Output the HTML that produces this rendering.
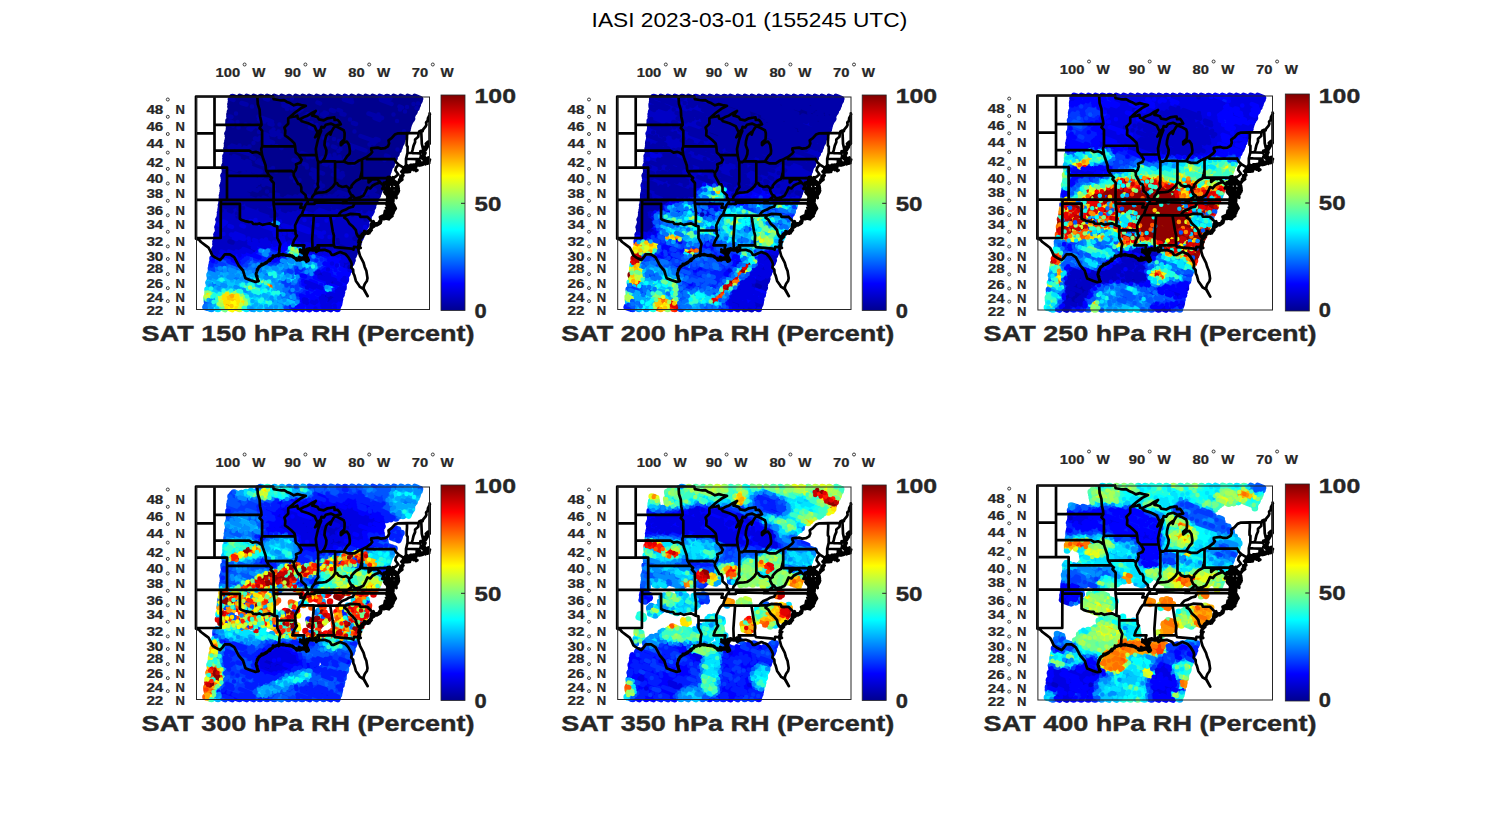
<!DOCTYPE html>
<html><head><meta charset="utf-8"><title>IASI RH</title>
<style>html,body{margin:0;padding:0;background:#fff;}svg{display:block;}text{font-family:"Liberation Sans",sans-serif;}</style></head>
<body>
<svg width="1500" height="825" viewBox="0 0 1500 825">
<defs>
<linearGradient id="jet" x1="0" y1="1" x2="0" y2="0"><stop offset="0" stop-color="#00008f"/><stop offset="0.125" stop-color="#0000ff"/><stop offset="0.375" stop-color="#00ffff"/><stop offset="0.625" stop-color="#ffff00"/><stop offset="0.875" stop-color="#ff0000"/><stop offset="1" stop-color="#800000"/></linearGradient>
<path id="map" d="M0.0 0.0L0.0 142.2M0.0 0.0L74.3 0.0L77.1 0.0M18.5 0.0L18.5 71.1M0.0 36.8L18.5 36.8M18.5 28.4L65.5 28.4M18.5 54.2L53.3 54.2L56.4 56.1L60.2 55.4L62.7 56.3L64.6 57.7L66.1 58.6M0.0 71.1L31.0 71.1M31.0 71.1L31.0 103.4M31.0 79.4L73.4 79.4M0.0 103.4L77.6 103.4M77.6 103.4L194.4 103.4M25.1 103.4L24.8 107.3L24.7 141.5M24.8 107.3L43.9 107.3M43.9 107.3L43.9 122.3M0.0 141.5L24.7 141.5M43.9 122.3L45.8 123.5L48.9 124.6L52.7 125.4L55.8 125.5L57.1 127.3L61.4 127.6L63.3 126.9L66.5 128.4L70.2 127.5L74.0 126.9L78.5 129.2L81.3 129.9M81.3 129.9L81.3 141.5L82.8 144.4L84.3 147.5L83.4 151.7L83.3 155.4L82.5 158.3M77.6 103.4L77.6 107.3L78.8 115.8L78.5 129.2M81.3 133.9L99.3 134.0M77.6 107.3L105.6 107.3L104.3 111.2L108.5 111.2M112.0 103.4L111.6 105.7L110.4 107.3L109.4 108.5L108.5 111.2L106.9 114.7L106.0 117.8L104.7 118.9L102.8 121.2L100.9 125.0L99.1 128.8L99.3 134.0L99.7 137.8L100.9 139.2L97.8 144.4L96.4 148.8M96.4 148.8L108.3 148.8L107.5 151.4L109.1 154.8M110.4 107.3L118.7 107.3L118.7 105.9L146.2 106.5M146.2 106.5L158.8 106.6L195.2 106.9M104.7 118.9L117.9 118.9L134.2 119.1L142.2 119.0L149.9 118.9M158.8 106.6L156.8 110.3L153.0 111.2L149.9 113.1L146.1 114.5L143.9 116.6L142.2 119.0M149.9 118.9L154.6 117.4L162.7 117.8L163.5 118.1L164.3 120.3L171.4 120.4L178.4 127.5M149.9 118.9L148.3 121.2L151.1 123.1L153.3 126.9L157.1 130.3L159.9 133.7L160.5 137.0L162.1 140.0L163.6 141.2M134.2 119.1L136.8 135.0L137.9 139.2L137.6 144.8L137.9 148.8M137.9 148.8L138.8 150.6L155.5 152.1L157.4 153.2L158.0 150.3L162.0 150.9M121.6 148.8L137.9 148.8M121.6 148.8L122.9 151.4L122.1 154.1M117.9 118.9L116.2 142.2L116.6 153.6M112.0 103.4L109.7 101.0L109.7 98.7L105.3 94.7L105.3 90.7L104.1 87.9L102.2 87.5L100.0 83.4L97.8 79.4L97.7 76.2M97.7 76.2L99.7 73.6L100.6 70.3L100.0 67.8L104.4 66.1L105.6 63.2L102.5 58.5M102.5 58.5L99.7 55.9L99.1 49.9L98.4 46.9L95.3 43.8L92.2 41.2L89.0 39.0L89.3 34.1L88.4 31.0L92.2 27.2L92.2 21.9L93.4 21.0M102.5 58.5L120.4 58.6M66.1 49.9L99.1 49.9M70.4 74.6L95.7 74.4L97.7 76.2M66.1 58.6L66.8 61.0L68.3 65.3L69.6 69.0L69.9 72.8L70.4 74.6L73.4 79.4L75.9 81.4L74.6 83.0L77.7 86.5L77.6 103.4M66.1 58.6L65.2 52.5L66.1 49.9L66.1 34.1L63.6 31.5L65.5 28.4L65.2 25.1L64.0 19.7L63.6 13.2L61.8 7.6L61.3 0.0M112.0 103.4L115.7 102.8L116.3 100.2L118.8 97.1L122.3 96.1L126.7 95.9L129.8 95.5L133.6 93.1L137.0 89.9L139.1 86.7L141.1 86.7L142.6 89.1L146.4 90.5L150.5 89.7L153.1 92.1L155.5 90.7L155.5 89.1L158.3 85.9L160.2 84.2L164.0 82.2L165.2 77.7L166.0 74.1M122.1 65.2L122.1 84.7L121.6 87.5L122.3 90.7L119.8 93.9L118.8 97.1M139.1 65.3L139.1 86.7M126.5 64.8L139.1 64.8L139.1 65.3L147.7 65.0M166.0 62.9L166.0 81.6M166.0 81.6L195.7 81.6M156.9 99.2L154.9 98.1L153.0 94.3L153.1 92.1M156.9 99.2L152.4 103.0L146.2 106.5M156.9 99.2L158.8 101.8L161.6 101.4L164.0 100.8L167.4 99.2L169.6 95.1L171.5 90.9L174.3 91.9L176.4 89.3L179.6 87.5L182.9 86.4L183.6 84.9M172.6 81.6L172.6 85.9L175.1 83.7L176.8 82.6L179.0 83.0L180.6 82.2L183.4 85.1L185.0 86.7L187.8 89.1L186.2 92.3L187.8 92.3L188.7 93.5L192.4 95.1M195.7 81.6L196.3 91.8L200.3 91.9M195.7 81.6L196.9 80.7L198.1 81.0M197.2 82.6L198.1 81.0L200.0 79.8L202.2 77.7L199.4 74.0L200.0 71.1L202.5 68.1L200.3 66.1L198.4 62.7M198.4 62.7L170.8 62.7L170.8 60.5M202.5 68.1L207.5 71.1L206.8 73.6L205.3 75.2M209.0 71.1L208.8 70.3L210.0 68.6L210.0 62.3L211.5 56.4L211.6 49.9L210.7 49.1L210.7 45.6L211.0 41.2L211.0 36.7M202.2 36.8L211.0 36.7L222.6 36.7L223.2 35.0L225.2 34.1L226.7 34.6L227.0 33.2L229.5 30.1L230.4 28.3L230.1 26.0L231.7 24.2L232.0 21.5L233.9 17.8M233.6 16.9L233.6 47.3M225.2 34.1L225.5 40.3L225.8 47.3L227.0 52.5L227.6 53.6M222.6 36.7L222.3 40.3L219.1 43.0L219.1 45.6L217.6 49.1L216.6 53.4L216.0 55.5L216.6 56.5M211.5 56.4L216.6 56.5L223.8 56.8L224.5 56.4L226.3 55.3L226.8 55.3M210.0 62.3L214.4 62.5L220.7 62.6L223.3 62.6L223.3 63.6L224.5 65.4L224.9 66.9M220.7 62.6L220.7 67.8L220.3 68.4M77.1 0.0L77.7 2.7L82.5 3.5L85.3 3.8L88.1 3.6L90.9 5.4L94.0 6.6L97.8 8.8L101.6 7.6L105.3 8.5L109.8 9.4L104.1 12.3L99.1 16.0L95.3 19.2L93.4 21.0L99.1 20.0L101.3 19.2L101.9 22.0L104.0 22.7M104.0 22.7L107.8 20.6L111.6 19.2L116.0 16.4L119.8 14.4L117.9 16.9L116.3 19.2L117.9 19.4L121.6 20.6L122.9 22.9L127.9 23.8L131.7 21.8L136.7 21.0L138.3 20.9L138.6 23.5L141.7 23.3L143.6 25.6L144.8 27.9L142.3 28.3L139.5 29.2L134.8 27.1L129.8 28.3L127.9 31.0L125.4 30.4L124.8 32.8L121.6 35.9M121.6 35.9L120.4 33.7L118.5 29.7L114.1 27.6L112.2 26.7L105.8 24.8L104.0 22.7M121.6 35.9L119.1 40.8L122.3 38.1L125.1 34.4L123.5 38.6L122.0 43.0L121.0 47.3L119.8 52.5L120.4 58.6L121.6 64.0L122.1 65.2L124.8 65.7L126.5 64.8M126.5 64.8L128.5 61.9L130.1 57.7L130.4 53.8L128.5 48.6L128.8 44.7L130.1 39.5L131.4 37.7L134.2 35.5L134.5 38.1L135.7 34.6L137.9 31.0L139.5 29.8L143.0 31.2L147.7 33.7L148.6 36.4L148.6 39.0L148.3 43.0L144.8 46.0L144.8 48.6L148.0 46.0L150.8 45.0L153.0 48.2L153.9 54.2L153.6 57.2L151.1 59.8L149.5 62.3L147.7 65.0M147.7 65.0L152.4 66.9L156.8 66.9L158.6 66.9L163.0 64.0L166.0 62.9L168.7 61.5L170.8 60.5L174.9 57.2L176.2 55.5L175.2 53.4L175.2 51.9L181.8 51.1L185.0 52.1L188.7 51.7L191.9 49.9L193.1 46.9L192.5 43.8L195.6 41.7L198.8 38.1L202.2 36.8M0.0 142.2L3.1 143.3L5.0 145.5L8.8 148.4L12.5 151.2L14.4 154.6L16.3 159.0L19.4 161.1L24.1 163.5L26.3 161.1L28.8 157.8L33.9 157.8L38.2 160.7L40.8 165.4L42.6 169.0L47.0 174.0L48.3 178.2L49.5 181.7L54.5 183.8L59.6 185.4L61.8 184.8M61.8 184.8L60.8 180.3L60.2 177.5L61.4 173.3L62.7 171.1L66.5 167.9L69.0 166.5L73.4 164.0L76.5 161.1L77.1 159.7L79.0 159.3L82.5 158.3M62.7 184.5L61.2 182.5L61.2 179.6L59.9 177.8L60.4 175.8L62.0 172.9L62.6 170.5L64.0 169.3L65.2 169.2L65.6 167.3L69.0 167.4L70.6 165.8L72.1 164.6L73.0 163.3L74.1 162.2L76.7 161.6L77.0 159.0L78.5 159.8L80.9 159.1L82.5 158.3M62.3 184.8L61.6 182.1L60.5 180.1L59.9 177.7L60.7 175.1L61.1 172.9L62.4 171.2L63.8 170.1L65.4 168.8L66.6 168.6L69.4 167.1L71.0 166.1L71.7 165.0L74.1 164.2L74.8 162.9L77.0 161.1L77.6 160.2L79.4 159.9L80.7 158.7L82.5 158.3M82.5 158.3L86.5 157.8L90.3 159.1L93.4 159.0L95.3 159.7L98.4 161.5L100.9 162.9L104.1 162.6L106.6 161.9L110.4 163.7L112.2 163.3L110.4 160.8L109.1 158.3L110.4 156.1L109.1 154.8L111.0 153.9L113.5 153.2L116.6 153.6L118.5 153.9L119.1 151.4L119.8 153.2L120.7 154.3L122.1 154.1M82.7 159.5L84.5 157.9L87.0 158.7L88.1 158.1L89.5 158.8L94.1 159.7L96.1 159.2L97.9 160.3L98.2 161.5L100.2 161.7L103.9 163.8L106.5 162.2L108.9 162.8L110.4 162.6L111.5 164.4L111.0 161.0L108.2 157.8L111.2 156.4L109.4 155.2L110.7 152.5L113.7 151.8L116.4 153.8L118.2 153.3L119.9 151.0L119.3 152.6L120.3 155.5L122.1 154.1M82.4 159.0L85.1 158.5L86.9 157.5L88.1 158.0L90.6 158.8L93.8 158.4L95.1 159.3L96.8 160.4L98.9 161.7L100.7 163.8L104.5 163.5L106.5 162.8L108.2 162.7L111.1 164.4L112.7 163.5L110.8 160.2L110.0 158.1L110.8 155.2L109.0 154.6L111.3 153.8L113.8 153.5L116.7 153.6L119.5 153.8L118.4 151.9L120.3 152.6L120.4 153.9L122.1 154.1M102.8 161.9L105.3 162.2L107.2 161.1L110.4 163.7L112.2 163.3L110.4 160.8L109.1 158.3L110.4 156.1L108.2 155.4L106.0 153.6L104.1 155.4L106.0 156.1L107.8 155.7L109.1 154.8M103.6 162.2L107.0 162.8L109.0 161.2L109.2 163.2L111.9 164.7L111.5 164.3L111.2 160.0L110.0 159.3L112.5 154.3L109.2 154.7L107.3 155.7L104.1 152.9L104.7 155.4L105.7 155.1L109.1 154.8M102.9 160.3L104.8 161.5L108.4 160.9L109.1 162.9L110.6 165.2L112.6 164.0L111.7 161.2L108.3 158.6L110.7 155.3L108.1 155.3L104.3 153.4L105.0 155.2L106.5 156.8L108.4 157.5L109.1 154.8M122.1 154.1L124.1 153.7L128.5 153.3L132.3 154.6L133.9 155.4L135.7 158.4L137.9 158.3L141.7 156.5L144.2 155.5L146.7 156.5L149.4 157.5L152.2 160.6L154.9 165.1L155.7 167.6L155.2 171.1L157.1 173.2L157.4 176.8L158.4 178.8L159.9 184.4L162.4 188.0L164.0 190.4L167.5 192.5L171.7 199.7L167.5 191.8L168.0 189.4L168.9 187.2L170.9 184.5L171.5 181.6L170.4 174.6L168.7 170.4L167.5 166.2L164.0 159.3L162.7 154.6L162.0 150.9M162.0 150.9L163.0 146.6L164.0 142.9L164.9 140.7L167.4 138.5L171.2 135.5L173.7 132.9L174.6 131.8L176.2 129.1L178.4 127.5L182.1 127.6L183.1 125.0L186.8 122.0L190.9 122.0L194.4 118.5L197.3 117.1L197.7 114.3L196.9 111.2L195.2 106.9L194.4 104.2M164.7 151.4L162.4 148.7L165.0 145.3L162.8 145.6L162.7 144.1L166.8 140.2L165.7 137.7L167.5 136.2L169.2 137.5L168.3 134.5L173.4 136.7L174.3 133.2L174.7 130.9L175.3 127.0L177.5 124.8L179.1 128.6L180.1 126.9L182.2 126.8L185.2 124.6L183.9 120.5L187.0 119.0L188.5 122.6L191.1 120.6L190.7 119.6L192.1 120.8L194.3 121.2L196.5 119.5L194.3 117.5L198.2 114.3L199.8 111.9L197.4 107.1L193.2 107.5L194.4 104.2M163.4 151.7L163.9 148.0L162.4 145.8L162.6 145.4L163.6 142.1L164.2 139.3L165.1 139.7L167.0 138.4L169.9 136.3L172.0 137.2L174.1 135.4L175.7 133.5L174.4 132.4L178.3 129.8L177.4 128.0L180.9 128.9L184.0 127.0L184.8 126.2L184.1 123.6L186.1 122.6L187.7 122.5L189.1 122.0L192.8 122.8L193.7 121.7L192.0 118.7L193.5 118.0L194.3 116.8L197.3 116.4L198.9 112.8L197.6 112.2L195.2 110.6L196.8 106.9L194.4 104.2M190.6 120.8L191.2 118.9L189.4 118.9L191.9 116.6L194.4 116.2L190.6 115.1L195.0 114.3L195.9 112.0L194.4 111.2L190.0 111.2L193.7 110.0L195.0 108.9L194.4 107.3M187.2 120.1L190.0 122.0L187.8 120.4L189.0 114.3L192.6 113.7L194.7 115.2L192.9 112.8L190.2 115.7L190.7 113.0L194.2 114.6L197.9 110.5L192.2 112.0L191.4 110.2L192.3 112.1L192.4 108.0L190.5 108.3L196.0 109.4L194.4 107.3M190.3 120.5L190.9 118.6L191.6 119.1L192.0 117.8L191.8 117.0L193.3 113.9L192.2 115.1L191.4 112.4L193.4 115.4L193.4 113.3L197.2 112.0L193.6 111.7L191.5 109.6L191.7 111.7L191.0 112.6L192.1 110.5L196.9 107.4L194.4 107.3M194.4 104.2L192.5 103.4L191.2 101.8L192.5 101.0L192.5 99.1L190.0 97.9L192.8 96.3L192.4 95.1L191.9 93.1L191.2 91.5L191.2 88.3L191.5 85.9L193.7 83.4L194.4 83.0L193.7 84.2L193.4 87.5L192.5 89.9L194.1 93.9L195.0 95.5L196.6 95.9L194.7 99.1L194.4 101.0L194.7 102.5L196.9 99.1L199.1 95.3L200.3 91.9L200.0 89.1L198.1 85.1L197.2 82.6M196.9 101.1L193.4 105.2L192.0 106.7L194.1 100.5L193.8 97.5L189.0 97.2L188.6 94.1L190.3 95.5L192.4 97.4L188.2 95.5L195.7 94.1L190.8 88.4L188.0 86.2L195.4 86.9L191.7 80.6L193.8 80.4L191.9 81.9L191.3 85.5L190.9 84.6L189.2 86.6L193.0 87.5L191.3 95.5L191.6 96.4L193.9 97.4L198.1 99.6L193.3 96.4L191.6 96.6L197.7 99.0L197.3 105.1L191.7 100.2L194.9 95.4L200.5 101.5L200.0 97.3L202.3 96.0L202.9 94.1L200.8 89.2L195.0 86.4L197.4 83.9L197.2 82.6M193.0 104.9L190.9 105.7L192.2 100.4L191.5 100.7L192.5 101.9L190.8 98.9L191.9 98.4L193.1 97.4L191.1 97.2L189.9 94.1L191.8 90.6L192.2 88.7L192.5 90.4L193.4 87.5L191.3 85.6L191.1 82.5L196.2 85.2L194.5 85.4L190.4 86.0L195.7 86.9L189.7 91.0L194.9 93.2L196.6 94.1L195.5 92.4L196.5 98.0L195.7 97.9L192.7 99.2L192.6 102.7L191.6 102.1L195.1 100.8L198.0 101.3L201.3 97.7L199.7 96.5L201.7 93.5L202.7 92.4L202.2 89.3L199.4 88.5L196.1 84.0L197.2 82.6M197.2 82.6L198.1 84.2L200.6 85.9L201.6 87.9L204.4 84.2L206.3 81.4L206.6 78.5L206.9 75.7L205.3 75.2L206.8 73.6L208.5 72.4L212.6 71.5L215.7 71.3L217.6 69.9L216.3 71.5L220.1 70.5L216.9 72.2L213.2 73.4L209.4 74.6L206.9 74.6M194.6 84.4L198.3 84.1L199.8 88.4L200.5 88.4L201.2 86.9L206.3 83.1L204.3 80.8L204.5 79.4L206.9 79.0L207.5 79.1L206.6 78.0L207.4 74.1L209.3 71.8L210.7 69.3L211.2 68.7L215.4 73.0L219.6 71.3L214.6 73.0L218.8 72.1L221.4 73.7L219.9 74.5L217.2 71.3L214.2 74.1L213.9 75.4L213.1 73.5L210.7 71.9L206.9 74.6M195.4 83.1L198.5 86.1L201.8 86.2L200.4 88.2L202.9 85.1L203.3 82.9L204.2 83.2L205.9 81.7L206.5 77.4L208.2 73.9L207.3 76.5L208.8 74.8L207.8 72.6L212.3 73.7L211.5 72.2L217.2 72.1L215.3 69.9L217.5 73.5L218.2 70.5L219.4 70.9L217.4 71.3L216.7 72.2L213.6 71.0L212.0 71.6L212.0 75.7L210.1 75.6L206.9 74.6M209.0 71.1L211.9 69.9L213.8 69.0L216.9 68.9L220.3 68.4L222.6 68.0L222.9 67.4L223.5 64.8L223.2 67.4L224.9 66.9L225.7 66.9L227.9 65.3L227.9 66.7L230.1 65.9L232.3 65.5L232.3 64.4L231.7 62.7L230.7 62.1L232.0 62.7L232.0 64.6L228.9 64.6L228.5 63.2L227.6 61.0L225.7 59.8L226.3 59.4L228.2 57.2L226.8 55.3L227.6 53.6L228.5 51.7L230.7 48.6L232.6 47.3L233.6 46.9M210.2 73.3L211.9 69.7L215.4 70.3L216.1 68.6L217.2 68.2L222.0 68.9L221.5 66.7L221.8 65.7L223.3 64.5L221.6 65.2L223.9 69.0L226.2 67.3L228.2 65.9L227.7 64.7L228.9 63.7L233.2 66.5L230.5 65.1L233.4 63.0L230.5 63.0L234.0 63.0L231.8 67.2L229.5 64.8L227.5 62.6L226.8 62.4L224.5 60.6L227.2 61.5L229.5 56.4L224.3 54.9L227.9 53.9L229.4 54.1L231.7 50.2L229.8 47.2L231.9 45.1L233.6 46.9M209.3 72.5L213.3 70.4L214.4 68.3L216.1 68.4L219.1 68.0L220.4 67.1L221.8 68.5L222.6 67.5L223.6 65.7L223.0 69.0L225.1 68.7L227.3 67.9L227.8 64.7L229.5 67.8L229.3 66.4L233.5 64.9L233.2 63.0L232.3 61.0L231.0 61.8L232.0 63.3L231.3 64.1L228.9 64.4L229.8 61.9L228.1 59.5L224.8 58.7L225.4 59.2L227.6 58.7L227.0 54.8L229.2 53.3L228.2 52.7L228.2 50.3L231.2 50.0L232.8 48.1L233.6 46.9" fill="none" stroke="#000" stroke-width="2.7" stroke-linejoin="round" stroke-linecap="round"/>
</defs>
<rect width="1500" height="825" fill="#fff"/>
<text x="749.4" y="27.0" font-size="21.0" font-weight="normal" text-anchor="middle" fill="#000" textLength="315.6" lengthAdjust="spacingAndGlyphs">IASI 2023-03-01 (155245 UTC)</text>
<g transform="translate(196.0,96.5)">
<g fill="none" stroke-linecap="round" stroke-width="6.6"><path stroke="#c6ff39" d="M45 208h0m-31-9h0m-3.5 1.5l1.5 .5m31.5 11.5h0"/><path stroke="#55ffaa" d="M16 197.5h0m-5.5 5.5h0"/><path stroke="#ffff00" d="M37.5 208l2.5 .5m-2 2h0m-10-1h0m5.5 2l2.5 1"/><path stroke="#39ffc6" d="M52.5 208h0m-2 2h0m-27 0h0"/><path stroke="#00aaff" d="M13.5 178.5h0m2 3.5l3 1m63.5 25.5l2.5 1m-72-23.5l1.5 .5m63 23h0m8.5 3h0m-72.5-24h0m57 21h0m-10-1.5h0m5 2h0m-7.5 0h0m5.5 2h0m-10-1h0m4.5 1.5h0m-45-9h0m5.5 5h0m-2 1.5h0m-2 2h0"/><path stroke="#0000c6" d="M173 114l2.5 1m-4.5 1l3.5 1m-3 1.5l1.5 .5m-4 1.5l3.5 1m-1.5 2h0m-3.5 1.5l2.5 1m-2 1.5l2.5 1m-4.5 1h0m.5 2.5l1.5 .5m-3.5 1.5l3 1m-8.5 9.5l2.5 1m-2 2l2.5 1m-2 1.5l.5 .5m-2.5 1.5h0m-2.5 1.5h0m-130.5-42.5l2.5 1m-3 1.5h0m3.5 1.5h0m-4 1l2 .5m126.5 46h0m-128.5-44l2.5 1m126.5 46l2.5 1m-132-45.5l3.5 1m123.5 45l3.5 1.5m-131.5-45.5l2.5 1m-2 2l2.5 .5m-4 4l5 1.5m-4.5 1l2 1m-2 1.5l2.5 1m-4 1.5l4.5 1.5m-4.5 1l2.5 .5m-2 2l2.5 1m-4 1l4.5 1.5m-4.5 1l2.5 1m-2 1.5l2.5 1m-4 1.5l4.5 1.5m-4.5 1l2.5 .5m-3 1.5l3.5 1.5"/><path stroke="#00c6ff" d="M82.5 211.5h0m-4 1h0m-16-3.5h0m8 3h0m-10-1h0m3.5 1.5h0m-43-.5h0"/><path stroke="#0071ff" d="M15 179h0m79 29h0m-7 0h0m-70.5-20.5h0m.5 2.5h0m60.5 22h0m-64.5-5.5l2.5 1m-4.5 1h0m-1.5 2l1.5 .5"/><path stroke="#00ffff" d="M14 184l2 .5m56 23h0m-59-14h0m1.5 8.5h0m6 7.5h0m-2 1.5h0"/><path stroke="#001cff" d="M16.5 162h0m1 2.5l2.5 1m-4 1h0m-.5 2.5h0m93.5 39h0m.5 3h0m-15-.5h0"/><path stroke="#71ff8e" d="M45.5 210.5h0m-19.5 .5l3 1.5"/><path stroke="#1cffe3" d="M15 192h0m33 19.5h0"/><path stroke="#0055ff" d="M19.5 163h0m-1 7h0m.5 3h0m-4 1h0m86.5 34h0m-12 1l2.5 .5m-4.5 1h0m5 2h0m-81.5-7h0"/><path stroke="#ff8e00" d="M30 207.5l3 1"/><path stroke="#0000aa" d="M222 7h0m-4.5 .5h0m-25.5-6.5l2.5 1m26 9.5h0m-36.5-11l8.5 3m-7.5 0l5 2m-41-5l1 .5m5.5 2h0m-7.5 0l5 1.5m55 30.5h0m-112-33h0m-27 0l3 1m129.5 50h0m-165-52.5h0m-1.5 2l2.5 1m-4 16.5l2 .5m-1.5 4.5l2.5 1m-4 1l4.5 2m143 69.5l1.5 1m-1.5 2h0m-146.5-51h0m142.5 52h0m3.5 1h0m-3 1.5l1.5 .5m-146-50.5h0m142 52l3.5 1m-146.5-51h0m143.5 52.5l2.5 1m-147.5-51l3.5 1m139.5 51l3 1m-146-50.5l4 1.5m-4 1l4.5 1.5m-4 1l2 1m.5 2.5h0m-4 1h0m141 51.5h0m-136-47h0m-2 2h0m-4 1l4.5 1.5m-4 1l4.5 2m-4.5 .5l2 1m-2.5 1.5l3 1.5m134.5 48.5l1 .5m-139.5-48l2 .5m134 49l3 1m-138.5-48l2 1m131.5 47.5l4 1.5m-137.5-47.5l2.5 1m131.5 48l2 .5m-136.5-47l3.5 1m132.5 48.5h0m-136.5-47l4.5 1.5m-4.5 1l2.5 1m-3 1.5l3.5 1m131.5 48h0m-135-46.5l4 1m128.5 47l1 .5m-134-46.5l2 1m129 47l2.5 .5m-4.5 1l3.5 1.5m-132-45.5h0m129 47l1.5 .5m-1 2l1.5 .5m-3 6.5h0"/><path stroke="#00e3ff" d="M74.5 208.5h0m-7.5 0h0m5.5 2h0m-59.5-19.5h0m54.5 20h0m-56-18h0m4 1.5h0m39.5 14.5h0m-4.5 3.5h0m-28.5 0h0"/><path stroke="#ffc600" d="M35.5 209.5h0"/><path stroke="#0039ff" d="M18 167.5h0m-3 4l1.5 .5m.5 2.5h0m73 37h0"/><path stroke="#ffe300" d="M12 198.5h0m28.5 13h0m-10-1h0"/><path stroke="#0000ff" d="M149 171.5l2.5 1m-2 2l2.5 1m-2 1.5l1.5 .5m-3.5 1.5l2 1m-4 1h0m4 1.5h0m-3 3.5l1 .5m-.5 2.5h0m-2.5 1.5h0m-126-30.5h0m124.5 45.5h0m-3 1.5l2.5 1m-126-43.5h0m119 43.5h0m5 1.5l1 .5m-5.5 .5h0m5 2h0m-17.5-4h0m-7.5 0l7.5 2.5m-12.5-2l5.5 2m3.5 1.5h0m-16.5-3.5l3 1m5 2l1.5 .5m-14-2.5l7 2.5m-9-1l2 1"/><path stroke="#8eff71" d="M11.5 196l2 .5m34 12.5h0"/><path stroke="#e3ff1c" d="M43 209.5h0"/><path stroke="#aaff55" d="M23 207.5l2.5 1"/><path stroke="#008eff" d="M14.5 176.5l3 1m.5 2.5h0m79 29h0m-83-27.5h0m66 29h0m-65.5-21.5h0m60.5 22h0m-4 1.5h0m-15.5-.5h0m-40.5-7.5h0m-1.5 4.5h0m2 3.5h0"/><path stroke="#0000e3" d="M169 130.5h0m-18 39.5h0m2.5 3.5h0m-131-45.5l3.5 1.5m122.5 52h0m-2 2l3 1m-5 3.5h0m3 3.5h0m-4.5 1l3 1m-2.5 1.5l2.5 1m-2 2l1.5 .5m-3.5 1.5l2 .5m-4.5 1l4.5 1.5m-126-43h0m122 44.5h0m-1.5 4.5h0m-12.5-2.5l8 3m5 2h0m-12.5-2l8 3m-7 0h0m-8-.5h0"/><path stroke="#00008e" d="M219 .5l5 2m-12-2l11.5 4m-18.5-4l15 5.5m-22-5.5l12 4.5m10.5 3.5l1 .5m-30.5-8.5h0m6 2.5l5.5 1.5m15.5 6h0m-23-6h0m21 7.5l3 1.5m-42-13l5.5 2m34 12.5l2 .5m-48.5-15l13 4.5m31.5 11.5l2.5 1m-54-17l12.5 4.5m39.5 14.5l1 .5m-60-19.5l12 4.5m45 16.5l3 1m-63.5-20.5h0m5.5 2l2.5 1m53 19l1 .5m-72.5-24l3.5 1.5m65.5 24l2.5 .5m-78.5-26l11 4m63 23l3.5 1.5m-84.5-28.5l13 5m68.5 25l2.5 .5m-91-30.5l12.5 4.5m76.5 28l1.5 .5m-98-33l13 4.5m83 30.5h0m-102.5-35l12 4.5m86.5 31.5l3.5 1.5m-109-37.5l11.5 4.5m94.5 34.5l2.5 .5m-115.5-39.5h0m6 2.5l5 1.5m100 36.5l3 1m-121-41.5l13.5 5m105 38.5l1.5 .5m-127.5-44l16 6m108 39l3 1m-134-46l13 4.5m118.5 43.5l1 .5m-139.5-48.5l2 .5m8 3l2.5 1m124 45l2.5 1m-145.5-50.5l11.5 4.5m129 47h0m4 1.5h0m-151.5-53l11.5 4.5m136.5 49.5l2 1m-157-55l11 4m142 52l3.5 1m-161-56l10.5 4m147.5 53.5l1.5 .5m-159-55l3 1m152.5 55.5l3 1m-163.5-57l3 1m158 57.5l1.5 .5m-163-56.5l4 1.5m155 56.5l2.5 1m-161.5-56.5l4.5 1.5m152.5 55.5l4 1.5m-160.5-56l2 1m155 56.5l2 .5m-160-55.5l3.5 1m152.5 55.5l3 1.5m-159.5-55.5l4.5 1.5m152.5 55.5l2 .5m-154-53.5h0m150 54.5l3 1.5m-157.5-55l2 1m153 55.5l1.5 .5m-158-55h0m154 56l3 1m-2.5 2l1 .5m-155-54l2 .5m150 54.5l2.5 1m-154.5-53.5l2.5 1m147.5 53.5l4 1.5m-154.5-53.5l3.5 1m147.5 53.5l1.5 1m-153.5-53.5l2.5 1m147 53.5l3.5 1m-152.5-53l2.5 1m147 53.5l1.5 1m-151-52.5l3 1m144.5 52.5l3 1m-151-52.5l4 1.5m-4.5 1l2 1m145 52.5h0m-147-51h0m147.5 54h0m-148-51.5l3.5 1.5m-3.5 1h0m4 1.5h0m-2 2h0m-4 11l1.5 .5m.5 3l2.5 1m-4 1l2 .5m-2 2h0"/></g><g fill="none" stroke-linecap="round" stroke-width="4.5"><path stroke="#ff8e00" d="M33.5 198.5h0m5.5 5h0m-9 4l3 1"/><path stroke="#ff7100" d="M74 190.5l2.5 1"/><path stroke="#00ffff" d="M92 156h0m19.5 12.5h0m.5 2.5h0m-13.5 8h0m-20.5-5h0m-2 2h0m-4.5 .5h0m5 2h0m-6.5 5.5h0m-15-3l2.5 1m.5 2.5h0m10.5 4h0m6 4.5h0m-7.5 0h0m5 2l2.5 1m-46.5-14.5h0m15.5 5.5h0m21 7.5l5.5 2m5 2l3 1m-55-17.5h0m5.5 2h0m15.5 5.5h0m21 8h0m-51-13.5l2 .5m40 17.5h0m5.5 1.5h0m5 2l5.5 2m-18-4h0m10.5 4h0m-39-11.5h0m-12.5-2.5h0m5 2h0m1 5.5h0m-4.5 1h0m6 7.5h0m-2 1.5h0"/><path stroke="#ffff00" d="M43.5 199.5h0m1 5.5h0m-10-1l5 2m-12.5-2h0m8 3l5 1.5m-2 2h0m-10-1h0m5.5 2l2.5 1"/><path stroke="#71ff8e" d="M99.5 156.5h0m-2 1.5h0m-29.5 27.5h0m-8.5 7.5h0m-11 6h0m-18-4h0m15 15.5h0m-19.5 .5l3 1.5"/><path stroke="#0055ff" d="M76.5 125h0m3.5 3.5h0m26.5 25h0m16 8.5h0m.5 3h0m-33.5-10h0m21 8h0m5.5 2l2.5 .5m8 3h0m-44.5-13.5h0m26.5 9.5h0m13 5l2.5 1m-49.5-15.5h0m47.5 17h0m-57-15.5h0m8 3h0m37 13.5h0m-41.5-13h0m39.5 14.5h0m5 2h0m-20.5-5l5.5 2m5 2l5.5 2m-52.5-16.5h0m21 7.5h0m13.5 5h0m47 17h0m-81-27h0m8 3h0m23.5 8.5l3 1m13 5h0m31.5 11.5h0m-78.5-26h0m31.5 11.5h0m39.5 14h0m-75.5-25l2.5 1m-2 2h0m5 2l3 1m-36.5-11l5 2m21 7.5h0m47.5 17.5h0m5.5 2h0m-84-28h0m5.5 2l10.5 3.5m5 2h0m8 3h0m8 3h0m29 10.5l2.5 1m5.5 2h0m5 1.5h0m5.5 2h0m-73.5-24h0m5.5 2h0m5 2h0m60.5 22h0m-78-26h0m68 25h0m-73-24.5h0m13 5h0m55.5 20l2.5 1m5.5 2h0m5 2h0m-81-27l2.5 1m68.5 25h0m-75-25h0m73 26.5h0m5 2l5.5 2m5 2h0m-2 1.5h0m-12 1l2.5 .5m-4.5 1h0m5 2h0m-73-24h0m-8.5 17h0"/><path stroke="#00e3ff" d="M109 167.5h0m5 2h0m-4.5 .5h0m-18-4h0m5.5 2h0m38 21.5h0m-49-12.5h0m13 4.5h0m-15-3h0m8 3l5 2m-2 2h0m-12.5-2.5h0m-15 0h0m-1.5 4.5h0m5 2h0m-4.5 .5l2.5 1m16 6h0m-36.5-11h0m13 5l2.5 1m16 5.5l2.5 1m-35.5-8l2.5 1m31.5 11.5h0m-60-19l5 2m5.5 1.5h0m26.5 10h0m-26-7h0m16 5.5l2.5 1m10.5 4l2.5 1m5.5 2h0m-36.5-11h0m21 8h0m5.5 1.5h0m15.5 6h0m-7.5 0h0m5.5 2h0m-59.5-19.5h0m41.5 15.5l2.5 .5m10.5 4h0m-56-18h0m4 1.5h0m5.5 2h0m34 12.5h0m-4.5 3.5h0m-28.5 0h0"/><path stroke="#55ffaa" d="M101 152h0m-4 3.5h0m-26.5 31h0m-21.5 2.5l2.5 1m-11.5 3.5h0m11.5 9h0m-25.5-4h0m-10-1h0m5.5 2h0m1 5.5h0m-12-2h0"/><path stroke="#ffc600" d="M73.5 187.5h0m-35 10.5h0m-7 2.5l5 2m-4.5 .5h0m3.5 6.5h0"/><path stroke="#ff5500" d="M76 188.5h0"/><path stroke="#39ffc6" d="M104.5 155.5h0m-10-1h0m-34.5 28.5h0m19.5 12h0m-20.5-5h0m3 3.5h0m-7.5 0h0m17 11.5h0m-19.5 .5h0m.5 2.5h0m-2 2h0m-28.5-8h0m-2.5 2h0m.5 2.5h0m3.5 3.5h0"/><path stroke="#0071ff" d="M115 159.5h0m5 1.5h0m-28.5-7.5h0m11 6.5h0m18.5 6.5h0m-20.5-5h0m10.5 4h0m-41.5-12.5h0m21 7.5l2.5 1m-20.5-5h0m18.5 7h0m23.5 8.5h0m-15-3l2.5 1m10.5 4h0m-20.5-5h0m5.5 2h0m-15.5-3h0m-2 1.5h0m7.5 3h0m11 3.5h0m34 12.5h0m-70.5-23h0m8 3l5 2m10.5 3.5h0m8 3l2.5 1m-41.5-12.5h0m5.5 2h0m36.5 13h0m5.5 2h0m-41.5-12.5l5 2m-10-1h0m8 3l2.5 .5m23.5 9h0m8 2.5l2.5 1m-52-16.5h0m5.5 2l5 2m5.5 2h0m5 2l3 1m13 4.5h0m10.5 4h0m10.5 4h0m-68-22.5h0m5.5 2l2.5 1m5 2h0m8 3h0m24 8.5h0m-49.5-15.5h0m5 2h0m5.5 2h0m44.5 16l5.5 2m5 2h0m-73-24h0m5 1.5h0m55.5 20.5l2.5 1m-68-22.5h0m5.5 2h0m10.5 4h0m44.5 16h0m10.5 4h0m-67.5-22l2.5 1m13 4.5l2.5 1m50 18h0m8 3l2.5 1m-83.5-28h0m18.5 7l2.5 1m45 16h0m5 2h0m-4.5 1h0m-71-23.5h0m79 29h0m-12.5-2l5.5 2m-70.5-20.5h0m5.5 2l2.5 1m-7.5-.5h0m60.5 22h0m-64.5-5.5l2.5 1m-4.5 1h0m-1.5 2l1.5 .5"/><path stroke="#0039ff" d="M81.5 124h0m35.5 33.5h0m8 3l2.5 1m-18-4l2.5 1m16 5.5h0m-20.5-5l2.5 1m5.5 2l2.5 1m8 3h0m-18-4h0m5 2h0m10.5 3.5h0m-49.5-15.5h0m11 4h0m-18-4h0m10.5 4l2.5 1m-5 .5l3 1m10.5 4h0m31.5 11.5h0m-57.5-18.5h0m45 16.5h0m-44.5-13.5l2.5 1m5.5 1.5h0m15.5 6h0m13.5 4.5h0m-28.5-7.5h0m8 3h0m31.5 11.5l2.5 .5m-60-19h0m10.5 4h0m5.5 1.5l5 2m18.5 7l2.5 1m-41.5-13h0m5.5 2h0m68 25h0m-75.5-25h0m52.5 19h0m-55-17.5h0m53 19.5h0m-55-17.5l2.5 1m53 19h0m-81-27h0m23.5 9h0m42 15l5.5 2m7.5 3h0m8 3l2.5 .5m-88.5-29.5h0m68 25h0m5.5 1.5h0m5 2h0m5.5 2h0m-83.5-28l5 2m76.5 28h0m-86.5-29l2.5 1m74 26.5l5 2m3 4h0m-87.5-29.5l1.5 .5m.5 2.5h0m73 37h0"/><path stroke="#001cff" d="M74.5 126.5h0m29 23.5h0m31.5 11.5h0m-15.5-3l2.5 1m8 3h0m13.5 4.5h0m-52.5-16.5h0m34.5 12.5h0m5 2l3 1m10.5 4h0m-31.5-9h0m8 3h0m21 7.5h0m-36-10.5h0m23.5 8.5h0m5.5 2l2.5 1m5 2l3 1m-68-22.5l2.5 1m8 3l2.5 1m37 13.5h0m10.5 3.5l2.5 1m-57.5-18h0m5.5 1.5h0m36.5 13.5h0m13.5 5l2.5 1m-78.5-26h0m23.5 8.5h0m-10-1h0m42.5 15h0m-57.5-18h0m13 4.5h0m8 3l2.5 1m18.5 6.5l2.5 1m13.5 5h0m-52.5-16.5l3 1m5 2l2.5 1m24 8.5h0m15.5 5.5h0m26.5 10h0m-91.5-31h0m8 3l2.5 1m5 1.5h0m34.5 12.5l2.5 1m8 3l15.5 6m-78-26l2.5 .5m55 20.5l5.5 2m10.5 3.5h0m15.5 6h0m-99.5-34l3 1m5 2l2.5 1m87 31.5h0m-91.5-30.5l2.5 1m58 21h0m-76-25l5.5 1.5m10.5 4h0m60.5 22l2.5 1m10.5 4h0m-86-29l10.5 4m71 25.5l2.5 1m-100-33.5h0m92.5 33.5h0m5.5 2h0m5 2l3 1m-105-36l2.5 1m87 32l2.5 .5m-93.5-31.5h0m86 31.5h0m10.5 4h0m-97-33h0m93.5 39h0m.5 3h0m-15-.5h0"/><path stroke="#0000ff" d="M144.5 160h0m-10-1.5l10.5 4m-55-17.5h0m5.5 2h0m5 2h0m26.5 9.5l5.5 2m5 2l5.5 2m-55-17.5l5.5 2m18 6.5l3 1m18.5 7l7.5 2.5m-54.5-17l2.5 .5m18.5 7h0m31.5 11.5h0m8 3l5 1.5m-75.5-25h0m5 2l8 3m39.5 14.5l10.5 3.5m5.5 2l7.5 3m-75.5-25l10.5 3.5m44.5 16.5h0m8 3h0m8 2.5l4 1.5m-80-26.5h0m58 21.5h0m5 1.5h0m8 3l7.5 3m-88.5-30l2.5 1m21.5 7.5h0m42 15.5l7.5 3m8 3l3 1m4 1.5h0m-67-22h0m42 15.5h0m10.5 3.5l8 3m-83.5-28h0m18.5 7l5 1.5m58 21.5l6.5 2m-90-30h0m18 6.5l3 1m42 15.5h0m26.5 9.5h0m-97-32.5l13 4.5m55.5 20l10.5 4m5 2l5.5 2m5 1.5h0m-99.5-33.5l3 1m57.5 21l3 1m21 7.5h0m10.5 4h0m-99.5-33.5h0m5 2h0m68.5 24.5l5.5 2m5 2h0m-94-31.5h0m5 1.5h0m8 3h0m63 23h0m31.5 11.5h0m-110-37.5l5.5 2m5 2l3 1m65.5 24l3 1m10.5 3.5l10.5 4m-105-35.5h0m10.5 3.5l5.5 2m71 26l2.5 1m5.5 2l7.5 2.5m-110-37.5h0m100 36.5l5.5 2m19 7h0m-32-9h0m5.5 2h0m21 7.5l5 2m-126-43.5h0m95 34.5l11 4m7.5 3h0m5.5 2h0m5 1.5l1 .5m-37-11l5 2m5.5 2l2.5 1m5.5 2h0m13 4.5h0m5 2h0m-36-10.5h0m7.5 2.5h0m8 3l3 1m-18-4h0m7.5 3l10.5 3.5m-17.5-3.5h0m5 1.5l5.5 2m3.5 1.5h0m-16.5-3.5l3 1m5 2l1.5 .5m-14-2.5l7 2.5m-9-1l2 1"/><path stroke="#e3ff1c" d="M101.5 154.5h0m-58.5 42.5h0m-7.5 0h0m10.5 3.5h0m-2 2l2.5 1m-22-.5h0m18.5 6.5h0"/><path stroke="#0000c6" d="M173 114l2.5 1m-28.5-8l8 3m10.5 4h0m5.5 2l3.5 1m-34.5-10h0m15.5 6h0m5.5 1.5l12 4.5m-14.5-2.5l3 1m5 2l6 2m-37-11h0m5.5 2l2.5 1m8 3l2.5 1m5 1.5l8 3m4 1.5h0m-56-18h0m21 8l34 12.5m-128-44.5h0m81.5 30l47 17m-49.5-15.5l45 16.5m-47-14.5l16 5.5m5 2l28 10m-61.5-19.5l61 22m-66-21.5l5.5 2m5 2l16 5.5m5 2l29 10.5m-65-21l63 23m-83.5-28h0m7.5 3h0m8 3l66 23.5m-86.5-28.5l34.5 12.5m5 1.5l2.5 1m5.5 2h0m5 2l24 8.5m5 2l3 1m-76-25l81.5 29.5m-112.5-38.5h0m13 5h0m21 7.5l42 15.5m5.5 2l31.5 11.5m-115-39.5l26 9.5m5.5 2l18 6.5m18.5 7h0m13.5 4.5l2.5 1m5 2l3 1m5 2l16.5 6m-129-44.5h0m13 4.5h0m5.5 2l26 9.5m10.5 4l8 3m21 7.5l5.5 2m8 3l10.5 3.5m5 2l13.5 5m-118-40.5h0m5 2l29 10.5m10.5 4h0m10.5 3.5l47.5 17.5m8 3l5 1.5m-123-42h0m5 2l34.5 12.5m10.5 3.5l8 3m5 2l37 13.5m8 2.5h0m-115.5-39.5l5.5 2m7.5 3h0m5.5 2l13 5m5.5 1.5l5 2m8 3l5.5 2m5 2h0m5.5 1.5h0m5 2l47.5 17.5m-119-41h0m3.5 1.5l10.5 4m5.5 1.5l8 3m13 5h0m16 5.5l5 2m5.5 2h0m7.5 3l21.5 7.5m5 2h0m5.5 2l5 1.5m5.5 2l10.5 4m-128-44l52 19m10.5 4l21 7.5m8 3l18.5 6.5m18.5 6.5h0m-128.5-44l52.5 19m5.5 2l2.5 1m5 2l5.5 2m10.5 3.5l21 8m26.5 9.5l2.5 1m-132-45.5l19.5 7m7.5 3l29 10.5m29 10.5h0m39.5 14.5l6 2m-131.5-45.5l2.5 1m8 3l47 17m68.5 25h0m-125.5-43l2.5 .5m5 2h0m8 3l29 10.5m5 2l3 1m-47-14.5l34 12.5m-41-12.5l15.5 5.5m13 5h0m5.5 1.5h0m7.5 3h0m-41-12.5l10 4m18.5 6.5h0m5.5 2h0m-34-10l2.5 1m5.5 2l5.5 2m7.5 3l8 3m-30.5-8.5l33.5 12m-33.5-9.5l10.5 3.5m8 3l18.5 6.5m65.5 24l5.5 2m-107.5-36.5l23.5 8.5m92 33.5h0m-117-40l23 8.5m-23-6l18 6.5m-17.5-4l10.5 4m-12-1.5l4.5 1.5m-4.5 1l5 1.5m-5.5 .5l3.5 1.5m113 41l2.5 1m-7.5 0l5.5 2m-2 1.5h0"/><path stroke="#8eff71" d="M99 153.5h0m3 3.5h0m-7 0h0m-29.5 27.5h0m-8.5 7.5h0m-19 3l2.5 1m5 2h0m-12.5-2h0m16 5.5h0m-21-5h0m21.5 8h0m-38-8.5l2 .5m34 12.5h0"/><path stroke="#00c6ff" d="M96 150h0m7 12.5l3 1m10.5 4h0m-10-1h0m13 4.5h0m-52-16h0m31.5 11.5h0m8 2.5h0m-13-2h0m-18.5 6h0m55.5 20l2.5 1m-62.5-20l2.5 1m8 2.5h0m5 2h0m-2 2h0m-25-1.5h0m5.5 2h0m10.5 4h0m-28.5-8h0m5 2h0m26.5 9.5h0m-18-4h0m-4.5 1l2.5 1m18.5 6.5h0m10.5 4h0m-60-19.5h0m23.5 8.5h0m-28.5-7.5h0m8 2.5l2.5 1m5.5 2h0m34 12.5h0m8 3h0m10.5 4l8 2.5m-68-22l10.5 4m31.5 11.5h0m5.5 1.5h0m10.5 4h0m-55-17.5l3 1m18 7h0m10.5 3.5h0m5.5 2h0m-52-16.5h0m18.5 7h0m21 7.5h0m18 6.5h0m-46.5-14.5h0m52.5 19.5h0m-23-6l2.5 1m16.5 6h0m-61-19.5l5.5 2m39.5 14h0m8 3h0m-10-1h0m3.5 1.5h0m-43-.5h0"/><path stroke="#0000e3" d="M169 130.5h0m-31.5-9h0m-28-5h0m21 7.5h0m-22-.5h0m8 3h0m5 2h0m29 10.5h0m-22.5-3h0m-28.5-8l13 5m5.5 2l7.5 2.5m8 3h0m-54.5-17.5h0m5 2h0m13 5l16 5.5m10.5 4l2.5 1m-39-11.5l5.5 1.5m.5 3h0m-33.5-10h0m10.5 4l2.5 1m10.5 4h0m5 2h0m5.5 1.5h0m-39-11.5l8 3m5 2l10.5 3.5m10.5 4h0m5.5 2l2.5 1m42 15h0m-60-19l5.5 2m26 9.5l3 1m23.5 8.5l5.5 2m5 2l2.5 1m-70.5-23.5h0m8 3h0m10.5 4l5.5 2m26 9.5l3 1m15.5 5.5l2.5 1m-104.5-35.5l2.5 1m34.5 12.5l5 1.5m5.5 2h0m5 2h0m8 3h0m5 2l13.5 4.5m21 8h0m-118-40.5l2.5 1m53 19l2.5 1m23.5 8.5h0m37 13.5h0m5 2h0m-123-42.5h0m5.5 2l2.5 1m34 12.5h0m8 3l5.5 2m52.5 19h0m5 2h0m12.5 4.5h0m-131-45.5l3.5 1.5m39.5 14.5l7.5 2.5m5.5 2h0m-39-11.5l8 3m5 2h0m5.5 1.5l2.5 1m5.5 2l7.5 3m-38.5-11.5l13 4.5m5 2h0m5.5 2l10.5 4m63 22.5h0m-104.5-35.5h0m10.5 4l2.5 1m13 4.5l5.5 2m89.5 32.5h0m-91.5-30.5l2.5 1m21 7.5h0m42 15.5h0m5.5 2l5 1.5m13.5 5l3 1m-29-8h0m10.5 4l8 3m-91.5-31l7.5 3m68.5 25l10.5 3.5m5.5 2l5 2m-99.5-33.5l3 1m84 30.5h0m15.5 5.5h0m-107-36.5l2.5 1m100 36.5l3 1m-113-38.5l5 2m5.5 2h0m97.5 35.5l5 1.5m-120.5-41l2.5 1m5.5 2h0m76.5 27.5l15.5 6m16 5.5l4 1.5m-119.5-41h0m10.5 4h0m76.5 27.5l5 2m16 6l10 3.5m-120-41h0m87 31.5h0m21 7.5h0m7.5 3l4.5 1.5m-126-43h0m109 39.5h0m10.5 4l2.5 1m-15-3l5 1.5m5.5 2h0m-10-1l2.5 1m5.5 2h0m5 2h0m-18-4h0m5.5 1.5l8 3m5 2h0m-31-8.5l2.5 .5m5.5 2l2.5 1m8 3l8 3m-26-7l2.5 1m16.5 6h0m-8-.5h0"/><path stroke="#ffe300" d="M41 199h0m-10-1.5h0m7.5 3l3 1m-13-2h0m13.5 4.5h0m5 2h0m-20.5-5l2.5 1m13.5 5h0m-30.5-8.5h0m17.5 6.5l3 1m-5 .5h0m13 5h0m-10-1h0"/><path stroke="#c6ff39" d="M24 200.5h0m21 7.5h0m-31-9h0m-3.5 1.5l1.5 .5m13 4.5h0m18.5 7h0"/><path stroke="#00aaff" d="M79.5 126l2.5 1m22 25.5h0m-11.5 6.5h0m5.5 2h0m21 7.5h0m-20.5-5h0m19 9.5h0m-23-3h0m-7.5-.5h0m-4.5 1l2.5 1m-2 1.5h0m50 18.5h0m-65.5-21.5h0m5.5 2h0m8 3h0m13 5h0m-26-7h0m21 7.5h0m-7 0h0m5 2h0m-20.5-5h0m10.5 4l2.5 .5m-17.5-3.5l5 1.5m8 3h0m5 2h0m-31-9h0m5.5 2l2.5 1m5 2h0m16 6h0m5.5 1.5h0m-55-17h0m13 4.5l3 1m5 2h0m-10-1h0m5.5 2h0m5 1.5h0m5.5 2h0m23.5 8.5h0m-49.5-15l2.5 .5m16 6h0m5 2h0m8 3h0m10.5 3.5h0m24 8.5h0m-70.5-23h0m5 2h0m13 5l3 .5m-10-1h0m5 2h0m-27.5-7.5h0m54.5 20l2.5 1m13 4.5l3 1m5 2h0m-76-25l3 1m10.5 3.5h0m15.5 6h0m8 3h0m8 2.5l2.5 1m5.5 2h0m5 2h0m5.5 2h0m-57.5-18.5l2.5 1m10.5 4h0m18.5 6.5l2.5 1m24 8.5l5 2m-72-23.5l1.5 .5m13 4.5h0m50 18.5h0m8.5 3h0m-72.5-24h0m7 2.5h0m5 2h0m31.5 11.5h0m13.5 5h0m-10-1.5h0m5 2h0m-7.5 0h0m5.5 2h0m-10-1h0m4.5 1.5h0m-40.5-9.5h0m-4.5 .5h0m5.5 5h0m-2 1.5h0m-2 2h0"/><path stroke="#00008e" d="M219 .5l5 2m-12-2l11.5 4m-18.5-4l15 5.5m-22-5.5l17 6.5m5.5 1.5l1 .5m-30.5-8.5h0m6 2.5l21 7.5m-23-6l13 5m5.5 2l5.5 2m-42-13l5.5 2m15.5 6l3 .5m7.5 3l10 3.5m-48.5-15l31 11.5m5.5 2h0m5.5 2l5 1.5m-54-17l53 19.5m-60-19.5l60 22m-63.5-20.5h0m5.5 2l37 13.5m5 1.5l14.5 5.5m-72.5-24l3.5 1.5m13 4.5l55 20m-78.5-26l45 16.5m5.5 2l13 4.5m5 2l9 3.5m-84.5-28.5l42 15.5m18.5 6.5l23.5 8.5m-91-30.5l55 20m10.5 4l25 9m-98-33l91.5 33.5m4.5 1.5h0m-102.5-35l12 4.5m8 3l13 4.5m8 3l61 22.5m-109-37.5l32.5 12m8 3l2.5 1m8 2.5l57.5 21m-115.5-39.5h0m6 2.5l52.5 19m5 2l50.5 18m-121-41.5l39.5 14.5m8 3l21 7.5m8 3l43.5 16m-127.5-44l39.5 14.5m5.5 2h0m8 2.5l8 3m5 2l61 22m-134-46l13 4.5m23.5 9l96 35m-139.5-48.5l2 .5m8 3l10.5 4m8 3h0m5 1.5l3 1m5 2l2.5 1m5.5 2l42 15.5m5.5 1.5l15.5 6m8 3l18.5 6.5m-145.5-50.5l30 11m5.5 2l13 5m8 2.5l47.5 17.5m21 7.5l15.5 6m4 1.5h0m-151.5-53l122 44.5m7.5 3l20.5 7.5m-157-55l50.5 18.5m5 2l5.5 2m5 2l3 .5m5 2h0m5.5 2l47 17.5m5.5 1.5l24.5 9m-161-56l79 29m5.5 2l75 27m-159-55l3 1m10.5 3.5h0m5 2l52.5 19m8 3l68.5 25m8 3l3 1m-163.5-57l100.5 36.5m5 2h0m5.5 2h0m5 2h0m21 7.5l25.5 9m-163-56.5l91 33m7.5 3l18.5 6.5m8 3l26.5 9.5m5 2l5 2m-161.5-56.5l25.5 9.5m18.5 6.5l2.5 1m5.5 2l109 39.5m-160.5-56l25.5 9.5m10.5 4h0m8 2.5l50 18.5m5 2h0m8 2.5h0m5.5 2l46.5 17m-160-55.5l3.5 1m5 2l97.5 35.5m5 2l48 17.5m-159.5-55.5l41 15m5.5 1.5h0m5 2l107.5 39m-154-53.5l15.5 6m10.5 3.5l8 3m16 6l47 17m5.5 2h0m5 2h0m5.5 2l5 1.5m5.5 2l29.5 11m-157.5-55l5 2m5 2l2.5 .5m5.5 2h0m8 3l13 5m8 2.5h0m5 2l45 16.5m5 2h0m10.5 3.5l8 3m5.5 2l30.5 11m-158-55h0m7 2.5l10.5 4m7.5 3l3 .5m5 2h0m8 3l55.5 20m15.5 6l45 16m-149.5-51.5h0m5 1.5l21 8m8 3l50 18m5.5 2l58.5 21.5m-155-54l28.5 10m18.5 7l23.5 8.5m15.5 6l3 .5m18.5 7l47 17m-154.5-53.5l23.5 8.5m8 3l2.5 1m8 2.5l2.5 1m5.5 2h0m5 2l21 7.5m5.5 2l10.5 4m8 3h0m5 1.5l29 10.5m5.5 2l14.5 5.5m-154.5-53.5l103.5 37.5m8 3h0m5 2l36 13m-153.5-53.5l23.5 8.5m5 2l79 28.5m10.5 4l35 12.5m-152.5-53l63 23m8 3l2.5 1m8 3l21 7.5m13 5l26.5 9.5m7.5 2.5l1.5 1m-151-52.5l18.5 6.5m5.5 2l52.5 19m5.5 2h0m7.5 3h0m8 3l42 15m8 3l3 1m-151-52.5l9 3.5m5.5 2h0m8 3l63 23m8 2.5l44.5 16.5m-138.5-48l2 1m24 8.5l55 20m10.5 4l42.5 15m7.5 3h0m5.5 2h0m-147-51h0m8 3h0m18.5 6.5l58 21.5m7.5 2.5l50 18.5m5.5 2h0m-148-51.5l22 8m8 3h0m5.5 2l52.5 19m8 3l39.5 14m-135.5-46.5h0m4 1.5l24 8.5m10.5 4l5 2m5.5 2l42 15m8 3l10.5 4m16 5.5l5 2m-128.5-44l2.5 1m10.5 3.5l3 1m8 3l15.5 5.5m5.5 2h0m5 2l10.5 4m5.5 2l2.5 .5m5.5 2l10.5 4m5 2h0m5.5 2l10.5 3.5m5 2h0m5.5 2h0m-91.5-31l39 14.5m5.5 2l34 12.5m5.5 2h0m-73-24l63 22.5m-65.5-21l60.5 22m-75.5-25h0m5 2l8 3m5.5 1.5l50 18.5m-90.5-30.5l1.5 .5m13 5l2.5 1m16 5.5h0m5 2h0m8 3l34 12.5m-78-26l13 4.5m37 13.5l21 7.5m-72.5-23.5l2 .5m34 12.5h0m5.5 2l5 2m5.5 2l15.5 5.5m-67.5-22h0m34 12.5l26 9.5m-28.5-8h0m5.5 2l2.5 1m5.5 2l2.5 1m8 2.5l2.5 1m-23-5.5l7.5 2.5m8 3h0m-23-6l18.5 7m-23.5-6l13.5 4.5m-10-1l5 2"/><path stroke="#ffaa00" d="M36 199.5h0"/><path stroke="#008eff" d="M77 127.5h0m40.5 32.5h0m-12.5-2h0m-9.5 2h0m18 6.5h0m-41.5-12.5h0m24 8.5h0m5 2l2.5 1m-39-11.5h0m5.5 1.5h0m23.5 9l3 1m5 1.5l2.5 1m-36-10.5l2.5 1m15.5 5.5l3 1m15.5 6h0m10.5 3.5h0m-25.5-6.5h0m21 7.5h0m5 2h0m-31-9h0m5.5 2h0m-23-3h0m10.5 4l3 1m21 7.5h0m29 10.5h0m-68-22l2.5 1m5.5 1.5h0m13 5h0m8 3h0m-34-10h0m42 15.5h0m-31-9h0m24 9h0m-31-9h0m13 5h0m-20.5-5h0m15.5 5.5l3 1m5 2h0m-31-8.5h0m5 1.5h0m29 10.5h0m5.5 2h0m10.5 4h0m-62.5-20.5l5 2m42 15.5l3 1m-60-19.5h0m5 2h0m5.5 2h0m7.5 3h0m5.5 1.5h0m5 2h0m32 11.5h0m13 5h0m-62.5-20.5l2.5 1m8 3h0m5 2h0m13 4.5h0m34.5 12.5h0m-76-25h0m10.5 4l3 1m65.5 24h0m-86.5-29l5.5 2m5.5 2h0m57.5 21h0m5.5 2h0m-70.5-23.5l2.5 1m55 20h0m21.5 8h0m-83-27.5h0m25.5 9l2.5 1m5.5 2l2.5 1m26 9.5h0m-49.5-15.5l3 1m50.5 21h0m-65.5-21.5h0m8 3h0m52.5 19h0m-4 1.5h0m-15.5-.5h0m-40.5-7.5h0m-1.5 4.5h0m2 3.5h0"/><path stroke="#0000aa" d="M222 7h0m-4.5 .5h0m-25.5-6.5l2.5 1m26 9.5h0m-36.5-11l8.5 3m18.5 7h0m-26-7l10.5 4m8 2.5l2.5 1m-2 2h0m5 2h0m-60-14.5l1 .5m5.5 2h0m42 15h0m-49.5-15l8 2.5m26.5 12.5h0m18.5 6.5h0m-28.5-7.5l13.5 4.5m-7.5 0l5 2m24.5 11.5h0m-86.5-29l2.5 1m18.5 6.5l2.5 1m-10-1l3 1m7.5 3l3 .5m-52.5-16h0m58 21h0m-25.5-7l2.5 1m26 9.5l3 1m-39-11.5h0m5 2l2.5 1m13.5 4.5h0m-55-17.5l18.5 7m-36.5-11l3 1m15.5 6l3 1m5 2h0m8 2.5h0m8 3h0m47 17.5h0m21 7.5l3 1m-91.5-31h0m18 7l3 1m52.5 19l15.5 5.5m21.5 8h0m-26-7l2.5 1m-81-27h0m10.5 4h0m8 2.5h0m5 2h0m53 19.5h0m-137-47.5h0m84.5 31h0m-86-29l2.5 1m8 3l5 1.5m5.5 2h0m58 21l2.5 1m73.5 27l2.5 1m-54.5-17.5h0m5 2h0m5.5 2h0m5.5 2l15.5 5.5m-41.5-12.5l2.5 1m23.5 8.5l3 1m31.5 11.5h0m-126-43.5l13.5 5m7.5 3h0m-20.5-5l5.5 2m5 2l3 1m55 20h0m5.5 2l2.5 1m5 1.5h0m-104.5-35.5h0m102.5 37.5h0m-65-21.5h0m5 2h0m-49-15l2 .5m21 8l5.5 1.5m13 5l10.5 4m53 19h0m5 2h0m5.5 2h0m10.5 3.5h0m-118-40h0m8 2.5h0m5 2l2.5 1m18.5 7l3 .5m5 2h0m50 18.5h0m5.5 1.5l5 2m13 5h0m-123-42.5l2.5 1m16 6l2.5 1m8 2.5h0m5.5 2l2.5 1m60.5 22l10.5 4m-109.5-37.5l4.5 2m5.5 2h0m26 9.5l3 1m55 20h0m-62.5-20.5l13 5m29 10.5l10.5 4m8 2.5l13 5m-78.5-26l3 1m7.5 3l3 1m8 2.5h0m5 2h0m26.5 9.5h0m15.5 6l3 1m5 2h0m34 12h0m-31-8.5l3 1m5 2h0m-89-30h0m84.5 30.5l5 2m-49.5-15.5l2.5 1m8 3l2.5 1m26.5 9.5l8 3m31.5 11.5l2.5 1m-125.5-43.5h0m57.5 21h0m5.5 2l2.5 1m5.5 2l2.5 1m47.5 17l2.5 1m-133.5-46h0m5 2l2.5 1m68.5 24.5l2.5 1m50 18.5l9.5 3.5m-145.5-50.5l18.5 6.5m60.5 22l5 2m47.5 17l2.5 1m5.5 2h0m4.5 2h0m-146.5-51l3 1m5 2l13.5 4.5m63 23l2.5 1m55.5 20.5h0m3.5 1h0m-124-42.5l2.5 1m5 2h0m58 21l2.5 1m45 16l9.5 3.5m-146-50.5h0m29 10.5l5.5 2m10.5 4h0m47 17l3 1m15.5 6l10.5 3.5m10.5 4l14 5m-146.5-51h0m7 2.5l5 2m8 3l2.5 1m21 7.5h0m5.5 2h0m15.5 6h0m8 2.5h0m16 6h0m5 2h0m16 5.5h0m5 2h0m5.5 2l26 9.5m-147.5-51l24.5 8.5m45 16.5h0m39.5 14.5h0m5 2l32 11.5m-146-50.5l35.5 13m68.5 24.5l37 13.5m-141-48.5l33.5 12m66 24l15.5 6m13 4.5l5.5 2m5.5 2h0m-138.5-48l17.5 6.5m5.5 2h0m13 5h0m55.5 20l15.5 5.5m5.5 2l10.5 4m5 2h0m-125.5-43.5l8 3m7.5 3l10.5 3.5m5.5 2h0m5.5 2l2.5 1m39.5 14.5l44.5 16m8 3h0m-135.5-47h0m17.5 6.5l31.5 11.5m26.5 9.5l29 10.5m5 2h0m8 3l2.5 1m8 3h0m13 4.5h0m-136-47l29 10.5m5 2h0m10.5 4h0m21 7.5l13.5 4.5m5 2l16 6m-102-34.5l7.5 2.5m5.5 2l15.5 6m32 11.5l28.5 10.5m-93-31.5l30.5 11m5.5 2h0m7.5 3h0m8 3l3 .5m7.5 3l29 10.5m-90.5-30.5l33 12.5m13.5 4.5l2.5 1m5.5 2l34 12.5m-88.5-30l26 9.5m23.5 9l26.5 9.5m-76.5-25.5l21.5 8m18.5 6.5l31.5 11.5m66 24l1 .5m-139.5-48l25.5 9m10.5 4l32 11.5m68 25l3 1m-138.5-48l46.5 17m5.5 2l2.5 1m5.5 2l2.5 1m71 25.5l4 1.5m-137.5-47.5l42 15.5m89.5 32.5l4.5 1.5m-136.5-47l51 18.5m85 31h0m-136.5-47l20.5 7m5 2l8 3m5 2l16 5.5m-54.5-17l18 6.5m31.5 11.5h0m66 24h0m-116-39.5l3.5 1m5 2l8 3m5 1.5h0m95 34.5h0m18.5 7h0m-135-46.5l11.5 4m5.5 2h0m102.5 37.5l2.5 1m10.5 3.5l1 .5m-134-46.5l5 2m5 2h0m100 36.5l2.5 .5m5.5 2l15.5 5.5m-125.5-43l2.5 1m5.5 2h0m105 38.5l11.5 4m-132-45.5h0m16 6h0m81.5 29.5h0m5 2h0m26.5 9.5l1.5 .5m-1 2l1.5 .5m-3 6.5h0m-120-25.5l3 1"/><path stroke="#1cffe3" d="M98.5 151h0m-4.5 .5h0m6 7.5h0m17 11h0m-38.5 7h0m-4.5 .5h0m5 2h0m-6 5.5h0m-10.5-1.5h0m.5 3h0m19 9.5h0m-28.5-8l3 1m13 5h0m8 2.5h0m-31-8.5h0m-21-5h0m26.5 9.5h0m5.5 2l5 2m-20-2l2.5 .5m21 8h0m8 3h0m-39-12h0m16 6h0m13 4.5h0m-36.5-10.5h0m-12.5-2h0m8.5 5.5h0m-5 1h0m-2 1.5h0m31.5 11.5h0m-30.5-6h0"/><path stroke="#aaff55" d="M96.5 152.5h0m-42.5 38.5h0m-4 16h0m-27 .5l2.5 1"/></g>
<use href="#map"/>
<rect x="0.5" y="0.5" width="233.0" height="212.5" fill="none" stroke="#262626" stroke-width="1"/>
<text x="19.5" y="-19.7" font-size="12.2" font-weight="bold" text-anchor="start" fill="#262626" textLength="24.6" lengthAdjust="spacingAndGlyphs" stroke="#262626" stroke-width="0.22">100</text>
<circle cx="48.6" cy="-32.0" r="1.5" fill="none" stroke="#262626" stroke-width="0.9"/>
<text x="56.3" y="-19.7" font-size="12.2" font-weight="bold" text-anchor="start" fill="#262626" textLength="13.2" lengthAdjust="spacingAndGlyphs" stroke="#262626" stroke-width="0.22">W</text>
<text x="88.5" y="-19.7" font-size="12.2" font-weight="bold" text-anchor="start" fill="#262626" textLength="16.4" lengthAdjust="spacingAndGlyphs" stroke="#262626" stroke-width="0.22">90</text>
<circle cx="109.4" cy="-32.0" r="1.5" fill="none" stroke="#262626" stroke-width="0.9"/>
<text x="117.1" y="-19.7" font-size="12.2" font-weight="bold" text-anchor="start" fill="#262626" textLength="13.2" lengthAdjust="spacingAndGlyphs" stroke="#262626" stroke-width="0.22">W</text>
<text x="152.2" y="-19.7" font-size="12.2" font-weight="bold" text-anchor="start" fill="#262626" textLength="16.4" lengthAdjust="spacingAndGlyphs" stroke="#262626" stroke-width="0.22">80</text>
<circle cx="173.2" cy="-32.0" r="1.5" fill="none" stroke="#262626" stroke-width="0.9"/>
<text x="181.0" y="-19.7" font-size="12.2" font-weight="bold" text-anchor="start" fill="#262626" textLength="13.2" lengthAdjust="spacingAndGlyphs" stroke="#262626" stroke-width="0.22">W</text>
<text x="215.8" y="-19.7" font-size="12.2" font-weight="bold" text-anchor="start" fill="#262626" textLength="16.4" lengthAdjust="spacingAndGlyphs" stroke="#262626" stroke-width="0.22">70</text>
<circle cx="236.8" cy="-32.0" r="1.5" fill="none" stroke="#262626" stroke-width="0.9"/>
<text x="244.5" y="-19.7" font-size="12.2" font-weight="bold" text-anchor="start" fill="#262626" textLength="13.2" lengthAdjust="spacingAndGlyphs" stroke="#262626" stroke-width="0.22">W</text>
<text x="-49.6" y="17.1" font-size="12.2" font-weight="bold" text-anchor="start" fill="#262626" textLength="16.9" lengthAdjust="spacingAndGlyphs" stroke="#262626" stroke-width="0.22">48</text>
<circle cx="-28.2" cy="3.0" r="1.5" fill="none" stroke="#262626" stroke-width="0.9"/>
<text x="-20.5" y="17.1" font-size="12.2" font-weight="bold" text-anchor="start" fill="#262626" textLength="9.4" lengthAdjust="spacingAndGlyphs" stroke="#262626" stroke-width="0.22">N</text>
<text x="-49.6" y="34.4" font-size="12.2" font-weight="bold" text-anchor="start" fill="#262626" textLength="16.9" lengthAdjust="spacingAndGlyphs" stroke="#262626" stroke-width="0.22">46</text>
<circle cx="-28.2" cy="20.3" r="1.5" fill="none" stroke="#262626" stroke-width="0.9"/>
<text x="-20.5" y="34.4" font-size="12.2" font-weight="bold" text-anchor="start" fill="#262626" textLength="9.4" lengthAdjust="spacingAndGlyphs" stroke="#262626" stroke-width="0.22">N</text>
<text x="-49.6" y="51.6" font-size="12.2" font-weight="bold" text-anchor="start" fill="#262626" textLength="16.9" lengthAdjust="spacingAndGlyphs" stroke="#262626" stroke-width="0.22">44</text>
<circle cx="-28.2" cy="37.5" r="1.5" fill="none" stroke="#262626" stroke-width="0.9"/>
<text x="-20.5" y="51.6" font-size="12.2" font-weight="bold" text-anchor="start" fill="#262626" textLength="9.4" lengthAdjust="spacingAndGlyphs" stroke="#262626" stroke-width="0.22">N</text>
<text x="-49.6" y="70.2" font-size="12.2" font-weight="bold" text-anchor="start" fill="#262626" textLength="16.9" lengthAdjust="spacingAndGlyphs" stroke="#262626" stroke-width="0.22">42</text>
<circle cx="-28.2" cy="56.1" r="1.5" fill="none" stroke="#262626" stroke-width="0.9"/>
<text x="-20.5" y="70.2" font-size="12.2" font-weight="bold" text-anchor="start" fill="#262626" textLength="9.4" lengthAdjust="spacingAndGlyphs" stroke="#262626" stroke-width="0.22">N</text>
<text x="-49.6" y="86.5" font-size="12.2" font-weight="bold" text-anchor="start" fill="#262626" textLength="16.9" lengthAdjust="spacingAndGlyphs" stroke="#262626" stroke-width="0.22">40</text>
<circle cx="-28.2" cy="72.4" r="1.5" fill="none" stroke="#262626" stroke-width="0.9"/>
<text x="-20.5" y="86.5" font-size="12.2" font-weight="bold" text-anchor="start" fill="#262626" textLength="9.4" lengthAdjust="spacingAndGlyphs" stroke="#262626" stroke-width="0.22">N</text>
<text x="-49.6" y="101.1" font-size="12.2" font-weight="bold" text-anchor="start" fill="#262626" textLength="16.9" lengthAdjust="spacingAndGlyphs" stroke="#262626" stroke-width="0.22">38</text>
<circle cx="-28.2" cy="87.0" r="1.5" fill="none" stroke="#262626" stroke-width="0.9"/>
<text x="-20.5" y="101.1" font-size="12.2" font-weight="bold" text-anchor="start" fill="#262626" textLength="9.4" lengthAdjust="spacingAndGlyphs" stroke="#262626" stroke-width="0.22">N</text>
<text x="-49.6" y="118.4" font-size="12.2" font-weight="bold" text-anchor="start" fill="#262626" textLength="16.9" lengthAdjust="spacingAndGlyphs" stroke="#262626" stroke-width="0.22">36</text>
<circle cx="-28.2" cy="104.3" r="1.5" fill="none" stroke="#262626" stroke-width="0.9"/>
<text x="-20.5" y="118.4" font-size="12.2" font-weight="bold" text-anchor="start" fill="#262626" textLength="9.4" lengthAdjust="spacingAndGlyphs" stroke="#262626" stroke-width="0.22">N</text>
<text x="-49.6" y="132.9" font-size="12.2" font-weight="bold" text-anchor="start" fill="#262626" textLength="16.9" lengthAdjust="spacingAndGlyphs" stroke="#262626" stroke-width="0.22">34</text>
<circle cx="-28.2" cy="118.8" r="1.5" fill="none" stroke="#262626" stroke-width="0.9"/>
<text x="-20.5" y="132.9" font-size="12.2" font-weight="bold" text-anchor="start" fill="#262626" textLength="9.4" lengthAdjust="spacingAndGlyphs" stroke="#262626" stroke-width="0.22">N</text>
<text x="-49.6" y="149.4" font-size="12.2" font-weight="bold" text-anchor="start" fill="#262626" textLength="16.9" lengthAdjust="spacingAndGlyphs" stroke="#262626" stroke-width="0.22">32</text>
<circle cx="-28.2" cy="135.3" r="1.5" fill="none" stroke="#262626" stroke-width="0.9"/>
<text x="-20.5" y="149.4" font-size="12.2" font-weight="bold" text-anchor="start" fill="#262626" textLength="9.4" lengthAdjust="spacingAndGlyphs" stroke="#262626" stroke-width="0.22">N</text>
<text x="-49.6" y="164.0" font-size="12.2" font-weight="bold" text-anchor="start" fill="#262626" textLength="16.9" lengthAdjust="spacingAndGlyphs" stroke="#262626" stroke-width="0.22">30</text>
<circle cx="-28.2" cy="149.9" r="1.5" fill="none" stroke="#262626" stroke-width="0.9"/>
<text x="-20.5" y="164.0" font-size="12.2" font-weight="bold" text-anchor="start" fill="#262626" textLength="9.4" lengthAdjust="spacingAndGlyphs" stroke="#262626" stroke-width="0.22">N</text>
<text x="-49.6" y="176.6" font-size="12.2" font-weight="bold" text-anchor="start" fill="#262626" textLength="16.9" lengthAdjust="spacingAndGlyphs" stroke="#262626" stroke-width="0.22">28</text>
<circle cx="-28.2" cy="162.5" r="1.5" fill="none" stroke="#262626" stroke-width="0.9"/>
<text x="-20.5" y="176.6" font-size="12.2" font-weight="bold" text-anchor="start" fill="#262626" textLength="9.4" lengthAdjust="spacingAndGlyphs" stroke="#262626" stroke-width="0.22">N</text>
<text x="-49.6" y="191.7" font-size="12.2" font-weight="bold" text-anchor="start" fill="#262626" textLength="16.9" lengthAdjust="spacingAndGlyphs" stroke="#262626" stroke-width="0.22">26</text>
<circle cx="-28.2" cy="177.6" r="1.5" fill="none" stroke="#262626" stroke-width="0.9"/>
<text x="-20.5" y="191.7" font-size="12.2" font-weight="bold" text-anchor="start" fill="#262626" textLength="9.4" lengthAdjust="spacingAndGlyphs" stroke="#262626" stroke-width="0.22">N</text>
<text x="-49.6" y="205.7" font-size="12.2" font-weight="bold" text-anchor="start" fill="#262626" textLength="16.9" lengthAdjust="spacingAndGlyphs" stroke="#262626" stroke-width="0.22">24</text>
<circle cx="-28.2" cy="191.6" r="1.5" fill="none" stroke="#262626" stroke-width="0.9"/>
<text x="-20.5" y="205.7" font-size="12.2" font-weight="bold" text-anchor="start" fill="#262626" textLength="9.4" lengthAdjust="spacingAndGlyphs" stroke="#262626" stroke-width="0.22">N</text>
<text x="-49.6" y="218.7" font-size="12.2" font-weight="bold" text-anchor="start" fill="#262626" textLength="16.9" lengthAdjust="spacingAndGlyphs" stroke="#262626" stroke-width="0.22">22</text>
<circle cx="-28.2" cy="204.6" r="1.5" fill="none" stroke="#262626" stroke-width="0.9"/>
<text x="-20.5" y="218.7" font-size="12.2" font-weight="bold" text-anchor="start" fill="#262626" textLength="9.4" lengthAdjust="spacingAndGlyphs" stroke="#262626" stroke-width="0.22">N</text>
<rect x="245.0" y="-1.5" width="24" height="215.5" fill="url(#jet)" stroke="#262626" stroke-width="0.8"/>
<path d="M269.0 106.8h-4" stroke="#262626" stroke-width="1"/>
<text x="278.5" y="6.3" font-size="21.0" font-weight="bold" text-anchor="start" fill="#262626" textLength="41.5" lengthAdjust="spacingAndGlyphs" stroke="#262626" stroke-width="0.38">100</text>
<text x="278.5" y="114.3" font-size="21.0" font-weight="bold" text-anchor="start" fill="#262626" textLength="26.8" lengthAdjust="spacingAndGlyphs" stroke="#262626" stroke-width="0.38">50</text>
<text x="278.5" y="221.8" font-size="21.0" font-weight="bold" text-anchor="start" fill="#262626" textLength="12.2" lengthAdjust="spacingAndGlyphs" stroke="#262626" stroke-width="0.38">0</text>
<text x="-54.4" y="244.2" font-size="21.3" font-weight="bold" text-anchor="start" fill="#262626" textLength="333.0" lengthAdjust="spacingAndGlyphs" stroke="#262626" stroke-width="0.38">SAT 150 hPa RH (Percent)</text>
</g>
<g transform="translate(617.2,96.5)">
<g fill="none" stroke-linecap="round" stroke-width="6.6"><path stroke="#ff1c00" d="M57.5 212.5h0"/><path stroke="#aa0000" d="M18 157h0m-1.5 5h0"/><path stroke="#ff5500" d="M40.5 211.5h0"/><path stroke="#0000e3" d="M180 101.5h0m-4 1h0m-141.5-46.5h0m-3.5 6.5h0m124.5 91l3.5 1.5m-3 1.5l2.5 .5m-5.5 8.5l2.5 1m-5 .5l3.5 1.5m-3 1.5l2.5 .5m-4.5 1l4.5 2m-4 1l2.5 1m-2 1.5l1.5 .5m-3.5 1.5l2 1m-125.5-43.5h0m121.5 44.5h0m-121-41.5h0m120.5 59h0m-1.5 2h0m-4.5 1h0m4.5 1.5h0m-4 1.5l3.5 1m-7.5 2.5h0m-10-1.5l10.5 4m5 2h0m-17.5-4l5 2m-12.5-2l2.5 1m5 1.5h0m-7 0l3.5 1.5"/><path stroke="#aaff55" d="M15 174h0m2.5 3.5h0m20 30.5h0m-27-7.5h0m27.5 10h0m-27.5-7.5h0"/><path stroke="#71ff8e" d="M14.5 176.5h0"/><path stroke="#e3ff1c" d="M24 146.5h0m-5.5 8.5h0m-4.5 29h0m36.5 26h0"/><path stroke="#ffe300" d="M22.5 151h0m-4 1.5h0m-2 19.5h0m-1 10h0m-1.5 4.5h0m33.5 22.5h0"/><path stroke="#ff3900" d="M16.5 187.5h0m36.5 23.5l2.5 1"/><path stroke="#ff8e00" d="M52.5 208h0m-7.5 0h0"/><path stroke="#ff7100" d="M19.5 147.5l2.5 1"/><path stroke="#c60000" d="M18.5 157.5l3 1m-4 6l2.5 1m40 42.5h0m.5 3h0"/><path stroke="#ffc600" d="M23 154h0m-4 19h0m-4 6h0m25 29.5h0m8 3h0"/><path stroke="#ffaa00" d="M18.5 170h0m-2.5 14.5h0m27.5 28h0"/><path stroke="#0000ff" d="M178.5 103.5l1 0m-6.5 15.5h0m-152.5 21.5l2.5 .5m-2 2h0m122.5 52l2.5 1m-2 2h0m-2 2h0m.5 2.5h0m-33.5 5.5l5 2m-.5 2.5h0"/><path stroke="#0000c6" d="M184 .5h0m-21 0h0m-3 1.5h0m52 29h0m-103.5-30h0m96 43h0m-126-43.5h0m8 3l3 1m-10.5-1h0m5.5 1.5h0m-15.5-3h0m-11-1.5l4 1.5m5 2l2.5 1m132 48h0m-150.5-52.5l11.5 4.5m136.5 49.5l2 1m-4 1l3.5 1m-164-57h0m161 58.5l1.5 .5m-161.5-56l5.5 2m153 58h0m-161.5-56l1.5 .5m.5 2.5h0m157.5 57.5h0m-160-53l3.5 1m-4 1.5l4.5 1.5m152.5 55.5l2 .5m-159-55l5 1.5m150 54.5l3 1.5m-155.5-54h0m153 55.5l1.5 .5m-158-55h0m154 56h0m.5 3l1 .5m-155-54h0m152 55h0m-152-52.5l2.5 1m147.5 53.5h0m-150.5-52l1 0m150 54.5h0m-152-52.5l2.5 1m147 53.5l3.5 1m-3 1.5l1.5 1m-151-52.5l3 1m-3.5 1l4 1.5m144.5 52.5l1.5 1m-148.5-51.5h0m145 52.5h0m-146-45.5h0m-1 2l1.5 1m-3 1.5l3.5 1m-3.5 1.5h0m4 1.5h0m-4 1l2 .5m.5 3h0m-3.5 1l1.5 .5m-1.5 2l4.5 2m-2 1.5h0m-2 2h0m-1 4.5l4.5 2m-4.5 .5l2 1m-3.5 4h0m.5 2.5l2 1m-2.5 4l1 .5m.5 2.5h0m-2 2h0m128 56.5l3.5 1.5m-3 1.5l1.5 .5m-3.5 1l4 1.5m-134.5-28.5h0m126.5 46l1.5 1m-129.5-44.5l2 .5m124 45l3 1m-2.5 1.5l1 .5m-3.5 1.5l3 1m-2.5 1.5l2.5 1m-4.5 1l3 1m-5.5 13.5l2.5 1m-4.5 1l3.5 1m-3 1.5h0m-7.5 0l3 1m-13-2h0m6 2h0"/><path stroke="#1cffe3" d="M164.5 134h0m-4 6h0m-143.5 34.5h0m-4.5 11.5h0m20.5 22.5h0m3 4h0"/><path stroke="#00aaff" d="M173 114h0m-5.5 11h0m3 3.5h0m-11.5 16h0m3.5 1.5h0m-.5 2.5h0m-1.5 2h0m-139-5h0m78 64.5h0m-12.5-2h0m-5 .5h0m.5 3h0m-5 .5h0m-7 0h0m-54.5-14.5h0m9.5 11h0"/><path stroke="#e30000" d="M16 166.5h0m39 42.5l2.5 1"/><path stroke="#ffff00" d="M20 150h0m1 5.5h0m-6 16h0m28 38l2.5 1"/><path stroke="#ff0000" d="M17 164.5h0m1 3h0"/><path stroke="#c6ff39" d="M20.5 153h0m-2.5 27h0m-4 1.5h0m4.5 1.5h0m-6.5 15.5l2 .5m.5 3h0m-2 1.5h0"/><path stroke="#8eff71" d="M50.5 212.5h0m-38.5-11.5h0"/><path stroke="#0039ff" d="M177 110.5h0m-3.5 6.5h0m-1 4.5h0m-63 89.5h0m-7.5 0h0m-14.5-.5h0m-74.5-19.5l2 1m49 20.5h0m-53-4h0m4.5 4h0"/><path stroke="#00ffff" d="M167.5 135h0m-3 6.5h0m-134.5 66h0m3.5 4h0m-7.5-.5h0"/><path stroke="#0055ff" d="M171 116h0m-2 4.5h0m.5 2.5l1.5 .5m-13 28.5h0m-51 58h0m-17.5-1h0m5 1.5h0m-4.5 1h0m-27.5-2.5h0m-51-16h0m51.5 19h0m-48-7.5h0m8 3h0m-9.5 1.5l2.5 1"/><path stroke="#8e0000" d="M18 160l1 0m.5 3h0m-6 15.5h0"/><path stroke="#0000aa" d="M219 .5l5 2m-12-2l11.5 4m-18.5-4l17 6.5m-24-6.5l12 4.5m7.5 2.5l4 1.5m-30.5-8.5l11.5 4m15.5 6l2.5 1m-33.5-10l8 3m21 7.5l3 1.5m-42-13l13 5m26.5 9.5l2 .5m-48.5-15l13 4.5m31.5 11.5l2.5 1m-52-16l10.5 3.5m39.5 14.5l1 .5m-60-19.5l1.5 .5m5.5 2l5 2m45 16.5l3 1m-67-22l11.5 4.5m53 19l1 .5m-72.5-24l11 4m58 21.5l2.5 .5m-78.5-26l11 4m63 23l3.5 1.5m-84.5-28.5l13 5m68.5 25h0m-88.5-30l12.5 4.5m76.5 28l1.5 .5m-98-33l13 4.5m81.5 30l1.5 .5m-102.5-35h0m4 1.5l8 3m86.5 31.5l3.5 1.5m-109-37.5l11.5 4.5m94.5 34.5l2.5 .5m-115.5-39.5l11 4m100 36.5l3 1m-121-41.5l13.5 5m106.5 39h0m-124.5-43l2.5 1m8 3l2.5 1m108 39l3 1m-134-46l5 2m5.5 2h0m121 44l1 .5m-139.5-48.5l2 .5m5.5 2l5 2m124 45l2.5 1m-139-48h0m134 49h0m4 1.5h0m-158.5-53l11 4m-15.5-3l10.5 4m-15-3h0m160.5 58.5l3 1m-163.5-57l3 1m159.5 58h0m-159-55h0m155 56.5l2.5 1m-161.5-56.5h0m4.5 1.5h0m152.5 55.5h0m4 1.5h0m-160.5-56l2 1m155 56.5l2 .5m-4 1l3 1.5m-159-50.5h0m0 2.5l2.5 1m153 55.5h0m-157-54.5l4.5 2m-2 1.5h0m152.5 55.5h0m-2 2l1.5 .5m-151-52.5h0m149 54.5h0m-153-51l2.5 1m145 55.5l3 1m-151.5-50h0m0 2.5l2.5 1m-3 1.5l3.5 1.5m-3.5 1h0m3.5 11.5h0m-4 1h0m2.5 3.5h0m-3.5 4h0m4.5 1.5h0m-2 2h0m-4 1l4.5 1.5m-4.5 6l3 1.5m-2 1.5h0m-1.5 4.5l2.5 1m.5 2.5h0m-4 1.5h0m4.5 1.5h0m-2 2h0m-3 1.5l3.5 1m-3.5 1.5l4 1m-4.5 1l2 1m-2 1.5l2.5 1m-3 1.5l3.5 1.5m-4 1l2 .5m-2 2l2.5 1m-3 1.5l3.5 1m-4.5 1l2.5 1m-2 2l2.5 .5m-3 1.5l3.5 1.5m-4.5 1l5 1.5m-4.5 1l2 1"/><path stroke="#55ffaa" d="M11.5 196h0m24 13.5h0"/><path stroke="#39ffc6" d="M162.5 138.5h0m-149 58h0"/><path stroke="#001cff" d="M176.5 105l1.5 .5m-3.5 11.5h0m-3 1.5h0m-11 34.5h0m-137-9h0m-4 1h0m92.5 67h0m-7.5 0l2 .5m-97-2l4.5 1.5"/><path stroke="#00c6ff" d="M177.5 108h0m-9.5 19.5h0m-6.5 18h0m-2 2h0m-65.5 60.5h0m-22-.5h0m5 2h0m-62.5-20.5l2.5 1m13.5 20.5h0m-19.5-5h0m11 7h0"/><path stroke="#008eff" d="M174.5 109.5h0m-2 2l3 1m-5.5 13.5h0m-2 6.5h0m-3 4h0m-4 6.5h0m-1 7h0m-56 59h0m-7 0h0m2.5 3.5h0m-19.5-2h0m-13-2h0m8 2.5h0m3.5 1.5h0m-65.5-6h0m5 2l2.5 1m8.5 3h0m-10.5-1.5l2.5 1"/><path stroke="#0071ff" d="M174 107h0m1.5 8h0m-9.5 14.5l3 1m-3 6.5h0m-3 6.5h0m-71 66h0m5.5 2h0m-13-2h0m8 3h0m-7 0h0m-72.5-24h0m57 21l2.5 1m-7.5-.5l2.5 1m-54.5-17.5l2.5 1m0 13h0m8 2.5h0"/><path stroke="#00e3ff" d="M166.5 132h0m-1 7.5h0m-2.5 1.5h0m-147.5 28h0m86 39h0m-27 .5h0m-3.5 4h0m-43-3h0"/></g><g fill="none" stroke-linecap="round" stroke-width="4.5"><path stroke="#55ffaa" d="M105 92h0m-9.5 1.5h0m36 20.5h0m26 10h0m-14.5-.5h0m-23.5-6l2.5 1m8 3h0m16 5.5h0m-18-4h0m18.5 7h0m5 2h0m5.5 1.5h0m-33.5-6.5h0m13.5 4.5h0m8 3h0m13 4.5h0m-44.5-13.5h0m34.5 12.5l2.5 1m5.5 2h0m.5 2.5h0m-78-23h0m29.5 13h0m-44-10.5h0m76.5 27.5l2.5 1m-89-29.5h0m5.5 1.5h0m5 2h0m68.5 25h0m-76-25h0m29 10.5h0m-14.5 0h0m7.5 2.5h0m50 18.5h0m-60-19.5h0m8 3h0m52.5 19h0m-64.5-18.5h0m-7 2.5h0m9.5 11.5h0m60.5 22h0m-16 7h0m-88-24.5h0m81.5 29.5h0m5.5 4.5h0m-60-6.5h0m.5 3h0m34.5 12.5h0m-49.5-15.5h0m23.5 8.5h0m23.5 8.5h0m-23-6h0m-2 2h0m-2.5 2h0m-7-.5h0m-37.5-5.5h0m24 13.5h0"/><path stroke="#ff0000" d="M122.5 175h0m-1.5 4.5h0m-4.5 3.5h0m-6 5.5h0m-86-26.5h0m81.5 30h0m-89-27.5h0m1 3h0m84 30.5h0m-4 3.5l2.5 1"/><path stroke="#ff8e00" d="M57.5 141h0m-33 8.5h0m95.5 37h0m-94.5-31.5h0m16 46.5h0m11 6.5h0m-7.5 0h0"/><path stroke="#ffff00" d="M52.5 142h0m-16 4h0m3 3.5h0m-5 1h0m5.5 2h0m-20-2.5h0m1 5.5h0m86 42h0m-86-26.5h0m-6 .5h0m9.5 3.5h0m-3.5 9l2.5 1m23.5 21h0m-4 3.5l2.5 1"/><path stroke="#001cff" d="M176.5 105l1.5 .5m-27.5-7.5h0m-12 1h0m10.5 3.5h0m10.5 4l2.5 1m-55-17.5h0m18.5 7h0m21 7.5h0m-2 2l2.5 .5m27.5 10h0m-34.5-10l2.5 1m13 5h0m10.5 3.5l5.5 2m-86.5-29h0m45 16.5h0m34 12.5h0m-81-27h0m44.5 16.5l3 .5m-15.5-3l8 3m21 7.5h0m-28.5-7.5l2.5 1m-10-1h0m52.5 19h0m-62.5-20.5l2.5 1m5.5 2h0m-5 1h0m-25.5-7h0m5 2l5.5 2m10.5 3.5h0m5 2l3 1m-36.5-10.5h0m29 10.5l2.5 1m-15.5-3h0m-23-6h0m37 13.5h0m-41.5-12.5h0m26 9.5h0m-31-9h0m-4.5 1h0m0 2.5h0m113.5 41.5h0m-12.5 .5h0m-2 2h0m-4.5 .5h0m-54.5-14.5h0m-44-13.5h0m50 18l5 2m13 5h0m-23-6h0m5.5 2h0m15.5 5.5l8 3m5 2h0m-38.5-11.5l2.5 1m10.5 3.5h0m18.5 7h0m7.5 2.5h0m-81-27h0m42.5 15.5l5 2m5.5 2l5 2m5.5 1.5l5 2m8 3h0m-39-11.5l2.5 1m16 5.5l2.5 1m13 5l3 1m-76-25.5h0m42 15.5h0m16 6l5 1.5m31.5 11.5h0m-96.5-32.5l5 2m5.5 2h0m65.5 24l3 .5m15.5 6h0m-89-30l8 3m8 3l2.5 1m42 15l3 1m5 2h0m-86.5-29h0m16 6l2.5 1m8 2.5h0m8 3l5 2m42.5 15.5l2.5 1m5 1.5h0m-91.5-30.5h0m24 8.5h0m5 2l2.5 1m8 3h0m23.5 8.5h0m18.5 6.5l3 1m5 2h0m-93.5-31.5h0m25.5 9.5h0m5.5 2l2.5 .5m45 16.5l7.5 3m-62.5-20.5h0m13 5h0m5.5 2l5 1.5m16 6l26.5 9.5m-71-23l11 4m5 1.5h0m26.5 10h0m5 1.5l2.5 1m5.5 2l10.5 4m-70.5-23l5 1.5m8 3h0m16 6h0m5 1.5l8 3m5.5 2h0m18 6.5l3 1m-70.5-23l7.5 3m18.5 6.5h0m5.5 2l8 3m5 2l2.5 1m5.5 1.5h0m13 5l5.5 2m-76-25h0m50 18l8 3m15.5 5.5h0m-33.5-9.5l2.5 1m26.5 9.5l2.5 1m-12.5-2h0m8 3l5 1.5m-23-5.5l2.5 1m34 12h0m-46.5-14.5h0m5 2h0m5.5 2l5 2m-10-1l5.5 2m-7.5-.5l2.5 1m37 13.5h0m3.5 6.5h0m-7.5 0l2 .5m-97-2l4.5 1.5"/><path stroke="#1cffe3" d="M101.5 98h0m-7.5 0l2.5 1m5.5 2h0m-15.5-3h0m47.5 17h0m13 5h0m5.5 2h0m-28.5-8h0m-5 1h0m-4.5 .5l2.5 1m23.5 9h0m21 7.5l3 1m-55-17.5h0m5.5 2h0m10.5 3.5h0m34 12.5h0m-41.5-12.5l2.5 1m24 8.5h0m-28.5-7.5h0m15.5 5.5l2.5 1m26.5 9.5h0m-86.5-28.5h0m45 16h0m21 7.5h0m-28.5-7.5h0m45.5 19h0m-42-12.5h0m39.5 14h0m-83.5-27.5h0m18.5 6.5h0m52.5 19l2.5 1m8 3h0m-81-27h0m39.5 14.5h0m21.5 10.5h0m-62.5-20.5h0m52.5 19h0m5 2h0m-73-24h0m26.5 9.5h0m34.5 15.5h0m16 5.5h0m-81-24l3 1m26 9.5h0m45 16h0m8 3h0m5 2h0m-83.5-28h0m21 7.5h0m60.5 22h0m-2 2h0m.5 2.5h0m-98.5-12.5h0m68 35h0m-53-6.5l2.5 1m-36-11h0m26 10h0m45 16h0m13 5h0m-46.5-12h0m26.5 9.5h0m-55-17h0m18.5 6.5h0m39.5 14.5h0m-7.5-.5h0m-64-20.5h0m33 12h0m-14 2.5l2.5 1m-1 7h0m3 4h0"/><path stroke="#8e0000" d="M131 168h0m-6.5 5l3 1m-2.5 2h0m-10.5 8.5h0m-2 2l2.5 1m-4 3.5h0m-93-31l4 1m86.5 32h0m-89-30l3 1m74 42h0m-83-27.5h0"/><path stroke="#ff1c00" d="M77 153h0m-7 2.5h0m36.5 39h0m-2 2h0m-83-10h0m22.5 16h0m13.5 10h0"/><path stroke="#ff5500" d="M74 152h0m3.5 4h0m43 20.5l2.5 1m-18 21.5h0m-5 1h0m-46 3.5h0m-7.5 0h0m-6 8h0"/><path stroke="#0000c6" d="M184 .5h0m-21 0h0m-3 1.5h0m52 29h0m-20.5-4.5h0m-4.5 .5l7.5 3m-86-29h0m96 43h0m-126-43.5h0m8 3l3 1m-10.5-1h0m5.5 1.5l5.5 2m110.5 40.5h0m-131.5-45.5h0m-11-1.5l4 1.5m5 2l2.5 1m10.5 4h0m58 21h0m63.5 23h0m-150.5-52.5l14 5.5m5 1.5h0m8 3l5.5 2m110.5 40l7 3m-138-48l5 2m5.5 2l13 4.5m105 38.5l9 3m-164-57h0m29.5 10.5l8 3m15.5 6h0m97.5 35.5l12 4m-161.5-56l5.5 2m5 2l21 7.5m-15-3h0m5 2l2.5 1m16 5.5h0m5 2h0m5.5 2h0m89.5 32.5l10.5 3.5m8 3h0m-161.5-56l1.5 .5m15.5 5.5l5.5 2m21 8l5 1.5m13.5 5h0m8 3h0m73.5 26.5l10.5 4m-152-53h0m5 2l18.5 7m16 5.5l2.5 1m110.5 40h0m5 2h0m-154.5-53.5l18.5 6.5m13 5l13 4.5m-50-15.5l48 17.5m95 34.5l7.5 3m-151-52.5l20 7m8 3h0m5.5 2l2.5 1m76 27.5l8 3m21 7.5l18 6.5m-159-55l20.5 7.5m10.5 3.5h0m89.5 32.5h0m5.5 2h0m5 2l27 10m-155.5-54l10.5 3.5m5.5 2l2.5 1m5.5 2h0m8 3l2.5 1m21 7.5l5 2m5.5 2h0m37 13l2.5 1m5 2l3 1m13 5l28 10m-158-55h0m12 4.5h0m10.5 4l45 16m7.5 3h0m21.5 7.5l13 5m18.5 6.5l2.5 1m8 3l15.5 5.5m-133.5-46l2.5 1m5.5 2l21 7.5m5 2l3 1m15.5 6l8 2.5m37 13.5l37.5 14m-155-54h0m10 3.5h0m21 7.5h0m5 2h0m8 3l3 1m13 4.5h0m13 5h0m8 3h0m44.5 16h0m5.5 2l21 7.5m-152-52.5l5 2m13.5 4.5l2.5 1m5 2l3 1m63 23h0m5.5 2l7.5 2.5m13.5 5l31.5 11.5m-150.5-52l1 0m5 2l3 1m5 2l21 7.5m21 8h0m5.5 1.5l2.5 1m34 12.5h0m21.5 7.5l10.5 4m5 2l16 5.5m-152-52.5l5 2m5.5 1.5l2.5 1m5 2l21 8m32 11.5h0m5 1.5h0m5.5 2l5 2m16 6l5 1.5m5.5 2l5 2m8 3h0m5.5 2l21.5 7.5m-137-47l21 7.5m5.5 2l2.5 1m5 2l11 3.5m5 2h0m8 3l15.5 5.5m10.5 4l24 8.5m5 2l22.5 8.5m-151-52.5l8 3m10.5 3.5l8 3m8 3h0m5 2l13.5 4.5m5 2l5.5 2m10.5 3.5l10.5 4m10.5 4l10.5 3.5m8 3h0m8 3l5 2m5.5 2l5 1.5m8 3h0m-145.5-50.5l6.5 2.5m8 3h0m8 3h0m7.5 2.5l5.5 2m8 3l10.5 4m15.5 5.5l10.5 4m18.5 6.5l8 3m5.5 2l2.5 1m5 1.5l18.5 7m5.5 2l6.5 2.5m-148.5-51.5h0m21.5 7.5h0m5 2l5.5 2m36.5 13.5l10.5 3.5m21 7.5l3 1m10.5 4l2.5 1m5.5 2l7.5 3m8 2.5l8 3m-118-40.5l10.5 4m34.5 12.5l10.5 4m18 6.5h0m5.5 2l5 2m8 2.5l21 8m-131-45.5l3 1m26 9.5h0m5.5 2l5 2m5.5 2h0m42 15.5l10.5 3.5m18.5 7h0m8 2.5h0m-134-46h0m13 5h0m32 11.5l18 6.5m8 3h0m18.5 6.5h0m5.5 2h0m-96-32.5l1.5 1m8 2.5l2.5 1m29 10.5l8 3m5 2l16 5.5m5.5 2l7.5 3m5.5 2l2.5 1m8 3h0m-100.5-34l9 3m18.5 6.5l2.5 1m8 3l18 6.5m5.5 2l18.5 7m8 2.5l2.5 1m5 2l3 1m-98.5-33h0m4 1.5l5.5 1.5m7.5 3l3 1m15.5 6l13.5 4.5m18 7h0m13.5 4.5h0m8 3l2.5 1m-91-30.5l2 .5m13 5l2.5 1m5.5 1.5h0m13 5l24 8.5m26 9.5l3 1m15.5 6h0m-102-34.5l8 2.5m5 2l5.5 2m18.5 6.5l15.5 6m34.5 12.5l2.5 1m-93-31.5l1.5 .5m5 2l8 3m29 10.5l10.5 3.5m31.5 11.5l5.5 2m-91-30.5l9.5 3.5m34.5 12.5l8 3m-49.5-15.5h0m7.5 3h0m24 8.5l2.5 1m5.5 2l7.5 3m-49-15.5h0m5 1.5h0m15.5 6h0m8 3l13 4.5m-33.5-9.5l16 5.5m23.5 9h0m-48.5-15.5l17.5 6.5m5 2h0m-22.5-6l2 1m10.5 4h0m31.5 11.5h0m-4.5 .5h0m5 2h0m-46-14h0m33.5 12l2.5 1m-35.5-10.5l10 3.5m21 8h0m-26-7l13.5 5m7.5 2.5h0m39.5 14.5h0m-66-21.5l1 .5m7.5 2.5l8 3m8 3h0m39.5 14.5h0m-62.5-20.5h0m7.5 3h0m5.5 2h0m-15-3h0m18 6.5h0m-1.5 4.5l2.5 1m-7.5 0l3 1m-7.5-.5l2.5 1m116 42l6 2.5m-126.5-43.5l2.5 1m110.5 40l12 4.5m-124.5-43l2.5 1m115.5 42.5l7 2m-124.5-42.5h0m115.5 42h0m-1 7.5h0m-112.5-38.5l2.5 1m108 39l2.5 1m-115.5-39.5l3 1m-7.5 0l2.5 1m-7.5-.5h0m118.5 43.5l2.5 1m5.5 1.5l1.5 1m-129.5-44.5l2 .5m124 45l3 1m-10.5-1l9 3m-8.5-.5l8 3m-18-4l7.5 3m8 2.5l2.5 1m-12.5-2l11 4m-22.5-.5h0m14.5 13l5 2m-4.5 1l3.5 1m-3 1.5h0m-23-6l5 2m10.5 4l3 1m-13-2h0m6 2h0"/><path stroke="#008eff" d="M174.5 109.5h0m-2 2l3 1m-18.5-4h0m13.5 4.5h0m-70.5-23h0m57.5 21h0m-67.5-22h0m5 2h0m50 18h0m-39-11.5h0m42 15h0m-62.5-20h0m8 3h0m42 15h0m13 5h0m16 5.5l2.5 1m-41.5-12.5h0m29 10.5h0m15.5 6h0m-33.5-10h0m29 10.5h0m-68-22l2.5 1m13.5 4.5l2.5 1m-2 2h0m54 19.5h0m-61-17h0m26 9.5h0m32 11.5h0m-81.5-27h0m8 3h0m10.5 4l5.5 2m26 9.5l3 1m-63-20.5h0m32 11.5h0m29 13.5h0m26.5 9.5h0m-89-30h0m26.5 9.5h0m34 12.5h0m-78.5-26h0m5.5 2h0m10.5 4h0m26 9.5l5.5 2m18.5 6.5l2.5 1m5.5 2l2.5 1m-76-25h0m37 13h0m29 11l2.5 .5m37 13.5h0m-107.5-36.5l8 3m5 2l3 1m18 6.5h0m8 3h0m39.5 14.5h0m-81-27h0m21 7.5h0m8 3h0m10.5 3.5h0m10.5 4h0m34 12.5h0m-83.5-28h0m29 10.5h0m21 8h0m8 2.5h0m5 2h0m10.5 4l3 1m15.5 5.5h0m-102-34.5h0m23.5 8.5h0m39.5 14.5h0m-62.5-20.5h0m23.5 9h0m8 2.5h0m16 6l2.5 1m31.5 11.5h0m10.5 3.5h0m-83.5-27.5l2.5 1m8 2.5l5 2m24 8.5l2.5 1m15.5 6h0m11 3.5h0m-57.5-18h0m29 10.5h0m29 10.5h0m-60.5-19.5h0m21.5 8h0m-39-12h0m23.5 9h0m1 5.5l2.5 .5m58 21.5h0m-70-20.5h0m65.5 24h0m-44-13.5h0m39.5 14h0m-41.5-12.5l7.5 3m-10-1h0m42.5 15h0m-47-14.5h0m40.5 20l2.5 1m-41.5-12.5h0m37 13.5h0m11 6.5h0m-94.5-32h0m27 12.5h0m63 23h0m-83.5-28h0m15.5 5.5l5.5 2m60.5 22h0m-89-29.5l2.5 1m5.5 1.5l7.5 3m10.5 4h0m-20.5-5l5.5 2m8 3h0m7.5 2.5h0m42.5 15.5h0m-65.5-21l2.5 .5m13.5 5h0m5 2l5.5 2m34 12.5h0m-60-19.5h0m8 3h0m23.5 8.5h0m21 7.5h0m5.5 2h0m8 3l2.5 1m8 3h0m-26-7h0m10.5 4l2.5 .5m-64.5-18h0m76 27.5h0m-41.5-12.5h0m34.5 12.5h0m2.5 3.5h0m-28-7.5h0m-36.5-11l3 1m13 5h0m29 10.5h0m-60-19.5l2.5 1m42 15.5l2.5 1m8 2.5h0m3.5 1.5h0m-57-13h0m7.5 2.5h0m8 3h0m-20-2h0m5.5 2h0m-9.5 1.5h0m5 2l2.5 1m8.5 3h0m-10.5-1.5l2.5 1"/><path stroke="#ff3900" d="M102.5 201h0m-86-13.5l3 1m33.5 22.5l2.5 1"/><path stroke="#aa0000" d="M129.5 172.5h0m-111.5-15.5h0m-1.5 5h0"/><path stroke="#8eff71" d="M99 100h0m-4.5 1h0m37.5 16h0m10.5 3.5l2.5 1m-7.5 0h0m-17.5-1l2.5 1m-1.5 4.5h0m-7 2.5h0m29 10.5h0m5.5 2h0m-10-1.5h0m-63-20h0m-2 2h0m10.5 3.5h0m9.5 11h0m42 15.5h0m-9.5 1.5h0m-54-14.5h0m55 20h0m-5.5 23.5h0m-98.5-15.5h0m33 20l2.5 1m-33.5-10h0m32 14.5h0m-36.5-11h0m37 13.5h0m-19 3.5l5 1.5m-7.5 0l2.5 1m12 12h0m-38.5-11.5h0"/><path stroke="#ff7100" d="M60 142h0m19.5 12h0m-7.5 0l2.5 1m-55-7.5l2.5 1m97.5 35.5l2.5 1m-5 .5h0m-72.5 19.5h0"/><path stroke="#00e3ff" d="M172 108.5h0m-2 2h0m-79.5-19h0m8 5.5h0m64 26h0m-78.5-26h0m5 2h0m34.5 12.5h0m5 1.5h0m-10-1h0m10.5 4h0m16.5 8.5h0m21 7.5h0m-39-11.5h0m5 2h0m16 5.5h0m8 3l2.5 1m-20.5-5h0m-15.5-3h0m37 13.5h0m5.5 2h0m-57.5-18.5h0m39.5 14.5l5 2m10.5 3.5h0m-25.5-6.5h0m21 7.5h0m-78-23.5h0m26.5 10h0m26 9.5l2.5 1m-65-21.5h0m18.5 7h0m5 1.5h0m10.5 4h0m8.5 5.5h0m10.5 4h0m-60-19.5h0m23.5 9h0m18.5 6.5l3 1m34 12.5h0m-83.5-28h0m42.5 18h0m36.5 13.5h0m-78-26l5 2m5.5 2h0m60.5 22h0m-47-14.5h0m44.5 16h0m8 3h0m-12.5-2h0m13 4.5h0m-81-27h0m-10-1h0m5 2h0m21.5 10.5h0m-22-.5h0m71.5 28.5h0m-54-14.5h0m-31.5 16.5l2.5 1m60.5 22h0m-84-28h0m29.5 11h0m5 1.5h0m5.5 2h0m-28.5-7.5h0m21 7.5h0m34 12.5l5.5 2m8 2.5h0m-5 1l2.5 1m-39-11.5h0m29 10.5h0m5.5 2l2.5 1m10.5 3.5h0m-70.5-23h0m58 21h0m-57.5-18.5l2.5 1m8 3h0m5.5 2h0m34 12.5h0m-55-17.5h0m22 10.5h0m26 9.5h0m-23-6h0m19.5 10h0m-42.5-13h0m-12 .5h0m13 5h0m-1.5 4.5h0"/><path stroke="#00c6ff" d="M177.5 108h0m-25 1h0m-60-19h0m13 4.5h0m-18-4h0m3.5 4h0m-5 .5l5.5 2m15.5 6h0m50 18l2.5 1m-57-18.5l2.5 1m21 8h0m13 4.5h0m21 7.5h0m8 3h0m-86-29h0m29 13.5h0m5.5 2h0m5 2l5.5 1.5m21 8h0m-36-8h0m29.5 13h0m-12.5-2h0m10.5 4h0m-36.5-10.5h0m-2 1.5l5.5 2m28.5 10.5h0m26.5 9.5h0m-104.5-35.5h0m18 7h0m29 10.5h0m5.5 1.5h0m8 3h0m42 15.5h0m-86.5-29h0m13 5h0m10.5 3.5h0m21.5 8h0m7.5 2.5h0m5.5 2l2.5 1m-36.5-10.5h0m5.5 2h0m16 5.5l2.5 1m5 2l5.5 2m5 2h0m-57-18.5h0m-13-2h0m18.5 6.5h0m8 3l2.5 1m10.5 3.5h0m13.5 5h0m15.5 6h0m-89-30h0m5.5 2h0m52.5 19h0m21 7.5h0m5.5 2h0m-57.5-18h0m26 9.5h0m5.5 1.5h0m16 6h0m7.5 3h0m-54.5-17.5l2.5 1m47.5 17h0m-65.5-21l2.5 1m5.5 2l2.5 1m50 18h0m13.5 5h0m-86.5-29l2.5 1m.5 2.5h0m24 8.5h0m5 2h0m-28.5-7.5l2.5 1m18.5 6.5h0m5.5 2h0m52.5 19l2.5 1m-4.5 1h0m5.5 4.5l3 1m-86.5-29h0m76 40.5h0m-16.5 4.5h0m8 2.5h0m-67-16.5h0m63 23h0m-70.5-23h0m16 5.5l2.5 1m42 15.5h0m-67.5-22.5h0m-7.5 0h0m19 9.5h0m15.5 6h0m42.5 18h0m-67.5-22.5h0m5 2l2.5 1m-10-1h0m5.5 2h0m5 1.5l5.5 2m23.5 9h0m18.5 6.5l2.5 1m-57-18.5h0m-13-2h0m16 6h0m21.5 10h0m10.5 4h0m5 2h0m-62.5-20.5l2.5 1m16 6h0m-9.5 1.5h0m-5 1h0m6 4.5h0m10.5 4h0m-7.5-.5h0m3 4h0m-19.5-5h0m11 7h0"/><path stroke="#c6ff39" d="M98 94.5h0m52 29h0m2 11h0m-33.5-9.5h0m24 11h0m8.5 6h0m3 3.5h0m-12.5-2h0m5 2h0m-65-21.5h0m6.5 10.5h0m-36 4.5h0m-22.5 9.5h0m-9 4.5h0m97 35.5h0m-93.5-16.5h0m-4 6.5l5.5 2m-7.5-.5h0m5 2h0m-9-.5h0m4.5 1.5h0m-6.5 15.5l2 .5m.5 3h0m-2 1.5h0"/><path stroke="#0000ff" d="M178.5 103.5l1 0m-35-10l3 1m5 2h0m18.5 6.5h0m-26-6.5l3 .5m5 2h0m10.5 4h0m8 3h0m-36.5-11l16 6m13 4.5h0m-28.5-7.5h0m5.5 2h0m5 1.5h0m5.5 2l5 2m-52-16.5h0m24 9l15.5 5.5m-33.5-9.5h0m13 4.5l2.5 1m16 6h0m-55-17.5h0m21 7.5l3 1m23.5 8.5l2.5 1m36 13h0m-64.5-20.5l3 1m15.5 5.5h0m-15-3l2.5 1m10.5 4h0m-44-13.5h0m-2.5 1.5h0m.5 3h0m24.5 11h0m-28.5-7.5h0m13 4.5h0m8 3l2.5 1m-20.5-5h0m-12.5-2h0m13 4.5h0m-18-3.5l2.5 .5m26.5 10h0m-31-9h0m37 13.5h0m-42-12.5h0m26.5 9.5h0m8 3h0m-25.5-4.5h0m-15 0l3 1m102.5 37h0m-110-37.5h0m108 39.5h0m-113-38.5h0m104 43h0m-2.5 1.5h0m-104.5-35.5h0m55 20h0m6 5h0m23.5 8.5h0m21 7.5l5.5 2m-110-37.5l2.5 1m50 18l5.5 2m23.5 8.5l2.5 1m-81-27h0m76.5 28h0m5 2l2.5 1m-83.5-28h0m21 7.5h0m42 15.5l8 3m8 2.5h0m-83.5-27.5l2.5 1m68.5 24.5h0m5 2h0m5.5 2l2.5 1m18.5 6.5h0m-107.5-36.5l2.5 1m34.5 12.5h0m-36.5-10.5l2.5 1m21 7.5l3 1m7.5 3h0m71 25.5l3 1m-118-40l2.5 .5m5.5 2h0m18.5 7l2.5 1m81.5 29.5h0m-110-37.5h0m23.5 8.5h0m5.5 2h0m8 3h0m52.5 19h0m-2 2l2.5 1m-65.5-21.5h0m5.5 2l2.5 1m5.5 2h0m24 11h0m55 20.5l8 2.5m-104.5-35.5l2.5 1m8 3h0m26 9.5h0m66 24h0m-83.5-28h0m76 28h0m5.5 2h0m.5 2.5h0m-12.5 .5l3 1m-7.5 0h0m5 2h0m-62.5-20.5h0m5.5 2h0m39 14.5h0m-2 1.5h0m.5 3h0m-2 1.5l5 2m-.5 2.5h0"/><path stroke="#ffe300" d="M143.5 141.5l2.5 1m-114.5 4.5h0m5 1.5h0m-4.5 1h0m5 2h0m-4.5 1l2.5 .5m-12.5-2h0m-4 1.5h0m9.5 3.5h0m-11.5 16h0m5 2h0m-6 8h0m3.5 3.5h0m-5 1h0m36 20.5h0m-2.5 2h0"/><path stroke="#c60000" d="M72.5 156.5h0m-54 1l3 1m86.5 31.5h0m-90.5-25.5l2.5 1m40 42.5h0m.5 3h0"/><path stroke="#e3ff1c" d="M97.5 92h0m42.5 30.5h0m1 18h0m10.5 4h0m-7.5 0h0m-88.5-2h0m14 10.5h0m60.5 22h0m-91-28h0m-15-.5h0m3 4l3 1m-2.5 1.5l3 1m-12 1h0m-4.5 29h0m32 16.5h0m10.5 4l3 1m-9 4.5h0"/><path stroke="#0039ff" d="M167 106.5h0m10 4h0m-33.5-9.5h0m6 4.5l5 2m19 9.5h0m-15.5-3h0m-25.5-7l2.5 1m16 5.5h0m7.5 3h0m14 5h0m-63.5-20.5h0m34.5 12.5l2.5 1m5.5 2h0m-68-22.5h0m29 10.5h0m15.5 6l8 3m-26-7h0m-17.5-4h0m18 7h0m53 19h0m-84-28h0m13.5 5l2.5 .5m-10-1h0m18.5 7h0m-33.5-7h0m5.5 2h0m5 1.5h0m-15-3h0m26 10h0m-7.5-.5h0m47.5 17.5h0m-54.5-17.5h0m18.5 6.5h0m31.5 11.5h0m-60-19h0m-18-4h0m10.5 3.5h0m-10-1h0m45 19h0m5.5 2h0m50 18.5h0m-12 3h0m-102-34.5h0m5.5 2h0m57.5 21h0m5.5 2h0m-68-22h0m5.5 1.5h0m52.5 19.5h0m8 3h0m-15.5-3.5h0m26.5 10l5 1.5m21 8h0m-102-34.5h0m52.5 19h0m8 3h0m-57.5-18.5h0m39.5 14.5h0m18.5 6.5l13 5m-46.5-14.5h0m26 9.5h0m10.5 3.5h0m10.5 4h0m-70.5-23l5.5 2m18.5 6.5l2.5 1m8 3h0m8 3l2.5 .5m8 3h0m-34-9.5l5.5 2m5 1.5h0m13.5 5h0m23.5 8.5h0m5 2h0m-78-26h0m10.5 4h0m18 6.5h0m26.5 9.5l5.5 2m5 2l2.5 1m8 3h0m-75.5-25l5 1.5m60.5 22h0m8 3h0m5 2h0m-83.5-28h0m23.5 8.5l3 1m28.5 10.5l5.5 2m10.5 4l2.5 1m-44-13.5h0m5 2h0m26.5 9.5h0m-49.5-15.5h0m5.5 2h0m7.5 2.5l8 3m8 3l2.5 1m5.5 2h0m13 4.5l2.5 1m18.5 6.5h0m-65-21h0m21 7.5h0m5 2h0m5.5 2h0m-28.5-8h0m5 2h0m5.5 2h0m13 5l2.5 1m13.5 4.5h0m15.5 6h0m16 5.5h0m-73.5-24h0m5.5 2l5.5 2m5 2h0m18.5 6.5l5 2m16 5.5h0m-76-25h0m13.5 5h0m13 4.5h0m18.5 7h0m8 2.5h0m10.5 4l2.5 1m10.5 4h0m-76-25l3 1m5 1.5h0m24 9l2.5 1m10.5 3.5h0m13 5h0m-60-19.5l2.5 1m10.5 4h0m24 8.5h0m8 3l7.5 2.5m8 3h0m5.5 2h0m7.5 3h0m-33.5-10h0m5.5 2h0m10.5 4h0m7.5 3h0m24 8.5h0m-31-9h0m-21-5h0m21.5 8h0m13 4.5h0m-31-8.5l2.5 1m-36.5-11h0m5.5 2h0m26 9.5h0m11 4h0m-42-12.5h0m34.5 12.5h0m39.5 14.5h0m-42-13h0m45 16.5h0m-7.5 0h0m-38.5-9h0m24 8.5h0m-55-17.5h0m-19.5-2l7.5 3m5 2h0m38.5 16.5h0m-53-4h0m4.5 4h0"/><path stroke="#0000e3" d="M180 101.5h0m-4 1h0m-34-10h0m8 3h0m5.5 2h0m5 2l2.5 .5m5.5 2h0m5 2h0m-139-48l8 3m95 34.5l5 2m13.5 4.5l5 2m5.5 2l2.5 1m-134-46l3 .5m44.5 16.5h0m50 18h0m21 8l8 3m-31-9l2.5 1m-102-34.5h0m68.5 24.5l2.5 1m21 8h0m-31-9l2.5 1m18.5 7h0m8 2.5h0m8 3l2.5 1m5 2l3 1m-26-7h0m10.5 4l8 2.5m-10-1l2.5 1m-7.5 0l5.5 2m-45.5-6.5h0m13.5 7.5l3 1m-23.5-6h0m21 8l3 1m5 1.5h0m-12 1h0m-31-9h0m34 12.5h0m-41-10h0m-4.5 3.5h0m111 43l3.5 1.5m-5.5 .5l5 1.5m-10-.5h0m-112.5-38.5h0m108.5 42l2.5 1m-112.5-38.5h0m108 39l2.5 1m5 2l5.5 2m-12.5-2l11 4m-118.5-40.5h0m113 41l5 1.5m-12.5-1.5l3 1m5 1.5l4.5 2m-14.5-3l2.5 1m8 3l2.5 1m-115-39.5h0m26 9.5h0m58 21h0m16 6l14.5 5m-119.5-40.5h0m108 39l10 4m-125.5-43.5l3 1m107.5 39.5l3 1m8 3h0m-121-41.5l3 1m105 38h0m8 3l2.5 1m-31-8.5h0m21 7.5l2.5 1m-7 0l7.5 2.5m-10-1h0m-2 2l8 2.5m-7.5 0l10.5 4m-12.5-2l18.5 6.5m4 1.5h0m-24.5-6.5h0m5 2l8 3m5 2h0m5 1.5h0m-25.5-6.5l21 7.5m4.5 1.5h0m-27.5-7.5l27 10m-26.5-7l10.5 3.5m8 3h0m-20.5-5l8 3m5 2h0m5.5 2l2.5 1m-20.5-5l21 7.5m5 2h0m-28.5-8h0m11 4l5 2m-15.5-3l5.5 2m5 1.5h0m-7 0l3.5 1.5"/><path stroke="#0055ff" d="M97 89h0m63.5 23h0m10.5 4h0m-20.5-5l2.5 1m8 2.5l2.5 1m-10-1h0m8 3h0m5 2l2.5 1m-81-27h0m50 18h0m16 6l2.5 1m13 4.5l1.5 .5m-61.5-19.5h0m29 10.5h0m8 2.5l2.5 1m-67.5-22h0m31.5 11.5h0m7.5 3h0m-38-9l7.5 3m18.5 6.5h0m-31-8.5l5.5 1.5m52.5 19.5h0m-47-14.5h0m-15.5-3h0m21.5 7.5h0m-23.5-6h0m10.5 4h0m13.5 4.5l2.5 1m5 2h0m-39-11.5h0m24 8.5h0m-28.5-7.5l2.5 .5m13 5h0m18.5 6.5h0m-10-1l5.5 2m-23.5-6h0m93 36.5h0m-97-33h0m36.5 13.5h0m26.5 9.5h0m10.5 4h0m-86.5-29h0m76.5 28h0m-83.5-28h0m102.5 37.5h0m-47-14.5h0m-52-16.5l2.5 1m13 4.5h0m37 13.5h0m5.5 2h0m-63-20h0m5.5 1.5h0m5 2h0m32 11.5h0m15.5 6l2.5 1m5.5 1.5h0m-68-22l2.5 1m60.5 22l8 3m-23-6h0m15.5 6l3 .5m-60-19h0m94.5 34.5h0m-65-18.5h0m16 5.5l2.5 1m31.5 11.5h0m-81-27l3 1m7.5 3h0m16 6h0m18.5 6.5l8 3m26 9.5h0m-68-22.5l3 1m5 2h0m21 8l3 .5m13 5h0m8 3l2.5 1m-18-4l8 3m31.5 11h0m-47-14.5h0m10.5 4h0m34.5 12.5h0m-86.5-29h0m34 12.5l8 3m5.5 2h0m5 2h0m8 2.5h0m13 5h0m8 3l2.5 1m-60-19.5l3 1m7.5 3h0m5.5 2h0m5 1.5l3 1m-49.5-15.5h0m31.5 11.5h0m5 2h0m-17.5-4h0m5 2h0m5.5 2h0m24 11.5l2.5 .5m-44-13.5h0m34 12.5l2.5 1m-54.5-17.5h0m8 3h0m5 2l2.5 1m5.5 2l2.5 1m8 2.5l5.5 2m18 7l8 2.5m5.5 2h0m-57.5-18h0m16 5.5h0m21 7.5l2.5 1m5 2h0m-28-7.5h0m13 4.5l5 2m8 3h0m13 4.5h0m-75.5-25l2.5 1m42 15.5l3 1m7.5 2.5h0m5.5 2l2.5 1m8 3h0m-10-1h0m5 2h0m18.5 6.5h0m-31-9h0m29 11h0m-73-24.5h0m31.5 11.5h0m36.5 13.5h0m-41.5-12.5h0m8 3l2.5 1m-10-1.5h0m45 16.5h0m-42-12.5h0m.5 2.5l3 1m21 8h0m5 1.5h0m-41.5-12.5h0m13 5h0m24 8.5h0m-65.5-21h0m5.5 1.5h0m34 12.5h0m-39-11.5h0m-2 2h0m5 1.5h0m34.5 12.5h0m-51-16h0m51.5 19h0m-48-7.5l2.5 1m5.5 2h0m-9.5 1.5l2.5 1"/><path stroke="#e30000" d="M129 169.5h0m-2 2h0m-8 9.5h0m-6 8h0m-97-22.5h0m80 37l2.5 1m-44 2h0m.5 2.5l2.5 1"/><path stroke="#ffaa00" d="M59.5 139l2.5 1m-12 1h0m-16 7h0m-1 7h0m-14.5 15h0m-2.5 14.5h0m33.5 20h0m-6 8h0"/><path stroke="#00aaff" d="M164.5 108.5h0m8.5 5.5h0m-18-4h0m-12 1l2.5 .5m-39-11.5h0m52.5 19l3 1m-10-1h0m13 5l2.5 1m3 3.5h0m-86-29h0m10.5 4h0m63 23h0m-28.5-8h0m31.5 11.5h0m-10-1l3 1m-25.5-4h0m-60-19.5h0m8 3h0m23.5 8.5h0m-33.5-9.5h0m10.5 4h0m29 10.5h0m21 7.5h0m-60-19.5h0m57.5 21h0m34.5 12.5h0m3.5 1.5h0m-84.5-28.5h0m47 17.5h0m37 13.5h0m-110-37.5h0m16 5.5h0m34 12.5h0m26.5 9.5h0m32 12h0m-60.5-19.5h0m5 2h0m34.5 12h0m15.5 6h0m-89-30h0m18.5 7h0m5.5 2h0m26 9.5l5.5 1.5m10.5 4h0m15.5 6h0m-96.5-33h0m5 2h0m5.5 2h0m8 3h0m10.5 3.5h0m21 8h0m8 2.5h0m5 2h0m.5 3h0m5.5 2h0m-78.5-26h0m5 1.5l2.5 1m53 19.5h0m5 1.5h0m5.5 2l2.5 1m8 3h0m10.5 4h0m-76-25.5h0m24 9h0m5 2h0m31.5 11.5h0m16.5 8h0m-76-25h0m5.5 2h0m5.5 5h0m10.5 3.5h0m50 18.5h0m-75.5-25h0m13 4.5h0m10.5 4h0m-33.5-10h0m31.5 11.5h0m-5 1h0m-15-3h0m-22.5-.5h0m85 33.5h0m-97-33h0m22 26h0m10.5 4h0m55 20h0m-70.5-23h0m8 3l2.5 .5m5.5 2h0m7.5 3l3 1m-41.5-12.5h0m18 6.5h0m5.5 2h0m10.5 4h0m50 18h0m-65.5-21h0m-14.5-.5h0m13 5h0m37 13h0m-47-14.5l2.5 1m37 13.5h0m8 3h0m-49.5-15.5h0m23.5 8.5h0m47.5 17.5h0m-47-14.5h0m18.5 6.5h0m16 6h0m-57.5-18.5h0m5 2h0m8 3l5.5 1.5m13 5h0m18.5 6.5l2.5 1m-28.5-7.5h0m16 5.5h0m13 5h0m-52-16.5h0m47 17h0m-46.5-14.5l2.5 1m37 13.5h0m-52.5-16.5l3 1m-5 1h0m8 3l2.5 .5m5.5 2h0m-13-2l3 1m5 2h0m-7.5 0h0m6 4.5h0"/><path stroke="#39ffc6" d="M160 109.5h0m5 1.5l3 1m-65-18.5h0m-10-1h0m11 6.5h0m.5 3h0m-12.5-2h0m57.5 21h0m5.5 2h0m-20.5-5h0m5 2h0m-4.5 .5h0m-26-6.5h0m16 5.5h0m13 5h0m-2 1.5h0m5 2h0m13.5 5h0m8 5.5h0m-91-28h0m37 13h0m13 5h0m-12.5-2h0m8 3h0m21 7.5l2.5 1m-57-15.5h0m24 8.5l2.5 1m26 9.5h0m-25.5-7h0m39.5 14.5h0m-36.5-10.5h0m31.5 11.5h0m-96.5-30h0m13.5 4.5h0m13 5h0m8 3h0m8 2.5h0m5 2h0m-44-13.5h0m31.5 11.5h0m-7 2.5h0m-10-1h0m68.5 25h0m-3 11.5h0m-12 1h0m-94-29h0m11.5 9h0m72.5 31.5h0m3.5 6.5h0m-61-9.5h0m1 5.5h0m21.5 10.5h0m-49.5-15.5h0m50 18l3 1m-39-11.5h0m10.5 4h0m26 9.5l3 1m-23.5-6h0m18.5 7h0m-33.5-10l2.5 1m-7.5 0h0m1 5.5h0m-23-6h0"/><path stroke="#aaff55" d="M162.5 110h0m-65.5-8.5h0m58 34l2.5 1m-41-10h0m37 16.5h0m-4.5 .5h0m-10-1h0m10.5 4l2.5 1m-76-25.5l3 1m36.5 13.5h0m22.5 28.5h0m-75.5-22h0m12.5 14.5h0m-48.5-10h0m-1.5 4.5h0m-1.5 4.5h0m-8.5 17.5h0m41.5 15h0m-39-11.5h0m34.5 28h0m-14.5 2.5h0m-27-7.5h0m27.5 10h0m-27.5-7.5h0"/><path stroke="#00ffff" d="M167.5 109.5h0m-60-16.5h0m-4 3.5h0m37 13.5h0m-41-7.5h0m42.5 15.5l2.5 1m-23.5-6h0m26.5 9.5h0m5.5 2l2.5 1m-23-6h0m-21-5h0m56 20.5h0m-50-15.5h0m13 4.5h0m31.5 11.5h0m-52-16.5l5.5 2m10.5 4h0m5 2h0m8 3h0m-28.5-8l2.5 1m13.5 4.5h0m15.5 6h0m22.5 8h0m-95.5-32h0m55 20h0m-4.5 1l2.5 1m-49.5-15.5h0m39.5 14h0m-31-8.5h0m18.5 6.5h0m13 5h0m45 16h0m-65.5-21h0m-23-6h0m7.5 3h0m.5 2.5h0m10.5 4h0m-10-1l3 1m18 6.5h0m13.5 5h0m5 2h0m-39-12h0m10.5 4h0m21 7.5h0m24.5 11.5h0m-77.5-20.5h0m68.5 25h0m8 3h0m-76-25.5h0m79 29h0m-65.5-8.5h0m-23 22h0m32.5 17l5.5 2m-47-14.5h0m8 3l2.5 1m23.5 8.5h0m8 3h0m18.5 6.5h0m-57.5-18h0m45 16h0m-57.5-18.5h0m26 10h0m18.5 6.5h0m-51.5-13.5h0m12.5 14.5h0m-2 2h0m-7.5-.5h0m5 2h0m3.5 4h0m-7.5-.5h0"/><path stroke="#ffc600" d="M101 95.5h0m-46 44.5h0m-26 6h0m-6 8h0m-2.5 14.5h0m-1.5 4.5h0m-4 6h0m42 28h0m-15-3h0m-2.5 2l3 1m-2.5 1.5h0m8 3h0"/><path stroke="#0071ff" d="M174 107h0m-4.5 .5h0m6 7.5h0m-25.5-7h0m13 5l5.5 2m-21-5h0m-10-1h0m18.5 6.5h0m-60-19h0m37 13h0m8 3h0m.5 3h0m-34-10h0m55.5 20h0m-76-25l2.5 1m13.5 5l2.5 1m60.5 22l3 1m-18.5-4l8 2.5m5.5 2h0m-57.5-18h0m59.5 24h0m-79.5-26.5l2.5 1m-10-1h0m.5 2.5l2.5 1m18.5 7h0m29 10.5h0m33.5 12h0m-99-33.5h0m5.5 2h0m60.5 22h0m-68-22l2.5 1m26.5 9.5l2.5 1m21 7.5h0m-57-18h0m5.5 4.5h0m-7.5 0l3 1m68 24.5l3 1m-84-28h0m26.5 10l2.5 .5m16 6h0m7.5 3h0m24 8.5h0m-13-2h0m32 11.5h0m-102.5-34.5h0m79 28.5h0m-78.5-26h0m10.5 4h0m21.5 7.5h0m7.5 3h0m10.5 3.5h0m18.5 7h0m5.5 2h0m26 9.5h0m-91.5-31h0m5.5 2l2.5 1m29 10.5h0m5 2h0m18.5 6.5l8 3m-31-8.5h0m37 13h0m-81.5-27h0m18.5 7l5.5 2m18.5 6.5h0m23.5 8.5h0m21 8h0m-81-27h0m79 28.5h0m-78.5-26l2.5 1m23.5 8.5h0m5.5 2l2.5 1m55.5 20h0m-10-1h0m-75.5-22h0m8 2.5h0m29 10.5h0m.5 3h0m29 10.5h0m-44.5-13.5h0m5.5 2l2.5 1m16 5.5l2.5 1m26 9.5h0m-57-18.5h0m5 2h0m24 9l2.5 .5m-15.5-3h0m31.5 11.5h0m-49-12.5h0m24.5 11.5h0m15.5 5.5h0m-62.5-20l5 1.5m68.5 25h0m-78.5-26h0m5.5 2h0m-10-1l2.5 1m5.5 2h0m13 4.5l2.5 1m-28.5-7.5h0m16 5.5h0m10.5 4l2.5 1m5.5 1.5h0m5 2h0m-2 2h0m23.5 8.5h0m8 3h0m10.5 3.5h0m-83.5-27.5h0m34 12.5h0m34.5 12h0m-63-20l3 1m5 2h0m23.5 8.5h0m21.5 7.5h0m5 2l2.5 1m-62.5-20h0m10.5 3.5l2.5 1m34.5 12.5h0m29 10.5h0m-76-25h0m5.5 2l2.5 1m26 9.5h0m10.5 4h0m-7-.5h0m.5 3l2.5 1m-7.5-.5h0m29 10.5h0m5.5 2h0m-65.5-21h0m5.5 2h0m13 4.5h0m18.5 7h0m15.5 5.5h0m8 3h0m-65.5-21.5h0m39.5 14.5h0m19 7h0m-72.5-24h0m14.5 5.5h0m34.5 12.5h0m8 3l2.5 1m-7.5-.5l2.5 1m-54.5-17.5l2.5 1m10.5 4h0m-6 8h0m-4.5 1h0m8 2.5h0"/><path stroke="#71ff8e" d="M102.5 91h0m-2 1.5h0m26 22.5h0m10.5 4h0m6.5 7h0m.5 3h0m5 2h0m-2 1.5l2.5 1m6 4.5h0m-44.5-13.5h0m34.5 12.5h0m7.5 3h0m-7.5 0h0m1.5 8h0m-7 0h0m-2.5 1.5h0m-81-26.5h0m16 5.5h0m13 5h0m-11.5 3h0m52.5 19.5h0m-52-16.5h0m-43.5 17.5h0m73 36.5h0m-46-9h0m-38.5-9l2.5 1m24 8.5l2.5 1m10.5 4h0m-44.5-13.5h0m45 16.5h0m34 12h0m-35.5-7.5h0m1 5h0m-20 1h0"/><path stroke="#00008e" d="M193.5 9h0m5.5 4.5h0m8 3h0m5.5 2h0m-15.5-3h0m10.5 4h0m-23-6l5 2m5.5 2h0m5 1.5h0m-36-10.5h0m13 5l13 4.5m-7.5 0h0m18.5 6.5h0m-34.5 .5h0m-33.5-10l10.5 4m34 12.5l3 1m-68-22l5 1.5m16 6l2.5 1m5.5 2l5 1.5m34.5 12.5h0m-60-19h0m13 4.5h0m16 6h0m-45-3.5h0m5 2h0m16.5 8.5h0m23.5 8.5l5.5 2m-34.5 0h0m5.5 2h0m-34-9.5l8 2.5"/><path stroke="#0000aa" d="M219 .5l5 2m-12-2l11.5 4m-18.5-4l17 6.5m-24-6.5l23.5 8.5m-30.5-8.5l29.5 11m-33.5-10l32 12m-42-13l41.5 15m-48.5-15l20.5 7.5m5.5 2l21 7.5m-52-16l31.5 11.5m5 1.5l3 1m5 2h0m5.5 2l1 .5m-60-19.5l1.5 .5m5.5 2l31.5 11.5m5 2l5.5 2m5 2l6 2m-67-22l32.5 12m10.5 4h0m5.5 1.5h0m5 2l12 4.5m-72.5-24l19 7m5.5 2l8 3m18 6.5l21 7.5m-78.5-26l45 16.5m5.5 2l13 4.5m5 2l9 3.5m-84.5-28.5l81.5 30m-88.5-30l68 25m5 2l17.5 6m-98-33l70.5 25.5m13.5 5l12 4.5m-102.5-35h0m4 1.5l98 36m-109-37.5l64 23.5m5.5 2l39 14m-115.5-39.5l37.5 14m15.5 5.5l29 10.5m8 3l24 8.5m-121-41.5l24 9m10.5 3.5l10.5 4m8 3h0m10.5 3.5l28.5 10.5m5.5 2l18.5 7m4 1.5h0m-124.5-43l2.5 1m8 3l26 9.5m5.5 2l8 2.5m5 2l10.5 4m5.5 2l53 19m-134-46l5 2m5.5 2h0m10.5 3.5l105 38.5m5.5 2l1 .5m-139.5-48.5l2 .5m5.5 2l131.5 48m-139-48h0m8 3l5 2m5.5 1.5l52.5 19.5m5.5 2l57.5 21m4 1.5h0m-135-47h0m5.5 2l2.5 1m10.5 4l105 38m-147-51l16 6m10.5 4h0m18.5 6.5l13.5 5m5 2h0m5.5 1.5l76 28m-149.5-52l24 9m13 4.5l10.5 4m5 2l32 11.5m5 1.5l18.5 7m10.5 3.5l26.5 10m-149.5-52h0m10.5 4h0m26 9.5l127 46m-163.5-57l16 6m5.5 2h0m8 2.5l10.5 4m5 2h0m5.5 2h0m5 2l84.5 30.5m15.5 5.5l2.5 1m4.5 1.5h0m-159-55l10.5 3.5m10.5 4l16 6m10.5 3.5l7.5 3m5.5 2l2.5 1m5.5 2l68.5 24.5m15.5 6l5 2m-161.5-56.5h0m4.5 1.5h0m23.5 8.5l10.5 4m8 3l105.5 38.5m5 1.5h0m4 1.5h0m-160.5-56l2 1m23.5 8.5l8 3m18.5 6.5l31.5 11.5m5 2h0m5.5 2l65 23.5m-109.5-37l5.5 2m13 4.5l71 26m13.5 4.5l5.5 2.5m-137-47.5l3 1m5 2h0m8 3l71 25.5m13 5l16 5.5m-115.5-39l5.5 1.5m5.5 2l84 31m5 1.5h0m5.5 2h0m-128-44h0m15.5 5.5h0m7.5 3h0m5.5 2l2.5 1m8 3l16 5.5m10.5 4h0m5 2l31.5 11.5m8 2.5h0m8 3l8 3m-126-43.5l8 3m5 2l5.5 2m50 18l2.5 1m5.5 2l15.5 5.5m18.5 7l13 4.5m8 3l2.5 1m21.5 7.5h0m-157-54.5l18 6.5m7.5 3h0m26.5 9.5h0m8 3l10.5 4m13 4.5l31.5 11.5m-112.5-38.5l5.5 2m5 2l16 5.5m5 2h0m5.5 2l2.5 1m8 3l8 2.5m5 2l8 3m5 2l3 1m5 2l39.5 14m5.5 2h0m26 9.5h0m-146.5-50.5l7.5 2.5m8 3h0m8 3l58 21m5 2h0m13.5 4.5l7.5 3m37 13.5l1.5 .5m-151-52.5h0m8 3h0m26 9.5l16 6m5.5 1.5h0m7.5 3l29 10.5m5.5 2l15.5 6m16 5.5h0m20 7.5h0m-146-50.5h0m8 2.5h0m26.5 9.5l26 10m5.5 1.5h0m5 2h0m10.5 4l10.5 4m11 3.5h0m10.5 4l2.5 1m5 2h0m-128-44.5l13 5m26 9.5h0m8 3h0m16 5.5h0m5 2l3 1m21 7.5l5 2m29 10.5h0m-115-39.5l5 2m13 5l3 1m5 2h0m18.5 6.5h0m10.5 4l5.5 1.5m15.5 6l5.5 2m15.5 5.5l3 1m5 2l2.5 1m10.5 4h0m10.5 3.5l3 1m5 2l3 1m-142-49l3 1m5 2l2.5 1m5.5 1.5l2.5 1m10.5 4l2.5 1m16 5.5l10.5 4m16 6l13 4.5m13 5h0m8 3h0m23.5 8.5h0m-141-49h0m5 2l15.5 5.5m5.5 2h0m10.5 4l31.5 11.5m16 5.5l15.5 6m8 2.5l5 2m8 3h0m13.5 4.5l2.5 1m-136.5-47l26.5 9.5m15.5 6l29 10.5m16 5.5l13 5m5.5 2h0m10.5 4l2.5 .5m-119-40.5l9 3m8 3l21 8m5 1.5h0m10.5 4h0m5.5 2l37 13.5m-96-32.5h0m17.5 6.5l26 9.5m24 8.5l2.5 1m5.5 2l13 4.5m5 2h0m5.5 2l5 2m-89-30l24 8.5m34 12.5h0m13.5 5h0m7.5 3l3 1m-86.5-29l13 4.5m8 3l2.5 1m24 8.5h0m23.5 9l2.5 1m8 2.5h0m-81-27l2.5 1m8 3l10.5 4m18.5 6.5l13 5m18.5 6.5l2.5 1m-81-27l8 3m8 3h0m5 1.5l8 3m-33-9.5h0m12.5 4.5h0m10.5 4l13 5m50 18h0m-83.5-28h0m13 5l24 8.5m-28.5-8l29 10.5m-41-12h0m4.5 1.5l2.5 1m5.5 2l18 6.5m8 3h0m-36-10.5h0m5 1.5l10.5 4m5.5 2l2.5 1m18.5 6.5l2.5 1m-48.5-15l7 2.5m21 7.5l18.5 7m-26-7h0m5.5 2l21 7.5m-41.5-12.5l5 2m5.5 2l26 9.5m-42-13l37.5 13.5m-36.5-10.5l29 10.5m-18-4l16 6m-28.5-8l2.5 1m18.5 6.5l2.5 1m-20.5-5l2.5 1m13.5 5l2.5 1m36.5 13.5h0m-59-19h0m4.5 1.5l2.5 1m5.5 2h0m5 2l3 .5m-18-3.5l13 4.5m-16-3l16.5 6m-16.5-3.5l14.5 5m-15-3l10 4m-10-1.5l5.5 2m-6 .5l3.5 1.5m-4 1l4.5 1.5m-4.5 1l5 2m-5.5 .5l9 3m-10-1l10.5 4m-10-1l10.5 3.5m-11-1.5l8.5 3.5m-9.5-1l7.5 2.5m-7 0l2 1m116 55l2.5 1"/></g>
<use href="#map"/>
<rect x="0.5" y="0.5" width="233.3" height="212.5" fill="none" stroke="#262626" stroke-width="1"/>
<text x="19.5" y="-19.7" font-size="12.2" font-weight="bold" text-anchor="start" fill="#262626" textLength="24.6" lengthAdjust="spacingAndGlyphs" stroke="#262626" stroke-width="0.22">100</text>
<circle cx="48.6" cy="-32.0" r="1.5" fill="none" stroke="#262626" stroke-width="0.9"/>
<text x="56.3" y="-19.7" font-size="12.2" font-weight="bold" text-anchor="start" fill="#262626" textLength="13.2" lengthAdjust="spacingAndGlyphs" stroke="#262626" stroke-width="0.22">W</text>
<text x="88.5" y="-19.7" font-size="12.2" font-weight="bold" text-anchor="start" fill="#262626" textLength="16.4" lengthAdjust="spacingAndGlyphs" stroke="#262626" stroke-width="0.22">90</text>
<circle cx="109.4" cy="-32.0" r="1.5" fill="none" stroke="#262626" stroke-width="0.9"/>
<text x="117.1" y="-19.7" font-size="12.2" font-weight="bold" text-anchor="start" fill="#262626" textLength="13.2" lengthAdjust="spacingAndGlyphs" stroke="#262626" stroke-width="0.22">W</text>
<text x="152.2" y="-19.7" font-size="12.2" font-weight="bold" text-anchor="start" fill="#262626" textLength="16.4" lengthAdjust="spacingAndGlyphs" stroke="#262626" stroke-width="0.22">80</text>
<circle cx="173.2" cy="-32.0" r="1.5" fill="none" stroke="#262626" stroke-width="0.9"/>
<text x="181.0" y="-19.7" font-size="12.2" font-weight="bold" text-anchor="start" fill="#262626" textLength="13.2" lengthAdjust="spacingAndGlyphs" stroke="#262626" stroke-width="0.22">W</text>
<text x="215.8" y="-19.7" font-size="12.2" font-weight="bold" text-anchor="start" fill="#262626" textLength="16.4" lengthAdjust="spacingAndGlyphs" stroke="#262626" stroke-width="0.22">70</text>
<circle cx="236.8" cy="-32.0" r="1.5" fill="none" stroke="#262626" stroke-width="0.9"/>
<text x="244.5" y="-19.7" font-size="12.2" font-weight="bold" text-anchor="start" fill="#262626" textLength="13.2" lengthAdjust="spacingAndGlyphs" stroke="#262626" stroke-width="0.22">W</text>
<text x="-49.6" y="17.1" font-size="12.2" font-weight="bold" text-anchor="start" fill="#262626" textLength="16.9" lengthAdjust="spacingAndGlyphs" stroke="#262626" stroke-width="0.22">48</text>
<circle cx="-28.2" cy="3.0" r="1.5" fill="none" stroke="#262626" stroke-width="0.9"/>
<text x="-20.5" y="17.1" font-size="12.2" font-weight="bold" text-anchor="start" fill="#262626" textLength="9.4" lengthAdjust="spacingAndGlyphs" stroke="#262626" stroke-width="0.22">N</text>
<text x="-49.6" y="34.4" font-size="12.2" font-weight="bold" text-anchor="start" fill="#262626" textLength="16.9" lengthAdjust="spacingAndGlyphs" stroke="#262626" stroke-width="0.22">46</text>
<circle cx="-28.2" cy="20.3" r="1.5" fill="none" stroke="#262626" stroke-width="0.9"/>
<text x="-20.5" y="34.4" font-size="12.2" font-weight="bold" text-anchor="start" fill="#262626" textLength="9.4" lengthAdjust="spacingAndGlyphs" stroke="#262626" stroke-width="0.22">N</text>
<text x="-49.6" y="51.6" font-size="12.2" font-weight="bold" text-anchor="start" fill="#262626" textLength="16.9" lengthAdjust="spacingAndGlyphs" stroke="#262626" stroke-width="0.22">44</text>
<circle cx="-28.2" cy="37.5" r="1.5" fill="none" stroke="#262626" stroke-width="0.9"/>
<text x="-20.5" y="51.6" font-size="12.2" font-weight="bold" text-anchor="start" fill="#262626" textLength="9.4" lengthAdjust="spacingAndGlyphs" stroke="#262626" stroke-width="0.22">N</text>
<text x="-49.6" y="70.2" font-size="12.2" font-weight="bold" text-anchor="start" fill="#262626" textLength="16.9" lengthAdjust="spacingAndGlyphs" stroke="#262626" stroke-width="0.22">42</text>
<circle cx="-28.2" cy="56.1" r="1.5" fill="none" stroke="#262626" stroke-width="0.9"/>
<text x="-20.5" y="70.2" font-size="12.2" font-weight="bold" text-anchor="start" fill="#262626" textLength="9.4" lengthAdjust="spacingAndGlyphs" stroke="#262626" stroke-width="0.22">N</text>
<text x="-49.6" y="86.5" font-size="12.2" font-weight="bold" text-anchor="start" fill="#262626" textLength="16.9" lengthAdjust="spacingAndGlyphs" stroke="#262626" stroke-width="0.22">40</text>
<circle cx="-28.2" cy="72.4" r="1.5" fill="none" stroke="#262626" stroke-width="0.9"/>
<text x="-20.5" y="86.5" font-size="12.2" font-weight="bold" text-anchor="start" fill="#262626" textLength="9.4" lengthAdjust="spacingAndGlyphs" stroke="#262626" stroke-width="0.22">N</text>
<text x="-49.6" y="101.1" font-size="12.2" font-weight="bold" text-anchor="start" fill="#262626" textLength="16.9" lengthAdjust="spacingAndGlyphs" stroke="#262626" stroke-width="0.22">38</text>
<circle cx="-28.2" cy="87.0" r="1.5" fill="none" stroke="#262626" stroke-width="0.9"/>
<text x="-20.5" y="101.1" font-size="12.2" font-weight="bold" text-anchor="start" fill="#262626" textLength="9.4" lengthAdjust="spacingAndGlyphs" stroke="#262626" stroke-width="0.22">N</text>
<text x="-49.6" y="118.4" font-size="12.2" font-weight="bold" text-anchor="start" fill="#262626" textLength="16.9" lengthAdjust="spacingAndGlyphs" stroke="#262626" stroke-width="0.22">36</text>
<circle cx="-28.2" cy="104.3" r="1.5" fill="none" stroke="#262626" stroke-width="0.9"/>
<text x="-20.5" y="118.4" font-size="12.2" font-weight="bold" text-anchor="start" fill="#262626" textLength="9.4" lengthAdjust="spacingAndGlyphs" stroke="#262626" stroke-width="0.22">N</text>
<text x="-49.6" y="132.9" font-size="12.2" font-weight="bold" text-anchor="start" fill="#262626" textLength="16.9" lengthAdjust="spacingAndGlyphs" stroke="#262626" stroke-width="0.22">34</text>
<circle cx="-28.2" cy="118.8" r="1.5" fill="none" stroke="#262626" stroke-width="0.9"/>
<text x="-20.5" y="132.9" font-size="12.2" font-weight="bold" text-anchor="start" fill="#262626" textLength="9.4" lengthAdjust="spacingAndGlyphs" stroke="#262626" stroke-width="0.22">N</text>
<text x="-49.6" y="149.4" font-size="12.2" font-weight="bold" text-anchor="start" fill="#262626" textLength="16.9" lengthAdjust="spacingAndGlyphs" stroke="#262626" stroke-width="0.22">32</text>
<circle cx="-28.2" cy="135.3" r="1.5" fill="none" stroke="#262626" stroke-width="0.9"/>
<text x="-20.5" y="149.4" font-size="12.2" font-weight="bold" text-anchor="start" fill="#262626" textLength="9.4" lengthAdjust="spacingAndGlyphs" stroke="#262626" stroke-width="0.22">N</text>
<text x="-49.6" y="164.0" font-size="12.2" font-weight="bold" text-anchor="start" fill="#262626" textLength="16.9" lengthAdjust="spacingAndGlyphs" stroke="#262626" stroke-width="0.22">30</text>
<circle cx="-28.2" cy="149.9" r="1.5" fill="none" stroke="#262626" stroke-width="0.9"/>
<text x="-20.5" y="164.0" font-size="12.2" font-weight="bold" text-anchor="start" fill="#262626" textLength="9.4" lengthAdjust="spacingAndGlyphs" stroke="#262626" stroke-width="0.22">N</text>
<text x="-49.6" y="176.6" font-size="12.2" font-weight="bold" text-anchor="start" fill="#262626" textLength="16.9" lengthAdjust="spacingAndGlyphs" stroke="#262626" stroke-width="0.22">28</text>
<circle cx="-28.2" cy="162.5" r="1.5" fill="none" stroke="#262626" stroke-width="0.9"/>
<text x="-20.5" y="176.6" font-size="12.2" font-weight="bold" text-anchor="start" fill="#262626" textLength="9.4" lengthAdjust="spacingAndGlyphs" stroke="#262626" stroke-width="0.22">N</text>
<text x="-49.6" y="191.7" font-size="12.2" font-weight="bold" text-anchor="start" fill="#262626" textLength="16.9" lengthAdjust="spacingAndGlyphs" stroke="#262626" stroke-width="0.22">26</text>
<circle cx="-28.2" cy="177.6" r="1.5" fill="none" stroke="#262626" stroke-width="0.9"/>
<text x="-20.5" y="191.7" font-size="12.2" font-weight="bold" text-anchor="start" fill="#262626" textLength="9.4" lengthAdjust="spacingAndGlyphs" stroke="#262626" stroke-width="0.22">N</text>
<text x="-49.6" y="205.7" font-size="12.2" font-weight="bold" text-anchor="start" fill="#262626" textLength="16.9" lengthAdjust="spacingAndGlyphs" stroke="#262626" stroke-width="0.22">24</text>
<circle cx="-28.2" cy="191.6" r="1.5" fill="none" stroke="#262626" stroke-width="0.9"/>
<text x="-20.5" y="205.7" font-size="12.2" font-weight="bold" text-anchor="start" fill="#262626" textLength="9.4" lengthAdjust="spacingAndGlyphs" stroke="#262626" stroke-width="0.22">N</text>
<text x="-49.6" y="218.7" font-size="12.2" font-weight="bold" text-anchor="start" fill="#262626" textLength="16.9" lengthAdjust="spacingAndGlyphs" stroke="#262626" stroke-width="0.22">22</text>
<circle cx="-28.2" cy="204.6" r="1.5" fill="none" stroke="#262626" stroke-width="0.9"/>
<text x="-20.5" y="218.7" font-size="12.2" font-weight="bold" text-anchor="start" fill="#262626" textLength="9.4" lengthAdjust="spacingAndGlyphs" stroke="#262626" stroke-width="0.22">N</text>
<rect x="245.0" y="-1.5" width="24" height="215.5" fill="url(#jet)" stroke="#262626" stroke-width="0.8"/>
<path d="M269.0 106.8h-4" stroke="#262626" stroke-width="1"/>
<text x="278.5" y="6.3" font-size="21.0" font-weight="bold" text-anchor="start" fill="#262626" textLength="41.5" lengthAdjust="spacingAndGlyphs" stroke="#262626" stroke-width="0.38">100</text>
<text x="278.5" y="114.3" font-size="21.0" font-weight="bold" text-anchor="start" fill="#262626" textLength="26.8" lengthAdjust="spacingAndGlyphs" stroke="#262626" stroke-width="0.38">50</text>
<text x="278.5" y="221.8" font-size="21.0" font-weight="bold" text-anchor="start" fill="#262626" textLength="12.2" lengthAdjust="spacingAndGlyphs" stroke="#262626" stroke-width="0.38">0</text>
<text x="-56.0" y="244.2" font-size="21.3" font-weight="bold" text-anchor="start" fill="#262626" textLength="333.0" lengthAdjust="spacingAndGlyphs" stroke="#262626" stroke-width="0.38">SAT 200 hPa RH (Percent)</text>
</g>
<g transform="translate(1037.4,95.5)">
<g transform="scale(1.0068,1.0070)">
<g fill="none" stroke-linecap="round" stroke-width="6.6"><path stroke="#00e3ff" d="M194 68h0m-161-7.5h0m-3.5 1.5h0m-1 9.5h0m142 57h0m-141.5-36h0m-14 86.5h0m82.5 32.5l2 1m-7 0h0m-76.5-15h0m-5 8h0m4.5 2h0m-4.5 3.5h0m4.5 1.5h0"/><path stroke="#00ffff" d="M31 62.5l2.5 1m-2 1.5h0m138 58h0m.5 3h0m-141-49h0m137 52.5h0m-139-38h0m122 80h0m-128.5-31h0m.5 2.5h0m-2.5 9.5h0m-2 19.5h0m-4 14h0m40 22h0m-41-12h0m2.5 3h0m-4.5 11.5h0"/><path stroke="#ff5500" d="M26.5 107h0m.5 15h0m-6.5 16h0m-3 26.5l2.5 1"/><path stroke="#ff1c00" d="M183.5 89.5h0m-21 56.5h0m-6 18h0m-1 2.5h0m-136.5-6.5h0m-2.5 2l3 1"/><path stroke="#ffc600" d="M166 137h0m-141-26h0m129 57.5h0"/><path stroke="#008eff" d="M193.5 65.5h0m-161-7.5h0m-2 14.5h0m128.5 72h0m-135 2h0m-4.5 1h0m-5 29l3 1m86.5 31.5l5.5 2m-10-1h0m-17.5-1.5h0m-9.5 2h0m5 1.5h0m-7 0h0m-57.5-18.5l2.5 1"/><path stroke="#ff7100" d="M178 100.5h0m-25 65h0m-131.5-35h0m-3.5 26.5h0m3.5 1.5h0"/><path stroke="#ffaa00" d="M169 130.5h0m-140-25.5h0"/><path stroke="#1cffe3" d="M186.5 80.5h0m-156-21h0m-1 5h0m2.5 3.5h0m-4.5 18.5h0m123.5 83.5h0m.5 2.5h0m-131-19.5h0m-2 2h0m0 15h0m-3.5 1.5h0m2 3h0m-1.5 7.5h0m-1.5 4.5h0m-.5 10h0m1 5.5h0m-4 1h0m2.5 3.5h0m-2 2h0"/><path stroke="#55ffaa" d="M191.5 67h0m0 10.5h0m-1 2h0m-3.5 4h0m-2 1.5h0m-9 17.5h0m-146.5-43h0m141.5 64h0m-142-49h0m0 5h0m.5 3h0m-3 6.5h0m-8.5 91h0m-3.5 9l2.5 1"/><path stroke="#e30000" d="M180 101.5h0m-1.5 2l1 0m-150 4h0m126 46h0m-128.5-44h0m.5 2.5h0m-3.5 6.5l2.5 1m-4.5 16h0m.5 3h0m-4.5 21.5h0m-1 4.5h0"/><path stroke="#c60000" d="M181.5 94h0m-5 11h0m.5 5.5h0m-4 3.5h0m.5 3h0m-14 30.5h0m.5 2.5l.5 .5m-138-27.5h0m1 8h0m-1.5 2l2 1m.5 2.5h0"/><path stroke="#aaff55" d="M190 71.5h0m.5 3l2 .5m-21 43.5h0m-144-39.5h0m-6.5 76.5h0m32 55.5l2.5 1"/><path stroke="#ff8e00" d="M25.5 106.5h0m-1 7h0m-.5 2.5h0m-1.5 12h0"/><path stroke="#00aaff" d="M180 98.5h0m-148.5-20.5h0m-1 10h0m123 82.5h0m0 3h0m-133.5-23.5l2.5 1m-9 27.5h0m83.5 30.5h0m-83-27.5h0m73 26.5h0m5 1.5h0m-76-25h0m58.5 24l2.5 1m5.5 2l3 1m-18.5-4h0m8 2.5h0m3.5 1.5h0m-65.5-21.5h0m49.5 18h0m8.5 3.5h0m-53-4h0m-2 1.5h0"/><path stroke="#0000ff" d="M218 10.5h0m-34-10l5.5 2m26.5 9.5l3 1.5m-42-13l5.5 2m7.5 3h0m26.5 9.5l2 .5m-46-14h0m42 15l2.5 1m-2 2l1 .5m-5 6l2.5 .5m-4.5 1h0m-78.5-26h0m3 3.5h0m-10-1l3 1m-10.5-1h0m-7 0l2.5 1m94.5 34.5h0m0 5h0m-111.5-38h0m111 40h0m-134-46h0m131.5 48h0m-138.5-48l2 .5m5.5 2l2.5 1m126.5 46l2.5 1m-145.5-50.5l9 3.5m-16-3.5l3.5 1.5m5 2h0m139.5 50.5l2 1m-157-55l11 4m142 52l3.5 1m-164-57l6 2m5 2l2.5 1m149 54h0m-159-55l3 1m-5 .5h0m-3.5 1.5h0m4 1.5h0m-4 1h0m-1.5 22.5h0m1 5.5h0m-2 1.5l2.5 1m-2.5 2h0m-.5 2l4 1.5m-4.5 1l2 1m.5 2.5h0m-2 2l2.5 1m-3.5 1h0m2.5 19h0m-3.5 21.5h0m-3 1.5h0m3.5 1h0m-4 1.5h0m121 87l1 .5m-3.5 1.5l3 1m-2.5 1.5h0m-2 2l3 1m-2.5 1.5l2.5 1m-2 2l1.5 .5m-3.5 1.5h0m1.5 5.5h0m-7.5 2.5h0m6 2h0m-13.5-2.5h0m5.5 2h0m-10-1h0m5 2h0m-7.5 0h0m-7.5-.5l5.5 2m-72-3h0m-7 2.5h0m-15-3h0m-2 1.5h0"/><path stroke="#0039ff" d="M35 18l3 1m-4.5 1l5 1.5m-2.5 2h0m-3.5 1l1.5 .5m-1.5 2h0m155.5 57h0m-153-53.5h0m1 5.5h0m-3.5 47.5h0m-5.5 10.5h0m3.5 6.5h0m-4.5 1h0m124 75.5l1.5 .5m-1.5 2.5h0m-1.5 1.5h0m-22.5 25h0m13 5h0m-4.5 1h0m-23-3.5h0m2 3.5h0m-50.5-.5h0m-12.5-2h0m-30-.5h0"/><path stroke="#0000e3" d="M219 .5l5 2m-12-2l11.5 4m-18.5-4l17 6.5m-24-6.5l12 4.5m7.5 2.5l4 1.5m-30.5-8.5l11.5 4m18 7h0m-28-8l2.5 1m-25-4h0m5 2l8 2.5m-20-4.5l12.5 4.5m-19.5-4.5l1.5 .5m5.5 2l5 2m45 16.5l3 1m-67-22l11.5 4.5m53 19l1 .5m-72.5-24l11 4m-18-4l11 4m65.5 24l1 .5m-84.5-28.5h0m5 2l8 3m68.5 25l2.5 .5m-91-30.5l10 4m79 28.5l1.5 .5m-98-33l7.5 2.5m87 32l1.5 .5m-102.5-35l6.5 2.5m5.5 2h0m86.5 31.5l3.5 1.5m-109-37.5l6 2.5m102.5 37h0m-115.5-39.5l11 4m100 36.5l3 1m-121-41.5l13.5 5m105 38.5h0m-126-43.5l13.5 5m110.5 40h0m-128.5-44l10.5 3.5m119.5 44h0m-127-44h0m121.5 47l4 1.5m-140-48.5h0m-27.5-2.5l2.5 1m-2.5 1.5h0m-4 44.5h0m-.5 2.5h0m3 24h0m-6 21h0m120 94.5h0m-8 10h0m1 5.5l2.5 1m-4.5 1l2.5 .5m-14.5 0h0m5 2h0m-15-3l2.5 1m5 1.5l3.5 1.5m-7 0h0m-75.5-4.5h0m-5 .5l5.5 2m-12.5-2l5 2m-4.5 1h0"/><path stroke="#ff3900" d="M173 119h0m-11 29.5h0m-136-32h0m126.5 46h0m-134-5h0"/><path stroke="#001cff" d="M185 3.5l2.5 1m-118.5-2.5h0m.5 3h0m-12.5-2h0m-12 .5h0m152.5 55.5h0m-161.5-51h0m.5 2.5l2.5 1m-4 1l2 1m-3 1.5l3.5 1m-4 1.5h0m.5 5h0m-1 7.5h0m2.5 3.5h0m-3 1.5l1 0m-2 2h0m3.5 6.5h0m-3 11.5h0m-4 44.5h0m-3 9h0m123 70.5h0m1.5 5.5h0m-5.5 16h0m-1.5 2l1.5 .5m-4 1.5h0m-9 4h0m5.5 2h0m-88.5 1h0m-4.5 1h0m-20.5-5h0m13 5h0m-17.5-1.5l3.5 1.5"/><path stroke="#ffe300" d="M177.5 108h0m-8.5 12.5h0m-6 23h0m-5 11h0m-98 53.5h0"/><path stroke="#c6ff39" d="M194 70.5h0m-11 16.5h0m-32.5 80h0m-137.5 21.5h0"/><path stroke="#8e0000" d="M178 105.5h0m-3.5 4h0m-2 2l3 1m-9 19.5l1.5 .5m-.5 2.5h0m-2.5 1.5h0m.5 3h0m-2.5 1.5l1.5 .5m-3.5 1.5h0m-.5 10h0m-1.5 2h0m-5 3l3.5 1.5m-1.5 2h0m-1 2h0m-132-37.5l2.5 .5m-2 2l2.5 1"/><path stroke="#ff0000" d="M181 91.5l3.5 1m-1.5 2.5h0m-8.5 22h0m-150 4.5h0m-6.5 46h0"/><path stroke="#71ff8e" d="M192 70h0m1 3h0m-3.5 8.5h0m-4 6.5l1.5 .5m-4.5 8.5h0m-157.5 42.5h0m35.5 71.5h0m-45.5-6.5h0m-1.5 4.5h0"/><path stroke="#0000c6" d="M160 2h0m-122.5 206h0m-7.5-.5h0m-2 2l2.5 1m-4.5 .5l3 1.5"/><path stroke="#0055ff" d="M195.5 61l3 1m-2.5 1.5l1.5 .5m-161-38h0m-2 2l2.5 1m-2.5 27h0m-3.5 1h0m144.5 58h0m-143-44.5h0m-.5 10h0m132.5 53.5h0m-6.5 18h0m-3.5 9h0m-129.5-37h0m124.5 50.5l2.5 1m-2 7h0m-3.5 1h0m-124.5-35h0m119.5 64h0m-29.5-.5h0m-7.5 0h0m-93-19h0m52.5 19.5h0m-13.5 0h0"/><path stroke="#aa0000" d="M174 107h0m-11.5 31.5h0m-2 1.5h0m-4.5 16.5l2.5 .5m-132-25h0m-10.5 34.5h0"/><path stroke="#00c6ff" d="M196 66.5h0m-14.5 33h0m-151.5-32.5h0m-1.5 2l1.5 .5m138 58h0m-6.5 18h0m-138-1.5h0m-.5 10h0m-8 20h0m74.5 35h0m5 1.5h0m-10-1l5.5 2m-10-1h0m-10-1h0m-55-17.5h0m50 18l2.5 1m-53.5 1h0"/><path stroke="#8eff71" d="M187.5 86h0m-153.5-20h0m-6 15.5h0m-2.5 22.5h0m0 10h0m-10 55h0m39.5 40l2.5 1m0 2.5h0m-45-9h0"/><path stroke="#ffff00" d="M185 90.5h0m-156.5 12h0m-.5 12.5h0m125.5 53h0m-130.5-27h0"/><path stroke="#0071ff" d="M172.5 121.5h0m-141.5-46.5h0m115 106h0m-126.5-36l2 .5m87.5 62.5h0m-7.5 0h0m-7.5 0h0m8 3h0m4.5 1.5h0m-92.5-28.5h0m58 23.5h0"/><path stroke="#39ffc6" d="M195.5 68.5h0m-7 7.5h0m.5 3h0m-9.5 17h0m-8.5 20h0m-3.5 9h0m-139.5-41l2 1m-1.5 4.5h0m-5 31.5h0m-4.5 52h0m-.5 10h0m-2 4.5h0m-4.5 11h0m-1.5 2l1.5 .5"/></g><g fill="none" stroke-linecap="round" stroke-width="4.5"><path stroke="#ff1c00" d="M183.5 89.5h0m-32.5-1.5h0m-30-3h0m48 20h0m1 5.5h0m-76-25l2.5 1m10.5 3.5h0m-67.5-22h0m50 18h0m7.5 3h0m-10-1h0m5.5 2l5 2m-4.5 .5h0m-17.5-1h0m77 30.5h0m-95.5-24.5h0m103 40h0m-93.5-29h0m5.5 4.5h0m90.5 33h0m-110.5-35h0m10.5 3.5l2.5 1m-33.5-9.5h0m50 18h0m-10-1h0m32.5 17h0m39.5 14.5h0m-112.5-38.5h0m13 4.5h0m5 2h0m48 20h0m59.5 21.5h0m-1 2.5h0m-80.5-24.5h0m13 5h0m35 30.5h0m-104-17.5h0m5.5 2h0m-8 0l3 1"/><path stroke="#aa0000" d="M167 94h0m-10-1h0m10.5 3.5h0m8 3h0m-7.5 0h0m-31-9h0m18.5 7h0m15.5 5.5l2.5 1m-2 2l2.5 1m-49.5-15.5h0m45 16h0m-34-9.5h0m18.5 6.5h0m5.5 2l2.5 1m-28.5-8h0m18.5 7h0m-10-1h0m8 2.5h0m-47-14.5h0m5 2h0m35 15.5l2.5 .5m5.5 2l2.5 1m-57.5-18l2.5 .5m45 16.5h0m-62.5-20h0m34 12l5 2m-46.5-14.5h0m68.5 25l2.5 1m-76-25h0m74 26.5l5 2m-86-26l8 3m92 33.5h0m-78-26h0m63 23l8 3m5 1.5h0m-104.5-35.5h0m28.5 10.5l3 1m60.5 22h0m5 2h0m10.5 4h0m-110-37.5h0m16 5.5h0m13 5h0m5.5 2l2.5 1m29 10.5h0m21 7.5h0m21 7.5h0m-107.5-36.5h0m42.5 15.5h0m39 14.5l5.5 1.5m5.5 2h0m-15.5-3h0m5 2l5.5 2m-91.5-31h0m8 3h0m81.5 29.5l2.5 1m16 6h0m-63-20.5h0m42 15.5h0m5.5 2h0m-107.5-36.5h0m5.5 2h0m92 33.5l13 4.5m10.5 4h0m-123-42.5l5 2m8 3h0m76.5 27.5h0m5 2h0m5.5 2l2.5 1m16 6h0m-107.5-37h0m39.5 14.5h0m47.5 17.5h0m7.5 2.5h0m8 3h0m10.5 4l2.5 .5m-33.5-9.5h0m10.5 4l2.5 1m-99.5-33.5h0m60.5 22h0m29 10.5h0m-91.5-31h0m48 20h0m8 3h0m-57.5-18.5h0m5 2h0m5.5 2h0m-18-4h0m16.5 8.5h0m-5 .5h0m-12.5-2h0m-10.5 34.5h0"/><path stroke="#0000aa" d="M154 51h0m-53 101l10.5 3.5m-4.5 1h0m-13.5 8l3 1m-2 17l2.5 1m-22.5-3h0m-25.5-4.5h0m3 4l3 1m.5 2.5h0m-13-2h0m-3.5 6.5h0m5 1.5h0m-12.5-2h0m5.5 2l13 5m-5 .5h0m-12.5-2l10.5 4m-4.5 1l2.5 1m-10-1.5h0m5 2l2.5 1m-10-1l8 3m-7.5-.5h0m5.5 2l5 2"/><path stroke="#aaff55" d="M189.5 69h0m.5 2.5h0m.5 3l2 .5m-37.5-6h0m3.5 6.5l3 1m-12 3.5h0m21.5 10.5h0m-28-8h0m31.5 11.5h0m-49.5-15.5h0m-5 1l5.5 2m-10-1h0m-7.5-.5h0m-56.5-12.5h0m27.5 15h0m13 4.5h0m23.5 8.5h0m-78.5-26h0m134.5 49h0m-25.5-4l2.5 1m8 3h0m-129-39.5h0m23.5 13.5h0m47.5 17.5h0m-51-11h0m8 3h0m45.5 21.5h0m-62.5-20h0m29.5 13h0m77 33.5h0m-17.5-1.5h0m-15-3h0m-70.5-23h0m5 2h0m29 10.5h0m58.5 23.5h0m-49.5-15h0m-25-1.5h0m-4.5 .5h0m55.5 36h0m13 4.5h0m-103-27.5h0m3 4h0m29 51.5l2.5 1"/><path stroke="#ffaa00" d="M166.5 91h0m-23-5.5h0m-2.5 1.5h0m-18-4h0m8 3h0m8 3h0m-28.5-8h0m34 12.5l3 1m13 5h0m-18-4h0m8 2.5h0m-7.5 0h0m5.5 2l2.5 1m-107-34h0m5.5 2h0m31.5 11.5h0m5 2h0m-4.5 1h0m1 5h0m-7.5 0h0m-2 2h0m96 40h0m-100-21h0m13 4.5h0m42 15.5h0m-60-19.5h0m-23-5.5h0m-7.5-.5h0m66 24h0m-70.5-23h0m13 5h0m34.5 15h0m-18.5 6h0m29.5 13h0m-36.5-10.5h0m32 11.5h0m-23.5-6h0m26.5 10h0m-65.5 19.5h0m-.5 10h0"/><path stroke="#0000e3" d="M219 .5l5 2m-12-2l11.5 4m-18.5-4l17 6.5m-24-6.5l23.5 8.5m-30.5-8.5l19.5 7m10 4h0m-28-8l21 8m-20.5-5l8 2.5m5 2l5.5 2m-41.5-12.5h0m5 2l37 13.5m-49-15.5l23 8.5m5 2l3 1m7.5 2.5l8 3m-53.5-17l1.5 .5m5.5 2l21 7.5m21 8l11 4m-67-22l35.5 13m5 2h0m5.5 2h0m10.5 3.5l9 3.5m-72.5-24l40 14.5m13.5 5l5 2m8 3h0m-73.5-24.5l45 16.5m31.5 11.5l1 .5m-84.5-28.5h0m5 2l45 16.5m26 9.5l8 2.5m-91-30.5l10 4m10.5 3.5l26.5 9.5m5 2l5.5 2m18.5 6.5l14.5 5.5m-98-33l7.5 2.5m8 3l2.5 1m5.5 2l21 7.5m5 2l16 5.5m13 5l17.5 6.5m-102.5-35l6.5 2.5m5.5 2h0m5 2l13.5 4.5m5 2h0m21 7.5l18.5 7m16 5.5l11 4.5m-109-37.5l6 2.5m8 3l16 5.5m34 12.5h0m10.5 4l10.5 3.5m8 3l8 3m7.5 2.5h0m-115.5-39.5l16.5 6m7.5 3l13.5 5m26 9.5l8 2.5m10.5 4l16 6m5 1.5l11 4m-121-41.5l16 6m15.5 5.5l8 3m21 7.5l3 1m7.5 3h0m5.5 2l31.5 11.5m10.5 4h0m-126-43.5l13.5 5m5 2l5.5 1.5m8 3l10.5 4m10.5 3.5h0m10.5 4h0m23.5 8.5h0m5.5 2h0m5 2l5.5 2m10.5 3.5l2.5 1m5.5 2l2.5 1m-128.5-44l16 5.5m10.5 4h0m5 2l8 3m5 1.5l3 1m7.5 3h0m8 3l3 1m18 6.5h0m21 7.5l3 1m13 5l5.5 2m3.5 1.5h0m-127-44l21 7.5m5.5 2h0m5 2l5.5 2m21 7.5h0m37 13.5h0m5 2l5.5 2m13 4.5h0m-112.5-38.5l10.5 4m8 3l10.5 4m60.5 22l30 11m-140-48.5l2.5 1m15.5 5.5l24 8.5m13 5h0m29 10.5h0m26.5 9.5l5 2m-104.5-35.5l13 4.5m10.5 4h0m5.5 2l2.5 1m42 15h0m26.5 10l10.5 3.5m-118-40.5l31.5 11.5m5.5 2l5 2m60.5 22l10.5 4m-144-50l2.5 1m29 10.5l39.5 14.5m58 21l21 7.5m-150-52h0m34.5 12.5l29 10.5m66 24l10.5 4m-102.5-34.5l3 1m5 1.5l13 5m5.5 2h0m5.5 2h0m10.5 3.5l7.5 3m45 16.5l5 1.5m-102-34.5l37 13.5m55 20l5.5 2m-99.5-33.5h0m5 2l10.5 3.5m5.5 2l2.5 1m5.5 2h0m13 4.5h0m42 15.5h0m5.5 2l5 2m-94-32l36.5 13.5m26.5 9.5l2.5 1m21 7.5l3 1m-91.5-30.5l2.5 1m21 7.5h0m5 2l5.5 2m50 18h0m-83.5-28l10.5 4m5 2l2.5 1m5.5 2l8 2.5m42 15.5l2.5 1m-75.5-25l28.5 10.5m26.5 9.5h0m5.5 2h0m5 2l2.5 1m-70.5-23.5l34.5 12.5m18 7l8 2.5m-62.5-20l52.5 19m5.5 2h0m-41.5-12.5l5 2m16 5.5l7.5 3m8 3h0m-33.5-10l2.5 1m5.5 2l23.5 8.5m-52-16.5l2.5 1m10.5 4l2.5 1m-15-3l2.5 1m5 2l5.5 1.5m-15.5-3l3 1m-10-1l2.5 1m-5 1h0m-20-2.5h0m-.5 2.5h0m37 21h0m-13-2h0m8 3l2.5 1m-7.5-.5h0m-7 0l5 2m-15-3l15.5 5.5m-20.5-5l16 6m-18-4l5 2m-4 3.5h0m-7 15.5h0m92 61.5h0m-4.5 1h0m-13-2.5l3 1m5 2l2.5 1m-17.5-4h0m7.5 3l3 1m5 2h0m-23-6h0m5 2h0m5.5 2h0m5 1.5l5.5 2m-26-6.5h0m8 2.5h0m13 5l3 1m-18-4h0m13 4.5l2.5 1m-20.5-5h0m13.5 5l2.5 1m8 3h0m-26-7l5 2m11 4h0m5 1.5l2.5 1m-25.5-6.5l2.5 1m13 4.5h0m5.5 2l5 2m37 13.5h0m5 1.5h0m-117.5-40h0m44.5 16h0m16 6l5 2m-20.5-5h0m5.5 2l5 1.5m-2 2l2.5 1m8 3h0m10.5 3.5l2.5 1m24 8.5l10.5 4m-73.5-24h0m10.5 4l3 .5m5 2h0m16 6l2.5 1m31.5 11.5l2.5 1m-60-19.5l8 3m10.5 3.5l2.5 1m26.5 9.5h0m13 5h0m-81-27h0m24 8.5h0m5 2l2.5 1m-28-7.5l2.5 .5m13 5h0m63 23l2.5 1m-109.5-37.5l7.5 3m97.5 35.5l2.5 .5m-110-37.5l3 1m31.5 11.5l2.5 1m-36.5-10.5h0m34.5 12.5h0m60.5 22h0m5 2h0m-102-34.5l2.5 .5m18.5 7h0m8 3h0m58 21l2.5 1m5 1.5l3.5 1.5m-97.5-33h0m8 3h0m5 2h0m10.5 3.5l3 1m64 23.5h0m-82-27.5h0m15.5 6h0m-25.5-7h0m23.5 8.5h0m.5 3h0m-23-6h0m21 7.5h0m-23-3h0m18.5 6.5h0m-18-4h0m18.5 7h0m-1.5 4.5h0m-18-4h0m13 4.5l5.5 2m-20.5-5h0m8 3l5 2m-4.5 1h0"/><path stroke="#55ffaa" d="M191.5 67h0m-14 2.5h0m10.5 4h0m3.5 4h0m-8-.5h0m7 2.5h0m-40.5-12h0m16 8.5h0m5.5 1.5h0m10.5 4h0m5 2h0m-41.5-12.5h0m31.5 11.5h0m8 2.5h0m-39-11.5h0m5.5 2h0m21 7.5h0m5 2h0m-31-8.5h0m10.5 3.5h0m-18-4h0m-4.5 1h0m-62.5-17.5h0m55.5 20h0m10.5 4h0m-70.5-23h0m47.5 17h0m61 25h0m-107.5-36.5h0m-39-6.5h0m14 5h0m89.5 32.5h0m8.5 5.5h0m-39-11.5h0m-68-22h0m38 18.5h0m94.5 34.5h0m4 1.5h0m-142-49h0m38.5 14h0m-38.5-9h0m.5 3h0m21 7.5h0m110.5 40h0m-134.5-41h0m23 8h0m-10-1h0m.5 3h0m3 3.5h0m.5 3h0m29.5 13h0m18.5 6.5h0m-41.5-12.5h0m77 33.5h0m-93.5-29h0m37.5 16h0m-15.5-3h0m87 31.5h0m-44.5-13.5h0m34.5 12.5h0m15.5 6h0m-72-19h0m3 4h0m47.5 17h0m-96.5-30h0m108 39.5h0m-20.5-5h0m18 6.5h0m-86-28.5h0m18.5 6.5h0m-50 22.5h0m45 19h0m-48.5-10l2.5 1"/><path stroke="#001cff" d="M185 3.5l2.5 1m-1 20h0m.5 2.5h0m-118-25h0m.5 3l3 1m-15.5-3h0m-12 .5h0m8 3h0m136.5 49.5h0m5.5 2l2.5 1m-149.5-51.5l5.5 1.5m5 2h0m131.5 48h0m-147-51l11 4m5 2l5.5 1.5m123.5 45h0m-152-52.5h0m5 2h0m5.5 2l2.5 .5m16 6l2.5 1m-31-9l10.5 4m8 3h0m5 2l5.5 1.5m107.5 39.5h0m-138-48l12.5 4.5m10.5 4l2.5 1m108 39.5h0m-134.5-46.5l3.5 1m5 2l18.5 7m-27.5-7.5h0m9.5 3.5l2.5 .5m5.5 2l5 2m100 36.5h0m-110-37.5l5.5 2m5 2l5.5 1.5m-28-7.5h0m12.5 4.5l3 1m5 2h0m-4.5 1l2.5 1m79 28.5l2.5 1m5.5 2h0m-92-31l10.5 4m68.5 25l3 1m-96.5-32.5h0m12.5 4.5l2.5 1m5.5 2l5 1.5m63.5 23h0m-86.5-28.5l21 7.5m63 23h0m-87-29l1 0m5 2l16 6m31.5 11.5l2.5 1m26.5 9.5l2.5 1m-86-29h0m5 2l2.5 1m8 2.5l5.5 2m29 10.5l21 8m7.5 2.5l3 1m-73.5-24l13.5 5m21 7.5h0m5 2l8 3m5.5 1.5h0m81.5 30h0m-139-48l10.5 3.5m15.5 6h0m16 5.5h0m10.5 4l2.5 1m-36-10.5h0m26 9.5h0m5.5 2h0m3 3.5h0m-12.5-2h0m-44-11h0m37 13.5h0m5 2h0m-10-1l3 1m7.5 2.5l3 1m-18-4h0m10.5 4l2.5 1m-2 1.5h0m-5 1l3 1m-2.5 2h0m-31-9h0m23.5 8.5l3 1m42 15.5h0m-49.5-15.5l2.5 1m-10-1h0m5.5 1.5h0m31.5 11.5h0m-41.5-12.5h0m10.5 4h0m-13-2h0m-2 1.5l2.5 1m69 28h0m-30.5-6.5h0m-46.5-11.5h0m.5 2.5h0m-4.5 1h0m-3 9h0m5 2h0m24 11.5l2.5 1m39.5 14h0m-41-9.5h0m55.5 22.5h0m5.5 2h0m-12.5-2h0m-5 1h0m19 9h0m-4.5 4h0m-31-9h0m63.5 23l2.5 1m-68-22h0m.5 2.5h0m26.5 9.5h0m42.5 15.5h0m-116-39.5h0m45 16.5h0m65.5 24h0m-65-21.5h0m55 20h0m5.5 2h0m-110-37.5h0m79 29h0m28.5 10.5h0m-112.5-38.5l2.5 1m8 2.5h0m95 34.5h0m7.5 3h0m-110-37.5l3 1m10.5 4h0m29 10.5h0m39.5 14.5h0m15.5 5.5h0m-57.5-18.5h0m55.5 20.5h0m5 1.5h0m-96.5-32.5h0m81.5 29.5h0m5 2h0m8 3h0m18 6.5h0m-80.5-26.5h0m42 15l2.5 1m34.5 12.5l1.5 .5m-93.5-31.5h0m5.5 2h0m42 15.5h0m39.5 14.5l2.5 1m-99.5-34l3 1m39.5 14.5l5 2m23.5 8.5l3 1m13 4.5h0m5.5 2h0m-57.5-18h0m52.5 19l2.5 1m-60-19.5h0m50 18.5h0m10.5 3.5h0m5.5 2h0m-107.5-36.5h0m39.5 14.5h0m47.5 17h0m5 2h0m-7.5 0h0m-25.5-7h0m-28.5-7.5h0m-5 .5h0m.5 3h0m-1.5 4.5h0m-3.5 6h0m-2 4.5h0m-4.5 1h0m-20.5-5h0m13 5h0m-17.5-1.5l3.5 1.5"/><path stroke="#0039ff" d="M192.5 60h0m-136-47h0m134 48.5h0m-147-50.5h0m8 2.5l10.5 4m116 42h0m-128.5-44l2.5 1m5.5 2h0m118.5 43h0m-126-43.5h0m5.5 2h0m115.5 42h0m-131-45h0m123.5 45h0m-128.5-44l5.5 2m8 2.5h0m-15-2.5l5 1.5m5 2h0m105.5 38.5h0m-113-38.5l8 3m100 36l2.5 1m-114-39l1.5 .5m10.5 4l2.5 1m89.5 32.5h0m-104-35.5h0m12.5 4.5h0m87 32h0m56 20.5h0m-153-53.5l8 3m81.5 29.5h0m-88.5-27h0m84 30.5l3 1m-81-27l2.5 1m60.5 22l2.5 1m8 3h0m-49.5-15.5h0m29 10.5l2.5 1m-18-4l5.5 2m8 3l2.5 1m-18-4h0m5 2h0m5.5 1.5l2.5 1m-12.5-2l2.5 1m5.5 2h0m5 2l3 1m-49.5-15.5h0m34 12.5l8 2.5m-10-1l5 2m-10-1h0m5.5 2l2.5 1m81.5 29.5h0m-86-26h0m-23-6h0m19 9.5h0m94.5 34.5h0m-78-23.5h0m-38.5-8.5h0m5.5 1.5h0m.5 3h0m-7.5 0h0m-15-3h0m26 9.5h0m-20.5-5h0m50 18h0m55.5 20h0m-107.5-36.5h0m31.5 11.5h0m-36.5-10.5l3 1m-7 2.5h0m3.5 6.5h0m-4.5 1h0m16.5 11h0m52.5 19h0m45 16.5h0m-37.5-3.5h0m-52-13.5h0m11 6.5h0m-30.5-6h0m56 22.5h0m52.5 19.5h0m10.5 3.5l1.5 .5m-72-23.5h0m31.5 11.5h0m26.5 9.5h0m5 2h0m7.5 3h0m-41-12.5h0m39.5 14h0m-107.5-36.5h0m68.5 25h0m-73-24l2.5 1m36.5 13.5h0m34.5 12.5h0m31.5 11.5h0m-112.5-38.5l7.5 2.5m39.5 14.5h0m32 11.5h0m23.5 8.5h0m5 2h0m-99.5-33.5h0m37 13.5h0m60.5 22h0m-94-32h0m5 2h0m21 7.5h0m42.5 15.5h0m18 7h0m5.5 1.5h0m-99.5-33.5l5 2m-12.5-2h0m3 3.5h0m5.5 2h0m5 2h0m5.5 2h0m18.5 6.5h0m52.5 19h0m-81-27h0m26.5 10h0m55 20l2.5 1m16 5.5h0m-89-29.5l2.5 .5m5.5 2h0m50 18.5h0m5 2h0m5.5 1.5h0m-76-25h0m52.5 19.5h0m16 5.5h0m10.5 4h0m13 4.5h0m5.5 2h0m-107.5-36.5h0m50 18.5h0m47.5 17h0m-2 2l2.5 .5m13 5h0m-68-22h0m63.5 23h0m-68-22.5h0m-7.5 0h0m23.5 8.5l3 1m26 9.5h0m-23-5.5h0m25 9h0m-87.5-26.5h0m.5 2.5h0m29 10.5h0m-28.5-8h0m22 10.5h0m-23.5-5.5h0m24 8.5h0m-28.5-8h0m42 15.5h0m-12.5-2h0m-26-7h0m-4 6.5h0"/><path stroke="#ffe300" d="M167.5 84l2.5 1m10.5 4h0m-38.5-12h0m.5 3l2.5 1m13 4.5h0m-4.5 1l2.5 1m-27.5-2.5h0m-26-7h0m-2 2h0m44.5 16.5l3 .5m29.5 11h0m-50-15.5h0m-86-26.5h0m113 41.5h0m-9.5 1.5h0m-39-11.5h0m63 23h0m-101-29.5h0m-11.5 3.5h0m97.5 35.5h0m-81-24h0m-25-4.5h0m115 42h0m-96-32.5h0m-15.5-3h0m97.5 35.5h0m-15.5-3h0m-36-8h0m60.5 22h0m-104.5-35.5h0m23.5 8.5h0m-46.5-14.5h0m24 11.5h0m18.5 7h0m34 12h0m-41.5-12.5h0m13 5h0m68.5 25h0m-112.5-38.5h0m18.5 6.5h0m97 35.5h0m-57-18.5h0m22.5 31.5h0m-95 3.5h0m39.5 27h0"/><path stroke="#8e0000" d="M151.5 91l3 1m.5 2.5h0m10.5 4h0m-26-7h0m38.5 14h0m-40.5-12h0m18.5 6.5l2.5 1m5 2h0m-33.5-9.5l5 1.5m18.5 7h0m5.5 2l5 1.5m8 3l2.5 1m-54.5-17.5l10.5 4m34 12.5l3 1m5 2l3 1m-63-20.5l18.5 6.5m5 2h0m-49.5-15.5h0m21 8l3 1m8 2.5l21 8m-34-10h0m8 3l2.5 1m5.5 2l21 7.5m15.5 6h0m5.5 1.5l2.5 1m-65-21h0m7.5 3l18.5 6.5m5.5 2l8 3m18 6.5h0m-73-24h0m8 3h0m8 2.5l36.5 13.5m16 6h0m-68-22.5l5.5 2m5 2l5.5 2m5 2h0m5.5 1.5h0m13 5l23.5 8.5m-73-24l8 3m8 3l47 17m8 3l2.5 1m-78.5-26l11 3.5m5 2l52.5 19.5m-73-24.5l47.5 17.5m5 2l26.5 9.5m21 7.5l1.5 .5m-93-31l8 2.5m7.5 3l3 1m7.5 3l5.5 2m5 1.5l5.5 2m5 2l16 6m8 2.5l5 2m16.5 6h0m-108-36.5h0m5.5 1.5h0m5 2h0m5.5 2l5 2m5.5 2l58 21m18 6.5l3 1m-107.5-36.5l13 5m18.5 6.5l23.5 8.5m5.5 2l23.5 8.5m13.5 5h0m10.5 4h0m-107.5-36.5h0m8 2.5h0m34 12.5l16 6m5 2l16 5.5m18.5 6.5l2.5 1m5 2l1.5 .5m-114-39h0m34 12.5l3 1m5 2h0m10.5 4l18.5 6.5m5.5 2l5 2m18.5 6.5h0m5.5 2l5 2m-78.5-26h0m16 5.5h0m5 2l8 3m8 3l8 2.5m5 2h0m10.5 4l10.5 4m-86-29h0m34 12.5l34 12.5m-78-26l2.5 .5m44.5 16.5l5.5 2m8 3l13 4.5m-94.5-31.5h0m66 24l26.5 9.5m31.5 11.5h0m-120.5-41.5h0m63 23l2.5 1m5.5 2l8 3m5 1.5h0m35 13h0m-71.5-23.5l5.5 2m5 2h0m8 2.5l18.5 7m-31-9h0m8 3h0m5 2h0m26.5 9.5h0m13 5h0m5.5 1.5l6 2.5m-116-39.5h0m10.5 3.5h0m42 15.5l2.5 1m55.5 20h0m4 1.5h0m-72-23.5l8 2.5m63 23h0m-122.5-39.5h0m10.5 4h0m-7.5 0h0m10.5 3.5h0m-23-5.5l2.5 .5m-2 2l5 2m5.5 2h0m.5 2.5h0"/><path stroke="#ff7100" d="M161.5 92h0m-18-4h0m18.5 7h0m16 5.5h0m-18-4h0m-44-13.5h0m10.5 4l2.5 1m13 4.5h0m-33.5-9.5h0m37 16h0m-4.5 1h0m5 1.5h0m-41.5-12.5h0m64 26h0m-91.5-28h0m13.5 4.5h0m54 40h0m-84-27.5h0m11 6.5h0m81.5 29.5h0m-51-11h0m-12 1h0m-26-7l2.5 1m37 13.5h0m31.5 11.5h0m-64.5-18.5h0m55.5 22.5h0m27 12.5h0m-112.5-36h0m40 17.5h0m-59-16.5h0m21 10h0m-12 1h0m-2 1.5h0m84.5 33.5h0m-95-19.5h0m3.5 1.5h0m-.5 25.5h0"/><path stroke="#ffff00" d="M187.5 70.5h0m-34.5 .5h0m-2 2l5 1.5m29 16h0m-45.5-11.5h0m8 3h0m18.5 6.5l2.5 1m-10-1h0m5.5 2h0m-5 .5h0m-61.5-14.5h0m-44.5-13.5h0m40 17h0m-56.5-13h0m27 25h0m-9 4.5h0m-9 4.5h0m32 14h0m76.5 30.5h0m-125.5-43h0m52.5 19h0m-20.5-5h0m69 27.5h0m13 5h0m.5 2.5h0m-115-36.5h0m47.5 17h0m69 28h0m-97-33h0m24.5 11.5h0m23.5 8.5h0m58 21h0m-91.5-28h0m-26.5 .5l5 2m84.5 33.5h0m-102-35h0m98 38.5h0m-7.5-.5h0m-94-3.5h0m3 4h0m32 27h0"/><path stroke="#0000c6" d="M160 2h0m.5 15.5h0m-20.5-5h0m5 2l16 6m-28.5-8l29 10.5m5 2l5.5 2m-39-12l21 8m13 4.5l5.5 2m-44-13.5l15.5 6m8 2.5l2.5 1m5.5 2h0m-36.5-10.5l5 2m5.5 1.5l5.5 2m5 2l18.5 6.5m5 2h0m5.5 2h0m-57.5-18.5h0m8 3l2.5 1m5.5 2l2.5 1m8 3l13 4.5m5.5 2l15.5 5.5m-60-19l16 5.5m5 2l31.5 11.5m5.5 2h0m-78.5-26h0m18.5 6.5l55 20.5m-62.5-20.5l8 3m5 2l24 8.5m5 2l21 7.5m-62.5-20l37 13m5 2l21 8m-60-19.5l55.5 20m-57.5-18l52.5 19m-60-19.5l60.5 22m-65-21h0m5 2h0m5.5 2l5 1.5m13.5 5l26 9.5m5.5 2l8 3m-55-17.5l50 18m-73-24h0m7.5 3h0m5.5 2l8 3m5 1.5l37 13.5m5 2h0m-46.5-14.5l21 7.5m8 3l15.5 6m-49.5-15.5l45 16m-47-14.5l37 13.5m-39-11.5l21 7.5m5 2h0m5.5 2h0m-28.5-8l13 5m-28-5l10.5 3.5m8 97.5l13 4.5m-4.5 1l2.5 1m-20.5-5l8 3m5 2l2.5 1m-17.5-4l5 2m8 2.5h0m.5 3h0m-18-4h0m5.5 2h0m5 1.5h0m-15-3l2.5 1m5 2l8 3m-18-4l2.5 1m5.5 2h0m8 3h0m-13-2.5l8 3m8 3l2.5 1m-15-3l5 2m5.5 1.5h0m-15.5-3l8 3m5.5 2h0m-21-5l8 3m13.5 4.5l7.5 3m-28.5-7.5h0m10.5 3.5l18.5 7m-33.5-10l8 3m7.5 3l3 1m5 1.5l5.5 2m-31-8.5l5 2m8 2.5h0m5 2l3 1m7.5 3h0m-33.5-10l10.5 4m13 5l5.5 2m-33.5-10l10.5 4m5 2l2.5 .5m5.5 2h0m-31-8.5l5 2m8 2.5l8 3m-31-8.5l2.5 1m5 1.5l18.5 7m-33.5-10l13 5m8 3l5 1.5m-28-7.5l18 6.5m5.5 2l5 2m-28-8l5 2m5.5 2l2.5 1m5 2l3 1m-23.5-6l3 1m5 2h0m5.5 1.5l5 2m-20.5-5l5.5 2m5 2l10.5 4m-20.5-5l5.5 2m5 2h0m5.5 1.5l2.5 1m-20.5-5h0m5 2h0m-2 2l10.5 4m5.5 1.5h0m-18-4h0m15.5 6l3 1m-18-4l5 2m8 2.5h0m-10-1h0m8 3l2.5 1m-5 1l5.5 1.5m-12.5-2h0m10.5 4h0m-13-2l8 3m-10-1.5l2.5 1m-2 2l2.5 1m-4.5 .5l3 1.5"/><path stroke="#00aaff" d="M161.5 64h0m-5 .5h0m13.5 5h0m-15.5-3h0m-10-1h0m-4.5 .5h0m-10-1l10.5 4m-15-.5l2.5 1m5.5 2h0m5 2h0m-17.5-1.5h0m-49.5-15h0m34.5 12h0m-31-8.5h0m105 38h0m-81-26.5h0m-57-16h0m47.5 17.5h0m42 15.5h0m-41.5-13h0m-52-16.5l2.5 1m44.5 16.5h0m-46.5-14.5l2.5 1m34.5 15h0m16 6h0m10.5 3.5h0m-40-4h0m-30.5-6h0m126 46l5.5 1.5m-110-37.5h0m102.5 37.5h0m-112-35.5h0m42 15h0m10.5 4h0m-65.5-21h0m11 6.5h0m-4.5 .5h0m34 12.5h0m46 22h0m-84-28h0m82 32.5h0m32 14h0m-86-29h0m-5 1h0m45 16.5h0m-49.5-15.5h0m21 7.5l2.5 1m73.5 27h0m-82.5-22.5h0m60.5 22h0m-68-22.5h0m5.5 2l2.5 1m10.5 4h0m-18-4h0m10.5 4h0m10.5 3.5h0m53 19.5h0m20.5 7h0m-33.5-9.5l2.5 1m5.5 2l2.5 1m23 8.5h0m-88-29.5h0m48 22.5l3 1m-49.5-15.5h0m50 18h0m-77.5-20.5h0m8.5 6l5 1.5m16 6h0m55.5 23h0m-104.5-36l2.5 1m23.5 9h0m5.5 1.5h0m8 3h0m-13-2h0m8 3h0m8 3l2.5 1m50 18h0m-62-17.5h0m45.5 21.5h0m-10-1h0m13 5h0m-25.5-7h0m5 2h0m5.5 2h0m8 2.5h0m-25-1l2.5 1m-4.5 .5h0m10.5 4l2.5 1m-67-22h0m51.5 19h0m32 11.5h0m-83-27.5h0m70 25.5l3 1m5 1.5h0m-76-25h0m50 18.5h0m10.5 3.5h0m-17.5-4h0m7.5 3l3 1m5 2l2.5 1m5.5 2l3 1m-23.5-6h0m5 2h0m8 2.5h0m3.5 1.5h0m-65.5-21.5h0m4.5 2l3 1m42 15h0m8.5 3.5h0m-53-17h0m1.5 8.5h0m-1.5 4.5h0m-2 1.5h0"/><path stroke="#e3ff1c" d="M179.5 68h0m5.5 4.5h0m-11 6h0m1.5 8.5h0m-31-9h0m-4 6.5h0m-10-1h0m-20.5-5h0m8 2.5h0m29 11h0m-34-10h0m-15-3h0m-9.5 1.5h0m-5 1h0m68.5 37.5h0m-98.5-28h0m94.5 34.5h0m-94-32h0m105 38.5h0m-107.5-36.5h0m33.5 22.5h0m-54-15h0m108 39.5h0m-39-11.5h0m-36.5-11h0m29 10.5h0m55.5 23h0m-99.5-33.5h0m29.5 13h0m39.5 14.5h0m-49.5-15.5h0m61.5 27.5h0m-80.5-24h0m.5 2.5h0m29 10.5l2.5 1m-28.5-7.5h0m-19.5 .5l3 1m92 33.5h0m-2.5 1.5h0m.5 3h0m-101.5-6.5h0m-1.5 7h0m.5 3h0m-1.5 4.5h0m34.5 15h0"/><path stroke="#00c6ff" d="M196 66.5h0m-27-2.5h0m-5 1h0m-4.5 .5h0m-16.5 4.5h0m-12.5-2l2.5 1m5 1.5h0m-7.5 0h0m5.5 2h0m5.5 2h0m24 11.5h0m-12.5-2.5h0m-84-27.5h0m34.5 12h0m5 2l2.5 1m-12.5-2h0m83 30.5h0m-111-35.5h0m23.5 8.5h0m-49-15.5l2.5 1m44.5 16.5h0m48 20h0m-83.5-28l2.5 1m-23.5-6h0m45 16.5l2.5 1m-9.5 1.5h0m-43.5-13.5h0m41.5 15h0m39.5 14.5h0m-82.5-27.5l1.5 .5m39.5 14.5h0m71.5 28.5h0m-78.5-26h0m47 17.5h0m-49.5-15.5h0m105.5 38l2.5 1m-7.5 0h0m-112.5-38.5h0m24.5 14h0m-28-7.5h0m108 42h0m-115-39.5h0m11 6.5h0m113 41h0m-73-24h0m-4.5 3.5l5.5 2m-44-11h0m39.5 14.5h0m3.5 6.5l3 1m-28-5h0m11 6.5h0m5 2l3 1m55 20h0m8 3h0m-115.5-39.5h0m105.5 38h0m10.5 4h0m-94.5-31.5h0m24 8.5h0m58 21h0m-92-31h0m27 12.5l5 2m47.5 17h0m-83.5-27.5h0m15.5 5.5h0m5.5 2h0m63 23h0m8 3l2.5 .5m-78.5-26h0m87 32l2.5 1m-94-32h0m13 5h0m81.5 29.5h0m-112.5-38.5h0m16 6h0m26 9.5h0m39.5 14.5h0m23.5 8.5h0m-112.5-38.5h0m33 19.5h0m-33.5-9.5h0m34 12.5h0m-7.5-.5h0m-22.5-3h0m10.5 4h0m61.5 27.5h0m-10-1l2.5 1m8 2.5h0m-75.5-25h0m47.5 20h0m5.5 2h0m26 9.5h0m-88-29.5h0m62.5 22.5h0m23.5 9l2.5 1m-33.5-10h0m5 2h0m-4 3.5h0m18.5 7h0m5 1.5h0m-25.5-6.5h0m15.5 5.5l5.5 2m-28.5-8h0m18.5 7h0m-10-1h0m-55-17.5h0m50 18l2.5 1m-48.5-10h0m-5 11h0"/><path stroke="#ff3900" d="M179 93.5h0m-2 1.5h0m-23-6h0m10.5 4h0m-5 1h0m13 4.5h0m-49-12.5h0m-4.5 .5h0m-12.5-2h0m34 12.5h0m-47-14.5l2.5 1m11 4l2.5 1m34.5 15h0m-99.5-33.5h0m35 15h0m73.5 27h0m20 7h0m-6.5 .5h0m-89-30h0m16.5 8.5h0m63.5 38.5h0m-80.5-24h0m1 5h0m84 31h0m-118-40.5h0m34.5 12.5h0m-7.5 0h0m81.5 29.5h0m-83.5-28h0m-9.5 1.5h0m52.5 19.5h0m18.5 6.5h0m-63-20h0m34.5 12.5h0m-76-25.5h0m5.5 2h0m26 9.5l2.5 1m76.5 28h0m16 5.5h0m-70.5-23h0m5 2h0m-42-2.5l2.5 1m-20-2.5h0m90.5 38h0m-99.5-18h0m3.5 3.5h0"/><path stroke="#c6ff39" d="M194 70.5h0m-43.5-.5h0m13.5 7.5h0m19 9.5h0m-10-1h0m5 2h0m-4.5 .5l2.5 1m-70.5-10.5h0m29 13.5h0m21.5 10.5h0m-113.5-31.5h0m53 22h0m-9 4.5h0m-20.5-5h0m-10-1h0m63.5 25.5h0m-77.5-20.5h0m17.5 14h0m87 34.5h0m-64.5-18.5h0m27.5 17.5h0m-10-1h0m5.5 2h0m-60-19.5h0m5 2h0m50 18.5h0m27 12h0m23.5 8.5h0m-107-36.5h0m45 19h0m-52-16h0m21 7.5h0m-14.5 2.5h0m79 28.5h0m-96.5-30h0m89.5 32.5h0m1 5.5h0m-93-13.5h0m-10 22h0"/><path stroke="#ffc600" d="M160 84h0m8 2.5h0m-12.5-2h0m5 2h0m16 6h0m-30.5-6h0m-7.5-.5h0m-12.5-2h0m7.5 3l3 1m13.5 7.5h0m-99.5-33.5h0m-2 1.5l2.5 1m-2 2h0m50 18h0m50 18h0m-102.5-34.5h0m-6.5 2.5h0m36.5 13.5h0m-15.5 10h0m55.5 20h0m-44.5-13.5h0m94 36.5h0m-114-39h0m104.5 45.5h0m-107-33.5h0m26 9.5h0m-17-1h0m-33.5-7.5h0m58 21.5h0m-20.5-5h0m58 21h0m-39-11.5h0m60.5 22h0m-10-1h0m22 10.5h0m-123.5-40h0m53 19.5h0m-31.5-9l3 1m-7 2.5h0m72 31.5l2.5 1m-65.5 32h0"/><path stroke="#ff0000" d="M181 91.5l3.5 1m-1.5 2.5h0m-5.5 3h0m-25.5-4.5h0m-18-4h0m18.5 7h0m10.5 3.5h0m-52-16h0m16 5.5h0m-23.5-6h0m13.5 5l2.5 1m32 14h0m-2 2h0m-102.5-34.5h0m37 13h0m16 6h0m74.5 27h0m-24-6h0m-67.5-19.5h0m68.5 25h0m-81-24.5h0m-11.5 3.5h0m20 15h0m-17 1.5l2.5 1m5.5 2h0m-17.5-1.5h0m13 5l3 1m23.5 8.5h0m-41.5-12.5h0m23.5 8.5h0m-36.5-10.5h0m10.5 3.5h0m22 10.5h0m50 18.5l2.5 .5m-62.5-20h0m23.5 8.5h0m50.5 21h0m-39-11.5h0m-70.5-23h0m65.5 23.5h0m-62-4.5h0m-5.5 23.5h0m-4.5 3.5h0"/><path stroke="#ff5500" d="M178.5 90.5h0m-30.5-6l2.5 1m-2 2h0m-4.5 3.5h0m13.5 4.5h0m-39-11.5h0m5.5 4.5h0m-24.5-1.5h0m47 17.5h0m-104.5-35.5h0m121 44h0m-58.5-11h0m46 24.5h0m13.5 4.5h0m-114-31h0m24 11.5h0m40 17h0m-1.5 4.5h0m-86-26h0m35 15h0m8 3h0m-34-10h0m5.5 2h0m76 28h0m-12.5-2.5h0m18.5 7h0m-60-19.5h0m26.5 12.5h0m-62.5-20.5h0m21.5 10.5h0m5.5 2h0m31.5 11.5h0m5 2h0m-44-13.5h0m-2 1.5h0m-13-2h0m8 3l2.5 1m3.5 3.5h0m-25-3.5h0m100 38.5h0m3 4h0m-106-16l2.5 1m1.5 21h0"/><path stroke="#c60000" d="M181.5 94h0m-25-4h0m13 5l2.5 1m-1.5 4.5h0m-2 1.5h0m8 3h0m-55-17.5h0m8 3l2.5 1m34.5 12.5h0m-52.5-16.5h0m63 23h0m-67-19.5h0m29 10.5h0m21 8h0m8 2.5h0m5 2h0m-78.5-26h0m10.5 4h0m47.5 17h0m8 3h0m13 5h0m-73-24.5h0m47.5 20h0m-57-18h0m65.5 36.5h0m-80.5-24h0m5 1.5h0m68.5 25h0m-7.5 0h0m8 3h0m-94-32l2.5 1m39.5 14.5h0m50 18h0m-102-34.5h0m5 2h0m29 10.5h0m63.5 25.5l2.5 1m13.5 5h0m-63-20.5h0m47.5 17.5h0m5.5 2h0m5 1.5h0m5.5 2l.5 .5m-87-29h0m21 7.5h0m55.5 20h0m-13-2h0m10.5 4h0m-112.5-38.5h0m5.5 2h0m10.5 3.5h0m81.5 30h0m8 2.5h0m10.5 4l2.5 1m-76-25h0m8 3l2.5 1m-52-16.5h0m10.5 3.5h0m79 29h0m16 5.5h0m7.5 3h0m-110-37.5h0m5.5 2h0m-12.5-2h0m5 2l5.5 1.5m-13-2h0m18.5 7h0m-25.5-7h0m13.5 7.5l5 2m-17.5-1.5h0m5.5 2h0m-7 0l2 1m8 3h0m-7.5-.5h0"/><path stroke="#008eff" d="M186 62.5h0m7.5 3h0m-15-3h0m-19.5 .5h0m-7 2.5h0m-27 .5l2.5 1m8 3h0m-12 .5h0m-7.5 0h0m-41.5-13h0m-15.5-3h0m32.5 17h0m-28-5h0m21 8l3 .5m-55-17h0m50 18h0m64.5 31h0m.5 3h0m-81-27h0m13.5 5h0m-49.5-15.5h0m27 15h0m31.5 11.5h0m-39-12h0m-4.5 1h0m-4.5 3.5h0m-2 2h0m-4 6h0m58 21h0m66 24h0m-7.5 0h0m-112.5-38.5h0m28 20.5h0m56.5 25.5h0m-55-17h0m53 19h0m18.5 9.5h0m-67.5-22.5h0m-18-3.5h0m71 25.5h0m3 4l2.5 1m10.5 3.5h0m5.5 2h0m-89-30h0m76.5 28l2.5 1m-18-4h0m-73-24l2.5 1m26 9.5h0m37 13.5h0m-65-21.5h0m10.5 4l2.5 1m71.5 28.5l2.5 1m-109.5-35h0m16 6l5 2m18.5 6.5h0m-44-13.5h0m44.5 16.5h0m-15-3h0m5 1.5h0m58 21.5h0m10.5 3.5h0m-86.5-29l2.5 1m5.5 2h0m68.5 25h0m5 2h0m-75.5-25h0m5 2h0m-2 1.5l5 2m5.5 2h0m-23-6l2.5 1m58.5 24l2.5 .5m8.5 6h0m10.5 3.5h0m-91.5-30.5h0m55 20h0m26.5 9.5h0m-78.5-26h0m50 18.5h0m18.5 6.5h0m5 2h0m-25.5-7h0m5 2h0m21 7.5h0m5.5 2l2.5 1m-41.5-12.5h0m29 10.5h0m10.5 4h0m-92-31l3 1m55 20h0m31.5 11.5l5.5 2m-41.5-12.5l2.5 1m5 1.5h0m13.5 5l2.5 1m8 3h0m-26-7h0m5.5 2h0m-18-4l2.5 1m10.5 4h0m5.5 1.5l2.5 1m-17.5-1h0m8 3h0m5 1.5h0m-54.5-17h0m47.5 17h0m-57.5-18.5l2.5 1m8.5 6h0m-2 1.5h0m-2 4.5h0"/><path stroke="#e30000" d="M175 97h0m-26-7h0m16 5.5h0m5 2h0m10 4h0m-1.5 2l1 0m-63-18h0m-15.5-3h0m10.5 4h0m10.5 4h0m16 5.5h0m.5 3h0m18.5 9.5h0m5.5 1.5l2.5 1m5.5 2h0m-15.5-3h0m-70.5-23h0m3.5 6.5h0m-10-1h0m-14 2.5h0m-15-.5h0m96 40h0m-84-28l2.5 1m16 5.5h0m-26-6.5l5.5 2m-5 .5h0m21 8h0m77 30.5h0m5.5 1.5h0m-102.5-34.5l3 1m18 6.5l3 1m18 7h0m-67.5-22.5h0m71 26h0m55 20h0m-128.5-44h0m.5 2.5h0m5.5 2h0m5 2h0m8 3h0m34.5 12.5h0m28.5 10.5h0m22 10.5h0m5 1.5l2.5 1m8 3h0m-118-40.5h0m5.5 2h0m94.5 34.5l3 1m-107.5-36.5l5 2m68.5 25h0m-64-16h0m-4 6.5h0m-7.5-.5h0m.5 3h0m96 40h0m-100.5-18.5h0m-1 4.5h0"/><path stroke="#00ffff" d="M189 66h0m-22 0l2.5 1m-2.5 1.5h0m11 4h0m-15.5-3h0m8 2.5l2.5 1m-26-6.5h0m21 7.5h0m-27-2.5h0m-7 3h0m-15-.5h0m42 15.5h0m-54.5-17.5h0m-55-17.5h0m5.5 2h0m15.5 5.5h0m60.5 22l3 1m-84-27.5h0m16 5.5h0m-18-4h0m8 3h0m5 2l3 1m-28.5-8h0m55 20h0m10.5 4h0m50 18h0m-122-36.5l2.5 1m-2 1.5h0m44.5 16.5h0m6 4.5h0m3 3.5h0m76.5 28h0m-94.5-32h0m102.5 37.5h0m-4.5 1h0m5 2h0m-141-49h0m26.5 12h0m97.5 35.5h0m13 5h0m-7.5-.5h0m-114.5-36.5h0m-17-1h0m61 27.5h0m5.5 4.5h0m-9 4.5h0m-25.5-7h0m6 7.5h0m48 20l2.5 1m-39-12l2.5 1m-18-4h0m63.5 23h0m-57.5-18h0m63 23h0m8 2.5h0m10.5 4h0m-12.5-2l2.5 1m10.5 3.5h0m-76-25h0m56 23h0m-2 2h0m3 3.5h0m-65.5-21h0m76.5 27.5h0m-120.5-41h0m.5 2.5h0m42 15.5h0m5.5 1.5l2.5 1m39.5 14.5h0m-49.5-15.5h0m53 22h0m.5 2.5h0m-96-32h0m41.5 15h0m31 24h0m-74.5-19.5h0m-4 14h0m7 2.5h0m33 19.5h0m-41-12h0m10 3.5h0m-7.5-.5h0m-4.5 11.5h0"/><path stroke="#8eff71" d="M180 70.5l2.5 1m3 3.5h0m-33-6.5h0m31.5 11h0m-28.5-7.5h0m13 4.5h0m-20.5-4.5h0m24 8.5h0m15.5 5.5h0m-7.5 0h0m-15-3h0m-18-4h0m10.5 4h0m5.5 2h0m7.5 2.5h0m-66.5-16.5h0m18 6.5h0m8 3l5.5 2m-81-27h0m63 23h0m-55-17.5h0m50 18.5h0m29 10.5h0m-47-14.5h0m-46.5-14.5h0m-2.5 1.5h0m-11.5 3.5h0m56 23h0m-19.5 .5h0m-42.5-8h0m17 16.5h0m50 18h0m-52.5-16h0m-2 1.5h0m6.5 7.5h0m-21.5-5h0m127.5 48.5h0m-78.5-26h0m40 17.5h0m-89-30h0m89.5 32.5h0m29 10.5h0m-49.5-15.5h0m42.5 18h0m-99-30.5h0m55.5 20h0m-36.5-11h0m-10-1h0m37 13.5l2.5 1m-51.5-13.5h0m86.5 44h0m-2 2h0m-104-15h0m3.5 16.5h0m36 23.5l2.5 1m0 2.5h0m-45-9h0"/><path stroke="#0071ff" d="M183 61.5h0m5.5 2l2.5 1m-17.5-1.5h0m-7 0h0m-17 1.5h0m-12.5 .5h0m-10-1h0m-9 4.5l2.5 1m-49.5-15.5h0m29 10.5h0m10.5 4l3 1m5 2h0m-20.5-5l2.5 1m-4.5 .5h0m-20.5-5h0m-2.5 2h0m-33.5-10h0m31.5 11.5h0m16 6h0m-20.5-5h0m15.5 6h0m-47-14.5h0m26.5 9.5h0m-4.5 .5h0m21 8h0m66.5 29.5h0m-75.5-25.5h0m100 36.5h0m-13-2h0m16.5 6h0m-141.5-46.5h0m28.5 10.5h0m-14.5 0h0m-2 1.5h0m-4.5 3.5h0m-4.5 3.5h0m35.5 18h0m1 5.5h0m-23.5-6h0m16 6h0m16.5 8.5h0m-47-14.5h0m11 6.5h0m57 31h0m21.5 10.5h0m-49.5-15.5h0m-4.5 1l2.5 .5m47.5 17.5l5 2m11 3.5l5 2m-78.5-26l5.5 2m18.5 7h0m31.5 11.5h0m26 9.5l3 1m-81.5-27l3 1m5 1.5l2.5 1m60.5 22h0m-78-26l5 2m16 6h0m68.5 25h0m-102.5-35h0m-2 2l2.5 1m95 34.5h0m-113-38.5h0m47.5 17h0m-54-17l2 .5m44.5 16.5h0m5.5 2h0m58 21h0m-76-25h0m5.5 2h0m-34-10h0m37 13.5h0m-31-8.5l2.5 1m8 2.5h0m79 29h0m-83.5-25.5h0m74 27h0m-81.5-27h0m13.5 5h0m68 24.5h0m5.5 2l2.5 1m-18-4h0m18.5 7h0m5.5 2h0m-41.5-13l2.5 1m21 8l5 1.5m-86-28.5h0m47.5 17h0m10.5 4h0m18 6.5h0m8 3h0m5.5 2l2.5 1m-39-12l2.5 1m16 6h0m10.5 4h0m-39-12h0m13 5l3 1m13 4.5h0m13 5h0m-83.5-28h0m52.5 19h0m18.5 7h0m10.5 3.5h0m-44.5-13.5h0m18.5 7h0m8 3l2.5 .5m5.5 2l2.5 1m-41.5-12.5h0m13 5h0m5.5 1.5h0m15.5 6h0m8 3h0m4.5 1.5h0m-48.5-15h0m18 6.5h0m5.5 2h0m-67.5-22h0m10 3.5h0m34.5 12.5h0m13 5h0m.5 2.5h0m-47-14.5h0m29 10.5h0m-30.5-6h0"/><path stroke="#1cffe3" d="M183.5 64.5l3 1m-9.5 1.5h0m-12.5 .5h0m11 6.5l3 1m-15.5-3l2.5 1m8 3h0m13 4.5h0m-25.5-6.5h0m-17.5-1.5h0m5 2h0m8 3h0m5.5 2h0m-35.5-5.5h0m-5 1h0m13.5 4.5h0m-65.5-21h0m39.5 14.5l2.5 1m5.5 2l2.5 .5m-60-19h0m5.5 2h0m36.5 13.5l10.5 3.5m-52-16.5h0m39.5 14.5l2.5 1m-46.5-14.5h0m44.5 16.5h0m-55-17.5h0m11 3.5h0m5 2h0m48 20h0m-78.5-26h0m60.5 22h0m23.5 9h0m-36-11h0m-49-15h0m2.5 3.5h0m42 15h0m-2 2l2.5 1m-4.5 .5h0m-5 1h0m58 21h0m36.5 13.5h0m-96.5-32.5h0m100.5 39h0m-7.5 0h0m-110-37.5h0m-18.5-4.5h0m19 7h0m110.5 40h0m-41.5-12.5h0m-23.5-5.5h0m-54-15h0m8.5 5.5h0m8 6h0m-7 2.5h0m93.5 39h0m-7.5 0h0m-23.5-6h0m8 3h0m29.5 13h0m-91.5-31h0m79 29h0m-7.5 0h0m23.5 8.5h0m-123-42.5h0m63 23h0m60.5 22h0m-100.5-26h0m68.5 24.5h0m13 5l2.5 1m-83.5-28l2.5 1m13.5 5h0m47 17h0m16 5.5l2.5 1m-68-22h0m-20.5-5l3 1m79 31.5h0m-106-31h0m-2 2h0m6.5 10h0m69 27.5h0m-75.5-22.5h0m-3.5 1.5h0m2 3h0m8.5 6h0m-10 1.5h0m45 16h0m8 3h0m-54.5-14.5h0m10.5 4h0m-4.5 .5h0m-6.5 5.5h0m3 3.5h0m-2 2h0m-4 1h0m7 2.5h0m-4.5 1h0m-2 2h0"/><path stroke="#0055ff" d="M195.5 61l3 1m-5.5 .5l4.5 1.5m-17-3.5h0m-128-41.5h0m-11.5 3.5h0m110.5 40.5l2.5 .5m-117.5-37.5l5.5 2m100 36.5h0m-107.5-36.5l8 3m92 33.5h0m-12 .5h0m-54-12h0m34.5 12.5l5 2m-44-13.5h0m-7.5-.5h0m37 13.5h0m-44.5-13.5h0m34 12.5h0m13.5 5h0m-49.5-15.5h0m42 15h0m-15.5-3h0m10.5 4h0m82 29.5h0m-131.5-45h0m-3.5 1h0m49 18h0m87 31.5h0m-94-29h0m102.5 37.5h0m-143-44.5h0m31.5 11.5h0m100 36.5h0m-105-35.5h0m100 36h0m-102-34.5h0m-12.5-2l5 2m-17.5-4h0m10.5 4h0m-2 4.5h0m124 45h0m-128-41.5h0m-5 .5h0m52.5 19.5h0m-49.5-15.5h0m108 39h0m-68-22h0m-33-7h0m116.5 45h0m-62.5-17.5h0m-4.5 .5h0m-34-9.5h0m97.5 35.5h0m-105-35.5h0m58.5 23.5h0m10.5 4h0m-81-27h0m84.5 30.5h0m-97-32.5h0m53 22h0m16 5.5h0m-2.5 2h0m34.5 12.5h0m18.5 6.5h0m5 2l2.5 1m-4.5 .5h0m-86.5-28.5h0m8 3h0m8 2.5h0m63 23h0m-76-25h0m50 18.5h0m36 13h0m-72-24h0m34 12.5h0m34.5 12.5h0m-112-33h0m97.5 35.5h0m-110-37.5h0m15.5 5.5h0m5.5 2h0m5.5 2l2.5 1m5 2h0m5.5 2h0m-18-4h0m21 7.5l2.5 1m-39-11.5h0m-2 1.5h0m10.5 4h0m24 8.5h0m-34-9.5l5.5 2m7.5 2.5l3 1m15.5 6h0m55.5 20h0m-73.5-24h0m55.5 20h0m5 2h0m5.5 2h0m16 5.5l13 5m-107.5-36.5l8 2.5m68.5 25h0m5 2h0m13.5 5h0m-97-33h0m55 20h0m37 13.5l5.5 2m-15.5-3h0m5 2h0m29 10.5h0m-67.5-22h0m10.5 3.5l7.5 3m10.5 4h0m8 2.5l2.5 1m-49.5-15.5h0m24 9l8 2.5m-34-9.5l2.5 1m26.5 9.5l2.5 1m-31-9h0m24 9h0m10.5 3.5h0m15.5 6h0m-86.5-29h0m32 11.5h0m23.5 8.5l5.5 2m18 7h0m-48.5-10h0m-4.5 .5h0m.5 3h0m-40.5-12.5h0m52.5 19.5h0m-13.5 0h0m-28-7.5h0"/><path stroke="#71ff8e" d="M187 68h0m5 2h0m-7.5 0h0m8.5 3h0m-10 1.5h0m-25.5-4.5l3 1m10.5 4h0m5 2h0m13.5 4.5h0m-31.5-8.5h0m21.5 7.5h0m-13-2l2.5 1m5.5 2h0m5 2l3 1m-28.5-8h0m21 7.5h0m10.5 4l1.5 .5m-34.5-7.5l2.5 1m-18-4h0m3 3.5h0m42.5 15.5h0m-54.5-14.5h0m-73-24.5h0m52.5 19.5h0m-47-14.5h0m34.5 15h0m18.5 7h0m-18-4h0m-56.5-16h0m118.5 46h0m-38.5-11.5h0m-21-5h0m56.5 25.5h0m-96.5-30l2.5 1m-12 .5h0m14.5 13h0m27.5 15.5h0m-7.5-.5h0m8 3h0m5 2h0m-30-3.5h0m-4 3.5h0m24 11.5h0m21.5 10.5h0m13.5 4.5h0m-60.5-19h0m63.5 23h0m15.5 5.5h0m-75-22h0m-2 4.5h0m-22.5-3.5h0m-15 0h0m27 12l5.5 2m62.5 33h0m-99-15.5h0m38.5 34.5h0m1 5.5h0m-45.5-6.5h0m-1.5 4.5h0"/><path stroke="#39ffc6" d="M195.5 68.5h0m-16.5-3.5l5 2m-10-1h0m8 3h0m-10-1.5l2.5 1m6 5h0m8 2.5h0m-7.5 0h0m5 2l3 1m-10-1l2.5 1m-34-10h0m16 6h0m13 4.5h0m8 3h0m-25.5-4h0m5.5 2l5 1.5m-25.5-6.5h0m5 2l5.5 1.5m5 2l3 1m-26-7h0m-7.5 0l2.5 1m32 11.5h0m-39-11.5l7.5 3m5.5 1.5h0m42 15.5h0m-112.5-38.5h0m34 12.5h0m13.5 5h0m32 14h0m-89-30h0m8 3h0m39.5 14.5h0m-46.5-12h0m-5 1h0m37 13.5h0m8 3h0m-13-2.5h0m26.5 10h0m5.5 1.5h0m-4.5 4h0m58 21h0m-90.5-25.5h0m84 30.5h0m3 4h0m-102-35h0m-37.5-6l2 1m-1.5 4.5h0m18.5 6.5h0m43 21h0m10.5 4h0m-65-18.5h0m37 13.5h0m26.5 9.5h0m-27 .5h0m1.5 8h0m.5 2.5h0m29 11h0m42 15h0m-121.5-41.5h0m30 11h0m93 39h0m-70-20.5h0m42 15h0m-91.5-30.5h0m23.5 8.5h0m74 29.5l3 1m-57.5-18.5h0m68.5 25h0m-78.5-26l2.5 1m8 3h0m58 21h0m-78.5-26l8 3m61 24.5h0m-95.5-24.5h0m-4.5 16.5h0m-.5 10h0m-2 4.5h0m-4.5 11h0m-1.5 2l1.5 .5m5 2h0"/><path stroke="#ff8e00" d="M150 82.5h0m19 9.5l2.5 1m-51-11h0m42 15.5h0m-4.5 1h0m-52-16.5h0m-60-16.5h0m55.5 20h0m42 15.5h0m-54.5-17.5h0m61 40h0m-9.5 2h0m-67-17h0m74 27h0m-111.5-30.5h0m8.5 5.5h0m-19-4h0m27.5 10l2.5 1m9 8h0m-40-12h0m56.5 20.5h0m-57-18h0m28.5 10.5h0m86.5 31.5h0m10.5 4h0m-20.5-5h0m-96-30h0m32 14h0m-42.5-13h0m14.5 8h0m13 5h0m-17.5-1.5h0m-11 34.5h0m.5 2.5h0"/><path stroke="#0000ff" d="M213 8.5l5 2m-34-10l5.5 2m26.5 9.5l3 1.5m-42-13l5.5 2m7.5 3h0m13.5 4.5h0m10.5 4l4.5 1.5m-46-14h0m42 15l2.5 1m-28.5-7.5h0m8 3l2.5 .5m13.5 5l3.5 1.5m-29.5-8.5l15.5 6m-15-3h0m5 2h0m5.5 1.5l5 2m-17.5-4l7.5 3m10.5 4l3 1m5 2l2.5 .5m-31-8.5l26.5 9.5m-78.5-26h0m50 18l21 8m-68-22.5l5.5 2m31.5 11.5h0m10.5 4l2.5 1m5.5 2l5 2m-70.5-23.5l3 1m7.5 3h0m47.5 17l2.5 1m5.5 2h0m-73.5-24h0m5.5 2h0m63 23l10.5 3.5m-86-28.5l2.5 1m76.5 27.5l2.5 1m13 5l2.5 1m-94-32l2.5 1m79 28.5h0m-89-29.5l10.5 3.5m81.5 30l5.5 2m4 1.5h0m-111.5-38h0m10.5 3.5l2.5 1m76.5 28l5.5 2m7.5 2.5h0m8.5 3h0m-134-46h0m21 7.5l5 2m5.5 2h0m81.5 29.5l8 3m10.5 4h0m-138.5-48l2 .5m5.5 2l2.5 1m26.5 9.5h0m5 2h0m79 29l8 2.5m5 2l5.5 2m-145.5-50.5l9 3.5m8 3l5 2m18.5 6.5h0m-47.5-15l3.5 1.5m5 2h0m8 2.5l10.5 4m102.5 37.5l20.5 7.5m-157-55l26.5 10m18.5 6.5l5.5 2m5 2h0m87 31.5l14 5m-164-57l6 2m5 2l2.5 1m5.5 2l8 3m36.5 13h0m81.5 30l5.5 2m5 1.5h0m7 2.5h0m-159-55l5.5 2m10.5 3.5h0m5 2l3 1m123.5 45h0m-149.5-52l2.5 1m26.5 9.5h0m110.5 40.5l8 3m-151-52.5h0m4 1.5h0m31.5 11.5h0m8 3h0m97.5 35h0m-141-48.5h0m33.5 12h0m102.5 37.5h0m-107.5-36.5l3 1m5 2h0m95 34.5h0m-102.5-35l3 1m94.5 34.5h0m-102-34.5l5 2m8 3l16 5.5m5 2h0m60.5 22h0m-99.5-33.5h0m10.5 3.5h0m16 6h0m8 3h0m57.5 21h0m-94-32h0m5 2l8 3m74 26.5l2.5 1m-86.5-28.5l8 2.5m66 24h0m-68-22h0m57.5 21h0m5.5 2h0m-73-24h0m10.5 3.5l15.5 6m34.5 12.5l2.5 1m5 2h0m-86-29h0m26 9.5l21.5 7.5m7.5 3h0m29 10.5h0m-60-19l2.5 .5m8 3l5.5 2m8 3l2.5 1m8 2.5l21 8m-78.5-26h0m21 7.5l5 2m8 3h0m10.5 3.5h0m-46.5-14.5l5 2m18.5 7l2.5 .5m18.5 7h0m13 4.5h0m-57.5-18h0m16 5.5l2.5 1m8 3h0m-27-7.5l17 6.5m-17.5-4l15.5 5.5m-13-2l8 3m-10-1l5.5 2m-6.5 0h0m39 16.5l2.5 1m-10-1l2.5 1m-7 0l2.5 1m8 3h0m-18-4l5 1.5m5.5 2l2.5 1m-18-4l2.5 1m10.5 4l5.5 2m-26-7h0m-4.5 1h0m8.5 5.5l2.5 1m-10-1.5l5 2m-2 2h0m-2 1.5h0m-2 2l2.5 1m-2 1.5h0m-4 6.5h0m-3 1.5h0m3.5 1h0m-4 1.5h0m87.5 52h0m2 11h0m-26-7l2.5 1m5.5 2l2.5 1m-15-3h0m-4 6.5h0m66 23.5l1 .5m-6 .5l5.5 2m-121-41.5h0m5.5 2h0m44.5 16.5h0m63.5 23h0m5 1.5h0m-112.5-38h0m37 13l2.5 1m15.5 6h0m47.5 17h0m5.5 2l5.5 2m-73.5-24h0m55 20l18.5 6.5m-75.5-25h0m39.5 14.5h0m15.5 6h0m18.5 6.5l1.5 .5m-80-26.5h0m42 15.5l3 1m10.5 3.5l2.5 1m5 2l5.5 2m8 3h0m-39-12h0m18.5 7l2.5 1m5 1.5l3 1m5 2h0m-44-13.5h0m50.5 18.5h0m-97.5-33l5 2m29 10.5h0m58 21h0m-107.5-36.5h0m42.5 15.5h0m60.5 22l2.5 1m6 2h0m-113.5-38.5h0m100 36h0m5.5 2h0m-15.5-3h0m5.5 2h0m5 2h0m-68-22h0m60.5 22h0m-7.5-.5l5.5 2m-91.5-30.5h0m29 10.5h0m-4 6h0m-2 2h0m-25-1.5h0m21 7.5h0m-20.5-5h0m21 8h0m-7 2.5h0m-15-3h0m-2 1.5h0"/><path stroke="#00e3ff" d="M181 63.5h0m13 4.5h0m-17.5-4h0m-5 1h0m-9.5 1.5h0m10.5 4l2.5 1m-18-4l3 1m5 2l2.5 1m-25-4.5l2.5 1m-19 3.5l5 2m-7-.5h0m-57.5-18h0m47.5 17l2.5 1m29 10.5h0m-84-28l3 1m-2.5 2h0m8 3h0m-20.5-5h0m47.5 17h0m52.5 19h0m23.5 9h0m-120.5-41.5h0m-12.5-2l2.5 1m.5 2.5h0m45 16.5h0m-55-17.5h0m21 7.5h0m50 18.5h0m52.5 19h0m-127-43.5h0m6.5 2.5h0m119.5 48.5h0m5.5 1.5h0m-31-8.5h0m-101.5-34.5h0m36 13.5h0m97.5 35h0m-5 1h0m5.5 2h0m-7.5 0h0m15.5 5.5h0m-86-29h0m73.5 27h0m-4.5 1h0m-91.5-28h0m-33-7h0m47.5 17h0m21 7.5h0m-36-8h0m34.5 12.5h0m-15.5-3h0m5 2h0m-2 2l5.5 2m-2 4.5h0m21.5 7.5h0m-28.5-8h0m18.5 9.5h0m-27-2h0m34 12h0m-36.5-10.5h0m74 27h0m-86.5-29h0m21 7.5h0m18.5 7h0m29 10.5h0m15.5 5.5l3 1m-76-25l2.5 1m71 26l3 1m-55-17.5h0m-7.5 0h0m42 15h0m8 3h0m-75.5-25h0m68 25h0m-54.5-17.5l2.5 1m-33.5-10h0m34 12.5l2.5 1m-33-7h0m18.5 7h0m5 2h0m63.5 23h0m-73.5-24.5l3 1m53 22h0m5 2h0m5.5 2h0m-5 .5h0m-68-22l3 1m.5 2.5l5 2m39 24.5h0m.5 2.5h0m8.5 6h0m-78.5-26h0m-2 1.5h0m49.5 18.5h0m-59.5-17h0m47.5 17.5h0m3 3.5h0m32 11.5l2 1m-7 0h0m-28.5-8h0m-41.5-12.5h0m-6.5 5.5l2.5 1m-7.5 7h0m4.5 2h0m-4.5 3.5h0m4.5 1.5h0"/></g>
<use href="#map"/>
</g>
<rect x="0.5" y="0.5" width="234.6" height="214.0" fill="none" stroke="#262626" stroke-width="1"/>
<text x="22.4" y="-21.7" font-size="12.2" font-weight="bold" text-anchor="start" fill="#262626" textLength="24.6" lengthAdjust="spacingAndGlyphs" stroke="#262626" stroke-width="0.22">100</text>
<circle cx="51.6" cy="-34.0" r="1.5" fill="none" stroke="#262626" stroke-width="0.9"/>
<text x="59.2" y="-21.7" font-size="12.2" font-weight="bold" text-anchor="start" fill="#262626" textLength="13.2" lengthAdjust="spacingAndGlyphs" stroke="#262626" stroke-width="0.22">W</text>
<text x="91.4" y="-21.7" font-size="12.2" font-weight="bold" text-anchor="start" fill="#262626" textLength="16.4" lengthAdjust="spacingAndGlyphs" stroke="#262626" stroke-width="0.22">90</text>
<circle cx="112.3" cy="-34.0" r="1.5" fill="none" stroke="#262626" stroke-width="0.9"/>
<text x="120.0" y="-21.7" font-size="12.2" font-weight="bold" text-anchor="start" fill="#262626" textLength="13.2" lengthAdjust="spacingAndGlyphs" stroke="#262626" stroke-width="0.22">W</text>
<text x="155.2" y="-21.7" font-size="12.2" font-weight="bold" text-anchor="start" fill="#262626" textLength="16.4" lengthAdjust="spacingAndGlyphs" stroke="#262626" stroke-width="0.22">80</text>
<circle cx="176.2" cy="-34.0" r="1.5" fill="none" stroke="#262626" stroke-width="0.9"/>
<text x="183.9" y="-21.7" font-size="12.2" font-weight="bold" text-anchor="start" fill="#262626" textLength="13.2" lengthAdjust="spacingAndGlyphs" stroke="#262626" stroke-width="0.22">W</text>
<text x="218.7" y="-21.7" font-size="12.2" font-weight="bold" text-anchor="start" fill="#262626" textLength="16.4" lengthAdjust="spacingAndGlyphs" stroke="#262626" stroke-width="0.22">70</text>
<circle cx="239.7" cy="-34.0" r="1.5" fill="none" stroke="#262626" stroke-width="0.9"/>
<text x="247.4" y="-21.7" font-size="12.2" font-weight="bold" text-anchor="start" fill="#262626" textLength="13.2" lengthAdjust="spacingAndGlyphs" stroke="#262626" stroke-width="0.22">W</text>
<text x="-49.6" y="17.2" font-size="12.2" font-weight="bold" text-anchor="start" fill="#262626" textLength="16.9" lengthAdjust="spacingAndGlyphs" stroke="#262626" stroke-width="0.22">48</text>
<circle cx="-28.2" cy="3.1" r="1.5" fill="none" stroke="#262626" stroke-width="0.9"/>
<text x="-20.5" y="17.2" font-size="12.2" font-weight="bold" text-anchor="start" fill="#262626" textLength="9.4" lengthAdjust="spacingAndGlyphs" stroke="#262626" stroke-width="0.22">N</text>
<text x="-49.6" y="34.6" font-size="12.2" font-weight="bold" text-anchor="start" fill="#262626" textLength="16.9" lengthAdjust="spacingAndGlyphs" stroke="#262626" stroke-width="0.22">46</text>
<circle cx="-28.2" cy="20.5" r="1.5" fill="none" stroke="#262626" stroke-width="0.9"/>
<text x="-20.5" y="34.6" font-size="12.2" font-weight="bold" text-anchor="start" fill="#262626" textLength="9.4" lengthAdjust="spacingAndGlyphs" stroke="#262626" stroke-width="0.22">N</text>
<text x="-49.6" y="51.9" font-size="12.2" font-weight="bold" text-anchor="start" fill="#262626" textLength="16.9" lengthAdjust="spacingAndGlyphs" stroke="#262626" stroke-width="0.22">44</text>
<circle cx="-28.2" cy="37.8" r="1.5" fill="none" stroke="#262626" stroke-width="0.9"/>
<text x="-20.5" y="51.9" font-size="12.2" font-weight="bold" text-anchor="start" fill="#262626" textLength="9.4" lengthAdjust="spacingAndGlyphs" stroke="#262626" stroke-width="0.22">N</text>
<text x="-49.6" y="70.7" font-size="12.2" font-weight="bold" text-anchor="start" fill="#262626" textLength="16.9" lengthAdjust="spacingAndGlyphs" stroke="#262626" stroke-width="0.22">42</text>
<circle cx="-28.2" cy="56.6" r="1.5" fill="none" stroke="#262626" stroke-width="0.9"/>
<text x="-20.5" y="70.7" font-size="12.2" font-weight="bold" text-anchor="start" fill="#262626" textLength="9.4" lengthAdjust="spacingAndGlyphs" stroke="#262626" stroke-width="0.22">N</text>
<text x="-49.6" y="87.1" font-size="12.2" font-weight="bold" text-anchor="start" fill="#262626" textLength="16.9" lengthAdjust="spacingAndGlyphs" stroke="#262626" stroke-width="0.22">40</text>
<circle cx="-28.2" cy="73.0" r="1.5" fill="none" stroke="#262626" stroke-width="0.9"/>
<text x="-20.5" y="87.1" font-size="12.2" font-weight="bold" text-anchor="start" fill="#262626" textLength="9.4" lengthAdjust="spacingAndGlyphs" stroke="#262626" stroke-width="0.22">N</text>
<text x="-49.6" y="101.8" font-size="12.2" font-weight="bold" text-anchor="start" fill="#262626" textLength="16.9" lengthAdjust="spacingAndGlyphs" stroke="#262626" stroke-width="0.22">38</text>
<circle cx="-28.2" cy="87.7" r="1.5" fill="none" stroke="#262626" stroke-width="0.9"/>
<text x="-20.5" y="101.8" font-size="12.2" font-weight="bold" text-anchor="start" fill="#262626" textLength="9.4" lengthAdjust="spacingAndGlyphs" stroke="#262626" stroke-width="0.22">N</text>
<text x="-49.6" y="119.2" font-size="12.2" font-weight="bold" text-anchor="start" fill="#262626" textLength="16.9" lengthAdjust="spacingAndGlyphs" stroke="#262626" stroke-width="0.22">36</text>
<circle cx="-28.2" cy="105.1" r="1.5" fill="none" stroke="#262626" stroke-width="0.9"/>
<text x="-20.5" y="119.2" font-size="12.2" font-weight="bold" text-anchor="start" fill="#262626" textLength="9.4" lengthAdjust="spacingAndGlyphs" stroke="#262626" stroke-width="0.22">N</text>
<text x="-49.6" y="133.8" font-size="12.2" font-weight="bold" text-anchor="start" fill="#262626" textLength="16.9" lengthAdjust="spacingAndGlyphs" stroke="#262626" stroke-width="0.22">34</text>
<circle cx="-28.2" cy="119.7" r="1.5" fill="none" stroke="#262626" stroke-width="0.9"/>
<text x="-20.5" y="133.8" font-size="12.2" font-weight="bold" text-anchor="start" fill="#262626" textLength="9.4" lengthAdjust="spacingAndGlyphs" stroke="#262626" stroke-width="0.22">N</text>
<text x="-49.6" y="150.4" font-size="12.2" font-weight="bold" text-anchor="start" fill="#262626" textLength="16.9" lengthAdjust="spacingAndGlyphs" stroke="#262626" stroke-width="0.22">32</text>
<circle cx="-28.2" cy="136.3" r="1.5" fill="none" stroke="#262626" stroke-width="0.9"/>
<text x="-20.5" y="150.4" font-size="12.2" font-weight="bold" text-anchor="start" fill="#262626" textLength="9.4" lengthAdjust="spacingAndGlyphs" stroke="#262626" stroke-width="0.22">N</text>
<text x="-49.6" y="165.1" font-size="12.2" font-weight="bold" text-anchor="start" fill="#262626" textLength="16.9" lengthAdjust="spacingAndGlyphs" stroke="#262626" stroke-width="0.22">30</text>
<circle cx="-28.2" cy="151.0" r="1.5" fill="none" stroke="#262626" stroke-width="0.9"/>
<text x="-20.5" y="165.1" font-size="12.2" font-weight="bold" text-anchor="start" fill="#262626" textLength="9.4" lengthAdjust="spacingAndGlyphs" stroke="#262626" stroke-width="0.22">N</text>
<text x="-49.6" y="177.8" font-size="12.2" font-weight="bold" text-anchor="start" fill="#262626" textLength="16.9" lengthAdjust="spacingAndGlyphs" stroke="#262626" stroke-width="0.22">28</text>
<circle cx="-28.2" cy="163.7" r="1.5" fill="none" stroke="#262626" stroke-width="0.9"/>
<text x="-20.5" y="177.8" font-size="12.2" font-weight="bold" text-anchor="start" fill="#262626" textLength="9.4" lengthAdjust="spacingAndGlyphs" stroke="#262626" stroke-width="0.22">N</text>
<text x="-49.6" y="193.0" font-size="12.2" font-weight="bold" text-anchor="start" fill="#262626" textLength="16.9" lengthAdjust="spacingAndGlyphs" stroke="#262626" stroke-width="0.22">26</text>
<circle cx="-28.2" cy="178.9" r="1.5" fill="none" stroke="#262626" stroke-width="0.9"/>
<text x="-20.5" y="193.0" font-size="12.2" font-weight="bold" text-anchor="start" fill="#262626" textLength="9.4" lengthAdjust="spacingAndGlyphs" stroke="#262626" stroke-width="0.22">N</text>
<text x="-49.6" y="207.1" font-size="12.2" font-weight="bold" text-anchor="start" fill="#262626" textLength="16.9" lengthAdjust="spacingAndGlyphs" stroke="#262626" stroke-width="0.22">24</text>
<circle cx="-28.2" cy="193.0" r="1.5" fill="none" stroke="#262626" stroke-width="0.9"/>
<text x="-20.5" y="207.1" font-size="12.2" font-weight="bold" text-anchor="start" fill="#262626" textLength="9.4" lengthAdjust="spacingAndGlyphs" stroke="#262626" stroke-width="0.22">N</text>
<text x="-49.6" y="220.2" font-size="12.2" font-weight="bold" text-anchor="start" fill="#262626" textLength="16.9" lengthAdjust="spacingAndGlyphs" stroke="#262626" stroke-width="0.22">22</text>
<circle cx="-28.2" cy="206.1" r="1.5" fill="none" stroke="#262626" stroke-width="0.9"/>
<text x="-20.5" y="220.2" font-size="12.2" font-weight="bold" text-anchor="start" fill="#262626" textLength="9.4" lengthAdjust="spacingAndGlyphs" stroke="#262626" stroke-width="0.22">N</text>
<rect x="247.9" y="-1.5" width="24" height="217.0" fill="url(#jet)" stroke="#262626" stroke-width="0.8"/>
<path d="M271.9 107.5h-4" stroke="#262626" stroke-width="1"/>
<text x="281.4" y="7.0" font-size="21.0" font-weight="bold" text-anchor="start" fill="#262626" textLength="41.5" lengthAdjust="spacingAndGlyphs" stroke="#262626" stroke-width="0.38">100</text>
<text x="281.4" y="114.5" font-size="21.0" font-weight="bold" text-anchor="start" fill="#262626" textLength="26.8" lengthAdjust="spacingAndGlyphs" stroke="#262626" stroke-width="0.38">50</text>
<text x="281.4" y="221.6" font-size="21.0" font-weight="bold" text-anchor="start" fill="#262626" textLength="12.2" lengthAdjust="spacingAndGlyphs" stroke="#262626" stroke-width="0.38">0</text>
<text x="-53.8" y="245.8" font-size="21.3" font-weight="bold" text-anchor="start" fill="#262626" textLength="333.0" lengthAdjust="spacingAndGlyphs" stroke="#262626" stroke-width="0.38">SAT 250 hPa RH (Percent)</text>
</g>
<g transform="translate(196.0,486.5)">
<g fill="none" stroke-linecap="round" stroke-width="6.6"><path stroke="#0000ff" d="M188 32.5h0m-2 4.5h0m-2 2l2.5 1m-2 1.5h0m-2 2l2.5 1m-2 1.5l2.5 1m-33.5 128.5h0m-33 5.5h0m-99.5-33.5h0m106.5 59h0m5 2h0m-101-1l10.5 4"/><path stroke="#ff8e00" d="M161 102h0m-5 1h0m-4.5 .5h0m16.5 8.5h0m-102-6.5h0m.5 3h0m7.5 3h0m-9 4h0m.5 3h0m32.5 17h0m-4.5 .5h0m-36.5-10.5h0m-25-4l2.5 1m21 7.5h0m-32-9h0m9 3h0m-14 33.5h0m-6 28.5l1.5 .5m3 3.5h0m-4 16.5h0"/><path stroke="#8eff71" d="M181 91.5h0m-22 12.5h0m-126-30.5h0m123.5 45h0m-6.5 5h0m-71-13h0m64 28.5h0m-55-4.5h0m-28-8h0m34 12.5h0m-10 11.5h0m-65.5 19.5h0m-2 2h0m1 5.5h0m-3.5 34.5h0"/><path stroke="#ffff00" d="M69 2h0m-2 2h0m111 96.5h0m-5 1h0m-19.5 .5h0m-8.5 19.5h0m-71.5-13h0m71.5 26h0m-81-24.5h0m38 19h0m-26-7h0m-16.5 1.5h0m42 15.5h0m.5 3h0m18.5 6.5h0m-96.5-32.5h0m89.5 35h0m-41.5-12.5h0m-49-12.5h0m60.5 22h0m-52.5-16.5h0m10.5 3.5h0m1 5.5h0m-12.5-2h0m-13 26l.5 0m-1.5 45.5h0"/><path stroke="#71ff8e" d="M58 8.5h0m-23.5 47.5h0m121.5 44h0m10 29.5h0m-7 2.5h0m3 3.5h0m-90.5-25h0m24 8.5h0m65 31.5h0m-97.5-33h0m32.5 17h0m-77.5 74h0"/><path stroke="#ffe300" d="M69.5 5h0m79.5 97.5h0m-33.5 6h0m.5 2.5h0m46.5 27.5h0m-101-29.5h0m13.5 8h0m-33.5-10h0m32 14.5h0m42 15h0m-83-25h0m108 39h0m-10-1h0m-86-26h0m27 12.5h0m22 13h0m-57.5-18.5h0m-9 4.5h0m-8.5 20h0"/><path stroke="#39ffc6" d="M86.5 3.5h0m-15-3h0m-18.5 6l2.5 1m129 85h0m-3 7h0m-148.5-39h0m-2 2l2.5 1m102.5 37h0m-104-32.5h0m80 34h0m10.5 4h0m42 35.5h0m-90-27.5h0m66 24h0m-54-12h0m33.5 20h0m13 4.5h0m5 2h0m-101.5-32h0m54.5 30h0m-12 1h0m-63.5 17.5h0m-1 7.5h0m1 36h0"/><path stroke="#ff7100" d="M165 111h0m-23-5.5h0m23.5 8.5h0m-4 3.5h0m6 7.5h0m-22-.5h0m-2 1.5h0m3 4h0m-39-11.5h0m37 13h0m5 2h0m-49-12.5h0m-20.5-5h0m-9.5 1.5h0m71 26h0m-67.5-19.5h0m61.5 27.5h0m-70.5-23h0m53 22h0m-18-4h0m-65-21.5h0m45 19h0m-51.5-13.5h0m21.5 10.5h0m-4 3.5h0m-33 49h0m-2.5 7l4 1.5m-2 1.5l2.5 1m-4 1h0"/><path stroke="#00ffff" d="M218 10.5h0m-6.5 18l1 .5m-123.5-27.5h0m5 2h0m-12 1h0m-7.5-.5l2.5 1m114.5 62h0m-3 9h0m-156-18h0m-3 1.5h0m2 5.5h0m94.5 34.5h0m-96-32.5h0m86.5 34h0m-14.5 0h0m-27 .5h0m32 14l2.5 1m-74-14h0m-9.5-1h0m73.5 42h0m-25.5-7h0m-6.5 5.5h0m-45-14h0m22 8h0m21 8h0m-2.5 1.5l5.5 2m-40-4.5h0m-8 10h0m-5.5 26h0"/><path stroke="#c60000" d="M130 106h0m42.5 15.5h0m-2 7h0m-60-19h0m55.5 27.5h0m-.5 2.5h0m-36.5-11h0m21 8h0m11.5 9h0m-64.5-15.5h0m26.5 9.5h0m18.5 6.5h0m-49.5-15.5h0m42 15.5h0m-7 2.5h0m-36-10.5h0m26 9.5h0m-2 2h0m-91.5-15.5h0m-12 64.5h0"/><path stroke="#001cff" d="M149 .5h0m-1 2.5l2.5 .5m41.5 25.5l5.5 2m-7.5 0l5 1.5m-4.5 1h0m9 8.5h0m-2.5 1.5h0m5.5 2h0m-7.5 0h0m8 3l1 .5m-8.5-1l5.5 2m-5 1h0m5.5 2l1 .5m-22-5.5h0m5.5 2h0m-2 1.5l5 2m1 5.5h0m5.5 2h0m-163-36.5h0m154.5 59h0m-2 1.5l2.5 1m-69 10.5h0m18 7h0m34.5 12.5h0m-65-18.5h0m-78-16l1.5 1m118.5 43h0m-120-41.5h0m-1 7.5h0m120.5 44h0m-35-2.5h0m43.5 23.5l2.5 .5m-60-19h0m-49-12.5h0m47.5 17h0m-18-4h0m30 16h0m-2 2l2.5 1m40 17h0m-120-38.5h0m58 21h0m34.5 15l8 3m-10-1h0m8 3l2.5 .5m-10-1h0m27.5 10h0m-29.5-8h0m26 9.5l3 1m-31.5-9h0m5.5 2l2.5 1m21 7.5h0m-23-5.5h0m21 7.5l3 1m-.5 5h0m-3.5 1.5l2 .5m0 2.5h0m-29.5-5.5h0m8 3h0m-7.5-.5h0m5 2h0m16 6l6 2m-26.5-7l2.5 1m10.5 3.5h0m5.5 2l7.5 3m-17.5-4l10.5 4m-18-4l7.5 2.5m-10-1h0m-12.5-2l12 4.5m-11.5-1.5h0m-31 1.5h0m-18.5-4.5l5 2m6.5 2.5h0m-19-4.5l12.5 4.5m-20-4.5l13 4.5m-7 0h0m-15.5-3l8 3"/><path stroke="#8e0000" d="M167 106.5h0m-26.5 3.5l2.5 1m-52-16.5h0m.5 2.5h0m26 9.5h0m-4 3.5h0m-42-12.5h0m37 13.5h0m-28-5h0m45.5 19h0m26.5 12.5h0m-2 1.5h0m8 3l2.5 1m-39-11.5h0m-2 1.5h0m-28.5-8h0m5 2h0m18.5 7h0m8 2.5h0m-62-17.5h0m34 12.5h0m18.5 7h0m26.5 9.5h0m-44-11h0m26.5 9.5h0m-94.5-31.5h0m60.5 22h0m8 3h0m-71-13.5h0m-1 10h0m-8.5 61h0m-2 1.5h0"/><path stroke="#aa0000" d="M164 105.5h0m-17 1.5h0m-2 2h0m-12.5-2h0m-39-11.5h0m38.5 37h0m-6.5 5h0m-98.5-28h0m105.5 38.5h0m-114 35h0m-2 4.5h0"/><path stroke="#ff1c00" d="M169.5 107.5h0m-7.5 0h0m-18-4l2.5 1m5.5 2h0m-7.5 0h0m28.5 12.5h0m-46-14h0m31.5 11.5h0m12.5 7h0m-48-15h0m-9 4.5h0m11 6.5h0m3.5 6.5h0m-30.5-6h0m47.5 17h0m-75.5-22h0m89.5 32.5h0m-120-38.5h0m103 40h0m-107.5-36.5h0m56 22.5h0m-6.5 5.5h0m-15.5-3h0m18.5 6.5h0m-2 2h0m-39-11.5h0m8.5 5.5h0m-41 44h0m1.5 10.5h0"/><path stroke="#55ffaa" d="M106 3h0m72 102.5h0m-19.5-4.5h0m10.5 16.5h0m-64.5-15.5h0m-7.5-.5h0m71 26h0m-91-28h0m8 3h0m-7.5 0h0m-.5 10l2.5 .5m-51-10.5h0m131.5 47.5h0m-39-11.5h0m-67-16.5h0m32.5 17h0m5.5 1.5h0m3 4h0m-5 .5l3 1m-54-12h0m21 8h0m1 5.5h0m-28-5h0m-7.5-.5h0m-8.5 32.5h0m-2 17.5h0"/><path stroke="#1cffe3" d="M208.5 25h0m-99.5-21h0m-17.5-1.5h0m-10-1h0m8 3h0m-10.5-1h0m5.5 1.5h0m-24.5 1.5h0m132.5 68.5h0m-163-13h0m4.5 4h0m134.5 49h0m-44.5-13.5h0m34 50.5h0m-78.5-26h0m-15-.5h0m6.5 7.5h0m13 5h0m-57.5-18.5h0m60.5 22h0m-35.5-5h0m8 2.5h0m14 10.5l3 1m5 2h0m-12.5-2h0m-33.5-10h0m-16.5 32.5h0m-4 1h0m-1.5 4.5h0m-.5 10h0"/><path stroke="#0055ff" d="M224 2.5h0m-26-2l1.5 .5m-7.5 0l2.5 1m-10.5-1.5l8.5 3m-10-1l7.5 3m-7-.5h0m-20-4.5l2 1m-9-1l1.5 .5m10.5 4h0m-10-1h0m-23-3.5l3 1m-2 2l5 2m-18-4l3 1m5 2h0m66 23.5l2.5 1m-78.5-26l2.5 1m-23.5-3.5h0m-35.5 0h0m120 54l5 1.5m-151.5-50h0m152.5 55.5h0m7 2.5h0m-163-54h0m.5 2.5l2 1m-3 1.5l3.5 1m-4 1.5l4.5 1.5m151.5 62.5h0m-154.5-51h0m-2 2h0m2.5 13.5h0m85.5 51.5h0m-5 1l3 1m13 4.5h0m-20.5-4.5h0m-7.5-.5h0m-76.5-20h0m55.5 25h0m-55.5-17.5h0m1.5 6h0m98 38h0m-94.5-32h0m67 29.5h0m-43.5-8h0m-31.5-6.5h0m131.5 48h0m-1 2l1.5 .5m-3.5 1.5h0m-117.5-37.5h0m71 25.5h0m44.5 16.5l2.5 .5m-115-39h0m18.5 6.5h0m30 16h0m61 25l2 1m-4 1l2.5 .5m-2 2h0m-18-4h0m-109-34.5h0m.5 5h0m96 43h0m.5 2.5l2.5 1m24 11.5h0m-49 0h0m-12 .5h0m5.5 2l2.5 1m-10-1h0m-1.5 2h0m-18.5-4.5h0"/><path stroke="#00e3ff" d="M200 3.5h0m16 19h0m-5 3.5l2.5 .5m-4.5 1h0m-98-25.5h0m.5 3h0m-27.5-2.5h0m-7.5 0h0m-10-1.5h0m-9 4.5h0m-7.5 0h0m10.5 4h0m-12.5-2h0m5.5 1.5h0m138.5 61h0m-2 1.5l3 1.5m-2.5 1.5h0m-1.5 4.5l1.5 .5m-158.5-24.5h0m-1.5 4.5h0m140 53.5h0m-141-48.5h0m94 34h0m34.5 15.5h0m13.5 4.5h0m-97-20h0m8 3h0m69 30.5h0m-27.5-2.5h0m-46.5-14.5h0m76 28h0m-71-.5h0m18.5 9.5h0m-64.5-18.5h0m52.5 19h0m-18-4h0m-7.5 0l3 1m5 1.5h0m-28.5-7.5h0m5.5 2l10.5 3.5m-10-1h0m10.5 4h0m-41 .5h0m0 58.5l2.5 1"/><path stroke="#c6ff39" d="M72 3h0m110.5 94h0m-48.5 5.5h0m-45.5-6.5h0m-18.5 6h0m60 32h0m32.5 12h0m-89.5-27.5h0m-2.5 12h0m-3.5 9h0m-12.5-2h0m34 12h0m-39-11.5h0m-23-6h0m21 8h0m-10-1h0m-5 .5h0"/><path stroke="#e30000" d="M177.5 108h0m-13 .5h0m4.5 12h0m-70-20.5h0m55.5 20l2.5 1m-23-6h0m-28.5-7.5h0m63.5 23h0m-42-13h0m39.5 14.5h0m-12 1h0m5 1.5h0m-28-5h0m-4 3.5h0m11 6.5h0m-112-32.5h0m111 42.5h0m-112-35.5h0m84 30.5h0m13.5 5h0m-81-27h0m26 9.5h0m26.5 9.5h0m3 4h0m-69.5-18h0m32.5 17h0m-38.5-11.5h0m-6.5 49h0m-4 14l2 .5"/><path stroke="#0039ff" d="M177 .5l2.5 1m-19.5 .5l5.5 2m-15.5-3l5.5 2m5 2h0m-18.5-4.5l3.5 1.5m7.5 2.5h0m-12.5-2l5.5 2m-18-4l2.5 1m-9.5-1h0m7.5 3h0m5 1.5h0m-20-4.5l5 1.5m8 3h0m73.5 27h0m-81-27h0m83 38h0m-2 1.5h0m5.5 2h0m-8 0l3 1m3 3.5h0m-141.5-49h0m136.5 50h0m-15-3h0m4 9h0m5 2h0m6 2h0m-162.5-54l2.5 1m-2 1.5l2.5 1m-5.5 8.5l5 1.5m-4.5 1l2 1m-2 1.5l2.5 1m-4 1l2 1m153.5 56h0m-155-54h0m-1.5 14.5h0m-1 7.5h0m104 53h0m-26-6.5h0m61 24.5h0m-140.5-48.5l4.5 1.5m-4.5 1l2.5 1m-2.5 1.5l3 1m115.5 42h0m-115-39h0m-2.5 1.5h0m-3.5 4l2 .5m-1.5 4.5l5 2m-5.5 .5l3.5 1m42.5 18.5h0m26.5 9.5h0m-9.5 1.5h0m.5 3h0m68 24.5l1 .5m-5 3l3.5 1.5m-90-30h0m47.5 17h0m-81-27h0m-5 1h0m53 19h0m73.5 27h0m-5 .5l3.5 1.5m-63.5-20.5h0m-46.5-14.5h0m55 20l5.5 2m44.5 16l4.5 2m-101.5-34.5h0m10.5 4h0m87.5 34l1.5 .5m-72-23.5l5.5 2m36.5 13.5l5.5 2m22.5 13h0m-31.5-9h0m29 10.5h0m-21-4.5h0m21.5 10h0m-4 3.5l2.5 1m-2 2h0m-4.5 3.5l3 1m-20.5-5h0m18 7l3.5 1m-32-9h0m8 3h0m21 7.5h0m-31-9l2.5 1m5.5 2h0m10 11.5h0m-18.5-4.5l2.5 1m5.5 2l3.5 1.5m-23.5-3.5l2.5 1m5 2l2 .5m-19.5-4.5l12.5 4.5m-7 0h0m-15.5-3h0m-4.5 1l5 1.5m-10-1l3 1m-10-1l2.5 1m-37-1l3 1.5"/><path stroke="#ff0000" d="M173.5 104h0m-4.5 1h0m-1.5 4.5h0m-25-1.5h0m-46.5-11.5h0m34.5 12h0m28.5 10.5h0m-62.5-20h0m73.5 27h0m-70.5-23.5h0m18.5 7h0m34.5 12.5l2.5 1m-36.5-11l2.5 1m3.5 4h0m-55-17.5h0m71 26h0m24 8.5l3 1m-89.5-30h0m79 28.5h0m-33.5-6.5l3 .5m34 12.5h0m-59.5-16.5h0m58 21h0m-34-9.5h0m-36-10.5h0m-31-9h0m36.5 13.5h0m-62.5-20.5h0m5 2h0m79 29h0m-39-12h0m53 19.5h0m5 2h0m-36-8h0m-46.5-14.5h0m-4.5 3.5h0m37 13.5h0m10.5 3.5h0m-62.5-20h0"/><path stroke="#ff5500" d="M176.5 105h0m-13.5 8h0m.5 2.5h0m-39.5-1.5h0m19 9.5h0m11 6.5h0m-28.5-8h0m-47-14.5h0m37 13.5h0m26 9.5h0m-46.5-14.5h0m47 17.5h0m-78.5-26h0m18.5 6.5h0m56 23h0m3 3.5h0m21 8h0m-101.5-32h0m76 28h0m-39-12h0m-56-12.5l2.5 .5m34 12.5h0m-20.5-5h0m21 8h0m-31-9h0m45 16.5h0m6 7.5h0m-51.5-14h0m-19.5 .5h0m-8.5 22.5h0m-9.5 50.5h0"/><path stroke="#008eff" d="M214 1.5h0m5.5 1.5h0m4 1.5h0m-14-2.5l5 2m5.5 2l2 1m-20-5l2.5 1m-7.5 0h0m21.5 12.5h0m-43.5-13h0m-2 1.5h0m30.5 21.5h0m-2 2l2.5 1m-8 38h0m-159-37.5h0m-1.5 4.5h0m147.5 53.5h0m-147-51h0m-4 3.5h0m-.5 13h0m82.5 47.5h0m-83.5-27.5h0m54 27h0m-8.5 7.5h0m87 36.5h0m-135-44h0m127.5 54h0m-128-41.5h0m4 6.5h0m94.5 34.5h0m-80.5-24h0m58.5 23.5h0m-78-7.5h0m-4.5 .5h0m50.5 62h0m-2 2h0m-7.5-.5h0m-39.5-1.5h0m-2.5 2h0"/><path stroke="#ffaa00" d="M180 101.5h0m-4 1h0m-22 2h0m-14.5 0h0m-15-.5h0m-22-.5h0m18 7h0m29 10.5h0m-77.5-20.5h0m72 28.5h0m-107.5-21h0m55.5 20h0m-22.5-3h0m-2.5 1.5h0m-12 1h0m-30.5-6h0m71.5 28.5h0m-59-14h0m-26 72.5l2.5 .5m-2.5 2h0"/><path stroke="#00c6ff" d="M216.5 2.5h0m-6.5 2.5h0m10.5 3.5h0m-18-4h0m18 7h0m-1.5 2h0m-6 8h0m.5 2.5h0m-7 2.5h0m-93-23.5h0m-10-1h0m-2 1.5h0m-5 1l3 1m-7.5 0l2.5 1m-20.5-5h0m-19 3h0m-4.5 3.5h0m143.5 60h0m0 2.5h0m-2.5 7h0m-8 12l1.5 1m-154.5-36h0m-2 14.5l4 1.5m76.5 30.5h0m18.5 7h0m24.5 11h0m0 15.5h0m1 5.5h0m-123.5-32.5h0m-5.5 11h0m9.5 11h0m31.5 11.5h0m-7.5 0h0m-6 8h0"/><path stroke="#00aaff" d="M217 5h0m-10-1h0m10.5 3.5h0m4 1.5h0m-26.5-4.5h0m21 7.5h0m1 5.5h0m-2 2l1 .5m-1.5 4.5h0m-7.5 5h0m-100-29l1.5 .5m-12.5 1l3 1m5 1.5h0m-18-4h0m-7.5 0h0m-14 2.5h0m-19 3.5h0m-5 .5l5.5 2m147.5 56.5h0m2 3h0m-164-31.5l2.5 1m.5 2.5h0m-.5 13h0m-3 3.5h0m90.5 43.5h0m5 14.5h0m30 16h0m8.5 5.5h0m-42-12.5h0m35 15h0m-120-38.5h0m30.5 19l2.5 1m13.5 7.5h0m-54.5-17.5h0m40 17h0m-31.5-8.5h0m.5 2.5h0m72 31.5h0m-23-6h0m-12 .5h0m-52.5-16.5h0m61 22.5h0m-10.5-1.5h0m-20-2l3 1m-36-8l2.5 1m.5 2.5h0m43 62h0m-2 1.5h0m-41.5 0h0m-1.5 2.5h0"/><path stroke="#aaff55" d="M183 95h0m-3.5 1h0m-40.5 5.5h0m-19 6h0m-31-8.5h0m20 15h0m51 23.5h0m-121.5-34h0m74.5 32h0m-37.5-3.5h0m52.5 19.5h0m-81-27h0m27.5 15h0m-43-5.5h0m3.5 4h0m-4.5 3.5h0m-12.5 38.5h0m-5 11h0"/><path stroke="#ff3900" d="M179.5 103.5h0m-8.5-.5h0m-9.5 2h0m-.5 9.5h0m-67-16.5h0m-7.5 0h0m37 13.5h0m19 9h0m-15 0h0m-59.5-16.5h0m29.5 13h0m65.5 24h0m-33.5-9.5h0m-99-31h0m37.5 16h0m71 26h0m-110-37.5h0m26.5 12.5h0m16 5.5h0m-7.5 0h0m10.5 3.5h0m13 5l3 1m31.5 11.5h0m-60-19.5h0m10.5 4h0m53 22h0m-12.5-2h0m-68-22.5h0m23.5 9h0m14.5 10h0m-42-12.5h0m-15-3h0m8 3h0m-16 27.5h0m-2 24.5h0m-1.5 4.5h0m-4 14h0m5 4.5h0"/><path stroke="#e3ff1c" d="M181.5 94h0m-1.5 4.5h0m-38.5 4h0m-15 0h0m-46.5 .5h0m20 15h0m42.5 18h0m-78-23h0m63.5 23h0m-89-30h0m23.5 8.5h0m77 30.5h0m-76-25h0m13 5h0m10.5 4h0m-25.5-7h0m-36.5-11h0m56.5 26h0m42 15h0m-78.5-13h0m-17 1.5h0m-8 25h0m-5 6h0m-3.5 21.5h0"/><path stroke="#0071ff" d="M219 .5l2.5 1m-9.5-1h0m10 3.5h0m-17-3.5l1.5 .5m-15.5-.5h0m25.5 14.5h0m-46.5-14.5l2.5 1m5 2l2.5 1m34.5 12h0m-47-14.5l2.5 1m5.5 2h0m-42.5-2.5h0m69 27.5h0m-86-26h0m-15-3h0m-8-.5h0m-30.5 4.5h0m130.5 57.5l3 1m-155-53.5h0m145.5 70.5h0m-1 7.5l1.5 .5m-154.5-53.5l1 0m-1.5 7.5l3 1m-2.5 1.5h0m-1.5 2l2 1m-2 1.5l2.5 1m-5 21h0m78 28.5h0m-76-12h0m74.5 29.5h0m16 8.5h0m35 15h0m-121-41.5h0m-9-.5h0m134.5 54h0m-88.5-27h0m3 3.5h0m-23-6h0m102.5 37.5h0m-128.5-44.5h0m50 18.5h0m76.5 27.5h0m-56-10h0m-51-11h0m31.5 11.5h0m73 29.5h0m-128-34h0m.5 2.5h0m.5 3h0m91 40.5h0m-29.5 15h0m-10-1h0m8 3l3 1m-60-4h0"/><path stroke="#0000e3" d="M185.5 34.5h0m-2 1.5h0"/><path stroke="#ffc600" d="M170.5 100.5h0m8 3h0m-29 2h0m13 4.5h0m-33-7h0m-18.5 9h0m57 20.5h0m-27-4.5h0m-64.5-18.5h0m-4.5 3.5h0m84.5 30.5h0m-115.5-39h0m21 7.5h0m-36.5-5.5h0m33 12h0m-25.5-4.5h0m-4.5 3.5h0m45 16.5h0m-36.5-10.5h0m16 5.5h0m23.5 8.5h0m.5 3h0m-31-9h0m40 17.5h0m-65 6.5h0m-3 1.5h0m3.5 1.5h0m-5 3.5l3 1m-3.5 3.5l2 1m-4 14h0"/></g><g fill="none" stroke-linecap="round" stroke-width="4.5"><path stroke="#ff0000" d="M152.5 68.5h0m15.5 5.5h0m-21 5h0m-15 0h0m-12.5-2.5l2.5 1m.5 3h0m-4.5 .5h0m-2 2h0m57.5 21h0m-117.5-40.5h0m39 14.5h0m74 27h0m-115.5-39.5h0m45 16.5h0m-5 .5h0m74 27h0m-76-25h0m-7.5-.5l2.5 1m56 23h0m-49.5-15.5h0m3 4h0m34.5 12h0m28.5 10.5l3 1m-84-27.5h0m18.5 6.5h0m73.5 27h0m-91.5-31h0m21 7.5h0m18.5 7h0m34.5 12.5l2.5 1m-36.5-11l2.5 1m34.5 12.5h0m-31-8.5h0m39.5 14h0m-102.5-34.5l3 1m5 2h0m71 26h0m24 8.5l3 1m-100-34h0m10.5 4h0m79 28.5h0m-102-34.5h0m-7.5 0h0m76 28l3 .5m34 12.5h0m-110-37.5h0m-2 2h0m52.5 19h0m58 21h0m-34-9.5h0m-36-10.5h0m-31-9h0m36.5 13.5h0m-62.5-20.5h0m5 2h0m79 29h0m-39-12h0m53 19.5h0m5 2h0m-36-8h0m-46.5-14.5h0m7.5 2.5h0m-12 1h0m37 13.5h0m10.5 3.5h0m-62.5-20h0m16 8.5h0m-28 48.5h0"/><path stroke="#00c6ff" d="M216.5 2.5h0m-6.5 2.5h0m10.5 3.5h0m-18-4l2.5 1m15.5 6h0m-20-5h0m18.5 7h0m-13-2.5l2.5 1m-10-1h0m-2 2l5 1.5m8 3h0m-12.5-2h0m16 6h0m-2.5 1.5l3 1m-10.5-1h0m3.5 3.5h0m-93-23.5h0m-10-1h0m-2 1.5h0m-5 1l3 1m5 2h0m-12.5-2l2.5 1m-20.5-5h0m4 9h0m-23-6h0m-4.5 3.5h0m-2 2l2.5 1m130 52.5l2.5 1m10.5 3.5h0m-17.5-4h0m17.5 6.5h0m-17-3.5l5 2m-25.5-4.5h0m24 9h0m11 4h0m-34-7.5h0m-110-37.5l5.5 2m.5 3l2.5 1m5.5 1.5h0m-2.5 2l3 1m23.5 8.5h0m92 33.5h0m-94-31.5h0m5 2l3 .5m92 33.5l1.5 1m-140.5-49h0m34 12.5h0m5.5 2h0m5 2h0m63.5 23h0m-115.5-39.5h0m37 13.5h0m5 2h0m5.5 2h0m5 1.5l5.5 2m-20.5-5l10.5 4m8 3l2.5 1m34 12.5h0m-73-24.5h0m15.5 6h0m13.5 5h0m-28.5-8h0m10.5 4h0m8 2.5h0m10.5 4h0m-49.5-15.5h0m8 3l7.5 3m5.5 1.5h0m15.5 6h0m29 10.5h0m-31-9h0m5.5 2h0m5 2h0m29 10.5h0m-80-26.5h0m38.5 14h0m52.5 19l2.5 1m-60-19h0m60.5 22h0m-81-27h0m14 7.5l2.5 1m50 18h0m13 5h0m-73-24h0m-21.5-3l4 1.5m68.5 25h0m-34-10h0m31.5 11.5h0m10.5 4h0m18.5 7h0m-68-22.5l3 1m89.5 32.5h0m-78.5-26h0m-29.5-.5l2.5 1m105.5 41h0m1 5.5h0m-6.5 5.5h0m-117-38h0m23.5 9h0m88 37l2.5 1m-10-1h0m-5 .5h0m-104.5-35.5h0m102.5 37.5l2.5 1m13.5 4.5h0m-109-32h0m28.5 10.5l3 1m-7.5 0h0m12 12l2.5 1m-20.5-5h0m-20.5-5l5.5 2m5 2h0m5.5 2l2.5 1m8 2.5h0m-28.5-7.5h0m18.5 6.5h0m-15.5-3h0m5 2h0m5.5 2h0m-12.5-2l2.5 1m5 1.5h0m69.5 30.5l3 1m5.5 4.5h0m-12.5-2l5 2m-4.5 1h0m-78.5-26h0m73.5 26.5h0m-7.5 0l3 1m10.5 4h0m-18-4h0m8 2.5h0m5 2h0m-12.5-2h0m5 2h0m-4.5 1h0m.5 2.5h0m-59.5-16.5h0m44.5 16.5h0m5.5 1.5l2.5 1m-7.5 0l2.5 1m-10-1h0m-2 1.5h0m-2 2h0m-40-4.5h0"/><path stroke="#0000c6" d="M145.5 30l5.5 2m-18-4h0m10.5 4l2.5 .5m-20.5-4.5l2.5 .5m10.5 4l10.5 4m5.5 2h0m-34-10h0m5.5 2h0m10.5 4l16 5.5m5 2h0m-12.5-2l8 3m-13-2l2.5 .5m-28-7.5h0m7.5 3h0m5.5 1.5l13 5m-18-4l16 6m-31-9h0m18.5 6.5l13 5m-28.5-8h0m5.5 2h0m7.5 3h0m5.5 2h0m5 2h0m-10-1.5l3 1m5 2h0m5.5 2h0m5 2l2.5 1m-33.5-10h0m18.5 7h0m8 3l5 1.5m-7.5 0h0m-16.5 4.5h0m-30 103.5l5 2m-23 7l5 2m5.5 1.5l2.5 1m-15.5-3l5.5 2m5 2h0m-4.5 1h0m-5 .5l3 1"/><path stroke="#ff7100" d="M165 70.5h0m8.5 5.5h0m-18-4h0m-10-1h0m8 2.5h0m-19.5 1l2.5 .5m-9.5 2h0m-6.5 5h0m-6.5 5.5h0m51 23.5h0m-62.5-20h0m39.5 14.5h0m23.5 8.5h0m-4 3.5h0m-126-43.5h0m132 51h0m-109-32h0m87 31.5h0m-2 1.5h0m3 4h0m-84-28h0m45 16.5h0m37 13h0m5 2h0m-101.5-32h0m52.5 19.5h0m-54.5-17.5h0m34 12.5h0m-33-7h0m23.5 8.5h0m71 26h0m13 4.5h0m-112.5-38h0m5 1.5h0m-4.5 1h0m31.5 11.5h0m71 26h0m-9.5 1.5h0m-70.5-23h0m53 22h0m-18-4h0m-65-21.5h0m45 19h0m-51.5-13.5h0m21.5 10.5h0m-4 3.5h0m-33 49h0m5 2l3 1m-2.5 2h0m-8 2l4 1.5m-2 1.5l2.5 1m-4 1h0"/><path stroke="#00e3ff" d="M212.5 6h0m-12.5-2.5h0m7.5 3h0m5.5 2l2.5 1m-18-4h0m8 3h0m-7.5 0l3 .5m6 7.5h0m-7.5 0h0m16.5 6h0m-10 1.5h0m5 2l2.5 .5m-4.5 1h0m-98-25.5h0m.5 3h0m-27.5-2.5h0m-7.5 0h0m13.5 4.5h0m-23.5-6h0m26.5 10h0m-17.5-1.5h0m-18-4h0m-7.5 0h0m10.5 4h0m-12.5-2h0m5.5 1.5h0m133 56.5l2.5 .5m-10-1l2.5 1m5.5 2h0m5 2h0m-7.5 0l8.5 3m-26-7h0m10.5 3.5l5 2m8 3h0m-18-4l5.5 2m11 6.5l1.5 .5m-6.5 0h0m-141.5-48.5l2.5 .5m123.5 45h0m-80.5-24l3 1m84 30.5h0m-81-27h0m71 26h0m-10-1h0m-73.5-24h0m55.5 20h0m-49.5-15.5l2.5 1m-31-9h0m16 6l2.5 1m-31-9h0m5 2h0m8 3h0m29 10.5h0m8 3h0m15.5 5.5h0m-73-24l2.5 1m13.5 4.5h0m10.5 4l2.5 1m89.5 32.5h0m-91.5-30.5h0m7.5 2.5h0m5.5 2h0m-47-14.5h0m95.5 37.5h0m-97-33h0m94.5 34.5h0m-86-29h0m13 5h0m73.5 27h0m45 16h0m-141-48.5h0m7 2.5h0m16 5.5h0m71 26h0m-76-25h0m110.5 40.5h0m13.5 4.5h0m-126-43h0m26.5 9.5h0m-16 7h0m18.5 6.5h0m8 3h0m69 30.5h0m-27.5-2.5h0m-46.5-14.5h0m76 28h0m.5 2.5h0m-102.5-24.5h0m87 34h0m5.5 2h0m-12 1h0m-49.5-15.5h0m44.5 16l2.5 1m-78.5-26h0m50 18.5h0m-64.5-18.5h0m52.5 19h0m-18-4h0m-7.5 0l3 1m5 1.5h0m-31-8.5l2.5 1m5.5 2l10.5 3.5m-23-5.5l2.5 .5m5 2l5.5 2m10.5 4h0m-15.5-3h0m8 2.5h0m-20.5-4.5h0m5 1.5l3 1m13 5h0m-23-6h0m5 2h0m5.5 2h0m-21.5 0h0m94 34h0m-7.5 0l2.5 1m5.5 1.5h0m-2 2l2.5 1m-7.5 0l2.5 1m-12 .5h0m5 2h0m-12.5-2l2.5 1m5.5 1.5h0m-73-24h0m61 25h0m-60-19.5h0m55 20l5.5 2m-59.5-13.5h0m.5 2.5h0m38 19h0m-38.5-9h0m-2 2h0m-5.5 10.5l2.5 1"/><path stroke="#0039ff" d="M177 .5l2.5 1m6.5 7.5h0m-26-7l5.5 2m13 5l8 2.5m-36.5-10.5l5.5 2m5 2h0m5.5 1.5h0m13 5l8 3m-45-14l3.5 1.5m7.5 2.5l8 3m8 3l8 3m5 1.5l3 1m5 2h0m-49.5-15.5l8 3m5 2l3 1m18.5 6.5h0m-47-14.5l2.5 1m13 5l3 1m39.5 14l2.5 1m-67.5-22h0m7.5 3h0m5 1.5h0m8 3h0m52.5 19.5h0m-80.5-27l5 1.5m8 3h0m7.5 3l8 3m58 21h0m-81-27l10.5 4m-13-2.5h0m.5 3h0m85 33.5h0m-91.5-31h0m89.5 32.5h0m5.5 2h0m-105-35.5l2.5 1m94.5 34.5l3 1m-102.5-35h0m105.5 38.5h0m-141.5-49h0m31.5 11.5h0m105 38.5h0m-15-3h0m-5 .5l2.5 1m-104.5-35.5h0m-2 2h0m107.5 39l5.5 2m5 2h0m6 2h0m-134-46.5l2.5 1m8 3h0m113 41h0m-152-52.5l2.5 1m13 4.5l10.5 4m5.5 2l2.5 1m110.5 40h0m-144-50l2.5 1m5 2h0m8 3l8 3m-18-4l2.5 1m5.5 1.5l10.5 4m-15.5-3l21.5 7.5m-23.5-5.5l5.5 1.5m13 5l2.5 1m5.5 2h0m-36-10.5l20.5 7.5m8 2.5h0m89.5 33h0m-117.5-40.5l7.5 3m105 38l3 1m-115.5-39.5l2.5 1m29 10.5l3 1m76 28h0m-112-38.5l2 1m31.5 11.5h0m21 7.5h0m5.5 2l2.5 1m93 34h0m-155-54h0m36 13h0m32 11.5h0m78.5 29l3 1m-49.5-15.5h0m-65.5-21.5h0m5.5 2h0m52.5 19l2.5 1m31.5 11.5h0m-96.5-32.5l2.5 1m55 20h0m-52-16.5h0m42 15.5l5.5 2m5 1.5h0m-54.5-17h0m37 13h0m5 2l5.5 2m-82.5-27.5h0m83 30.5h0m-7 2.5h0m-77-25.5h0m50 26h0m37 13h0m-5 1l2.5 1m-54.5-17.5l8 3m5 2h0m37 13.5l2.5 1m-55-17.5l3 1m21 7.5h0m31.5 11.5h0m21 7.5h0m-78.5-26h0m52.5 19.5h0m-7-.5h0m68 25h0m-140.5-48.5l4.5 1.5m5 2l3 1m-12.5-2l2.5 1m-2.5 1.5l3 1m115.5 42h0m-115-39l5 1.5m-7.5 0l3 1m26 9.5h0m-32.5-6.5l2 .5m3 3.5h0m8 3h0m-12.5-2l13 5m-13.5-2.5l3.5 1m42.5 18.5h0m26.5 9.5h0m-9.5 1.5h0m-39-11.5h0m39.5 14.5h0m60.5 22h0m7.5 2.5l1 .5m-118.5-40.5h0m111 42.5l6 2.5m-90-30h0m47.5 17h0m-81-27h0m-5 1h0m53 19h0m73.5 27h0m-39-11.5h0m5.5 1.5h0m23.5 9l8.5 3m-63.5-20.5h0m31.5 11.5h0m18.5 6.5h0m5.5 2l2.5 1m-104.5-35.5h0m55 20l5.5 2m10.5 4l2.5 .5m13 5l3 1m5 2l15 5.5m-101.5-34.5h0m10.5 4h0m32 11.5h0m10.5 3.5h0m7.5 3l3 1m5 2l2.5 1m5.5 2h0m5.5 1.5l7.5 3m-52-16.5l8 3m5 2l3 1m5 2h0m21 7.5h0m5.5 2l14.5 5m-72-23.5l5.5 2m7.5 3h0m5.5 2h0m5 1.5h0m18.5 7l5.5 2m7.5 2.5h0m8 3h0m-65-21h0m23.5 8.5h0m16 5.5l2.5 1m13 5l2.5 1m8 3h0m-73-24.5l5 2m32 11.5l2.5 1m5 2h0m18.5 6.5l2.5 1m5.5 2h0m8.5 3h0m-81.5-27l2.5 1m37 13.5l10.5 3.5m13 5h0m8 3l2.5 1m5.5 1.5h0m-78.5-26h0m42 15.5l2.5 1m13 5h0m5.5 1.5h0m-76-25l3 1m5 2l2.5 1m81.5 29.5h0m-99-33.5l10.5 4m55 20h0m10.5 4h0m10.5 3.5l2.5 1m-110-37.5l8 3m16 5.5l8 3m47 17.5h0m13.5 4.5l5 2m16 6l5 1.5m-97-32.5l8 3m63.5 23h0m5 2h0m8 2.5h0m5 2h0m5.5 2h0m-115.5-39.5l5.5 2m8 3l2.5 1m8 2.5l2.5 1m84 31h0m-110-37.5l10.5 3.5m79 29l3 1m18 6.5l3 1m-102.5-34.5l10.5 3.5m5.5 2h0m66 24l2.5 1m5 2h0m10.5 4l3.5 1m-116-39.5h0m5.5 1.5h0m5 2l8 3m5 2h0m5.5 2h0m55 20h0m8 3h0m13.5 4.5h0m5 2l2.5 1m-107-36.5l15.5 5.5m5.5 2h0m31.5 11.5h0m23.5 8.5l2.5 1m5.5 2h0m-81-27l2.5 1m10.5 4h0m8 3h0m50 18h0m-73-24h0m5 2h0m8 2.5l5 2m16 6h0m34 12.5h0m-75.5-25h0m10.5 3.5l2.5 1m5.5 2l2.5 1m50 18h0m5 2h0m24.5 9h0m-92-31l7.5 3m53 19h0m5 2l10.5 3.5m5.5 2l3.5 1.5m-90-30.5h0m5.5 2l13 5m8 3h0m34 12.5l2.5 .5m-62.5-20l2.5 1m5.5 2h0m5 1.5l8 3m5.5 2l5 2m34.5 12.5l2.5 1m5 2l2 .5m-77.5-26l13 5m8 3l5 2m29 10.5l15.5 5.5m-70-23h0m5 2l3 1m5 2h0m5.5 1.5h0m31.5 11.5h0m13 5h0m-60-19.5h0m8 3l8 3m28.5 10.5h0m-46.5-14.5l5 2m5.5 2l13 4.5m18.5 7l5 1.5m-49.5-15.5h0m10.5 4l3 1m15.5 5.5h0m10.5 4l3 1m-42-12.5h0m10.5 4l8 2.5m13.5 5l2.5 1m-31-9l10.5 4m-17.5-1.5h0m1 5.5l3 1.5"/><path stroke="#ffc600" d="M162.5 69.5h0m13 4.5l3 1m-2.5 2h0m-25-4h0m-20 .5h0m-71-13.5h0m68.5 25h0m42 15.5h0m8 3h0m-73-24.5h0m-4.5 3.5h0m11 7h0m37.5 16h0m13 4.5h0m-33-7h0m-49.5-15h0m5.5 4.5h0m-18-4h0m43.5 23.5h0m57 20.5h0m-27-4.5h0m-88.5-27h0m24 8.5h0m-4.5 3.5h0m84.5 30.5h0m-115.5-39h0m21 7.5h0m81.5 29.5h0m-118-35h0m33 12h0m89 32.5h0m-114.5-37h0m-4.5 3.5h0m45 16.5h0m-36.5-10.5h0m13 4.5l3 1m23.5 8.5h0m.5 3h0m-31-9h0m40 17.5h0m-65 6.5h0m-3 1.5h0m3.5 1.5h0m-5 3.5l6 2m-6.5 2.5l2 1m-4 14h0"/><path stroke="#0071ff" d="M219 .5l2.5 1m-9.5-1h0m10 3.5h0m-17-3.5l1.5 .5m-15.5-.5h0m2 6h0m23.5 8.5h0m-46.5-14.5l2.5 1m5 2l2.5 1m13.5 4.5h0m15.5 6l5.5 1.5m-47-14.5l2.5 1m5.5 2l2.5 1m13 5h0m-20.5-5h0m.5 2.5h0m21 8h0m3.5 3.5h0m-62.5-17.5h0m60.5 22h0m8.5 5.5h0m-86-26h0m-15-3h0m-8-.5h0m21.5 8h0m-9.5 1.5h0m-10-1l2.5 1m-2 2h0m-33-7h0m23.5 8.5h0m-22.5-3h0m.5 2.5h0m129 49.5l3 1m-155-53.5h0m142 51.5h0m-9.5 1.5h0m-7 0h0m-107-33.5h0m-10-1.5l5 2m5.5 2h0m-7.5 0h0m5 2h0m5.5 1.5h0m84 31h0m39.5 14h0m-125.5-43h0m121 44l2.5 1m-147-51h0m26.5 9.5h0m21 8h0m79 28.5h0m13 5h0m-139-48h0m10.5 3.5h0m50 18.5h0m68.5 24.5h0m18.5 7l1.5 .5m-154.5-53.5l1 0m31.5 11.5h0m13 5h0m84.5 30.5h0m-110-37.5l2.5 1m5 2h0m13.5 4.5h0m29 11h0m-55-17.5h0m5.5 2l2.5 1m15.5 5.5h0m-39-11.5l3 1m8 2.5l13 5m13 5h0m31.5 11.5h0m-68-22.5h0m13.5 5h0m55 20h0m-70-23l7.5 3m60.5 22h0m-68-22.5l2.5 1m63.5 23h0m-5 1h0m-12 .5h0m42 15.5h0m-57.5-18.5h0m55.5 20h0m.5 3h0m-63-20.5h0m21.5 8h0m-23.5-6h0m18.5 6.5h0m-23-6h0m13 5l2.5 1m-38-11.5h0m25.5 9.5h0m5 2h0m47.5 17h0m-54.5-17.5l5 2m-20.5-5l2.5 1m8 3l5.5 2m-15.5-3l2.5 1m5.5 2l5 1.5m32 11.5h0m-39-11.5h0m-2.5 2h0m5.5 2h0m5 1.5h0m-20.5-4.5h0m3.5 3.5h0m71 26h0m16 8.5h0m35 15h0m-121-41.5h0m18.5 7h0m-27.5-7.5h0m129 52h0m5.5 2h0m-88.5-27h0m79 28.5h0m-76-25h0m-23-6h0m102.5 37.5h0m-128.5-44.5h0m50 18.5h0m76.5 27.5h0m-33.5-7h0m8.5 6h0m-31-9h0m26 9.5h0m5.5 2h0m-36.5-10.5h0m34.5 12.5h0m-86-26.5h0m5.5 2h0m31.5 11.5h0m34 12.5l5.5 2m-5 1h0m38.5 14h0m-82.5-27.5h0m-17 1.5h0m10.5 3.5h0m-39-11.5l2.5 1m18.5 6.5h0m-20.5-5h0m87 32h0m-86.5-29h0m81.5 29.5h0m19 9.5l8 3m-2.5 1.5l3 1m-18-4h0m-91-28l2.5 1m76.5 30.5h0m-75.5-25h0m71 26h0m-23-3h0m-2 1.5l5.5 2m-10-1h0m13.5 7.5h0m-20.5-5h0m15.5 5.5h0m8 3h0m-10-1h0m8 3l3 1m-61-9.5h0m1 5.5h0"/><path stroke="#0000e3" d="M153 17.5h0m-4.5 .5l2.5 1m5 2h0m18.5 7h0m-36-11l2.5 1m10.5 4l10.5 3.5m8 3l2.5 1m5 2h0m8 3h0m-60-19.5h0m10.5 4l47.5 17m-62.5-20h0m5 2l50 18m-57.5-18.5l53 19.5m5 1.5l2.5 1m-75.5-25l39.5 14.5m10.5 4l21 7.5m-68-22h0m5.5 2l18 6.5m5.5 2l5.5 2m7.5 2.5l13.5 5m-57.5-18.5l5 2m5.5 2l8 3m7.5 2.5l5.5 2m16 6h0m5 2l13 4.5m-65-21h0m5 2l8 2.5m5.5 2h0m5 2l5.5 2m21 7.5h0m5 2l5.5 2m-60-19.5l36.5 13.5m13.5 5l10.5 3.5m-78.5-26l13 5m16 5.5l21 8m8 2.5l10.5 4m8 3l2.5 1m-81-27l26 9.5m5.5 2l2.5 1m5.5 2h0m18 6.5l24 8.5m-78.5-26l5 2m5.5 2l21 7.5m21 7.5h0m5.5 2l15.5 6m-78.5-26h0m5.5 2l16 5.5m5 2l13 5m18.5 6.5l13 5m-73-24.5l5.5 2m5 2l16 6m5 1.5h0m5.5 2l2.5 1m5.5 2h0m5 2h0m5.5 2l10.5 3.5m10.5 4h0m8 3h0m-78.5-26l34 12.5m8 2.5h0m5 2h0m5.5 2h0m8 3l5 2m8 2.5h0m-70.5-23l18.5 6.5m5 2l13.5 5m5 2l2.5 1m10.5 3.5l3 1m-63-20l47.5 17m5.5 2l5 2m-60-19.5l52.5 19.5m-57-18.5h0m13 4.5l5 2m8 3l31.5 11.5m-65-21l2.5 1m31.5 11.5l2.5 .5m5.5 2l18.5 7m-26-7l10.5 4m5.5 1.5l2.5 1m-18-4l10.5 4m-34 97.5l10.5 4m-15-3l7.5 2.5m11 4l2.5 1m-20.5-5l21 7.5m-28.5-7.5l31.5 11.5m-33.5-10l31.5 11.5m-34-9.5l13.5 5m5 1.5l10.5 4m-28.5-8l8 3m5.5 2l5 2m-23-6l5 2m10.5 4h0m8 2.5l5.5 2m-28.5-7.5l2.5 .5m10.5 4h0m5.5 2l7.5 3m-25.5-7l8 3m5 2l8 2.5m-20.5-5l2.5 1m8 3l5 2m-15-3l10.5 4"/><path stroke="#0000ff" d="M159.5 12h0m18.5 7h0m-26-7l8 3m5 1.5l8 3m-23-6l10.5 4m10.5 4h0m5.5 2h0m5 1.5l2.5 1m-36-10.5l2.5 1m5 2l5.5 2m10.5 3.5h0m5.5 2l10.5 4m-65.5-21.5l10.5 4m8 3l5 2m8 2.5h0m5.5 2l13 5m5.5 2l10.5 3.5m-57.5-18l5 1.5m8 3l5.5 2m15.5 5.5l2.5 1m8 3h0m5.5 2l2.5 1m-62.5-20.5l2.5 1m5.5 2l5 2m52.5 19h0m-70.5-23l2.5 1m5.5 2h0m55 20l8 3m-78.5-26l8 2.5m58 21.5h0m8 2.5l2.5 1m-83.5-28h0m76 28l8 3m-89-30l8 3m5 2h0m55.5 20l21 7.5m-86.5-29l3 1m10.5 4h0m60.5 22l5 2m-94-32l2.5 1m5.5 2l10.5 4m5 2h0m60.5 22l2.5 1m-89-30l3 1m5 2l13.5 4.5m65.5 24l2.5 1m-86-29h0m18.5 7l10.5 3.5m44.5 16.5l2.5 1m8 3l5.5 1.5m-92-30.5h0m87 31.5l2.5 1m-91.5-31l5.5 2m10.5 4h0m47 17h0m21.5 8l13 4.5m-107.5-36.5l10.5 4m5.5 2h0m71 25.5l15.5 6m-96.5-32.5l2.5 .5m10.5 4h0m60.5 22l5 2m5.5 2l2.5 1m5.5 2h0m-89-30l5 2m71 25.5l3 1m5 2h0m-83.5-28l8 3m63 23h0m-78.5-26l10.5 4m63 23h0m-75.5-25l10.5 3.5m58 21l2.5 1m-68-22l2.5 1m5.5 2l8 3m10.5 3.5l2.5 1m37 13.5h0m-63-20.5l8 3m18.5 7h0m8 2.5h0m23.5 9l2.5 .5m-65-21l5 2m26.5 9.5h0m23.5 8.5l8 3m-62.5-20h0m31.5 11.5h0m15.5 5.5l3 1m-15.5-3l10.5 4m-10-1.5h0m-44-13.5l2.5 1m43.5 23.5h0m-37-.5h0m-7.5 0h0m5.5 1.5h0m5.5 5h0m27.5 15h0m48.5 79h0m-69.5-17.5l13.5 4.5m-15.5-3h0m16 6l5 1.5m-26-6.5h0m26.5 9.5h0m-28.5-8l2.5 1m26.5 9.5l2.5 1m-36-10.5h0m36.5 13.5h0m5.5 2l2.5 .5m5.5 2h0m-99.5-33.5h0m47 17h0m37 13.5l2.5 1m5.5 2h0m-47-14.5h0m18.5 6.5h0m15.5 6l3 1m-73.5-24h0m34.5 12.5l2.5 1m13 4.5h0m10.5 4l8 2.5m-36-10.5h0m34 12.5h0m-33.5-9.5h0m31.5 11.5l2.5 1m-33.5-10h0m26 9.5h0m-25.5-6.5h0m21 7.5l2.5 1m-23.5-6h0m16 6l2.5 .5m-18-4l16 6m47.5 17h0m5 2h0m-20.5-5h0m8 3h0m-89-1.5h0m5.5 2h0m-7.5-.5l13 5"/><path stroke="#00aaff" d="M217 5h0m-10-1h0m10.5 3.5h0m4 1.5h0m-26.5-4.5h0m13 5l8 2.5m-20.5-4.5h0m8 2.5h0m-2.5 2l3 1m13 4.5h0m-23-5.5h0m10.5 3.5h0m8 3l3.5 1.5m-21.5-5.5h0m7.5 3l8 3m-12.5-2.5l10.5 4m6.5 2.5h0m-14-2.5h0m-2 1.5l2.5 1m-4.5 1l2.5 1m8 3h0m-100-29l1.5 .5m5.5 5h0m-18-4l3 1m5 1.5l2.5 1m-20.5-5h0m16 6h0m-23.5-6h0m18.5 7h0m-4.5 .5h0m-28-5h0m16 8.5l3 1m-12.5 .5h0m-25.5-6.5h0m-5 .5l5.5 2m8 3h0m132 50.5l7.5 3m2 3h0m-26.5-4.5h0m5 2h0m-12.5-2h0m-121.5-34h0m139.5 50.5h0m-134-46l5.5 2m7.5 2.5h0m34.5 12.5h0m68.5 25h0m-118-40.5l2.5 1m5.5 2l5 2m8 3h0m18.5 6.5h0m13 5h0m76.5 27.5h0m7.5 3h0m-133.5-46h0m8 3l2.5 1m29 10.5h0m10.5 3.5h0m-65-21l10.5 3.5m7.5 3h0m26.5 9.5h0m5.5 2h0m5 2h0m5.5 2l5 2m31.5 11.5h0m-94-32h0m8 3h0m34 12.5h0m10.5 4h0m10.5 3.5h0m37 13.5h0m-63-20h0m-20.5-5l3 1m7.5 2.5l3 1m5 2h0m-28.5-8l3 1m18 7l3 1m5 2l2.5 .5m5.5 2h0m-7.5 0h0m5.5 2l18 6.5m-60-19h0m53 19h0m36.5 13.5h0m-44-13.5l2.5 1m-51-16.5h0m36 13.5h0m-5 .5h0m60.5 22h0m-67.5-19.5h0m-4.5 1h0m71 26h0m-73.5-24h0m-10-1.5l3 1m21 8h0m-20-2.5h0m18 7h0m66.5 26.5h0m-47-14.5h0m-31-9h0m108 39.5h0m-118-40.5l2.5 1m124 45h0m-126-43l5.5 2m15.5 5.5h0m63 23h0m35 15h0m-120-38.5h0m30.5 19l2.5 1m13.5 7.5h0m-54.5-17.5h0m118 43h0m-78-26h0m-31.5-8.5h0m103 37h0m-102.5-34.5h0m92.5 33.5h0m-7.5 0h0m-13-2h0m29 10.5h0m-52-16.5h0m42 15.5h0m-36-11h0m-18-4h0m-52.5-16.5h0m61 22.5h0m-10.5-1.5h0m-20-2l3 1m5 2l2.5 1m-25.5-7h0m21 7.5h0m-39-11.5l2.5 1m21 7.5h0m10.5 4h0m-31-9l2.5 1m18.5 7l3 1m-7.5-.5h0m-14.5 2.5h0m72 31.5l2.5 1m10.5 3.5h0m-22.5-3h0m-62.5-20h0m-5 .5h0m60.5 22l3 1m5 2h0m5.5 2h0m-70.5-23h0m57.5 21h0m8 3l2.5 .5m-64.5-18h0m58 21h0m-15.5-3h0m5 1.5h0m8 3h0m-18-4l5.5 2m8 3h0m-15.5-3h0m5.5 2h0m5 2h0m-12.5-2.5h0m5 2l3 1m-2.5 2h0m-2 1.5h0m-41.5 0h0m-1.5 2.5h0"/><path stroke="#aaff55" d="M70.5 10.5h0m80 59.5h0m15.5 6h0m-23-6h0m29 10.5h0m-38.5-9h0m37 16h0m12.5 7.5h0m-58.5-19h0m29 10.5h0m7.5 3h0m8 2.5h0m10.5 4h0m-36-10.5h0m23.5 8.5l5 2m5.5 2h0m-115-37h0m71 26h0m6 4.5h0m-22.5-3h0m34 12.5h0m-52-16.5h0m44.5 16.5h0m-4.5 .5h0m-57.5-18h0m-8.5 7h0m47 17h0m-31-8.5h0m67 29.5h0m-102-35h0m55 20.5h0m51 23.5h0m-99-31h0m-22.5-3h0m8 2.5h0m7.5 3h0m59 26.5h0m-37.5-3.5h0m52.5 19.5h0m-81-27h0m92 33.5h0m-78.5-26h0m-10-1h0m24 8.5h0m-26-7h0m-17 1.5h0m8 3h0m-4.5 1h0m-4.5 3.5h0m-10 27h0m-2.5 11.5h0m6 7.5h0m-11 3.5h0"/><path stroke="#00ffff" d="M215 7h0m-4.5 .5h0m7.5 3h0m-15-3h0m8.5 21l1 .5m-123.5-27.5h0m5 2h0m-12 1h0m-7.5-.5l2.5 1m5.5 2l2.5 1m5.5 2h0m-13-2h0m5.5 1.5l5 2m-25-4h0m-7 2.5h0m135.5 57h0m-7.5 0h0m5.5 2h0m-15-.5h0m8.5 6l5.5 1.5m-34-9.5h0m26.5 9.5h0m.5 3h0m-36.5-11h0m29.5 13.5h0m-81-27h0m45 19h0m29 10.5l2.5 1m10.5 4h0m-33-7h0m-67.5-19.5l2.5 1m13.5 4.5h0m-47-14.5h0m45 16.5h0m61 24.5h0m-118-40l2.5 .5m8 3h0m5 2h0m16 6h0m-5 .5l3 1m5 2l2.5 1m-41.5-12.5h0m8 2.5l2.5 1m16 6l2.5 1m-32-9h0m9 3h0m89.5 32.5l7.5 3m-99.5-33.5h0m5.5 1.5h0m13 5h0m74 27h0m-97-33h0m94.5 34.5h0m-96-32.5h0m13 7.5h0m73.5 26.5h0m-14.5 0h0m-27 .5h0m32 14l2.5 1m-74-14h0m-9.5-1h0m117 50h0m-94-29h0m50.5 21h0m-25.5-7h0m60.5 22l2.5 1m-2 2h0m-67.5-19.5h0m-45-14h0m22 8h0m21 8h0m-2.5 1.5l5.5 2m-7 2.5l2.5 1m-35.5-8h0m5.5 5h0m-13.5 5h0m94.5 34.5h0m-21.5 2.5l2.5 .5m8 3l2.5 1m-27 .5h0m-59.5-16.5h0m5.5 2h0m-10.5-1.5h0m4.5 25h0m.5 2.5h0"/><path stroke="#ff8e00" d="M162 66.5h0m-2 2h0m10.5 3.5h0m-20.5-4.5h0m-10.5 11.5h0m21.5 23h0m-52-16.5h0m47 17.5h0m-4.5 .5h0m-44.5-13.5h0m61 22h0m-133-40.5h0m33.5 22.5h0m77.5 33h0m-80-21.5h0m.5 3h0m7.5 3h0m-17.5-4h0m92 33.5h0m-2.5 1.5h0m5.5 2h0m-86.5-29h0m92.5 33.5h0m-92-30.5h0m-25.5-7h0m5 2h0m53 22h0m-4.5 .5h0m-36.5-10.5h0m-25-4l2.5 1m21 7.5h0m-32-9h0m9 3h0m26 9.5l2.5 1m-42.5 23h0m3.5 3.5h0m-1.5 20h0m3 4h0m-11 1l1.5 .5m3 3.5h0m-4 16.5h0"/><path stroke="#aa0000" d="M108 80h0m-57.5-18l2.5 1m111 42.5h0m-17 1.5h0m-104.5-35.5h0m50 18.5l2.5 1m50 18h0m-68-22h0m13.5 4.5h0m42 15.5h0m-39-11.5h0m38.5 37h0m-6.5 5h0m-98.5-28h0m105.5 38.5h0m-70-20.5h0m-44 55.5h0m-2 4.5h0"/><path stroke="#55ffaa" d="M106 3h0m-33.5 3h0m99.5 61.5h0m11.5 9.5h0m-37.5-3.5h0m14 10.5h0m8.5 5.5h0m-23-6h0m-28.5-7.5h0m34 12h0m11 7h0m-62.5-20.5h0m10.5 4l2.5 1m37 13h0m-94-31.5h0m78.5 28.5l3 1m13 5l2.5 1m25.5 9h0m-133-45.5h0m47.5 17h0m39.5 14.5h0m26.5 9.5h0m-123.5-42h0m12 12h0m82 29.5h0m-52.5-16.5h0m92.5 33.5h0m-104-30h0m39.5 14.5h0m-7.5-.5h0m71 26h0m-7.5 0h0m-83.5-28h0m8 3h0m-7.5 0h0m-19.5 .5h0m5 1.5h0m14 8l2.5 .5m-39-11.5h0m3 4h0m16 5.5h0m-31-8.5h0m15.5 5.5h0m5.5 2h0m110.5 40h0m-39-11.5h0m-67-16.5h0m32.5 17h0m5.5 1.5h0m3 4h0m21 7.5h0m-52-16.5h0m26 9.5l3 1m-28.5-7.5h0m-25.5-4.5h0m21 8h0m1 5.5h0m-23-6h0m-5 1h0m-7.5-.5h0m-2 14.5h0m-2 17.5h0m-4.5 .5h0m5 2h0m5 14.5h0m-12 1h0"/><path stroke="#ff3900" d="M167 68.5h0m-19.5 .5h0m4 6.5h0m5 2h0m-7.5 0l3 .5m-13-2l5.5 2m-15.5-3h0m13.5 5h0m-5 .5h0m-11.5 3.5h0m53.5 19.5h0m-58.5-18.5h0m50 18h0m-57.5-18l3 .5m-60-19h0m105 38.5h0m-57.5-18.5l3 1m-27.5-2.5h0m81.5 29.5h0m5 2h0m-68-22h0m-22.5-3h0m18.5 6.5h0m-7.5 0h0m37 13.5h0m19 9h0m15.5 6h0m5.5 2h0m-13-2h0m8 2.5h0m-31-8.5h0m34 12.5h0m-93.5-29h0m-18-4h0m47.5 17h0m65.5 24h0m-117.5-40h0m84 30.5h0m-99-31h0m118.5 43h0m-81-27h0m71 26h0m-110-37.5h0m118 43h0m-91.5-30.5h0m16 5.5h0m-18-4h0m10.5 4h0m10.5 3.5h0m13 5l3 1m31.5 11.5h0m-84-28h0m24 8.5h0m10.5 4h0m53 22h0m-12.5-2h0m-68-22.5h0m23.5 9h0m-14.5-.5h0m29 10.5h0m-42-12.5h0m-15-3h0m8 3h0m-16 27.5h0m-2 24.5h0m8.5 6h0m-10-1.5h0m-4 14h0m5 4.5h0"/><path stroke="#e30000" d="M160.5 71h0m-29 5h0m-31.5 1.5h0m66.5 26.5h0m11 4h0m-66-21.5h0m-62.5-20l2.5 1m37 13h0m7.5 3h0m13.5 5h0m55 20h0m-68-22h0m4 6h0m68.5 28h0m-70-20.5h0m55.5 20l2.5 1m-73-24h0m50 18h0m23.5 9h0m-52-16.5h0m63.5 23h0m-108-36.5l3 1m5 1.5h0m58 21h0m39.5 14.5h0m-99.5-33.5h0m-12.5-2h0m5 2h0m95 34.5h0m5 1.5h0m-107.5-36.5h0m79.5 31.5h0m-4 3.5h0m11 6.5h0m5.5 5h0m-117.5-37.5h0m111 42.5h0m-112-35.5h0m84 30.5h0m13.5 5h0m-81-27h0m26 9.5h0m26.5 9.5h0m3 4h0m-69.5-18h0m32.5 17h0m-38.5-11.5h0m-6.5 49h0m-4 14l2 .5"/><path stroke="#0055ff" d="M224 2.5h0m-26-2l1.5 .5m-7.5 0l2.5 1m-10.5-1.5l8.5 3m-10-1l7.5 3m-7-.5l7.5 3m-27.5-7.5l2 1m15.5 5.5l3 1m5 2h0m-32.5-9.5l1.5 .5m10.5 4h0m5.5 2l2.5 1m13 4.5h0m-31-8.5h0m10.5 3.5h0m5.5 2l2.5 1m13 5h0m-10-1h0m13 4.5h0m-57.5-18.5l3 1m13 5h0m37 13.5l5 2m-57-18.5l5 2m50 18h0m-68-22l3 1m5 2h0m5.5 1.5l2.5 1m58 21l2.5 1m-78.5-26l2.5 1m5.5 2h0m-29-5.5h0m12.5 10l2.5 .5m-7.5 0h0m-43-10.5h0m24 14h0m-10-1h0m-4.5 .5h0m110.5 40.5l5 1.5m-128.5-44h0m5.5 2l5 2m-33.5-10h0m18.5 7l5 2m129 46.5h0m7 2.5h0m-163-54h0m7 2.5h0m5.5 2l2.5 1m129 47h0m-143.5-50l4.5 2m8 2.5h0m-13.5-2l8.5 3m-9-.5l7 2.5m10.5 3.5l8 3m-2.5 2h0m8 2.5h0m-20.5-4.5l2.5 .5m18.5 7h0m87 31.5h0m-112.5-38.5l2.5 1m13 5h0m5.5 1.5h0m129 47h0m-126-43h0m26.5 9.5h0m52.5 19h0m15.5 6h0m-123-42.5h0m31.5 11.5h0m16 6h0m15.5 5.5h0m42.5 15.5h0m26 9.5h0m-133.5-46h0m34 12.5h0m10.5 3.5l3 1m21 8h0m29 10.5h0m5 2h0m26.5 9.5l2.5 1m-89-30h0m26.5 9.5h0m28.5 10.5h0m26.5 9.5h0m-99.5-33.5h0m13 5h0m53 19l2.5 1m-68-22.5h0m45 16.5h0m-63-20h0m18.5 6.5l2.5 1m55.5 20h0m-81-27l8 3m81.5 29.5h0m-20-2h0m-17.5-1.5l2.5 1m-7.5 0l2.5 1m34.5 12.5h0m-36.5-10.5h0m-20.5-5h0m18.5 6.5h0m26.5 12.5h0m13.5 4.5h0m-57.5-18l8 2.5m31.5 11.5l8 3m5 2l3 1m13 4.5h0m-78.5-26h0m5 2l3 1m50 18.5h0m-68-22.5l8 3m5 2h0m47.5 17h0m-68-22h0m8 3l2.5 1m-12.5-2.5h0m-6.5 .5h0m7 2.5h0m18.5 6.5l5 2m-18-4h0m5.5 2l8 3m-18-4l2.5 1m45 16h0m68 25h0m-123.5-42.5h0m6 2h0m-2.5 2h0m-2 2h0m5 1.5l3 1m5 2h0m85 33.5h0m-94.5-32h0m18.5 7h0m48.5 22.5h0m-43.5-8h0m97.5 35.5h0m-5 1h0m-124-43h0m124.5 45.5l3 1m4 1.5h0m-1 2l1.5 .5m-11.5-1.5l8 3m-39-11.5h0m29 10.5h0m-107.5-36.5h0m71 25.5h0m13 5h0m5.5 2h0m13 4.5h0m5.5 2h0m7.5 3l2.5 .5m-115-39h0m18.5 6.5h0m63 23h0m16 6h0m-28.5-8l2.5 1m8 3h0m13 5h0m-44-14h0m13 5h0m8 3h0m5 2l16 5.5m-28.5-8h0m5.5 2l2.5 1m10.5 4h0m26.5 9.5l4.5 2m-75.5-25h0m29 10.5l5.5 2m5 2h0m32 11.5l2.5 .5m-36.5-10.5h0m26.5 9.5h0m5 2l3 1m-81.5-27h0m63.5 23h0m5 2l2.5 1m-73-24l2.5 1m-46-14.5h0m26 12h0m16 6h0m79 28.5h0m-120.5-41.5h0m5 2h0m92 33.5h0m21 8h0m-20.5-5h0m5.5 2h0m5 1.5l3 1m5 2h0m5.5 2h0m-105-35.5l2.5 1m8 3h0m71 25.5l3 1m13 5l2.5 1m-94-32h0m55 20h0m18.5 7h0m8 3l2.5 .5m8 3l2.5 1m-20.5-5l2.5 1m8 3h0m5.5 2l5 2m-89-30h0m5.5 2h0m55 20h0m34 12.5h0m-115-39.5h0m23.5 8.5h0m55.5 20.5h0m-60-19.5h0m5 2l3 1m29 10.5h0m21 7.5h0m-63-20l3 1m-2.5 1.5h0m34.5 12.5h0m18.5 6.5h0m-68-22h0m65.5 24h0m5.5 2h0m-28.5-8h0m26.5 9.5l2.5 1m-44.5-13.5h0m32 11.5l7.5 3m-49.5-15.5h0m18.5 6.5h0m-31-8.5h0m8 3h0m5 1.5h0m37 13.5h0m5.5 2l2.5 1m-60-19.5h0m5 2h0m24 8.5h0m21 8h0m-52.5-16.5h0m11 4h0m18 6.5l3 1m19 7h0m-18.5-4.5h0m-33.5-7h0"/><path stroke="#001cff" d="M149 .5h0m14.5 5.5h0m-15.5-3l2.5 .5m13.5 5l2.5 1m21 7.5h0m-28.5-7.5l13 4.5m5.5 2l8 3m-36.5-11l8 3m5 2l13.5 5m5 1.5l2.5 1m-39-11.5l5.5 2m13 5h0m13.5 4.5l15.5 6m-60-19.5h0m13 5l3 1m15.5 5.5l5.5 2m5 2h0m5.5 1.5h0m8 3l10.5 4m-65.5-21.5l13 5m18.5 6.5l5.5 2m5 2h0m16 6l5 1.5m-75.5-25h0m15.5 6l3 1m52.5 19h0m-70.5-23l8 3m-10.5-1.5h0m82 30h0m-86.5-29h0m84 30.5h0m5.5 2h0m-97-32.5h0m89.5 32.5h0m8 3l1 .5m-8.5-1l5.5 2m-5 1h0m5.5 2l1 .5m-111-38l5 2m84 30.5h0m5.5 2h0m-105-36h0m8 3h0m84.5 31l2.5 .5m8 3l5 2m-110-37.5h0m8 3h0m87 31.5l7.5 3m-104.5-35.5l5 1.5m95 34.5l2.5 1m10.5 4h0m5.5 2h0m-126-43.5l2.5 1m5.5 2l2.5 1m95 34.5l10.5 4m-120.5-41.5h0m7.5 3l5.5 2m-15.5-3.5l5.5 2m108 39.5h0m-113-38.5l10.5 4m97.5 35h0m-102-34.5l8 3m-10-1h0m5 2l5.5 1.5m76 28l5.5 2m-91.5-31l2.5 1m79 29h0m5 1.5h0m-86-28.5h0m76 27.5h0m-111.5-38h0m38.5 14h0m71 26h0m-73.5-24h0m29 10.5l3 1m39.5 14h0m21 8h0m26 9.5h0m-107-36.5h0m57.5 21h0m47.5 17l2.5 1m-118-40h0m5.5 1.5h0m50 18.5l2.5 1m-57.5-18.5h0m34.5 12.5h0m15.5 5.5l3 1m21 8h0m-76-25h0m37 13h0m5 2l8 3m-57.5-18.5h0m45 16.5l2.5 1m10.5 4h0m5.5 1.5h0m-60-19h0m42 15h0m13 5h0m-15-3l7.5 3m-10-1l5.5 1.5m-12.5 1h0m-27-2.5l2.5 1m5 2l3 1m-10-1h0m5 1.5l5.5 2m39.5 14.5h0m-47-14.5h0m44.5 16l3 1m18 7h0m34.5 12.5h0m-65-18.5h0m-78-16l1.5 1m118.5 43h0m-120-41.5h0m120.5 44h0m-121.5-36.5h0m120.5 44h0m-35-2.5h0m-64.5-16h0m108 39.5l2.5 .5m-60-19h0m-49-12.5h0m47.5 17h0m-18-4h0m30 16l8 3m-10-1l5 2m-15-3l5 1.5m42.5 15.5l5 2m-15-3h0m-105-35.5h0m58 21l2.5 1m5.5 2h0m34 12.5l2.5 .5m5.5 2l2.5 1m-60-19h0m18.5 6.5h0m23.5 8.5l8 3m8 3l2.5 1m-62.5-20.5h0m26 9.5h0m13.5 5l2.5 1m8 3l2.5 .5m-57.5-18h0m31.5 11.5h0m16 5.5h0m23.5 9h0m4 1h0m-77-25.5h0m37 13.5h0m7.5 3l3 1m10.5 4h0m5 1.5l13.5 5m-39-11.5h0m7.5 2.5h0m5.5 2l23.5 8.5m-81-26.5h0m45 16h0m7.5 3l5.5 2m5 2l5.5 1.5m10.5 4l3 1m-108-36.5l11 4m13 4.5h0m42 15.5h0m23.5 8.5l8 3m-110-37.5h0m5.5 2l15.5 5.5m13.5 5h0m39 14l3 1m43.5 16h0m-96-32.5h0m8 3h0m39.5 14.5l2.5 1m42.5 15.5l2 .5m-99-33.5l13 5m86 31h0m-114.5-39l8 3m16 5.5h0m5 2h0m31.5 11.5l3 1m-63-20h0m5.5 1.5h0m23.5 9h0m29 10.5h0m26.5 9.5h0m8 3l7.5 2.5m5.5 2h0m-105-35.5h0m26.5 9.5l2.5 1m24 8.5h0m31.5 11.5h0m5 2l22 8m-113.5-38.5l5.5 1.5m7.5 3l3 1m15.5 6h0m21 7.5h0m29 10.5l13.5 5m5 1.5h0m5.5 2l7.5 3m-112.5-38.5l2.5 1m5.5 2h0m18.5 6.5l10.5 4m5 2l8 2.5m21 8h0m5.5 2l2.5 1m5 1.5l3 1m5 2l13.5 5m-105-35.5l5.5 1.5m15.5 6l24 8.5m26 9.5h0m5.5 2l18 6.5m-94-31.5l2.5 1m13.5 4.5l26 10m42 15h0m-81-27h0m18.5 7l2.5 1m5.5 2l8 2.5m34 12.5l12 4.5m-77-25.5h0m5 2h0m23.5 8.5h0m37 13.5h0m-54.5-17.5h0m10.5 4l2.5 .5m-10-1l8 3m-20.5-5h0m13 5l5 2m-25-4.5l5 2m8 3l10.5 4m16.5 6h0m-39.5-12l5 2m13.5 4.5l7.5 3m6.5 2.5h0m-35-10.5h0m16 6l12.5 4.5m-30.5-8.5h0m5.5 2h0m5 2l13 4.5m-28-7.5h0m21 7.5h0m-15.5-3l8 3"/><path stroke="#ff5500" d="M164.5 67.5h0m3 4h0m-4.5 .5h0m8.5 5.5h0m-30.5-6h0m7.5 3h0m-7 0h0m-11.5 6h0m-2 2l2.5 1m45 16h0m-60-19h0m-55-17.5h0m42 15h0m74 27h0m-75-19.5h0m-15.5-3h0m77 30.5h0m.5 2.5h0m-123-42h0m45.5 21.5h0m77 30.5h0m-39-11.5h0m29 10.5h0m-10-1h0m11 6.5h0m-28.5-8h0m-47-14.5h0m37 13.5h0m26 9.5h0m-46.5-14.5h0m47 17.5h0m-78.5-26h0m18.5 6.5h0m56 23h0m-86.5-29h0m89.5 32.5h0m16 6h0m5 2h0m-112-36h0m10.5 4h0m76 28h0m-39-12h0m-46.5-14.5h0m-9.5 2l2.5 .5m34 12.5h0m-20.5-5h0m21 8h0m-31-9h0m10.5 4h0m34.5 12.5h0m6 7.5h0m-51.5-14h0m-18-4h0m-1.5 4.5h0m-8.5 22.5h0m-2 43h0m-7.5 7.5h0"/><path stroke="#8eff71" d="M68.5 12h0m90.5 66.5h0m14 7.5l2.5 1m-26-7h0m29 10.5l2.5 1m-25.5-7h0m10.5 4h0m-18-4h0m18.5 6.5h0m8 3h0m-42-12.5h0m29 10.5h0m-25.5-7h0m10.5 4l2.5 1m16 5.5h0m-17.5-1h0m10.5 4h0m-120.5-41.5h0m100 36.5l2.5 1m10.5 3.5h0m8.5 6h0m-65-18.5h0m-61-12h0m123.5 45h0m-96-27.5h0m89.5 32.5h0m-71-13h0m-20.5-5h0m84.5 33.5h0m-83-25.5h0m-17 1.5h0m5.5 5h0m39.5 14.5h0m-28-8h0m34 12.5h0m48 20h0m-58-8.5h0m-42-12.5h0m-23.5 32h0m-2 2h0m1 5.5h0m1.5 23.5h0m-5 11h0"/><path stroke="#008eff" d="M214 1.5h0m5.5 1.5h0m4 1.5h0m-14-2.5l5 2m5.5 2l2 1m-20-5l2.5 1m-7.5 0h0m14.5 10l2.5 1m4.5 1.5h0m-43.5-13h0m21 7.5h0m10.5 4h0m-33.5-10h0m18.5 9.5h0m3.5 4h0m3 3.5h0m-2 1.5h0m7.5 3h0m-2 2l2.5 1m-94.5-22l2.5 1m-5 1l3 1m-10-1.5l2.5 1m-11.5 3.5h0m-15 0h0m-17.5-1.5h0m-15 0l5.5 1.5m147 54h0m-24.5-1.5h0m-114.5-34h0m5.5 2h0m-18-4l5.5 2m-13-2h0m18.5 6.5l2.5 1m-17.5-4l2.5 1m44.5 16.5l3 .5m5 2h0m73.5 27h0m-133.5-46h0m5.5 2h0m128.5 46.5h0m13.5 5h0m-147-51l8 3m5 2l3 1m7.5 2.5l3 1m18.5 7h0m18 6.5h0m-52-16.5h0m52.5 19.5h0m-67.5-22.5h0m7.5 3h0m5.5 2h0m5 2h0m50 18h0m-62.5-20h0m60.5 22h0m-49.5-15.5h0m18.5 6.5h0m31.5 11.5h0m-18-4l2.5 1m40 17h0m-91.5-30.5h0m52.5 19h0m5.5 2h0m-5 1h0m-15-3.5l8 3m10.5 4h0m26.5 12.5h0m-61.5-15h0m16.5 8.5h0m44.5 16h0m-83.5-27.5h0m34 12.5h0m-15.5-3h0m-4.5 .5h0m10.5 4l2.5 1m-15-3h0m42 15h0m-41-9.5h0m-7.5-.5h0m13 5h0m-12.5-2h0m39.5 14.5h0m-31-9h0m15.5 6h0m102.5 39.5h0m-135-44h0m29 10.5h0m-2.5 2h0m101 41.5h0m-128-41.5h0m118.5 43.5h0m.5 2.5h0m-115-39.5h0m94.5 34.5h0m21 8l2.5 1m-28-8h0m-76-25h0m79 28.5h0m-20.5-5h0m29 11l2.5 .5m-10-1h0m-71-10.5h0m8 3h0m-36.5-10.5h0m16 5.5h0m8 3h0m8 3l2.5 1m-39-12h0m31.5 11.5h0m-26-6.5h0m8 2.5h0m77 31l2.5 .5m-12 1h0m-76-25h0m73.5 26.5h0m-73-24h0m68.5 25h0m-5 1h0m-13 7.5h0m13 5h0m-10-1l2.5 1m5.5 2h0m-17 1.5h0m.5 2.5h0m-2 2h0m-7.5-.5h0m-39.5-1.5h0m-2.5 2h0"/><path stroke="#ffaa00" d="M171 75h0m8 3h0m-31-6h0m6 4.5h0m20 15h0m-59-14h0m23.5 8.5h0m41.5 15.5h0m-4 1h0m-113-38.5h0m100 36l3 1m-107.5-36.5h0m52.5 19.5h0m43 20.5h0m-104.5-35.5h0m55 20h0m-65-21h0m100 36.5h0m-65-18.5h0m50 18h0m-22-.5h0m18 7h0m29 10.5h0m-77.5-20.5h0m-15-3h0m8 2.5h0m79 29h0m-101-26.5h0m108 39.5h0m-114.5-34h0m8 2.5h0m47.5 17.5h0m-46.5-12h0m24 9h0m76 27.5h0m-104.5-35.5h0m26 9.5h0m-12 1h0m-30.5-6h0m71.5 28.5h0m-59-14h0m-14 46h0m-6.5 18h0m-5.5 8.5l2.5 .5m-2.5 2h0"/><path stroke="#ffff00" d="M69 2h0m-2 2h0m-1.5 4.5h0m70.5 64h0m-1 7h0m3 4h0m40 17h0m-36.5-10.5h0m26.5 9.5h0m5 2h0m-20-2.5h0m-62.5-20h0m63 23h0m-107.5-36.5h0m-2 1.5l2.5 1m16.5 21.5h0m16 8.5h0m66 23.5h0m-93.5-26h0m95.5 37h0m-73.5-24h0m71.5 26h0m-89-30h0m92 33.5h0m-84-28h0m-12 1h0m50 18h0m-26-7h0m-16.5 1.5h0m42 15.5h0m-65.5-21h0m66 24h0m18.5 6.5h0m-96.5-32.5h0m41.5 15h0m48 20h0m-41.5-12.5h0m-49-12.5h0m60.5 22h0m-52.5-16.5h0m10.5 3.5h0m1 5.5h0m-12.5-2h0m-13 26l.5 0m3 29.5h0m3 3.5h0m-7.5 12.5h0"/><path stroke="#ffe300" d="M69.5 5h0m94.5 60h0m-7 2.5h0m19.5 12h0m-3 9h0m-33.5-7h0m35 15.5h0m-49.5-15.5h0m7.5 2.5h0m39.5 14.5h0m-25.5-6.5h0m-89-30h0m91 40.5h0m-107-33.5h0m-7.5 0h0m130 52h0m-49-12.5h0m.5 2.5h0m46.5 27.5h0m-103.5-30l2.5 .5m13.5 8h0m-33.5-10h0m16 6h0m92 33.5h0m-76-25h0m42 15h0m-83-25h0m108 39h0m-94.5-31.5h0m84.5 30.5h0m-86-26h0m27 12.5h0m22 13h0m-57.5-18.5h0m-9 4.5h0m-8.5 20h0m4.5 40h0"/><path stroke="#8e0000" d="M155 69h0m-2 2h0m-55 8l2.5 1m5.5 2l2.5 1m-60-19.5l2.5 1m42 15.5l2.5 1m11 3.5h0m60.5 22h0m-65-18.5h0m-7.5 0l2.5 1m-12 .5l2.5 1m53 19.5l2.5 1m-70.5-23.5l2.5 1m5.5 2l2.5 1m5 2l3 1m-20.5-5h0m10.5 4h0m10.5 3.5h0m26 9.5h0m-49.5-15.5h0m-2 2h0m5 2l5.5 2m37 13h0m-42-12.5h0m37 13.5h0m-28-5h0m45.5 19h0m26.5 12.5h0m-2 1.5h0m8 3l2.5 1m-39-11.5h0m-2 1.5h0m-28.5-8h0m5 2h0m18.5 7h0m8 2.5h0m-62-17.5h0m34 12.5h0m18.5 7h0m26.5 9.5h0m-109.5-35h0m5 2h0m60.5 22h0m26.5 9.5h0m-94.5-31.5l3 1m57.5 21h0m8 3h0m-71-13.5h0m-1 10h0m-5.5 49h0m.5 3l2.5 1m-2 1.5l2.5 1m-6.5 5.5h0m-2 1.5h0"/><path stroke="#1cffe3" d="M208.5 25h0m-99.5-21h0m-17.5-1.5h0m-10-1h0m8 3h0m-10.5-1h0m5.5 1.5h0m3 4h0m-12.5-2h0m5 2h0m-7-.5h0m-13-2h0m128 67h0m4.5 1.5h0m-35 8h0m5.5 2h0m-75-20l2.5 1m63.5 23h0m-63-20h0m63.5 23l2.5 1m-115-37l3 1m5 2h0m76.5 28l5 2m-70.5-23.5h0m16 6h0m50 18h0m-81.5-27h0m84.5 31h0m5 1.5h0m-78-26l2.5 1m26 9.5h0m55.5 20.5h0m-111.5-38h0m104 37.5h0m-99.5-33.5h0m134.5 49h0m-123.5-42.5h0m79 29h0m25 29.5h0m-3.5 9h0m12.5 12h0m-78.5-26h0m73.5 26.5h0m-88.5-27h0m66.5 27h0m5 1.5h0m-73-24h0m8 3h0m13 5h0m50 18h0m10.5 4h0m-118-40.5h0m60.5 22h0m50.5 21h0m-76-25h0m-10-1h0m8 2.5h0m14 10.5l3 1m5 2h0m-12.5-2h0m-33.5-10h0m5.5 4.5h0m60 47.5h0m-2 2h0m-75.5-25h0m-4.5 3.5h0m-4 1h0m4.5 1.5h0m-6 3h0m-.5 10h0m4.5 4.5h0"/><path stroke="#e3ff1c" d="M67.5 6.5h0m.5 3h0m91.5 56h0m13.5 7.5h0m3 16.5h0m.5 3h0m5 1.5h0m-54-14.5h0m52.5 19h0m-39-11.5h0m-2 2h0m5 2h0m-46.5-14.5h0m63 23h0m-57.5-18.5h0m-49-13h0m37 13.5h0m50.5 21h0m-97-32.5h0m82 32.5h0m-56.5-16h0m10 16.5h0m-30.5-6h0m50.5 21h0m42.5 18h0m-78-23h0m63.5 23h0m-89-30h0m23.5 8.5h0m77 30.5h0m-76-25h0m13 5h0m10.5 4h0m-25.5-7h0m-36.5-11h0m18.5 7h0m3 3.5h0m35 15.5h0m39.5 14l2.5 1m-57.5-18h0m52.5 19h0m-73.5-14h0m-17 1.5h0m-8 25h0m-5 6h0m10 21.5h0m-13.5 0h0"/><path stroke="#71ff8e" d="M58 8.5h0m8 2.5h0m88.5 68h0m11 7h0m-7 2.5h0m5.5 2h0m-23.5-6h0m5.5 2h0m18.5 6.5h0m-21-5h0m8 3h0m-20.5-5h0m31.5 11.5l3 1m-21-5h0m-110-37.5h0m100 36.5h0m8 3h0m5.5 1.5h0m8 3h0m7.5 3h0m-125.5-43.5h0m65.5 24h0m34.5 12.5h0m7.5 3h0m-53.5-12h0m13 5h0m26.5 9.5h0m34 25h0m.5 3h0m-109.5-35h0m102.5 37.5h0m3 3.5h0m-106.5-33.5h0m-13-2h0m10.5 3.5h0m18.5 7h0m24 8.5h0m65 31.5h0m-97.5-33h0m32.5 17h0m41 22.5h0m-73-24h0m-7 2.5h0m-32 26.5h0m-3 37.5h0m-4 6h0m.5 3h0"/><path stroke="#ff1c00" d="M169.5 67h0m-4 6h0m8.5 5.5h0m-18-4l2.5 1m-12 1h0m-11 6h0m-18-4l2.5 1m-7 2.5h0m5.5 2h0m51 23.5h0m-7.5 0h0m-73-24h0m55 20l2.5 1m5.5 2h0m-7.5 0h0m-107.5-37l3 1m133 48.5h0m-135.5-46.5h0m58 21h0m31.5 11.5h0m31.5 11.5h0m5.5 2l2.5 1m4.5 4h0m-48-15h0m36.5 13.5h0m-83.5-28h0m84 30.5h0m-46-11.5h0m47 17h0m-36-10.5h0m-67.5-19.5h0m8 3h0m63 23h0m-30.5-6h0m47.5 17h0m-75.5-22h0m89.5 32.5h0m-120-38.5h0m13 4.5l2.5 1m87.5 34.5h0m-107.5-36.5h0m58 21h0m-2 1.5h0m-6.5 5.5h0m-31-8.5h0m15.5 5.5h0m18.5 6.5h0m-2 2h0m-39-11.5h0m8.5 5.5h0m-41 44h0m1.5 10.5h0"/><path stroke="#c6ff39" d="M72 3h0m-7 3h0m5 1.5h0m73.5 65h0m1.5 8.5h0m15.5 5.5l3 1m7.5 3h0m8 3h0m-28.5-8h0m5.5 2h0m15.5 5.5h0m5.5 2h0m5.5 2h0m-15-.5l2.5 1m-33.5-9.5h0m5.5 4.5h0m26.5 9.5h0m-49.5-15.5h0m26 10h0m-4.5 .5l2.5 1m5.5 2h0m-2.5 1.5h0m-46.5-14.5h0m34.5 15.5h0m33 19.5h0m-78.5-26h0m74 27h0m-97-33h0m4.5 12h0m60 32h0m32.5 12h0m-89.5-27.5h0m-25.5-4h0m-14 2.5h0m37 13.5h0m-11.5 6h0m8 3h0m-12.5-2h0m34 12h0m-39-11.5h0m-23-6h0m21 8h0m-10-1h0m-5 .5h0m-7 43.5h0"/><path stroke="#39ffc6" d="M86.5 3.5h0m-15-3h0m15.5 5.5h0m-7.5 0h0m-6 5.5h0m-20.5-5l2.5 1m129.5 65h0m1 5.5h0m-48-7.5h0m40 17.5h0m-10-1.5h0m16.5 6h0m-58-18.5h0m23.5 8.5l3 1m5 2h0m-36.5-10.5h0m21.5 7.5h0m-49.5-15.5h0m55 20.5h0m8 2.5l2.5 1m22.5 8.5h0m-127-44h0m105 38.5h0m-7.5-.5h0m8 3h0m-4.5 1h0m-115.5-39.5l2.5 1m5.5 2h0m81.5 29.5h0m3 3.5h0m-99.5-33.5l2.5 1m5.5 2h0m97.5 35.5h0m-107.5-36.5l2.5 1m50 18h0m47.5 17h0m5 2h0m-36-10.5h0m-68-22h0m58 21h0m22 13h0m10.5 4h0m31 21.5h0m-106.5-31.5h0m117.5 45.5h0m-90-27.5h0m66 24h0m-91.5-31h0m103 40.5h0m-65.5-21.5h0m66 24h0m-115-36.5h0m82.5 32.5h0m13 4.5h0m5 2h0m-101.5-32h0m103 40h0m-83.5-28h0m10.5 4h0m66 24h0m-41.5-10h0m-12 1h0m-12 .5h0m43.5 36.5h0m-86.5-29h0m-8.5 9.5h0m-1 7.5h0m8 3h0m3 16.5h0m-10 16.5h0"/><path stroke="#c60000" d="M170 69.5h0m-6.5 5.5h0m-74 11h0m-5 1l2.5 1m10.5 4h0m-15-3.5h0m47.5 17.5h0m42.5 15.5h0m-95-32h0m6 4.5h0m81.5 30h0m-94.5-32h0m11 4h0m89 32.5h0m-107-36.5h0m47 17.5h0m-44-14h0m-4.5 4h0m104 37.5h0m-.5 2.5h0m-36.5-11h0m21 8h0m11.5 9h0m-64.5-15.5h0m26.5 9.5h0m18.5 6.5l2.5 1m5.5 2h0m-57.5-18.5h0m42 15.5h0m-7 2.5h0m-36-10.5h0m26 9.5h0m-2 2h0m-91.5-15.5h0m-2.5 52.5h0m-9.5 12h0"/></g>
<use href="#map"/>
<rect x="0.5" y="0.5" width="233.0" height="212.5" fill="none" stroke="#262626" stroke-width="1"/>
<text x="19.5" y="-19.7" font-size="12.2" font-weight="bold" text-anchor="start" fill="#262626" textLength="24.6" lengthAdjust="spacingAndGlyphs" stroke="#262626" stroke-width="0.22">100</text>
<circle cx="48.6" cy="-32.0" r="1.5" fill="none" stroke="#262626" stroke-width="0.9"/>
<text x="56.3" y="-19.7" font-size="12.2" font-weight="bold" text-anchor="start" fill="#262626" textLength="13.2" lengthAdjust="spacingAndGlyphs" stroke="#262626" stroke-width="0.22">W</text>
<text x="88.5" y="-19.7" font-size="12.2" font-weight="bold" text-anchor="start" fill="#262626" textLength="16.4" lengthAdjust="spacingAndGlyphs" stroke="#262626" stroke-width="0.22">90</text>
<circle cx="109.4" cy="-32.0" r="1.5" fill="none" stroke="#262626" stroke-width="0.9"/>
<text x="117.1" y="-19.7" font-size="12.2" font-weight="bold" text-anchor="start" fill="#262626" textLength="13.2" lengthAdjust="spacingAndGlyphs" stroke="#262626" stroke-width="0.22">W</text>
<text x="152.2" y="-19.7" font-size="12.2" font-weight="bold" text-anchor="start" fill="#262626" textLength="16.4" lengthAdjust="spacingAndGlyphs" stroke="#262626" stroke-width="0.22">80</text>
<circle cx="173.2" cy="-32.0" r="1.5" fill="none" stroke="#262626" stroke-width="0.9"/>
<text x="181.0" y="-19.7" font-size="12.2" font-weight="bold" text-anchor="start" fill="#262626" textLength="13.2" lengthAdjust="spacingAndGlyphs" stroke="#262626" stroke-width="0.22">W</text>
<text x="215.8" y="-19.7" font-size="12.2" font-weight="bold" text-anchor="start" fill="#262626" textLength="16.4" lengthAdjust="spacingAndGlyphs" stroke="#262626" stroke-width="0.22">70</text>
<circle cx="236.8" cy="-32.0" r="1.5" fill="none" stroke="#262626" stroke-width="0.9"/>
<text x="244.5" y="-19.7" font-size="12.2" font-weight="bold" text-anchor="start" fill="#262626" textLength="13.2" lengthAdjust="spacingAndGlyphs" stroke="#262626" stroke-width="0.22">W</text>
<text x="-49.6" y="17.1" font-size="12.2" font-weight="bold" text-anchor="start" fill="#262626" textLength="16.9" lengthAdjust="spacingAndGlyphs" stroke="#262626" stroke-width="0.22">48</text>
<circle cx="-28.2" cy="3.0" r="1.5" fill="none" stroke="#262626" stroke-width="0.9"/>
<text x="-20.5" y="17.1" font-size="12.2" font-weight="bold" text-anchor="start" fill="#262626" textLength="9.4" lengthAdjust="spacingAndGlyphs" stroke="#262626" stroke-width="0.22">N</text>
<text x="-49.6" y="34.4" font-size="12.2" font-weight="bold" text-anchor="start" fill="#262626" textLength="16.9" lengthAdjust="spacingAndGlyphs" stroke="#262626" stroke-width="0.22">46</text>
<circle cx="-28.2" cy="20.3" r="1.5" fill="none" stroke="#262626" stroke-width="0.9"/>
<text x="-20.5" y="34.4" font-size="12.2" font-weight="bold" text-anchor="start" fill="#262626" textLength="9.4" lengthAdjust="spacingAndGlyphs" stroke="#262626" stroke-width="0.22">N</text>
<text x="-49.6" y="51.6" font-size="12.2" font-weight="bold" text-anchor="start" fill="#262626" textLength="16.9" lengthAdjust="spacingAndGlyphs" stroke="#262626" stroke-width="0.22">44</text>
<circle cx="-28.2" cy="37.5" r="1.5" fill="none" stroke="#262626" stroke-width="0.9"/>
<text x="-20.5" y="51.6" font-size="12.2" font-weight="bold" text-anchor="start" fill="#262626" textLength="9.4" lengthAdjust="spacingAndGlyphs" stroke="#262626" stroke-width="0.22">N</text>
<text x="-49.6" y="70.2" font-size="12.2" font-weight="bold" text-anchor="start" fill="#262626" textLength="16.9" lengthAdjust="spacingAndGlyphs" stroke="#262626" stroke-width="0.22">42</text>
<circle cx="-28.2" cy="56.1" r="1.5" fill="none" stroke="#262626" stroke-width="0.9"/>
<text x="-20.5" y="70.2" font-size="12.2" font-weight="bold" text-anchor="start" fill="#262626" textLength="9.4" lengthAdjust="spacingAndGlyphs" stroke="#262626" stroke-width="0.22">N</text>
<text x="-49.6" y="86.5" font-size="12.2" font-weight="bold" text-anchor="start" fill="#262626" textLength="16.9" lengthAdjust="spacingAndGlyphs" stroke="#262626" stroke-width="0.22">40</text>
<circle cx="-28.2" cy="72.4" r="1.5" fill="none" stroke="#262626" stroke-width="0.9"/>
<text x="-20.5" y="86.5" font-size="12.2" font-weight="bold" text-anchor="start" fill="#262626" textLength="9.4" lengthAdjust="spacingAndGlyphs" stroke="#262626" stroke-width="0.22">N</text>
<text x="-49.6" y="101.1" font-size="12.2" font-weight="bold" text-anchor="start" fill="#262626" textLength="16.9" lengthAdjust="spacingAndGlyphs" stroke="#262626" stroke-width="0.22">38</text>
<circle cx="-28.2" cy="87.0" r="1.5" fill="none" stroke="#262626" stroke-width="0.9"/>
<text x="-20.5" y="101.1" font-size="12.2" font-weight="bold" text-anchor="start" fill="#262626" textLength="9.4" lengthAdjust="spacingAndGlyphs" stroke="#262626" stroke-width="0.22">N</text>
<text x="-49.6" y="118.4" font-size="12.2" font-weight="bold" text-anchor="start" fill="#262626" textLength="16.9" lengthAdjust="spacingAndGlyphs" stroke="#262626" stroke-width="0.22">36</text>
<circle cx="-28.2" cy="104.3" r="1.5" fill="none" stroke="#262626" stroke-width="0.9"/>
<text x="-20.5" y="118.4" font-size="12.2" font-weight="bold" text-anchor="start" fill="#262626" textLength="9.4" lengthAdjust="spacingAndGlyphs" stroke="#262626" stroke-width="0.22">N</text>
<text x="-49.6" y="132.9" font-size="12.2" font-weight="bold" text-anchor="start" fill="#262626" textLength="16.9" lengthAdjust="spacingAndGlyphs" stroke="#262626" stroke-width="0.22">34</text>
<circle cx="-28.2" cy="118.8" r="1.5" fill="none" stroke="#262626" stroke-width="0.9"/>
<text x="-20.5" y="132.9" font-size="12.2" font-weight="bold" text-anchor="start" fill="#262626" textLength="9.4" lengthAdjust="spacingAndGlyphs" stroke="#262626" stroke-width="0.22">N</text>
<text x="-49.6" y="149.4" font-size="12.2" font-weight="bold" text-anchor="start" fill="#262626" textLength="16.9" lengthAdjust="spacingAndGlyphs" stroke="#262626" stroke-width="0.22">32</text>
<circle cx="-28.2" cy="135.3" r="1.5" fill="none" stroke="#262626" stroke-width="0.9"/>
<text x="-20.5" y="149.4" font-size="12.2" font-weight="bold" text-anchor="start" fill="#262626" textLength="9.4" lengthAdjust="spacingAndGlyphs" stroke="#262626" stroke-width="0.22">N</text>
<text x="-49.6" y="164.0" font-size="12.2" font-weight="bold" text-anchor="start" fill="#262626" textLength="16.9" lengthAdjust="spacingAndGlyphs" stroke="#262626" stroke-width="0.22">30</text>
<circle cx="-28.2" cy="149.9" r="1.5" fill="none" stroke="#262626" stroke-width="0.9"/>
<text x="-20.5" y="164.0" font-size="12.2" font-weight="bold" text-anchor="start" fill="#262626" textLength="9.4" lengthAdjust="spacingAndGlyphs" stroke="#262626" stroke-width="0.22">N</text>
<text x="-49.6" y="176.6" font-size="12.2" font-weight="bold" text-anchor="start" fill="#262626" textLength="16.9" lengthAdjust="spacingAndGlyphs" stroke="#262626" stroke-width="0.22">28</text>
<circle cx="-28.2" cy="162.5" r="1.5" fill="none" stroke="#262626" stroke-width="0.9"/>
<text x="-20.5" y="176.6" font-size="12.2" font-weight="bold" text-anchor="start" fill="#262626" textLength="9.4" lengthAdjust="spacingAndGlyphs" stroke="#262626" stroke-width="0.22">N</text>
<text x="-49.6" y="191.7" font-size="12.2" font-weight="bold" text-anchor="start" fill="#262626" textLength="16.9" lengthAdjust="spacingAndGlyphs" stroke="#262626" stroke-width="0.22">26</text>
<circle cx="-28.2" cy="177.6" r="1.5" fill="none" stroke="#262626" stroke-width="0.9"/>
<text x="-20.5" y="191.7" font-size="12.2" font-weight="bold" text-anchor="start" fill="#262626" textLength="9.4" lengthAdjust="spacingAndGlyphs" stroke="#262626" stroke-width="0.22">N</text>
<text x="-49.6" y="205.7" font-size="12.2" font-weight="bold" text-anchor="start" fill="#262626" textLength="16.9" lengthAdjust="spacingAndGlyphs" stroke="#262626" stroke-width="0.22">24</text>
<circle cx="-28.2" cy="191.6" r="1.5" fill="none" stroke="#262626" stroke-width="0.9"/>
<text x="-20.5" y="205.7" font-size="12.2" font-weight="bold" text-anchor="start" fill="#262626" textLength="9.4" lengthAdjust="spacingAndGlyphs" stroke="#262626" stroke-width="0.22">N</text>
<text x="-49.6" y="218.7" font-size="12.2" font-weight="bold" text-anchor="start" fill="#262626" textLength="16.9" lengthAdjust="spacingAndGlyphs" stroke="#262626" stroke-width="0.22">22</text>
<circle cx="-28.2" cy="204.6" r="1.5" fill="none" stroke="#262626" stroke-width="0.9"/>
<text x="-20.5" y="218.7" font-size="12.2" font-weight="bold" text-anchor="start" fill="#262626" textLength="9.4" lengthAdjust="spacingAndGlyphs" stroke="#262626" stroke-width="0.22">N</text>
<rect x="245.0" y="-1.5" width="24" height="215.5" fill="url(#jet)" stroke="#262626" stroke-width="0.8"/>
<path d="M269.0 106.8h-4" stroke="#262626" stroke-width="1"/>
<text x="278.5" y="6.3" font-size="21.0" font-weight="bold" text-anchor="start" fill="#262626" textLength="41.5" lengthAdjust="spacingAndGlyphs" stroke="#262626" stroke-width="0.38">100</text>
<text x="278.5" y="114.3" font-size="21.0" font-weight="bold" text-anchor="start" fill="#262626" textLength="26.8" lengthAdjust="spacingAndGlyphs" stroke="#262626" stroke-width="0.38">50</text>
<text x="278.5" y="221.8" font-size="21.0" font-weight="bold" text-anchor="start" fill="#262626" textLength="12.2" lengthAdjust="spacingAndGlyphs" stroke="#262626" stroke-width="0.38">0</text>
<text x="-54.4" y="244.2" font-size="21.3" font-weight="bold" text-anchor="start" fill="#262626" textLength="333.0" lengthAdjust="spacingAndGlyphs" stroke="#262626" stroke-width="0.38">SAT 300 hPa RH (Percent)</text>
</g>
<g transform="translate(617.2,486.5)">
<g fill="none" stroke-linecap="round" stroke-width="6.6"><path stroke="#39ffc6" d="M219 .5h0m5 2h0m-.5 2h0m-28.5 0h0m-32-4h0m45 21.5h0m-2 2h0m-65.5-21.5h0m63 23l3 1m-70.5-23h0m68 25h0m-75.5-25h0m73.5 26.5h0m-88.5-29.5h0m0 2.5h0m5.5 2h0m-68.5 3h0m1 5.5h0m-14 2.5h0m-3.5 37.5h0m118.5 43h0m.5 2.5h0m-2 2h0m-119.5-36h0m112 61h0m-4.5 4l2.5 .5m-87.5-21.5h0m16 6l2.5 1m5.5 1.5h0m50 18.5h0m-78.5-26h0m22 13h0m-18-4h0m39.5 14.5h0m6 7.5l3 1m-15-.5h0m16.5 8.5h0m-10-1h0m-26-7h0m-44-13.5l2.5 1m36.5 13.5h0m5.5 2l2.5 .5m-12.5-2l2.5 1m10.5 4h0m-22.5-3l5 1.5m-7 0h0m11 6.5h0m-33.5-7h0m119.5 48.5h0m2 3.5h0"/><path stroke="#ffff00" d="M209.5 2h0m-30-.5h0m35 23h0m-3.5 1.5h0m-110-25h0m-66 11.5h0m136.5 80.5h0m.5 3h0m-30-3.5l2.5 1m-38.5-11.5h0m-13 10.5h0m5 2h0m42 40.5h0m-7 3h0m-98.5-15.5h0m37 13.5h0m-19 6h0"/><path stroke="#71ff8e" d="M216.5 2.5l3 .5m-1.5 7.5l2.5 1m-28-8h0m-17 1.5h0m-18-4h0m5.5 2h0m-10.5-1l3 1m-20.5-2.5l3 1m-17-1h0m73.5 29.5h0m-113-28.5h0m-7.5 0h0m-5 .5h0m.5 3h0m-7 0h0m-5 .5h0m.5 3h0m127 82h0m-23.5 1.5h0m-2 2l5.5 1.5m-10-1h0m7.5 3l3 1m-10-1h0m-25.5-4l2.5 .5m8 3h0m-23-6h0m-15.5-3h0m23.5 9h0m-96-32.5h0m.5 2.5l2 1m122.5 52h0m-86-26h0m63.5 23h0m25.5 19.5h0m-18-4h0m13.5 7.5h0m-22.5-3h0m-78.5-26h0m-1 7h0m53.5 24.5h0m-33.5-9.5h0m28.5 10.5h0m-2 2h0m-32-1.5h0m-10-1.5h0m-5 1h0m21 7.5l2.5 1m-10-1h0m21.5 7.5h0m-36.5-10.5h0m13 5h0m26.5 9.5h0m-66.5-14h0m1 5.5h0m-4.5 1h0m-5 41.5h0"/><path stroke="#c6ff39" d="M212 .5h0m-5.5 .5h0m-8.5-.5h0m23.5 8.5h0m-37.5-8.5h0m-18.5 3.5h0m-42 0h0m74 27h0m-2.5 1.5h0m-95-32h0m3.5 1.5h0m84.5 30.5h0m-92-30.5h0m95 34.5h0m-99.5-34l2.5 1m-4.5 1h0m94 85h0m-14 5.5h0m-63-10.5h0m39 14.5l3 1m-20 13l3 1m-7 3h0m17.5 16.5h0m-87.5-21.5h0m38.5 49.5h0m-33.5-9.5h0m-40-4.5h0m-6.5 59h0"/><path stroke="#aa0000" d="M202.5 4.5h0m12.5 15h0m-180.5 36.5h0m127.5 51.5h0m-71.5-16h0"/><path stroke="#55ffaa" d="M221.5 1.5h0m.5 2.5h0m-31-3.5h0m6 2.5h0m-32-1.5l2.5 .5m-11.5-1.5h0m2 3.5h0m-15.5-3h0m66 24h0m-82.5-22.5h0m71 25.5l2.5 1m-84-27.5l3 .5m-7.5 0h0m.5 3h0m-25.5-4.5h0m-7.5 0h0m5.5 2h0m-12 .5h0m5 2h0m-10-1h0m-7.5 0h0m-7-.5h0m-2.5 2h0m3.5 3.5h0m-19 6h0m5.5 2h0m82.5 76h0m-88.5-27h0m40.5 32.5h0m68.5 25h0m-4.5 3.5l2.5 1m-86-13.5h0m-10-1h0m8 3l2.5 1m39.5 14h0m8 3h0m-57.5-18.5h0m58.5 24h0m-47-14.5h0m45.5 19l2.5 1m-15.5-3h0m10.5 4h0m-65-21.5h0m53 22h0m-12 .5h0m-13-2h0m18.5 7h0m-28.5-8h0m16 6h0m-12.5-2.5h0m10.5 4h0m-2.5 2h0m-17.5-4l2.5 1"/><path stroke="#ff3900" d="M113.5 85l3 .5m-5 1h0m.5 3h0m50 30.5h0m-32 14h0"/><path stroke="#e3ff1c" d="M205 .5h0m9.5 3.5h0m-7.5 0l3 1m7.5 2.5l3 1m-33.5-7h0m32 12h0m-42-13h0m5.5 2h0m5 2l2.5 1m23 16h0m-2.5 1.5l3 1m-117-19.5h0m-62 5.5h0m4.5 1.5h0m-2 2h0m66.5 70h0m-3.5 6.5h0m.5 2.5h0m-5 1h0m-2 2l2.5 1m72 36h0m-42 8h0m.5 2.5h0m-38.5 16.5h0"/><path stroke="#ffc600" d="M190.5 33.5h0m-8 63.5h0m-1 2.5h0m-73.5-19.5h0m49 41h0m-2 2h0m9 8h0m-7 2.5h0m-12.5-2l2.5 1m-12 3.5h0m-6.5 2.5h0"/><path stroke="#00c6ff" d="M141 5.5h0m-74.5-4.5h0m125.5 69h0m-141.5-49h0m142.5 52h0m-159.5-53l5 1.5m150 54.5h0m-5.5 11h0m-149.5-23.5h0m69 27.5h0m-55.5 5h0m-13-2l3 1m3 4h0m26.5 9.5l2.5 1m8 3l2.5 .5m-12.5-2h0m.5 3h0m13 4.5h0m-33.5-9.5h0m23.5 8.5l2.5 1m-26-7h0m24 9l5 1.5m29 11h0m-44-14l5 2m.5 3h0m-4.5 .5h0m36.5 13.5h0m9.5 11h0m-7.5 0h0m-67.5-22h0m44.5 16l2.5 1m17.5 14h0m-51.5-13.5h0m36.5 13.5h0m66 23.5h0m-104-30h0m100 36.5h0m-126-35.5h0m123.5 47.5h0m.5 2.5h0m-41.5-10h0m-24 17h0m5.5 2h0m-12.5-2h0m7.5 2.5l1 .5m-63-18h0m-4.5 16.5h0"/><path stroke="#aaff55" d="M214 1.5h0m-2 1.5h0m5 2l3 1m-20.5-5l2.5 1m-17 1.5h0m-12.5-2h0m5 2l5.5 1.5m-23-3h0m8 3h0m-45-3.5h0m3.5 3.5h0m-19.5-4.5h0m85.5 31.5h0m-86.5-29l3 1m-10-1h0m5 1.5h0m84.5 31h0m-99.5-34h0m10.5 4h0m-7.5 0l2.5 1m-23-6h0m5 2l2.5 1m5.5 1.5h0m-10-1h0m-21.5 2.5h0m-4 6h0m3 4h0m-12.5-2h0m10.5 3.5h0m97.5 76.5h0m-5 1l8 2.5m-22.5-3h0m7.5 3h0m17 24h0m-78.5-26h0m50 18h0m26 9.5h0m-23-6h0m13.5 8h0m12 12l3 .5m-18-3.5h0m-100.5-11l2.5 1m19.5 24.5h0m31.5 11.5h0m-7.5 0h0m-71.5 35.5h0m-.5 9.5h0m4.5 2h0m-4.5 1h0"/><path stroke="#ff1c00" d="M216 12h0m.5 3h0m-105.5 69h0m53 21.5h0m-133.5-46l2.5 1m133 69h0m-32 14h0"/><path stroke="#1cffe3" d="M145.5 2l2.5 1m-20-2.5h0m5 2h0m66 24l2.5 1m-70.5-23h0m-15-.5h0m-82 11h0m-.5 2.5h0m-3 34.5h0m125.5 48h0m-36-8h0m-7.5 0h0m8 3h0m-88-24.5h0m114.5 49.5l2.5 1m-4 3.5h0m-76-12.5h0m8 3h0m-18-4h0m15.5 6h0m-25-4.5h0m8 3h0m42 15.5h0m-52-14h0m11 4h0m36.5 13.5h0m8 3h0m-43.5-11h0m-23.5-6h0m5.5 2h0m50 18h0m.5 3h0m10.5 4h0m-70.5-23.5h0m7.5 3h0m45 16.5h0m21 7.5h0m-70.5-23h0m55 20h0m-20.5-5l5.5 2m-53-17h0m50.5 18.5h0m-51.5-16l5 1.5m42 15.5h0m-12.5-2h0m36.5 13.5l3 1m-23.5-6h0m-17.5-1.5h0m-2 2h0m-31-9h0m13.5 7.5h0m-10-1h0m-4.5 1h0m123.5 45h0m-45.5-6.5h0m-85.5 2h0m1.5 8.5h0m-1 7h0"/><path stroke="#8e0000" d="M200 3.5h0m14.5 13l2.5 1m-50 104.5h0"/><path stroke="#ff7100" d="M216 20h0m-34.5 74l1.5 1m-3.5 1h0m-4.5 1h0m-60.5-6.5h0m45.5 19h0m-74-14.5h0m-15 0h0m-4.5 .5l2.5 1m-2 2h0m78 36l2.5 1m-13-2h0m-124 69.5h0"/><path stroke="#0000e3" d="M35.5 33.5h0m-3 1.5l1 0m-1.5 4.5h0m0 3l3 1"/><path stroke="#00aaff" d="M146 4.5h0m36 36h0m-4 6.5h0m13 17.5l2.5 1m2 3h0m-5.5 3h0m-152-52.5l2.5 1m150 54.5h0m-149.5-52h0m150.5 55h0m-76.5 15.5l3 1m-17 1.5h0m-70.5-23h0m68 24.5h0m46 22h0m-112.5-38.5h0m29.5 16h0m-17-1h0m65.5 23.5h0m-70.5-23h0m21.5 10.5h0m-31-9h0m14.5 13h0m-1.5 4.5h0m3 4l10.5 4m37 13l2.5 1m-54.5-17h0m13 4.5h0m42 15.5h0m-14 2.5h0m-44.5-13.5h0m66.5 26.5h0m-2 4.5h0m.5 2.5h0m-59.5-16.5h0m-6.5 5.5h0m-4.5 1h0m-1.5 4.5l2.5 1m56 51h0m-9.5 1.5h0m-13-2h0m8 2.5h0m-10-1h0m-53.5-17h0m52.5 19.5h0"/><path stroke="#0039ff" d="M177 54h0m5 2h0m-2 2l8 2.5m-154.5-10h0m55 45.5h0m-59.5-19l2.5 1m52.5 19h0m-56.5-18h0m54.5 19.5l2.5 1m-54.5-14.5h0m-2.5 1.5h0m61 22.5h0m-54.5-17.5h0m55 20h0m-7.5 0l8 3m-7.5-.5h0m-56-12.5h0m132.5 55.5h0m-4.5 1l2.5 1m-128.5-44h0m126.5 46h0m-18-4h0m16 5.5l4 1.5m-6.5 .5h0m-23-6h0m27 10h0m-29-8l5 2m21 7.5l2.5 .5m-48-9.5h0m17 14h0m-52-16.5h0m50 18h0m-57.5-18h0m56 22.5l2.5 1m-76-25h0m71 26h0m5.5 2h0m-73-24h0m-20.5-2.5h0m79 29l5.5 1.5m-10-1h0m10.5 4h0m-10-1h0m3.5 6.5h0m29 10.5h0m5 1.5h0m-120.5-41h0m108.5 42h0m5.5 2h0m-7 0h0m-33-2h0m5 2h0m-42-2.5h0m-14.5-.5h0m-10-1h0"/><path stroke="#00e3ff" d="M143 3.5h0m-4.5 1h0m-5 .5h0m50.5 34h0m-1.5 4.5h0m9 23.5l2.5 1m0 2.5h0m-5 8.5l1.5 .5m-75 16h0m56 23h0m-141.5-49h0m34.5 28h0m-23-3h0m.5 2.5l5.5 2m13 5l2.5 .5m13.5 5h0m81.5 29.5h0m-120.5-41h0m24 11h0m13 5h0m1 5.5h0m-12.5-2h0m34 12.5h0m5.5 2h0m-33.5-10h0m23.5 8.5h0m5 2l3 1m-36.5-10.5h0m26.5 9.5h0m-31-9h0m31.5 11.5h0m-39-11.5h0m-13-2h0m47.5 17.5l2.5 .5m5.5 2h0m-10-1h0m21 7.5h0m-18-4h0m10.5 4h0m3 4l3 .5m-18-3.5l8 2.5m7.5 3h0m-12.5-2l2.5 1m-7 0h0m15.5 5.5h0m-2 2l2.5 .5m45.5 19.5h0m-76-25.5h0m76.5 28l3 1m-105.5-35.5h0m16 5.5h0m87 31.5h0m-92-30.5h0m92.5 33.5h0m-110-35h0m106.5 46.5h0m-50 7.5h0m-22-.5l2.5 1m-65 2h0"/><path stroke="#ff0000" d="M31 57h0m-1.5 2.5h0m139.5 71h0m-37 2h0m3.5 6.5h0"/><path stroke="#0000ff" d="M32.5 24.5h0m4 1.5h0m-2 2l2.5 1m-4 1l2 .5m-2 2h0m3 3.5h0m-4.5 1l2.5 1m.5 2.5h0m-3 4l4 1.5m-4.5 1l2 1m-7.5 58.5l1 .5m-1.5 1.5l7.5 3m-5 .5l3 1m106.5 46.5h0m5.5 2l2.5 1m-5 1h0m-20-2.5l5.5 2m-15.5-3l2.5 1m5.5 2l5 2m26.5 9.5h0m-41.5-12.5l10.5 3.5m33 12h0m-21 0h0m-5 1l3 1m-63-20l3 .5m57.5 21.5h0m-65-21.5l5 2m48.5 22.5h0m-2 2l2.5 1m-9.5 1.5h0m-78.5-26h0m84 30.5h0m.5 3h0m30 16h0m-126-43.5l5.5 2m103 37.5l2.5 1m-111.5-38l4 1.5m97.5 35.5l5 2m-106.5-36.5h0m96.5 35l5.5 2m-102.5-34.5h0m97.5 35.5l1.5 .5m-100-34h0m86 31.5l2.5 1m-88-29.5l1.5 .5m.5 2.5h0m76.5 28h0m-76-25h0m-2 1.5l2.5 1m-4 1l2 1m37.5 16l2.5 1m-2 2l4.5 1.5m-20-4.5h0m-2 1.5h0m-7.5 0l8 3m-7 0h0m-8-.5l1 .5"/><path stroke="#e30000" d="M30.5 54.5h0m2 3.5h0m137 65h0m-2 2l2.5 1m-2 1.5h0m-39 14h0"/><path stroke="#ffaa00" d="M174.5 94h0m5.5 4.5h0m-69.5-17.5h0m-2 2h0m58 36.5h0m6 2h0m-61-7h0m47.5 17.5l2.5 1m-52-16.5h0m40 17l2.5 1m-26.5 3h0m8 3l2.5 1m-4 3.5h0"/><path stroke="#c60000" d="M218.5 15.5h0m-186.5 39.5h0m132.5 53.5h0m-2 1.5h0m8.5 13.5h0m-.5 5h0"/><path stroke="#00ffff" d="M150.5 3.5l2.5 1m-22.5-3h0m53 34.5l2.5 1m-6.5 5.5h0m-117.5-40.5l2.5 1m113 41l2.5 1m-129-34h0m1.5 8h0m-17.5-1h0m157.5 57h0m-163-13l1.5 .5m-2.5 6.5h0m111.5 53.5h0m15 13h0m-89-30h0m14 10.5h0m-15.5-3h0m14 7.5h0m-18-4h0m45 19h0m-44-13.5h0m39.5 14.5h0m.5 2.5h0m-59-14h0m-5 1h0m52.5 19h0m-12 1h0m6 4.5l2.5 1m61.5 35h0m-100.5-34l2.5 1m95 37l2.5 1m-4.5 1l3 1m-126-43.5l2.5 1m123.5 45h0m-45.5-6h0m-84.5 7.5h0m-4 1l2 .5"/><path stroke="#0055ff" d="M174 50.5l2.5 1m1 5.5h0m13 4.5l5.5 2m-18-4h0m-139-35l2.5 1m148 56h0m-1.5 2.5h0m-.5 2h0m-74.5 9h0m36 23h0m-67.5-22h0m-2.5 2h0m-51-14h0m23 8.5h0m.5 3l3 1m31.5 11.5h0m-57.5-18.5h0m55 20l3 1m-60-14h0m-.5 2.5h0m130 57.5h0m-34.5-2.5l2.5 1m21.5 10.5h0m5 1.5h0m-45.5-9h0m43 21l2 1m-70-23h0m-52-1h0m3.5 3.5h0m-2.5 2h0m58.5 49l2.5 1m-4.5 1h0m-25.5-4.5h0m.5 3h0m-42.5-2.5h0m-4 3.5h0"/><path stroke="#ff5500" d="M177 95h0m-63-7.5h0m50.5 33.5h0m-14.5 15.5h0m-2 1.5h0m-15.5-3h0m-77.5 5h0m-44.5 60.5l1.5 .5"/><path stroke="#ff8e00" d="M36.5 10.5h0m144.5 81l3.5 1m-7 5.5h0m-8.5 22.5h0m-10-1.5h0m3.5 4h0m-91-25.5h0m37.5 16.5h0m5.5 1.5h0m-2.5 2h0m19.5 25h0m-2 1.5h0"/><path stroke="#008eff" d="M64.5 .5h0m131.5 66h0m-150.5-45h0m-9.5 2h0m150.5 57h0m-1 7.5h0m-157-16.5h0m4.5 2h0m43 20.5h0m-48-12.5l1.5 1m27 12l2.5 1m-2 2l5 2m-30-3.5h0m31.5 11.5h0m-33-7h0m16 21l2.5 1m45 16.5h0m-60-19.5h0m10.5 4h0m-12.5-2h0m50 33.5h0m5.5 2h0m62.5 25.5h0m-82-25h0m-28.5-8h0m18.5 7h0m-23.5-6h0m13.5 5h0m5 1.5h0m-22.5-3l2.5 1m111 48h0m-42.5-7.5h0m-19.5 13h0m-9.5 2h0m-10-1.5h0m5 2l3.5 1.5m-8-.5h0"/><path stroke="#8eff71" d="M222 7h0m-17.5-4h0m-12.5-2l2.5 1m-5 .5h0m-19.5-2h0m5 2h0m-5 .5l3 1m-24-3.5l1 .5m10.5 4h0m-18.5-4.5h0m-21 2.5h0m-12.5-2h0m-15.5-.5h0m8.5 3h0m84 31h0m-99-31h0m-4.5 1h0m-27 0h0m5 2h0m-4.5 1h0m-6 8h0m119.5 76.5h0m-10-1h0m8 3h0m-10-1h0m10.5 3.5h0m-10-1h0m-17.5-1h0m-5 .5l3 1m-34-9.5h0m26.5 9.5l2.5 1m-10-1h0m5.5 2h0m-5 .5h0m-32.5-4h0m35.5 20.5l2.5 1m16 5.5h0m-23.5-5.5h0m15.5 15.5h0m-85.5-23.5h0m5.5 2h0m.5 3l2.5 .5m0 28.5h0m1.5 8h0m-4.5 1h0m28.5 10.5h0m5.5 2h0m-71.5-18.5h0m5 4.5h0m-12 54l2.5 1"/><path stroke="#0071ff" d="M184.5 41.5h0m-8.5 7h0m-4.5 4l3 .5m.5 3h0m22.5 8h0m-149-41.5h0m-5 1l2.5 1m-12-2h0m153 61h0m-2 1.5h0m2 3.5h0m-155.5-36h0m-2.5 22l4.5 1.5m45 19h0m-49.5-15.5h0m47.5 17.5h0m-44-13.5h0m21.5 10h0m-5 1h0m16 5.5h0m-38.5-11h0m10 3.5h0m13 4.5h0m31.5 11.5h0m-54-17l4.5 1.5m-4.5 1l2.5 1m-2 2h0m.5 2.5h0m54 40h0m-40 11h0m18.5 7h0m-20.5-5l2.5 1m-24.5 3.5l.5 .5m121 44h0m-42.5 7.5h0m-10-1h0m5 1.5h0m-7.5 0h0m-68.5 .5h0"/><path stroke="#ffe300" d="M216 22.5h0m-23 12h0m-95.5 57.5h0m66.5 26.5h0m-4.5 3.5h0m7 10h0m-2 2h0m-5 .5h0m-93.5-.5l2.5 1m-2 1.5l2.5 1m-11.5 3.5h0"/><path stroke="#001cff" d="M185 57l5 2m-141-33.5h0m-5 1h0m-10-1.5h0m-1.5 2h0m-1.5 22.5h0m55.5 48.5h0m-56-10h0m54 27h0m-55.5-10h0m.5 2.5l2.5 1m-7 2.5h0m132.5 48.5h0m-133-46l1 .5m126.5 46h0m4 1.5h0m-17-3.5h0m8 3l2.5 1m-17.5-4l2.5 .5m5 2h0m8 3h0m5.5 2l2.5 1m-26-7l8 3m5.5 2h0m10.5 3.5h0m-4.5 3.5l4.5 2m-46-14.5h0m8 3h0m36.5 13.5h0m-2 1.5h0m-23-5.5h0m-2.5 1.5l5.5 2m-2 2h0m-9.5 1.5l2.5 1m3 3.5h0m-75.5-25l2.5 1m68.5 25h0m5 2h0m-73-24.5h0m71 26h0m-2 2h0m-15.5-3h0m10.5 3.5l2.5 1m-10-1l3 1m5 2h0m24 11.5l3.5 1m-121-41.5l2.5 1m79 28.5l5 2m31.5 11.5l2.5 1m-123-42.5l5.5 2m79 29h0m5 1.5h0m29 11h0m3.5 1h0m-118.5-40.5h0m102.5 37l13 5m-7.5 0h0m-7.5-.5h0m-107-36.5h0m92 33.5h0m10.5 4l1 .5m-103-35h0m84 30.5l8 3m-94.5-32l3 1m86.5 32l2 .5m-88-29.5h0m79 28.5h0m-83.5-27.5h0m-1.5 2l1.5 .5m-1 2h0m32 19.5l5.5 2m-10.5-1.5h0m5.5 2l5 2m-20.5-5h0m8 3l5.5 2m-20.5-5l2.5 1m-5 1l5.5 1.5m-7.5 0h0m-3 1.5h0"/></g><g fill="none" stroke-linecap="round" stroke-width="4.5"><path stroke="#0000ff" d="M150 13.5l2.5 1m-1.5 4.5h0m3 4l8 2.5m-62.5-4.5l18.5 6.5m13 5l10.5 4m-46.5-14.5l2.5 .5m16 6l2.5 1m21 7.5l16 6m-71-23.5l10.5 4m18.5 6.5l21 8m5.5 2l10.5 3.5m8 3h0m-73.5-24h0m5.5 2l29 10.5m5 2l10.5 3.5m5.5 2l8 3m-70.5-23h0m7.5 2.5l18.5 7m5.5 2l2.5 1m8 2.5h0m15.5 6h0m5.5 2h0m13 4.5l5.5 2m-86.5-29h0m13 5h0m24 8.5h0m8 3l5 2m34 12.5l5.5 1.5m-94-31.5l5 2m5.5 2h0m31.5 11.5l13 4.5m13 5l3 1m23.5 8.5h0m-99.5-33.5h0m5.5 1.5l10.5 4m10.5 4l5 2m18.5 6.5h0m5.5 2h0m5 2l8 2.5m5 2h0m8 3h0m18.5 6.5h0m-105-35.5l8 3m18.5 6.5h0m5.5 2h0m34 12.5l2.5 1m5.5 2l10.5 3.5m13 5h0m-99.5-33.5l10.5 3.5m21 8l8 2.5m26.5 10h0m5 1.5l3 1m7.5 3l10.5 4m-99.5-34l3 1m34 12.5l2.5 1m8 3l5.5 2m29 10.5l7.5 3m-103.5-35.5h0m4 1.5l5.5 2m23.5 8.5h0m18.5 7h0m10.5 3.5h0m26.5 10l8 2.5m-94.5-31.5l2.5 1m21 7.5h0m34.5 12.5h0m23.5 8.5h0m8 3h0m-91-30.5l4.5 1.5m13.5 5h0m5 2l5.5 1.5m10.5 4l5 2m10.5 4h0m18.5 6.5l2.5 1m-75.5-25h0m21 7.5h0m18.5 7l2.5 .5m-39-11.5h0m29 10.5l5 2m5.5 2h0m-44-13.5l2.5 1m5 2h0m16 5.5l8 3m-28.5-8l2.5 1m5.5 2h0m5 2h0m5.5 2h0m-13-2h0m5.5 1.5l2.5 1m-16.5-3.5l6.5 2.5m-7 0l2 1m57.5 31h0m-10-1h0m-55 28.5l1 .5m-1.5 1.5l7.5 3m-5 .5l3 1m106.5 46.5h0m5.5 2l2.5 1m-5 1h0m-20-2.5l13.5 5m-23.5-6l2.5 1m5.5 2l16 5.5m5 2h0m10.5 4h0m-41.5-12.5l13 4.5m5.5 2h0m5 2l3 1m5 2l2.5 1m5.5 1.5h0m4 1.5h0m-45.5-14h0m5 2h0m5.5 2l5 2m13 4.5h0m5.5 2h0m-28.5-7.5l5.5 1.5m15.5 6h0m5.5 2h0m-26-7h0m18.5 6.5l5 2m-62.5-20h0m31.5 11.5l5.5 2m15.5 5.5l8 3m-68-22l3 .5m57.5 21.5l3 1m-68-22.5l8 3m36.5 13.5l5.5 2m18.5 6.5l2.5 1m-78.5-26l13 4.5m8 3h0m34.5 12.5l2.5 1m-49.5-15.5l15.5 6m5.5 1.5h0m23.5 9h0m8 2.5h0m10.5 4h0m5.5 2h0m-57.5-18.5l10.5 4m29 10.5l2.5 1m8 3h0m5 1.5l3 1m-55-17h0m52.5 19l3 1m-84-28h0m29 10.5h0m29 10.5h0m23.5 8.5h0m5.5 2h0m-107.5-36.5h0m16 6l2.5 1m5 1.5h0m5.5 2h0m5.5 2h0m7.5 3h0m13.5 4.5h0m28.5 10.5h0m8 3h0m8 3l8 3m-107.5-36.5l5.5 1.5m5 2h0m10.5 4h0m13.5 5l10.5 3.5m39 14.5h0m8 3l3 1m5 1.5l2.5 1m-94-31.5l5 2m5.5 2h0m13 4.5l10.5 4m45 16h0m15.5 6h0m-89-30l16 6m5 1.5l11 4m34 12.5h0m5 2h0m29 10.5h0m-126-43.5l8.5 3m26 9.5h0m5.5 2l2.5 1m5 2l8 3m34.5 12.5l13 4.5m5.5 2l2.5 1m-111.5-38l6.5 2.5m5.5 2l5 1.5m26.5 10l8 2.5m39.5 14.5l15.5 6m-106.5-36.5h0m7 2.5l3 1m21 7.5l5 2m8 3h0m44.5 16.5h0m8 2.5l5.5 2m-102.5-34.5h0m21.5 7.5h0m5 2h0m5.5 2l10.5 4m55 20l1.5 .5m-100-34h0m12 4.5l16 6m5.5 1.5l7.5 3m8 3h0m37 13.5l2.5 1m-88-29.5l1.5 .5m26.5 9.5l8 3m10.5 3.5h0m5 2h0m-49.5-15.5h0m5.5 2l5 2m18.5 6.5l5.5 2m42 15.5h0m-76-25l5.5 2m5 1.5l3 1m13 5l8 3m5 2l3 .5m-44.5-13.5l5.5 2m7.5 3l3 1m10.5 4l2.5 .5m-30.5-8.5l7.5 3m10.5 3.5l7.5 3m5.5 2l13 4.5m-28.5-7.5l3 1m13 4.5l10.5 4m-33.5-9.5l5 1.5m5.5 2l5 2m5.5 2h0m10.5 4l4.5 1.5m-35.5-10.5l2.5 1m8 3h0m5 2h0m-18-4h0m16 5.5h0m-7.5 0l8 3m-7 0h0m-8-.5l1 .5"/><path stroke="#ff3900" d="M203 7.5h0m-56 71.5h0m.5 3l2.5 .5m-31.5 1.5h0m-78.5-26h0m13 5h0m60.5 22l3 .5m-5 1h0m-76-25h0m13.5 5l5 1.5m58 21.5h0m-19.5 .5h0m69.5 30h0m-32 14h0"/><path stroke="#1cffe3" d="M188.5 10h0m-12.5-2l2.5 1m8 2.5h0m13.5 7.5l2.5 1m-57-18l2.5 1m21 7.5l2.5 1m26.5 9.5l2.5 1m-18-4h0m13.5 4.5l5 2m-73-24h0m5 2h0m45 16.5l2.5 .5m5.5 2l5 2m8 3l2.5 1m-70.5-23h0m50 18l2.5 1m-2 1.5h0m-65.5-21h0m61 22h0m5 2l2.5 1m-68-22.5h0m66.5 27h0m-68-22.5h0m-10-1h0m8 3h0m52.5 19l2.5 1m10.5 4h0m-78-26h0m18 6.5h0m-36-10.5h0m5 2l3 1m13 4.5h0m47.5 17.5h0m-68-22.5h0m13 5l2.5 1m66 24h0m10.5 3.5h0m-99.5-33.5h0m5 2h0m-7 0l7.5 2.5m-10-1h0m-15-3h0m8.5 5.5h0m.5 3h0m-5 1h0m-26-4.5h0m-.5 2.5h0m128.5 49h0m-12 1h0m31.5 11.5h0m-17.5-1.5h0m.5 3h0m-26-7l3 1m15.5 5.5h0m-80.5-24h0m-2 1.5h0m23.5 9h0m-28.5-8h0m16 6h0m10.5 3.5l2.5 1m26.5 9.5h0m-63-20h0m26.5 9.5l2.5 1m5.5 2h0m21 7.5l2.5 1m21 7.5h0m-75.5-25h0m-35-10h0m33 14.5h0m92.5 33.5h0m-36-8h0m-7.5 0h0m8 3h0m-80.5-24.5h0m-7.5 0l2.5 1m37.5 16l2.5 1m-7.5 0h0m79.5 31.5l2.5 1m-4 3.5h0m-76-12.5h0m8 3h0m-18-4h0m15.5 6h0m-12.5-2.5h0m-12.5-2l2.5 1m5.5 2h0m42 15.5h0m-52-14h0m11 4h0m36.5 13.5l2.5 1m5.5 2h0m-43.5-11h0m-23.5-6h0m5.5 2h0m50 18h0m.5 3h0m10.5 4h0m-70.5-23.5h0m7.5 3h0m45 16.5h0m21 7.5h0m-70.5-23h0m55 20h0m-20.5-5l5.5 2m-53-17h0m50.5 18.5h0m-51.5-16l5 1.5m39.5 14.5l2.5 1m-12.5-2h0m7.5 3h0m16 5.5h0m13 5l3 1m-23.5-6h0m-17.5-1.5h0m39.5 14.5h0m-41.5-12.5h0m-31-9h0m55 20.5h0m-41.5-13h0m-10-1h0m113 41.5h0m-117.5-40.5h0m68 25h0m55.5 20h0m-52-16.5h0m-2.5 2h0m4 6.5h0m5 1.5h0m-5 13.5h0m-80.5-11.5h0m1.5 8.5h0m-1 7h0"/><path stroke="#ffff00" d="M209.5 2h0m-30-.5h0m35 23h0m-3.5 1.5h0m-110-25h0m18.5 6.5h0m-2 4.5h0m-82.5 .5h0m122.5 57.5h0m16.5 21.5h0m-2.5 1.5h0m.5 3h0m-132.5-41h0m102.5 37.5l2.5 1m-38.5-11.5h0m-13 10.5h0m5 2h0m57.5 31h0m-9 4.5h0m-6.5 5h0m-7 3h0m-98.5-15.5h0m37 13.5h0m-19 6h0"/><path stroke="#001cff" d="M162 13h0m-20.5-5l16 6m-18-4l8 3m7.5 2.5l3 1m10.5 4h0m-28.5-8l5 2m5.5 2l8 3m-20.5-5h0m5 2l5.5 1.5m5 2l5.5 2m-15.5-3l8 3m-5 .5l10.5 4m-12.5-2h0m-20.5-5h0m-19.5 .5l36.5 13.5m-44-13.5h0m47.5 17h0m-55-17l2.5 1m63.5 23h0m-20.5-5h0m50 18l5 2m-112.5-38.5h0m81.5 29.5h0m-91-28h0m94.5 34.5h0m-99.5-33.5h0m100 36.5h0m-104.5-35.5h0m73.5 26.5h0m31.5 11.5h0m-110-37.5h0m74 27h0m-78.5-26l2.5 1m-7.5 0h0m45 16l2.5 1m47.5 17l5 2m-110-37.5h0m97.5 35.5h0m8 3l2.5 1m-109.5-37.5h0m86 31.5l3 1m5 2h0m-15-3l10.5 3.5m-39-11.5h0m26 9.5h0m5.5 2h0m-41.5-12.5h0m5 2h0m34.5 12.5h0m-57-15.5l5 1.5m-10-1h0m-10-1h0m-4.5 1l2.5 1m-7.5-.5h0m59 26.5l5 2m-15-3l8 3m5 2h0m-20.5-5l5.5 2m5 2l5.5 1.5m-15.5-3l5.5 2m5 2h0m3 16.5h0m-56-10h0m54 27h0m-55.5-10h0m.5 2.5l2.5 1m-7 2.5h0m132.5 48.5h0m-133-46l1 .5m126.5 46h0m4 1.5h0m-17-3.5h0m8 3l2.5 1m-17.5-4l2.5 .5m5 2h0m8 3h0m5.5 2l2.5 1m-26-7l8 3m5.5 2h0m10.5 3.5h0m-20.5-4.5h0m3 3.5l2.5 1m5.5 2l9.5 3.5m-46-14.5h0m8 3h0m21 7.5h0m5 2l5.5 2m5 2h0m-28.5-8h0m5.5 2h0m8 3h0m8 3h0m5 1.5h0m-26-6.5l8 2.5m5.5 2h0m-31-8.5l2.5 1m10.5 3.5l10.5 4m5 2h0m-60-19.5h0m32 11.5l2.5 1m5 2l5.5 2m8 3h0m-15.5-3l2.5 .5m-10-1l16 6m10.5 3.5l2.5 1m-75.5-25h0m55 20l2.5 1m8 3h0m-75.5-25l2.5 1m52.5 19l2.5 1m8 3h0m5.5 2h0m5 2l8 2.5m-86.5-28.5h0m5.5 1.5l8 3m50 18.5l2.5 1m10.5 3.5h0m5 2h0m-86-29l13 5m13 4.5l3 1m34 12.5l5.5 2m10.5 4h0m5 2h0m-83.5-28l10.5 3.5m5 2h0m13.5 5l2.5 1m5 2l3 .5m23.5 9h0m10.5 3.5l2.5 1m5.5 2l2.5 1m8 3h0m-89-30h0m5 2l3 1m5 2h0m8 2.5l5.5 2m7.5 3h0m29 10.5l3 1m5 2h0m5.5 2l5 1.5m-97-32.5l10.5 4m8 2.5h0m5.5 2h0m5 2h0m5.5 2l2.5 1m5.5 2l7.5 2.5m34.5 12.5l2.5 1m5.5 2l2.5 1m13 5l6 2m-121-41.5l2.5 1m10.5 3.5h0m5 2l5.5 2m10.5 4l2.5 1m21 7.5l3 1m21 7.5l5 2m5.5 2l2.5 1m8 3h0m8 2.5l10 4m-123-42.5l13.5 5m15.5 5.5l8 3m16 6h0m31.5 11.5h0m5 1.5l2.5 1m5.5 2l10.5 4m5.5 2h0m5 2h0m3.5 1h0m-118.5-40.5l10.5 3.5m5 2h0m21 8h0m16 5.5l2.5 1m26.5 9.5h0m5 2h0m5.5 2l23.5 8.5m-112.5-38.5h0m8 3h0m5 2l8 2.5m5 2h0m8 3h0m13.5 5l5 1.5m23.5 9h0m18.5 6.5h0m10.5 4h0m-107-36.5h0m23.5 8.5h0m5 2l3 1m13 4.5h0m10.5 4h0m23.5 8.5h0m21 7.5h0m-107-36.5l2.5 1m8 3l10.5 4m5 2h0m10.5 3.5l3 1m5 2l16 5.5m29 11l2.5 .5m10.5 4l1 .5m-103-35l15.5 5.5m5.5 2h0m5 2h0m16 6l13 4.5m8 3h0m21 7.5l8 3m-94.5-32l8 3m21 7.5h0m13.5 5l2.5 1m5 2l5.5 2m34 12.5l2 .5m-88-29.5l2.5 1m8 2.5l10.5 4m58 21h0m-83.5-27.5h0m5 1.5h0m10.5 4l2.5 1m5.5 2l5 2m21 7.5h0m-51-16l1.5 .5m18.5 6.5l8 3m13 5h0m-40.5-12.5h0m20 7.5l5.5 2m7.5 2.5l13.5 5m-36.5-10.5l5 1.5m13.5 5h0m-18-4l2.5 1m8 3h0m-15.5-3h0m21 7.5h0m5.5 2l5.5 2m-31.5-9h0m8 3l2.5 1m5.5 2h0m5 1.5h0m5.5 2l5 2m-28-7.5l7.5 2.5m8 3l5.5 2m-20.5-5l2.5 1m-5 1l5.5 1.5m-7.5 0h0m-3 1.5h0"/><path stroke="#e3ff1c" d="M205 .5h0m9.5 3.5h0m-7.5 0l3 1m7.5 2.5l3 1m-33.5-7h0m32 12h0m-42-13h0m5.5 2h0m5 2l2.5 1m-4.5 .5h0m24 11.5h0m3.5 4h0m-2.5 1.5l3 1m-92-18h0m-25-1.5h0m-62 5.5h0m4.5 1.5h0m-2 2h0m123.5 57.5h0m-14.5 2.5h0m-25.5 8.5h0m18.5 7h0m-81-27h0m-2 1.5h0m47.5 20h0m16 6h0m-27.5-2.5h0m8 3h0m.5 2.5h0m-5 1h0m-18-4h0m16 6l2.5 1m72 36h0m-17-3.5h0m-25 11.5h0m.5 2.5h0m-38.5 16.5h0"/><path stroke="#00ffff" d="M186 9h0m-5 1h0m8 2.5l2.5 1m-12.5-2h0m18.5 6.5h0m-47-14.5l8 3m8 3h0m13 5h0m16 5.5h0m-20.5-5l5 2m8 3l5 2m-62.5-20.5h0m42 15.5h0m10.5 3.5h0m13.5 5h0m-18-4h0m-47-14.5h0m45 16.5h0m3 3.5h0m-65-18.5h0m16.5 8.5h0m42 15.5l2.5 1m5.5 1.5l5 2m-78.5-26l3 1m15.5 6h0m-4.5 .5h0m36.5 13.5h0m21 7.5h0m-73-24h0m50 18.5h0m23.5 8.5h0m-117.5-40.5l2.5 1m13 5h0m10.5 3.5h0m13.5 5h0m60.5 22h0m15.5 5.5l2.5 1m-88.5-29.5h0m73.5 26.5l2.5 1m5.5 2h0m-84-28h0m-12.5-2h0m89.5 32.5h0m-115-36.5l3 1m5 2l2.5 1m5.5 1.5h0m-10-1h0m10.5 4h0m-15-.5h0m127 49h0m-144.5-50h0m137 49.5h0m5.5 2h0m15 5.5h0m-7 0h0m-33.5-9.5h0m34 12.5h0m-10-1l3 1m-13-2h0m-32.5-4.5l2.5 1m39.5 14.5h0m-97-33h0m5.5 2h0m55 20h0m16.5 8.5h0m-68-22l5.5 2m55 20h0m-76-25l3 1m7.5 3h0m63.5 23h0m5 1.5h0m-68-22h0m29 10.5h0m39.5 14.5h0m-96.5-33h0m13 5h0m15.5 6l5.5 1.5m-36.5-10.5h0m10.5 4h0m16 5.5h0m8 3h0m-39-11.5h0m74 29.5h0m-92.5-28.5l1.5 .5m5.5 4.5h0m6 4.5h0m-14-2.5h0m9 3.5h0m19 9.5h0m8 3l2.5 .5m-15-3h0m13 5h0m5.5 2h0m-23.5-6h0m10.5 4h0m82.5 35h0m8 3h0m7 10h0m-89-30h0m14 10.5h0m-15.5-3h0m14 7.5h0m-18-4h0m5 2h0m40 17h0m-44-13.5h0m39.5 14.5h0m.5 2.5h0m-59-14h0m-5 1h0m52.5 19h0m-12 1h0m6 4.5l2.5 1m-12 3.5h0m26.5 9.5h0m-23-6h0m-2.5 2h0m68.5 25h0m4 1h0m-100.5-34l2.5 1m23.5 8.5h0m6 5h0m15.5 5.5h0m42 15.5l10.5 3.5m-7 0l5.5 2m-126-43.5l2.5 1m71 26l2.5 1m50 18h0m-52-16l2.5 .5m42 15.5h0m-51.5-13.5h0m8 3h0m.5 2.5l5 2m-10-1h0m8.5 5.5h0m-15-3h0m10.5 3.5h0m-2.5 2h0m5.5 2h0m-12.5-2h0m1 5.5h0m5 2h0m-2 1.5h0m-73-8.5h0m-4 1l2 .5"/><path stroke="#c6ff39" d="M212 .5h0m-5.5 .5h0m-8.5-.5h0m23.5 8.5h0m-6 .5h0m-31.5-9h0m9 6h0m-5 .5h0m-22.5-3h0m-42 0h0m74 27h0m-2.5 1.5h0m-95-32h0m3.5 1.5h0m84.5 30.5h0m-92-30.5h0m32 11.5h0m63 23h0m-99.5-34l2.5 1m-4.5 1h0m5.5 4.5h0m73.5 27h0m-113.5-18.5h0m102 50h0m23.5 21.5l3 .5m-12.5 1h0m-1.5 4.5h0m-109.5-35h0m-15-3h0m13.5 7.5h0m48 20h0m39 14.5l3 1m-20 13l3 1m-7 3h0m17.5 16.5h0m-87.5-21.5h0m38.5 49.5h0m-33.5-9.5h0m-40-4.5h0m-6.5 59h0"/><path stroke="#00aaff" d="M146 4.5h0m15.5 6h0m5.5 1.5h0m3 4h0m3 3.5h0m.5 3h0m-41-10h0m37.5 16h0m-9.5 2h0m21.5 10h0m-73.5-24l5.5 2m32 14h0m8 3h0m-57.5-18h0m52.5 19l5.5 2m23.5 8.5h0m-4.5 1h0m-94.5-32h0m81.5 29.5h0m8 3h0m-91.5-30.5h0m-5 .5h0m119 46l2.5 1m-7 0h0m9 3h0m-19-4.5l2.5 1m5 2h0m5.5 2h0m-7.5 0h0m8 2.5h0m-152-52.5l2.5 1m129 47h0m21 7.5h0m-149.5-52h0m113 41h0m13 5l8 3m16.5 6h0m-16-3.5l3 1m-7.5 0h0m.5 2.5l8 3m5 2h0m-88.5-27l2.5 1m39.5 14h0m-49-12.5h0m5.5 2h0m-7.5 0l5.5 1.5m-21-4.5h0m-15-3.5h0m8 3h0m-15.5-3h0m50 18.5h0m-57.5-18.5l3 1m52.5 19h0m10.5 4h0m-36.5-11h0m-2 2h0m13 5h0m-46-9l3 .5m5 2h0m71 26l3 1m-63-20.5h0m-4.5 1l2.5 1m-7.5 0l2.5 1m53 19h0m-70.5-23h0m18 6.5h0m50 18h0m-44-13.5l2.5 1m-15-3h0m7.5 3l3 1m21 7.5h0m71 26h0m-112.5-38.5l2.5 1m10.5 4h0m18.5 6.5h0m-5 1l5.5 2m-2.5 1.5h0m-20.5-5h0m3.5 4h0m65.5 23.5h0m-70.5-23h0m21.5 10.5h0m-31-9h0m38 19h0m-23.5-6h0m-1.5 4.5h0m3 4l10.5 4m37 13l2.5 1m-54.5-17h0m13 4.5h0m42 15.5h0m-14 2.5h0m-44.5-13.5h0m66.5 26.5h0m-2 4.5h0m.5 2.5h0m-59.5-16.5h0m97.5 35.5h0m-2 2h0m-36.5-11h0m34 12.5h0m-99.5-33.5h0m50 18h0m-54.5-17h0m8 2.5l2.5 1m-2 2h0m-10-1l2.5 1m52.5 19h0m13 4.5l3 1m34 12.5h0m-50.5-8h0m-1 7h0m15.5 6h0m-1 7h0m-15.5-3h0m-4.5 1h0m10.5 4h0m-18-4h0m-7.5-.5l5.5 2m10.5 4h0m-15.5-3l2.5 1m8 2.5h0m-10-1h0m-53.5-17h0m52.5 19.5h0"/><path stroke="#aa0000" d="M202.5 4.5h0m12.5 15h0m-180.5 36.5h0m127.5 51.5h0m-75-19.5l3 1m.5 2.5h0m-9.5 2h0"/><path stroke="#0039ff" d="M146.5 7.5l5 1.5m8 3h0m.5 3h0m5 1.5h0m-4.5 1l5 2m-28-8h0m10.5 4h0m13 5l8 2.5m-28.5-7.5h0m21 7.5l5 2m-28-8l2.5 1m23.5 8.5h0m-25.5-6.5l5 2m16 5.5l2.5 1m-26-7h0m5.5 2h0m5 2l5.5 2m-26-7l5.5 2m-13-2l8 3m-15-3l10.5 3.5m13 5l5.5 2m6 7h0m5.5 2h0m-65.5-21h0m71 25.5h0m19 9.5h0m5 2h0m-107-36.5h0m105 38.5l8 2.5m-115.5-39h0m87 31.5h0m6 4.5h0m.5 3h0m-110.5-37.5h0m111 40h0m-115.5-39.5h0m105 38.5h0m-7 0h0m-15-.5l2.5 1m-4.5 1l8 2.5m-49.5-15.5l2.5 1m8 3h0m23.5 8.5h0m13 5h0m-25.5-7h0m5 2h0m8 3h0m47.5 17l2.5 1m-65.5-21h0m5.5 2l2.5 1m-52-16.5l5 2m37 13l2.5 1m5.5 2h0m8 3h0m-60-19.5h0m44.5 16.5l10.5 4m-65-21.5h0m55 20l5.5 2m7.5 3h0m-78-26l2.5 1m60.5 22l2.5 1m5.5 2h0m-7.5-.5h0m-73.5-24h0m66.5 27h0m-12.5-2.5h0m10.5 4h0m-2.5 2h0m-28-8l2.5 1m21 7.5h0m-20.5-5h0m10.5 4h0m10.5 4h0m-20.5-5l8 3m-21-5h0m-22-.5l2.5 1m50 18h0m-59.5-19l2.5 1m52.5 19h0m-56.5-18h0m54.5 19.5l2.5 1m-54.5-14.5h0m-2.5 1.5h0m61 22.5h0m-54.5-17.5h0m55 20h0m-7.5 0l8 3m-7.5-.5h0m-56-12.5h0m132.5 55.5h0m-4.5 1l2.5 1m-128.5-44h0m126.5 46h0m-18-4h0m16 5.5l4 1.5m-6.5 .5h0m-23-6h0m21 8h0m6 2h0m-29-8l5 2m5.5 1.5l18 6.5m-12.5-1.5h0m-35.5-8h0m37 16h0m-20-2h0m-52-16.5h0m47.5 17l2.5 1m-57.5-18h0m56 22.5l2.5 1m5 2h0m-81-27h0m39.5 14.5h0m31.5 11.5h0m5.5 2h0m-78.5-26h0m5.5 2h0m55 20h0m-47-14.5l8 3m68.5 24.5h0m-105-35.5h0m8 3l2.5 1m16 5.5h0m8 3l5 2m39.5 14.5l5.5 1.5m8 3h0m-89-29.5h0m7.5 2.5l3 1m13 5h0m5.5 2l2.5 1m10.5 3.5h0m8 3h0m21 7.5h0m10.5 4h0m5 2h0m18.5 6.5h0m-33.5-9.5h0m-52.5-16.5h0m24 8.5l2.5 1m-2 2l5 1.5m26.5 10h0m29 10.5h0m5 1.5h0m-120.5-41h0m16 5.5h0m44.5 16.5h0m-52-16.5l2.5 1m5.5 2h0m44.5 16h0m47.5 17.5h0m5.5 2h0m-99.5-34l10.5 4m5 2h0m21 7.5l5.5 2m5 2h0m45.5 16.5h0m-87-29h0m39.5 14h0m-5 1l3 1m-54.5-14.5l2.5 1m42.5 15h0m26 9.5h0m5 2h0m-65-21h0m27 12h0m-43.5-8l3 1m15.5 6l5.5 1.5m15.5 6h0m-14.5-.5h0m-10-1h0m-13-2h0"/><path stroke="#ff7100" d="M216 20h0m-64.5 55.5h0m30 18.5l1.5 1m-3.5 1h0m-4.5 1h0m-60.5-6.5h0m45.5 19h0m-74-14.5h0m-15 0h0m-4.5 .5l2.5 1m-2 2h0m78 36l2.5 1m-13-2h0m-3.5 6h0m-120.5 63.5h0"/><path stroke="#0071ff" d="M148.5 5.5h0m8 3l2.5 1m-22-.5h0m-2 4.5h0m.5 2.5h0m4.5 9.5l2.5 1m42 15h0m-68-22h0m13 4.5h0m5.5 2h0m-26-6.5h0m16 5.5l2.5 1m-33-7h0m60.5 22h0m21 7.5h0m-94.5-31.5h0m89.5 32.5h0m-10-1h0m8 3l5.5 1.5m-10-1h0m10.5 4h0m22.5 8h0m-30-8l2.5 1m5.5 1.5h0m-110-37.5h0m105 38.5h0m8 3h0m-130-40h0m115.5 42.5l3 1m-123.5-42.5l2.5 1m105.5 38.5h0m-117.5-40.5h0m112.5 41h0m-4 3.5h0m44.5 16.5h0m-46.5-14.5h0m44.5 16h0m-97-32.5l3 1m13 5h0m26.5 9.5h0m5 2h0m51.5 18.5h0m-103.5-35h0m18.5 6.5h0m21 7.5h0m-49.5-15.5h0m23.5 9h0m5.5 2h0m23.5 8.5h0m-57.5-18.5h0m55.5 20h0m-63-20h0m-12.5-2h0m68.5 25l5 1.5m-12.5-2h0m-73-24h0m63 23h0m5.5 2h0m-73.5-24h0m60.5 22h0m5.5 2h0m-28-5.5l5 2m24 9h0m-34-10h0m29.5 13.5l2.5 1m-36-11l5 2m-2 2h0m13 4.5l3 1m-23.5-6l5.5 2m15.5 6h0m-33.5-10h0m-14.5-2.5l4.5 1.5m8 3h0m-5 .5h0m42 15.5h0m-49.5-15.5h0m18.5 7h0m10.5 3.5l2.5 1m16 6h0m-44-13.5h0m5 1.5l2.5 1m5.5 2l2.5 1m-15-3l2.5 1m18.5 6.5h0m-15.5-3h0m8 3l2.5 1m16 5.5h0m-38.5-11h0m10 3.5h0m13 4.5h0m31.5 11.5h0m-54-17l4.5 1.5m-4.5 1l2.5 1m-2 2h0m.5 2.5h0m54 40h0m-9.5 17h0m66 24h0m-96.5-30h0m18.5 7h0m-20.5-5l5 2m58 21h0m-64.5-16h0m-20.5-2.5l.5 .5m121 44h0m-54.5-17.5h0m-1.5 4.5h0m17.5 17h0m-25.5-4.5h0m5.5 2h0m16 6h0m-15.5-3h0m5.5 2h0m5 1.5h0m-26-6.5h0m18.5 6.5h0m-22.5-3h0m-46 3.5h0"/><path stroke="#0055ff" d="M154 10l3 1m8 3l2.5 1m-5 1h0m5.5 1.5h0m-32 1.5h0m29 10.5h0m-33.5-10l2.5 1m5.5 2h0m15.5 6h0m-20.5-5l2.5 1m8 2.5h0m-12.5-2h0m8 3h0m-10.5-1l3 1m10.5 4h0m-41.5-13h0m42 15.5h0m5.5 4.5h0m-65-21h0m89.5 32.5l2.5 1m-97-32.5h0m79 28.5h0m3 3.5h0m16 6h0m13 4.5l5.5 2m-34-9.5l3 1m7.5 2.5h0m5.5 2l2.5 1m-12.5-2h0m5 2l3 1m-115.5-39.5h0m108 39.5l2.5 .5m-2 2h0m-10-1h0m-120-38.5l2.5 1m148 56h0m-60-19h0m58.5 21.5h0m-92.5-31.5l2.5 1m5.5 2h0m23.5 8.5l8 3m37 13.5l10.5 4m5 1.5h0m-102-34.5h0m21 7.5h0m13 5l3 1m5 2h0m5.5 2h0m36.5 13h0m8 3h0m-96.5-32.5h0m23.5 8.5l2.5 1m13 4.5h0m5.5 2l2.5 1m-23-6h0m8 3h0m5 2l2.5 1m-54.5-17.5h0m39.5 14.5h0m15.5 5.5h0m-65-21l2.5 1m5.5 2l2.5 1m39.5 14h0m10.5 4l2.5 1m-15-3h0m7.5 3h0m-70.5-23.5h0m60.5 22.5l3 .5m-2.5 2h0m-7.5 0h0m-17-1.5h0m16 8.5l2.5 1m-31-8.5l3 1m18 6.5l3 1m-20.5-5h0m13 5h0m31.5 11.5h0m-52-16.5h0m5 2h0m-12.5-2.5h0m95.5 40h0m-115-39.5h0m47.5 17.5h0m-28.5-8h0m26 10h0m-36-11h0m-15-3h0m23 8.5h0m-17.5-4l2.5 1m15.5 6l3 1m31.5 11.5h0m-57.5-18.5l2.5 1m52.5 19l3 1m-60-14h0m-.5 2.5h0m130 57.5h0m-34.5-2.5l2.5 1m21.5 10.5h0m5 1.5h0m-45.5-9h0m40.5 20l4.5 2m-70-23h0m24 11h0m32 14.5h0m-65-21.5h0m-15.5-3h0m77.5 33.5h0m-105-35.5h0m3.5 3.5h0m29 10.5h0m-31.5-8.5h0m5.5 1.5l2.5 1m17 11.5h0m48 22.5h0m-29 2.5h0m14.5 10l2.5 1m-4.5 1h0m-25.5-4.5h0m.5 3h0m-42.5-2.5h0m-4 3.5h0"/><path stroke="#00c6ff" d="M187 14.5l2.5 1m-7.5-.5l3 1m-15.5-3h0m-28.5-7.5h0m-4.5 .5h0m37.5 19h0m-2 2h0m-4.5 3.5l3 1m-42-12.5h0m34.5 12h0m18.5 7h0m-76-25h0m5.5 2l2.5 1m37 13h0m-84-28h0m37.5 16.5h0m44.5 16l3 1m-57.5-18h0m52.5 19h0m16 5.5h0m13 5h0m-5 1h0m-7-.5h0m.5 3h0m-94.5-32h0m-7 2.5h0m126.5 46h0m-7.5 0h0m5.5 2h0m5 2h0m-141.5-49h0m121 44h0m13 5l3 .5m5.5 2.5h0m-8-.5l3 1m-154.5-53.5l5 1.5m118 43h0m8 3h0m13.5 5h0m5 2h0m5.5 1.5h0m-39-11.5h0m21 7.5h0m10.5 4l2.5 1m-18-4l2.5 1m16 5.5h0m-39-11.5h0m-2 2h0m23.5 8.5h0m13.5 7.5l3 1m-94.5-31.5l5.5 1.5m-12.5-2h0m5 2h0m5.5 2h0m36.5 13.5h0m-57.5-18.5h0m13.5 5h0m10.5 3.5l5 2m39.5 14.5h0m-62.5-20.5l2.5 1m21 8h0m24 8.5h0m-65.5-21.5l2.5 1m5.5 2h0m76.5 28h0m-92-31h0m5.5 2h0m8 3l2.5 1m5 1.5h0m71 26h0m5.5 2h0m-102-34.5h0m26 9.5h0m5.5 2l2.5 1m13 4.5h0m-20.5-5h0m8 3l2.5 1m18.5 6.5h0m-31-8.5l2.5 1m5.5 2h0m21 7.5h0m-39-11.5l2.5 1m-30.5-6h0m8 2.5h0m18.5 7h0m39.5 14h0m-52.5-16h0m55.5 20h0m-55-17.5h0m-7 0l2.5 1m11 6.5h0m5 2h0m-12.5-2h0m29 10.5h0m-31-9h0m10.5 4h0m5 2l10.5 3.5m-35.5-8h0m9 8.5h0m3 3.5h0m-13-2l3 1m3 4h0m26.5 9.5l2.5 1m8 3l2.5 .5m-12.5-2h0m.5 3h0m13 4.5h0m-33.5-9.5h0m23.5 8.5l2.5 1m-26-7h0m21.5 8l7.5 2.5m29 11h0m-44-14l5 2m.5 3h0m-4.5 .5h0m36.5 13.5h0m9.5 11h0m-7.5 0h0m-67.5-22h0m44.5 16l5.5 2m14.5 13h0m-51.5-13.5h0m31.5 11.5h0m5 2h0m60.5 22h0m5.5 1.5h0m-47-14.5h0m42 15.5h0m-46.5-14.5h0m5 2h0m39.5 14.5h0m-97-33h0m100 36.5h0m-62.5-20h0m10.5 3.5h0m-5 1l3 1m8 2.5h0m36.5 13.5l2.5 1m-36-10.5h0m-83-27.5h0m17.5 6h0m61 25l2.5 1m39.5 14.5l3 1m.5 2.5h0m-55-17.5h0m13.5 7.5h0m-1.5 4.5h0m-13 8h0m-10.5-1h0m-2 2l2.5 .5m.5 3h0m5.5 2h0m-12.5-2h0m7.5 2.5l1 .5m-63-18h0m-4.5 16.5h0"/><path stroke="#ff0000" d="M200.5 6.5h0m5 2h0m8 3h0m-7.5-.5l2.5 1m-2 2h0m-57.5 63.5h0m3.5 3.5h0m-36.5 2h0m-71-23h0m-14-3h0m4 2l3 .5m5 2h0m8 3h0m-21.5-5h0m52.5 26.5h0m-2 2h0m5 1.5h0m.5 3h0m77.5 33h0m6 5h0m-37 2h0m3.5 6.5h0"/><path stroke="#ff8e00" d="M123.5 17h0m-87-6.5h0m144.5 81l3.5 1m-8 0l2.5 1m-1.5 4.5h0m-59.5-17h0m1 5.5h0m50 34h0m-10-1.5h0m3.5 4h0m-91-25.5h0m87 31.5h0m-49.5-15h0m5.5 1.5h0m-2.5 2h0m19.5 25h0m-2 1.5h0"/><path stroke="#00e3ff" d="M184 10.5h0m-2.5 2l3 1m7.5 3l3 1m-34-10l3 1m10.5 4l2.5 1m10.5 3.5l5 2m-49.5-15.5h0m29 10.5h0m13.5 5h0m-47-14.5h0m37 13.5h0m18 6.5h0m-60-19.5h0m42.5 15.5h0m-42-12.5h0m-2 1.5h0m-2 2h0m3 3.5h0m39.5 14.5l5 2m.5 2.5h0m6 5h0m-76-25h0m45 16h0m-7.5 0l2.5 1m34.5 12.5h0m-97-33h0m5.5 2l2.5 1m63 23l2.5 1m4 6.5l5 2m-94-32h0m.5 3h0m-18-4h0m135 54l2.5 1m0 2.5h0m-20-4.5l3 1m-2.5 1.5h0m5.5 2l2.5 1m-2 2h0m-15.5-3h0m24 8.5l1.5 .5m-43.5-13h0m26.5 9.5h0m-5 .5h0m-72-18.5h0m73.5 27h0m-96-30h0m5 2l2.5 1m45 16h0m-44.5-13.5l3 1m55 20h0m-62.5-20l2.5 1m21 7.5h0m39.5 14.5h0m8 3h0m-94-32h0m5 2h0m10.5 4h0m5.5 1.5l5 2m5.5 2h0m60.5 22h0m-97-32.5l2.5 1m18.5 6.5h0m5.5 2h0m15.5 5.5h0m-44-13.5l2.5 1m16 6l2.5 1m8 2.5h0m-10-1h0m10.5 4h0m-15-.5h0m37 13.5h0m-41.5-12.5h0m-18-4l5 2m5.5 2l2.5 .5m63 23h0m-70.5-23h0m126.5 46h0m-141.5-49h0m39.5 14.5l2.5 1m-20.5-5h0m10.5 4h0m-13-2h0m10.5 3.5l3 1m10.5 4h0m-7 2.5h0m-1.5 4.5h0m-23-3h0m.5 2.5l5.5 2m13 5l2.5 .5m13.5 5h0m81.5 29.5h0m-120.5-41h0m24 11l2.5 1m10.5 4h0m-9.5 1.5h0m10.5 4h0m-12.5-2h0m34 12.5h0m5.5 2h0m-33.5-10h0m23.5 8.5h0m5 2l3 1m-36.5-10.5h0m26.5 9.5h0m-31-9h0m31.5 11.5h0m-39-11.5h0m-13-2h0m47.5 17.5l2.5 .5m5.5 2h0m-10-1h0m21 7.5h0m-18-4h0m10.5 4h0m3 4l3 .5m-23.5-5.5l13.5 4.5m7.5 3h0m-12.5-2l2.5 1m-7 0h0m15.5 5.5h0m-2 2l2.5 .5m45.5 19.5h0m-76-25.5h0m29 11h0m47.5 17l3 1m-105.5-35.5h0m16 5.5h0m39.5 14.5h0m47.5 17h0m-92-30.5h0m37 13.5l5.5 2m42 15l2.5 1m5.5 2h0m-73.5-24h0m16 5.5h0m8 3l2.5 1m-63-20.5h0m55.5 20.5l2.5 1m5.5 1.5h0m-13-2l3 1m7.5 3h0m37 13.5h0m5.5 2h0m-49.5-15.5h0m3 3.5h0m49.5 18h0m-51.5-16h0m5 1.5l2.5 1m-10-1l3 1m-5 1h0m8 2.5h0m1 5.5h0m-5.5 11l2.5 1m-22-.5l2.5 1m-58-8.5h0m.5 3h0m.5 2.5h0m-8 5h0"/><path stroke="#ffe300" d="M204 13h0m12 9.5h0m-92-15.5h0m3.5 3.5h0m65.5 24h0m-73-24h0m.5 2.5h0m-2.5 2l3 1m25.5 60.5h0m-34 3l3 1m-73.5-24.5h0m6.5 7.5h0m46 24.5h0m3 4h0m66.5 26.5h0m-4.5 3.5h0m-2 2h0m-4.5 .5h0m5 2h0m8.5 5.5h0m-2 2h0m-13-2l3 1m5 1.5h0m-93.5-.5l2.5 1m-2 1.5l2.5 1m-11.5 3.5h0"/><path stroke="#008eff" d="M151 6.5l2.5 1m11 4h0m-21-5h0m-4.5 .5h0m31.5 11.5h0m.5 3h0m-36.5-11h0m37 13.5h0m-2 2h0m-2.5 1.5h0m-33.5-9.5h0m24 11.5h0m-41.5-13h0m31.5 11.5h0m-83-27.5h0m73 26.5h0m5.5 2h0m-36.5-10.5h0m-7.5-.5h0m58 21.5l2.5 .5m-67.5-22h0m65.5 24l2.5 1m6.5 7.5h0m.5 2.5l5 2m-102-34.5h0m113 41l5.5 2m7.5 3h0m-15-3l2.5 1m-125.5-43.5h0m115.5 42h0m-120.5-41h0m-7.5-.5h0m116 42.5h0m-125.5-40.5h0m131.5 48h0m5.5 1.5h0m-28.5-7.5h0m42 15h0m-4.5 1h0m-13-2h0m-75.5-25h0m8 3h0m65.5 23.5h0m18.5 7h0m-99.5-33.5h0m13 4.5h0m31.5 11.5h0m42.5 15.5h0m-97-33h0m23.5 9h0m3.5 3.5h0m-34-9.5h0m34.5 12h0m-52.5-16l3 1m-10-1.5l2.5 1m-7.5 0h0m50.5 21h0m-5 1h0m-17.5-4h0m-4.5 3.5h0m-5 .5h0m-2 2h0m13.5 4.5l5 2m-23-6h0m13 5l2.5 1m8 3h0m-46-14.5h0m4.5 2l8 2.5m5 2h0m-2 2h0m-5 .5h0m37 13.5h0m-39-11.5l5.5 2m7.5 2.5h0m5.5 2h0m-27.5-7.5l1.5 1m21 7.5l5.5 2m-18-4l10.5 3.5m8 3l2.5 1m-2 2l5 2m-23-6h0m-7 2.5h0m31.5 11.5h0m-33-7h0m16 21l2.5 1m45 16.5h0m-60-19.5h0m10.5 4h0m-12.5-2h0m50 33.5h0m5.5 2h0m16 8.5h0m37 13.5h0m9.5 3.5h0m-82-25h0m-28.5-8h0m18.5 7h0m-23.5-6h0m13.5 5h0m5 1.5h0m18.5 7h0m13 4.5h0m50 18.5h0m-104-33l7.5 3m47.5 17h0m-51.5-13.5h0m50 18h0m18.5 7h0m34 12.5h0m-52-16.5h0m59.5 21.5h0m-42.5-7.5h0m-1 7h0m-18-4h0m.5 3h0m-4.5 .5h0m-7.5 0l2.5 1m10.5 4h0m-15-3h0m10.5 3.5l2.5 1m-9.5 2h0m-10-1.5h0m5 2l3.5 1.5m-8-.5h0"/><path stroke="#ffc600" d="M122 8.5l2.5 1m66 24h0m-68-22h0m3 3.5h0m16.5 62h0m34 12.5l2.5 1m-36-10.5l2.5 1m37.5 16h0m-1 2.5h0m-73.5-19.5h0m-47-14.5h0m36 23.5h0m-2 2h0m62 30h0m-2 2h0m5 1.5h0m-4 4h0m5 1.5l3 1m-10-1h0m-5 1h0m8 2.5h0m-12.5-2l2.5 1m-12 3.5h0m-6.5 2.5h0"/><path stroke="#55ffaa" d="M221.5 1.5h0m.5 2.5h0m-31-3.5h0m6 2.5h0m-1.5 4.5h0m-30.5-6l2.5 .5m10.5 4l2.5 1m10.5 4l3 1m5 1.5h0m-43-13h0m43.5 16h0m8 3l2.5 1m-52-16.5h0m5.5 2l2.5 .5m5 2h0m34.5 12.5h0m-63-20h0m66 24h0m-82.5-22.5h0m60.5 22h0m10.5 3.5l2.5 1m-84-27.5l3 .5m65.5 24h0m-73-24h0m.5 3h0m-2 1.5h0m-23.5-6h0m21 8l3 1m18.5 6.5h0m-50-15.5h0m5.5 2h0m16 5.5h0m15.5 6h0m58 21h0m-101.5-32h0m5 2h0m24 8.5h0m57.5 21.5h0m5.5 1.5l5 2m-102-34.5h0m100 36.5h0m-107.5-36.5h0m8 2.5h0m16 6h0m86.5 31.5h0m-117.5-40.5h0m10.5 4h0m21 7.5l2.5 1m-36.5-10.5h0m3.5 3.5h0m5 2l5.5 2m-29.5 2h0m5.5 2h0m123 55h0m-7.5 0h0m5.5 2h0m-5 .5l5.5 2m-5 1h0m21.5 10.5h0m-20.5-5h0m-28.5-8h0m8 3h0m21 7.5h0m-31-8.5l2.5 1m5.5 1.5l2.5 1m16 6l2.5 1m-68-22.5l5.5 2m61 25h0m-92-31h0m81.5 30h0m8 2.5h0m-28.5-7.5h0m-20.5-5h0m18.5 6.5h0m8 3h0m-28.5-8h0m-41.5-12.5h0m63 23h0m-88.5-27h0m36 20.5h0m4.5 12h0m68.5 25h0m5.5 4.5h0m-10-1l5.5 2m-82-17h0m-7 2.5h0m-10-1h0m8 3l2.5 1m39.5 14h0m8 3h0m-57.5-18.5h0m58.5 24h0m-47-14.5h0m45.5 19l2.5 1m-15.5-3h0m10.5 4h0m-65-21.5h0m53 22h0m-12 .5l2.5 1m-15.5-3h0m16 6l2.5 1m-28.5-8h0m16 6h0m-12.5-2.5h0m10.5 4h0m-2.5 2h0m-17.5-4l2.5 1m42 15h0m-2 2h0m-3 11.5l2.5 1m7.5 13h0m-7 2.5h0m-2 2h0m8 2.5l2.5 1m-7.5 0h0m5.5 2h0"/><path stroke="#71ff8e" d="M216.5 2.5l3 .5m-1.5 7.5l2.5 1m-28-8h0m-17 1.5h0m31.5 11.5h0m-49.5-15.5h0m5.5 2h0m7.5 3h0m31.5 11.5h0m-49.5-15.5l3 1m13 4.5h0m-33.5-7l3 1m-17-1h0m70.5 26h0m-4.5 .5l2.5 1m5 2h0m-7 0h0m-81-24.5h0m-25-4h0m15.5 6h0m-23-6h0m89.5 32.5l2.5 1m-97-33h0m29 10.5h0m79 29h0m-107.5-36.5h0m-7 0h0m-5 .5h0m8 3h0m-7.5 0l5.5 2m3 3.5h0m-9 4.5h0m102.5 50l2.5 1m-9.5 1.5h0m10.5 4h0m-15.5-3h0m.5 2.5h0m10.5 4h0m6 4.5h0m20 7.5h0m-53.5-14.5l3 1m29 10.5l2.5 1m-34-9.5h0m26.5 9.5l8 2.5m-31-8.5h0m18.5 6.5h0m7.5 3l3 1m-39-11.5h0m10.5 3.5l2.5 1m21 8l5.5 1.5m-107.5-36.5h0m52.5 19.5h0m16 5.5h0m5 2h0m16 6h0m8 2.5h0m7.5 3l3 1m-128.5-44h0m68.5 24.5h0m21 8l7.5 2.5m21.5 8h0m-23.5-6l5.5 2m-7.5 0l2.5 .5m8 3h0m-23-6h0m-15.5-3h0m23.5 9h0m-96-32.5h0m.5 2.5l4.5 2m120 51h0m-86-26h0m63.5 23h0m14 10h0m11.5 9.5h0m-18-4h0m13.5 7.5h0m-22.5-3h0m-78.5-26h0m-1.5 4.5h0m.5 2.5h0m53.5 24.5h0m-33.5-9.5h0m28.5 10.5h0m-2 2h0m-32-1.5h0m-10-1.5h0m18 7l3 1m-26-7h0m21 7.5l2.5 1m-10-1h0m21.5 7.5h0m13 5h0m-49.5-15.5h0m13 5h0m26.5 9.5h0m-10-1h0m7.5 2.5l3 1m-13-2h0m-54-14.5h0m1 5.5h0m-4.5 1h0m72.5 36.5h0m-4.5 1l2.5 1m-2 1.5h0m5.5 4.5h0m-4.5 1h0m5 2h0m-79.5-6h0"/><path stroke="#ff1c00" d="M210.5 7.5h0m-2.5 2l3 1m5 1.5h0m-15-3h0m15.5 6h0m-67 65h0m3.5 3.5h0m-40-1.5h0m-70.5-23h0m68.5 25h0m-70.5-23.5h0m18.5 7h0m105 38h0m-133.5-46l2.5 1m8 3l2.5 1m13.5 4.5h0m25.5 19.5h0m81 40l2.5 1m-32 14h0"/><path stroke="#ffaa00" d="M125 12.5h0m-2 1.5h0m21.5 64h0m30 16h0m5.5 4.5h0m-69.5-17.5h0m-2 2h0m-59-14h0m117 50.5h0m6 2h0m-12 6h0m-10-1l3 1m-42-13h0m45 16.5l5 2m-52-16.5h0m40 17l2.5 1m-26.5 3h0m8 3l2.5 1m-4 3.5h0"/><path stroke="#0000c6" d="M153 58.5h0m-2 1.5h0"/><path stroke="#39ffc6" d="M219 .5h0m5 2h0m-.5 2h0m-28.5 0h0m-4.5 3.5h0m5.5 2l5 2m-38-11.5h0m20.5 7.5h0m13 5h0m-23-6h0m21 7.5l2.5 1m-23-6l2.5 1m31.5 11.5h0m-5 1l3 1m-65.5-21.5h0m63 23l3 1m-70.5-23h0m68 25h0m-75.5-25h0m60.5 22h0m13 4.5h0m-88.5-29.5h0m65.5 23.5h0m-65.5-21h0m5.5 2h0m10.5 4h0m-15.5-3h0m60.5 22l5.5 1.5m-68-22h0m18.5 7h0m50 18h0m-68-22h0m-10-1.5h0m68.5 25h0m5 2h0m-78.5-26h0m5.5 2h0m52.5 19h0m5.5 2h0m10.5 4l5 1.5m-91.5-30.5h0m8 3l2.5 1m58 21h0m-81-27l2.5 1m5 2h0m89.5 32.5h0m-104.5-35.5h0m5 1.5l3 1m13 5l2.5 1m-20.5-5l2.5 1m-4.5 .5l2.5 1m-18-4h0m21 8h0m-20-2.5l3 1m5 2l2.5 1m-6.5 2.5h0m-18-4h0m122 49.5h0m-5 1h0m-2 2h0m-5 .5h0m3.5 4h0m-10-1.5h0m26.5 12.5h0m-36.5-10.5h0m5.5 1.5h0m23.5 9h0m-64.5-18.5h0m50 18h0m-51.5-13.5h0m21 7.5h0m7.5 3h0m19 9.5h0m-107.5-36.5h0m116 42l2.5 1m-102-34.5h0m73.5 26.5h0m29 10.5h0m-2 2h0m-105-35.5h0m55.5 20h0m-47-14.5h0m-23-6h0m5.5 4.5h0m41 23h0m65.5 33.5h0m-4.5 4l2.5 .5m-87.5-21.5h0m16 6l2.5 1m5.5 1.5h0m50 18.5h0m-78.5-26h0m22 13h0m-18-4h0m39.5 14.5h0m6 7.5l3 1m-15-.5h0m16.5 8.5h0m-18-4h0m8 3h0m-26-7h0m-44-13.5l2.5 1m36.5 13.5h0m5.5 2l2.5 .5m-12.5-2l2.5 1m10.5 4h0m-12.5-2l2.5 1m5.5 2h0m10.5 3.5h0m-28.5-7.5l5 1.5m-7 0h0m47 17.5l3 1m-39-12h0m42.5 18h0m-76-25h0m119.5 48.5h0m-2 2h0m4 1.5h0m-59.5-9l2.5 1m5.5 2h0m-2.5 2h0m3.5 3.5h0m-5 1h0m-4.5 .5h0m13 5h0m-10-1h0m8 2.5h0"/><path stroke="#aaff55" d="M214 1.5h0m-2 1.5h0m5 2l3 1m-20.5-5l2.5 1m10.5 4l2.5 1m-30-3.5h0m-12.5-2h0m5 2l5.5 1.5m21.5 10.5h0m8 3h0m-52.5-16.5h0m8 3h0m-45-3.5h0m71 26h0m-67.5-22.5h0m-19.5-4.5h0m85.5 31.5h0m-86.5-29l3 1m-10-1h0m5 1.5h0m84.5 31h0m-99.5-34h0m10.5 4h0m-7.5 0l2.5 1m-23-6h0m5 2l2.5 1m5.5 1.5h0m-10-1h0m97.5 35.5h0m-119-33h0m-4 6h0m3 4h0m-12.5-2h0m10.5 3.5h0m108 55h0m-4.5 .5h0m-10-1h0m19 9.5h0m-28.5-7.5h0m31.5 11.5l2.5 .5m5.5 2h0m-30.5-6h0m-15 0h0m5 1.5h0m-10-1h0m13.5 5h0m13 4.5h0m-89-29.5h0m79 28.5h0m8 3h0m-5 1l8 2.5m-23-5.5h0m.5 2.5h0m7.5 3h0m-51.5-14h0m68.5 38h0m-78.5-26h0m50 18h0m26 9.5h0m-23-6h0m13.5 8h0m12 12l3 .5m-18-3.5h0m-100.5-11l2.5 1m19.5 24.5h0m31.5 11.5h0m-7.5 0h0m.5 2.5h0m-72 33h0m-.5 9.5h0m4.5 2h0m-4.5 1h0"/><path stroke="#8eff71" d="M222 7h0m-17.5-4h0m-12.5-2l2.5 1m18.5 6.5h0m-23.5-6h0m-19.5-2h0m5 2h0m18.5 6.5h0m-23.5-6l3 1m28.5 10.5h0m3.5 4h0m-56-18l1 .5m10.5 4h0m-18.5-4.5h0m-21 2.5h0m8 3h0m63 23h0m-83.5-28h0m18.5 7h0m63 23h0m-7.5-.5l2.5 1m-92-31h0m8.5 3h0m15.5 6h0m68.5 25h0m-83.5-28l2.5 1m-18-4h0m-4.5 1h0m5 1.5l5.5 2m-13-2h0m82 29.5h0m13 5h0m-2 2h0m-94.5-32h0m-23-6h0m5 2h0m-4.5 1h0m13.5 7.5h0m-19.5 .5h0m105.5 53.5h0m-4.5 1h0m-5 1h0m8.5 5.5h0m8 3h0m-2.5 1.5h0m3.5 4h0m7.5 2.5h0m-10-1h0m8 3h0m.5 2.5h0m-41.5-12.5l5 2m5.5 2h0m18.5 6.5l2.5 1m8 3h0m-36.5-10.5h0m26.5 9.5h0m10.5 3.5h0m-39-11.5h0m5 2h0m24 8.5h0m-102-34.5h0m65.5 24h0m16 5.5h0m-10-1h0m13 5h0m-15.5-3h0m10.5 3.5l3 1m-34-9.5h0m21 7.5h0m5.5 2l2.5 1m-86.5-29h0m76.5 28h0m5.5 2h0m-5 .5h0m-32.5-4h0m35.5 20.5l2.5 1m16 5.5l2.5 1m-26-6.5h0m15.5 15.5h0m-85.5-23.5h0m5.5 2h0m.5 3l2.5 .5m-12.5 1h0m12.5 27.5h0m21 7.5h0m-19.5 .5h0m34.5 12.5h0m-39-11.5h0m23.5 8.5h0m5 2h0m5.5 2h0m-10-1h0m-2 1.5l7.5 3m-67-22h0m5 4.5h0m-12 54l2.5 1"/><path stroke="#0000e3" d="M120.5 28.5l8 3m-28.5-8l10.5 4m8 3l16 5.5m-39-11.5l13 5m42 15l3 1m-73.5-24h0m5.5 2h0m34 12.5h0m16 5.5h0m13 5l8 3m-78.5-26l2.5 .5m24 9h0m7.5 2.5l3 1m5 2l10.5 4m5.5 2h0m5 1.5l8 3m-76-25l8 3m5.5 2l18.5 6.5m5 2l2.5 1m10.5 4l29 10.5m-78.5-26h0m5.5 1.5l26 10m18.5 6.5l8 3m8 3l18.5 6.5m-94.5-32h0m16 6l5 2m10.5 3.5l13.5 5m5 2h0m5.5 2h0m18.5 6.5l2.5 1m5 2l5.5 2m5 1.5l3 1m-91.5-30.5l13 4.5m5 2h0m5.5 2l29 10.5m23.5 8.5l5.5 2m-81-27l15.5 6m13 4.5l21.5 8m5 2h0m8 2.5l2.5 1m-81-27l29 10.5m21 8l23.5 8.5m-81-27l18.5 6.5m5.5 2l13 5m5 2l5.5 1.5m5 2l21 8m-78-26l15.5 5.5m5.5 2l29 10.5m5 2l18.5 6.5m-73-24l7.5 3m5.5 2h0m10.5 3.5l5 2m11 4l5 2m-49.5-15.5l16 5.5m5 2l13 5m8 2.5l3 1m-48-14.5l1 0m5 2l24 8.5m-26-6.5h0m5.5 1.5l10.5 4m-20.5-5h0m7.5 3h0m5.5 2h0m5 2h0m-18-4l5.5 2m5.5 1.5h0m65.5 118.5h0m5 2h0m-44-1l2.5 1m5 2l5.5 2m-2 2h0m51.5 26h0m-88-24h0m8.5 21l5.5 2m5 1.5h0m-10-1l8 3m-36.5-10.5h0m-2 1.5l2.5 1m4 9h0"/><path stroke="#ff5500" d="M144 75.5h0m6.5 10h0m26.5 9.5h0m-131.5-32.5h0m68.5 25l3 1m-78.5-26h0m13.5 7.5h0m112.5 51h0m-14.5 15.5h0m-2 1.5h0m-15.5-3h0m-77.5 5h0m-44.5 60.5l1.5 .5"/><path stroke="#8e0000" d="M200 3.5h0m5 2h0m7 10.5l5 1.5m-130.5 67.5l3 1m77.5 36h0"/><path stroke="#c60000" d="M197.5 5.5h0m.5 3h0m13.5 4.5h0m7 2.5h0m-9.5-.5h0m-177 40h0m24.5 11.5h0m108 42h0m-2 1.5h0m-78-23h0m3 3.5h0m-4.5 1h0m88 32h0m-.5 5h0"/><path stroke="#e30000" d="M207.5 6.5h0m-4 3.5h0m10.5 4h0m-62 64l2.5 1m.5 3h0m-124.5-27.5h0m7 2.5h0m-5 1h0m21 7.5h0m27 25h0m7.5 3h0m81.5 29.5h0m-86-29h0m81.5 30l5 2m-4.5 .5l2.5 1m-39 14h0"/></g>
<use href="#map"/>
<rect x="0.5" y="0.5" width="233.3" height="212.5" fill="none" stroke="#262626" stroke-width="1"/>
<text x="19.5" y="-19.7" font-size="12.2" font-weight="bold" text-anchor="start" fill="#262626" textLength="24.6" lengthAdjust="spacingAndGlyphs" stroke="#262626" stroke-width="0.22">100</text>
<circle cx="48.6" cy="-32.0" r="1.5" fill="none" stroke="#262626" stroke-width="0.9"/>
<text x="56.3" y="-19.7" font-size="12.2" font-weight="bold" text-anchor="start" fill="#262626" textLength="13.2" lengthAdjust="spacingAndGlyphs" stroke="#262626" stroke-width="0.22">W</text>
<text x="88.5" y="-19.7" font-size="12.2" font-weight="bold" text-anchor="start" fill="#262626" textLength="16.4" lengthAdjust="spacingAndGlyphs" stroke="#262626" stroke-width="0.22">90</text>
<circle cx="109.4" cy="-32.0" r="1.5" fill="none" stroke="#262626" stroke-width="0.9"/>
<text x="117.1" y="-19.7" font-size="12.2" font-weight="bold" text-anchor="start" fill="#262626" textLength="13.2" lengthAdjust="spacingAndGlyphs" stroke="#262626" stroke-width="0.22">W</text>
<text x="152.2" y="-19.7" font-size="12.2" font-weight="bold" text-anchor="start" fill="#262626" textLength="16.4" lengthAdjust="spacingAndGlyphs" stroke="#262626" stroke-width="0.22">80</text>
<circle cx="173.2" cy="-32.0" r="1.5" fill="none" stroke="#262626" stroke-width="0.9"/>
<text x="181.0" y="-19.7" font-size="12.2" font-weight="bold" text-anchor="start" fill="#262626" textLength="13.2" lengthAdjust="spacingAndGlyphs" stroke="#262626" stroke-width="0.22">W</text>
<text x="215.8" y="-19.7" font-size="12.2" font-weight="bold" text-anchor="start" fill="#262626" textLength="16.4" lengthAdjust="spacingAndGlyphs" stroke="#262626" stroke-width="0.22">70</text>
<circle cx="236.8" cy="-32.0" r="1.5" fill="none" stroke="#262626" stroke-width="0.9"/>
<text x="244.5" y="-19.7" font-size="12.2" font-weight="bold" text-anchor="start" fill="#262626" textLength="13.2" lengthAdjust="spacingAndGlyphs" stroke="#262626" stroke-width="0.22">W</text>
<text x="-49.6" y="17.1" font-size="12.2" font-weight="bold" text-anchor="start" fill="#262626" textLength="16.9" lengthAdjust="spacingAndGlyphs" stroke="#262626" stroke-width="0.22">48</text>
<circle cx="-28.2" cy="3.0" r="1.5" fill="none" stroke="#262626" stroke-width="0.9"/>
<text x="-20.5" y="17.1" font-size="12.2" font-weight="bold" text-anchor="start" fill="#262626" textLength="9.4" lengthAdjust="spacingAndGlyphs" stroke="#262626" stroke-width="0.22">N</text>
<text x="-49.6" y="34.4" font-size="12.2" font-weight="bold" text-anchor="start" fill="#262626" textLength="16.9" lengthAdjust="spacingAndGlyphs" stroke="#262626" stroke-width="0.22">46</text>
<circle cx="-28.2" cy="20.3" r="1.5" fill="none" stroke="#262626" stroke-width="0.9"/>
<text x="-20.5" y="34.4" font-size="12.2" font-weight="bold" text-anchor="start" fill="#262626" textLength="9.4" lengthAdjust="spacingAndGlyphs" stroke="#262626" stroke-width="0.22">N</text>
<text x="-49.6" y="51.6" font-size="12.2" font-weight="bold" text-anchor="start" fill="#262626" textLength="16.9" lengthAdjust="spacingAndGlyphs" stroke="#262626" stroke-width="0.22">44</text>
<circle cx="-28.2" cy="37.5" r="1.5" fill="none" stroke="#262626" stroke-width="0.9"/>
<text x="-20.5" y="51.6" font-size="12.2" font-weight="bold" text-anchor="start" fill="#262626" textLength="9.4" lengthAdjust="spacingAndGlyphs" stroke="#262626" stroke-width="0.22">N</text>
<text x="-49.6" y="70.2" font-size="12.2" font-weight="bold" text-anchor="start" fill="#262626" textLength="16.9" lengthAdjust="spacingAndGlyphs" stroke="#262626" stroke-width="0.22">42</text>
<circle cx="-28.2" cy="56.1" r="1.5" fill="none" stroke="#262626" stroke-width="0.9"/>
<text x="-20.5" y="70.2" font-size="12.2" font-weight="bold" text-anchor="start" fill="#262626" textLength="9.4" lengthAdjust="spacingAndGlyphs" stroke="#262626" stroke-width="0.22">N</text>
<text x="-49.6" y="86.5" font-size="12.2" font-weight="bold" text-anchor="start" fill="#262626" textLength="16.9" lengthAdjust="spacingAndGlyphs" stroke="#262626" stroke-width="0.22">40</text>
<circle cx="-28.2" cy="72.4" r="1.5" fill="none" stroke="#262626" stroke-width="0.9"/>
<text x="-20.5" y="86.5" font-size="12.2" font-weight="bold" text-anchor="start" fill="#262626" textLength="9.4" lengthAdjust="spacingAndGlyphs" stroke="#262626" stroke-width="0.22">N</text>
<text x="-49.6" y="101.1" font-size="12.2" font-weight="bold" text-anchor="start" fill="#262626" textLength="16.9" lengthAdjust="spacingAndGlyphs" stroke="#262626" stroke-width="0.22">38</text>
<circle cx="-28.2" cy="87.0" r="1.5" fill="none" stroke="#262626" stroke-width="0.9"/>
<text x="-20.5" y="101.1" font-size="12.2" font-weight="bold" text-anchor="start" fill="#262626" textLength="9.4" lengthAdjust="spacingAndGlyphs" stroke="#262626" stroke-width="0.22">N</text>
<text x="-49.6" y="118.4" font-size="12.2" font-weight="bold" text-anchor="start" fill="#262626" textLength="16.9" lengthAdjust="spacingAndGlyphs" stroke="#262626" stroke-width="0.22">36</text>
<circle cx="-28.2" cy="104.3" r="1.5" fill="none" stroke="#262626" stroke-width="0.9"/>
<text x="-20.5" y="118.4" font-size="12.2" font-weight="bold" text-anchor="start" fill="#262626" textLength="9.4" lengthAdjust="spacingAndGlyphs" stroke="#262626" stroke-width="0.22">N</text>
<text x="-49.6" y="132.9" font-size="12.2" font-weight="bold" text-anchor="start" fill="#262626" textLength="16.9" lengthAdjust="spacingAndGlyphs" stroke="#262626" stroke-width="0.22">34</text>
<circle cx="-28.2" cy="118.8" r="1.5" fill="none" stroke="#262626" stroke-width="0.9"/>
<text x="-20.5" y="132.9" font-size="12.2" font-weight="bold" text-anchor="start" fill="#262626" textLength="9.4" lengthAdjust="spacingAndGlyphs" stroke="#262626" stroke-width="0.22">N</text>
<text x="-49.6" y="149.4" font-size="12.2" font-weight="bold" text-anchor="start" fill="#262626" textLength="16.9" lengthAdjust="spacingAndGlyphs" stroke="#262626" stroke-width="0.22">32</text>
<circle cx="-28.2" cy="135.3" r="1.5" fill="none" stroke="#262626" stroke-width="0.9"/>
<text x="-20.5" y="149.4" font-size="12.2" font-weight="bold" text-anchor="start" fill="#262626" textLength="9.4" lengthAdjust="spacingAndGlyphs" stroke="#262626" stroke-width="0.22">N</text>
<text x="-49.6" y="164.0" font-size="12.2" font-weight="bold" text-anchor="start" fill="#262626" textLength="16.9" lengthAdjust="spacingAndGlyphs" stroke="#262626" stroke-width="0.22">30</text>
<circle cx="-28.2" cy="149.9" r="1.5" fill="none" stroke="#262626" stroke-width="0.9"/>
<text x="-20.5" y="164.0" font-size="12.2" font-weight="bold" text-anchor="start" fill="#262626" textLength="9.4" lengthAdjust="spacingAndGlyphs" stroke="#262626" stroke-width="0.22">N</text>
<text x="-49.6" y="176.6" font-size="12.2" font-weight="bold" text-anchor="start" fill="#262626" textLength="16.9" lengthAdjust="spacingAndGlyphs" stroke="#262626" stroke-width="0.22">28</text>
<circle cx="-28.2" cy="162.5" r="1.5" fill="none" stroke="#262626" stroke-width="0.9"/>
<text x="-20.5" y="176.6" font-size="12.2" font-weight="bold" text-anchor="start" fill="#262626" textLength="9.4" lengthAdjust="spacingAndGlyphs" stroke="#262626" stroke-width="0.22">N</text>
<text x="-49.6" y="191.7" font-size="12.2" font-weight="bold" text-anchor="start" fill="#262626" textLength="16.9" lengthAdjust="spacingAndGlyphs" stroke="#262626" stroke-width="0.22">26</text>
<circle cx="-28.2" cy="177.6" r="1.5" fill="none" stroke="#262626" stroke-width="0.9"/>
<text x="-20.5" y="191.7" font-size="12.2" font-weight="bold" text-anchor="start" fill="#262626" textLength="9.4" lengthAdjust="spacingAndGlyphs" stroke="#262626" stroke-width="0.22">N</text>
<text x="-49.6" y="205.7" font-size="12.2" font-weight="bold" text-anchor="start" fill="#262626" textLength="16.9" lengthAdjust="spacingAndGlyphs" stroke="#262626" stroke-width="0.22">24</text>
<circle cx="-28.2" cy="191.6" r="1.5" fill="none" stroke="#262626" stroke-width="0.9"/>
<text x="-20.5" y="205.7" font-size="12.2" font-weight="bold" text-anchor="start" fill="#262626" textLength="9.4" lengthAdjust="spacingAndGlyphs" stroke="#262626" stroke-width="0.22">N</text>
<text x="-49.6" y="218.7" font-size="12.2" font-weight="bold" text-anchor="start" fill="#262626" textLength="16.9" lengthAdjust="spacingAndGlyphs" stroke="#262626" stroke-width="0.22">22</text>
<circle cx="-28.2" cy="204.6" r="1.5" fill="none" stroke="#262626" stroke-width="0.9"/>
<text x="-20.5" y="218.7" font-size="12.2" font-weight="bold" text-anchor="start" fill="#262626" textLength="9.4" lengthAdjust="spacingAndGlyphs" stroke="#262626" stroke-width="0.22">N</text>
<rect x="245.0" y="-1.5" width="24" height="215.5" fill="url(#jet)" stroke="#262626" stroke-width="0.8"/>
<path d="M269.0 106.8h-4" stroke="#262626" stroke-width="1"/>
<text x="278.5" y="6.3" font-size="21.0" font-weight="bold" text-anchor="start" fill="#262626" textLength="41.5" lengthAdjust="spacingAndGlyphs" stroke="#262626" stroke-width="0.38">100</text>
<text x="278.5" y="114.3" font-size="21.0" font-weight="bold" text-anchor="start" fill="#262626" textLength="26.8" lengthAdjust="spacingAndGlyphs" stroke="#262626" stroke-width="0.38">50</text>
<text x="278.5" y="221.8" font-size="21.0" font-weight="bold" text-anchor="start" fill="#262626" textLength="12.2" lengthAdjust="spacingAndGlyphs" stroke="#262626" stroke-width="0.38">0</text>
<text x="-56.0" y="244.2" font-size="21.3" font-weight="bold" text-anchor="start" fill="#262626" textLength="333.0" lengthAdjust="spacingAndGlyphs" stroke="#262626" stroke-width="0.38">SAT 350 hPa RH (Percent)</text>
</g>
<g transform="translate(1037.4,485.5)">
<g transform="scale(1.0068,1.0070)">
<g fill="none" stroke-linecap="round" stroke-width="6.6"><path stroke="#ffff00" d="M204 13h0m-41 87l3 1m-123-39.5h0m-12 1h0m121.5 59.5h0m2.5 13.5h0m-5 1h0m-100-24h0m19 9.5h0m-12.5 1h0m-4.5 .5h0"/><path stroke="#0000e3" d="M33 30l2 .5m.5 3h0m-2 1.5l2.5 1m-6 61.5l2.5 1m8 3h0m-12.5-2l2.5 1m-4.5 1h0m16 8.5h0m-2 1.5h0m-15-.5l2.5 1m5.5 2l2.5 1m-11-1.5l6.5 2.5m95 90.5l2.5 1m-113-25.5l3 1m-2.5 1.5h0m.5 3h0m.5 2.5h0m-2 2h0m.5 2.5h0m-4 1.5l2 .5m37 13.5h0m-38.5-11.5l2 .5m16 8.5h0m5.5 2h0m-10-1l8 3m-13-2h0m5.5 1.5l3 1.5"/><path stroke="#8eff71" d="M219 13.5h0m-29-8h0m-34-5h0m-13 3h0m-47-1.5h0m-10-1.5h0m8 3h0m-15.5-3h0m-21 5h0m-2 2h0m1 5.5h0m126.5 74h0m.5 2.5h0m-12 3.5h0m.5 3h0m-14 2.5l2.5 1m-37.5-3.5l8 2.5m31.5 11.5h0m-28.5-7.5h0m15.5 18.5h0m3.5 3.5h0m-8 10l2.5 1m-83.5-25.5h0m-10-1l3 1m15.5 6h0m-12.5-2.5h0m5.5 5h0m-20-2.5l2.5 1m-2 2h0m18.5 6.5h0m-.5 10h0m-4 6.5h0m-4.5 .5h0m92.5 36.5h0m-94.5-32h0m94 44.5h0m-9 17.5h0m-123.5-35h0"/><path stroke="#c6ff39" d="M207 4h0m-6 8h0m5.5 2h0m-10-1h0m-2 1.5h0m-7 2.5h0m-2 71h0m-.5 2.5h0m-4 1h0m-6 5.5h0m-5 .5h0m8 3h0m-50-5.5h0m13 5h0m25.5 19.5h0m-97-7.5h0m-7.5 0h0m-4 3.5h0m13 5h0m-12 .5h0m.5 2.5h0m60.5 22.5h0m-62-2.5h0m92 36.5h0m-5 10.5h0m-129.5-21.5h0m1.5 5.5h0"/><path stroke="#001cff" d="M51 23.5h0m-7.5 0h0m5.5 2l2.5 1m-10-1l2.5 1m-12.5 10.5l2.5 1m-2 1.5l2.5 1m-2.5 2l3 1m.5 2.5h0m-4.5 1h0m3.5 50h0m-8 10h0m14 7.5h0m116 44.5l1 .5m-8.5-.5h0m5.5 2l1.5 .5m-14-2.5h0m10.5 3.5l4 1.5m-17-3.5h0m13.5 5l2.5 1m-18-4h0m-4.5 1h0m18 6.5l2.5 .5m-122-11h0m108 42l4.5 1.5m-127.5-41h0m97.5 48h0m-.5 2.5h0m-58.5-3.5h0m.5 3l2 .5m-17.5-4l3 1m5 2h0m-37.5-11h0m30 11h0m-30-8.5h0"/><path stroke="#aaff55" d="M204.5 3h0m-5.5 10.5h0m5.5 2h0m-47-14.5h0m34 12.5h0m.5 3h0m-7-.5h0m-50-15.5h0m-43.5 2h0m-22 2.5h0m-9.5 1.5h0m120 92h0m-20-2l2.5 1m-45.5-9h0m16.5 11h0m6 33h0m16 5.5h0m-10-1h0m-77-17.5h0m-2.5 1.5h0m-12.5-2l2.5 1m5.5 2h0m5 2h0m-4.5 .5h0m-7.5 0l2.5 1m4.5 12h0m21.5 7.5h0m53 63h0"/><path stroke="#ffe300" d="M30.5 54.5h0m107.5 41.5h0m5 2h0m-113.5-36h0m111.5 66h0m1 5.5h0m-2 1.5h0m-88-24h0m11.5 9h0m8 3h0m72.5 77.5h0"/><path stroke="#00aaff" d="M174 25h0m22 26h0m1 5.5h0m2 3h0m-1.5 4.5h0m-142-44h0m-22 0h0m155 56h0m-158-24l1 .5m74.5 45h0m-23-6h0m15.5 5.5h0m-62-17.5l2.5 1m-7 0h0m.5 3l2.5 .5m-8 7.5h0m0 2.5h0m126.5 61.5h0m-55-4.5h0m51 23.5l2.5 1m-12 29h0m-120-39h0m121.5 47h0m-74.5-4h0m8 2.5h0m-15-3h0m4 4.5h0m-49-8h0m.5 3h0m-4.5 1h0"/><path stroke="#0000c6" d="M33 32.5h0m-17 165h0"/><path stroke="#0039ff" d="M172 27h0m-2 1.5l2.5 1m5.5 4.5h0m6.5 7.5h0m5.5 2l2.5 1m-2 2h0m3.5 21.5l1.5 .5m-154.5-46h0m-2 2h0m-2.5 1.5h0m-3.5 22h0m6 45.5l2.5 1m5.5 1.5h0m5 2l5.5 2m-20.5-5h0m.5 3h0m5.5 4.5h0m111 55.5h0m-15 0h0m-4.5 .5l2.5 1m-7.5 0l5.5 2m-5 1h0m19 9l4.5 2m-128.5-21.5h0m-2 2h0m11 6.5h0m-7.5 0h0m-8.5-.5l6.5 2m-7.5 2.5h0m94.5 44.5h0m.5 3h0m-74.5-4h0"/><path stroke="#00c6ff" d="M136.5 6h0m54 43l3 1m3 3.5l2.5 1m1.5 3h0m-9 20h0m-1 2h0m-4 1h0m.5 3l1 .5m-147-20.5h0m3.5 6.5h0m59.5 29h0m-62.5-20h0m42 15h0m-5 1h0m-51-16l1.5 .5m5.5 2l2.5 1m-9 1.5h0m67.5 50.5h0m55.5 20h0m-62-15h0m1 5.5h0m-52 12h0m105.5 48.5h0m-128.5-34h0m92 38.5h0m-20-2l2.5 1m-7.5-.5l2.5 1m-10-1h0m5.5 2h0m-10-1l2.5 1m5 1.5l1 .5m-16-3.5l8.5 3.5m-60-7l2 1m.5 2.5l2.5 1m-6.5 .5h0"/><path stroke="#00ffff" d="M206.5 1h0m15.5 6h0m-22.5-6h0m-5 1h0m-24.5-1.5h0m7.5 3l2.5 1m-12.5-2.5h0m5.5 2h0m-5 1h0m-20-2h0m-12 .5h0m-10-1h0m-19-2h0m-3.5 1.5l5.5 2m21 7.5l2.5 1m-7.5 0h0m5.5 2h0m57 71.5h0m-143.5-19h0m66 24l2.5 1m-67.5-19.5h0m55.5 20h0m5 2l2.5 1m-12.5-2h0m-64-15.5h0m44.5 16h0m5.5 2h0m-5 1h0m64 28.5h0m-78-23.5h0m-4 3.5h0m19 9.5h0m7.5 15.5h0m.5 3h0m10.5 3.5h0m-20-2h0m5.5 2h0m-18-4h0m82.5 48h0m-102.5-35h0m98.5 54h0m-126-33.5l2 1m118.5 43h0m-117.5-37.5h0m75 35l3 1m7.5 3h0m-12.5-2.5h0m-4.5 1h0"/><path stroke="#ffc600" d="M202.5 4.5h0m-50 92h0m-120.5-41.5h0m137 65.5h0m-7-.5h0m-7 3h0m.5 2.5h0m-56.5 28h0"/><path stroke="#ff8e00" d="M150 95.5h0m-115.5-39.5h0m113.5 41l2.5 1m-110-37.5h0m-11-1l1 0m131.5 48h0m-74.5-17l3 1m-5 1l5.5 2m78.5 28.5l1.5 .5m-8.5-.5h0m-34-10h0m29 11h0m-33.5-10h0m5 2h0m5.5 2h0m34.5 12.5h0m-39.5-12h0m-20.5-4.5l5.5 1.5m50 18.5h0m-55-17.5h0m50 18h0m6.5 2.5h0m-6 .5l2.5 1m-27.5-2.5h0m-9.5 1.5l3 1m5 2l2.5 1m-10-1h0m8 3h0m-7.5-.5l5.5 2m-5 1h0m0 12.5h0m-10-1l2.5 1m-7.5 0h0m-15-3h0m5.5 4.5l3 1m40.5 32.5h0m0 2.5h0m-.5 2.5h0"/><path stroke="#ffaa00" d="M31 57h0m4 2l3 .5m123.5 45.5h0m-128.5-44.5h0m139.5 61h0m-8-.5h0m.5 3l5 2m-10-1.5h0m8 3l2.5 1m-12.5-2h0m8 3h0m2 3h0m-.5 2.5h0m-10.5-1.5h0m5 2l3 1m-24.5 1.5h0m-11.5 3.5l2.5 1m-7 2.5h0m-2 1.5l2.5 1"/><path stroke="#e3ff1c" d="M216 12h0m-14.5 2.5h0m-14.5 0l2.5 1m-5 77h0m-15 2.5h0m-2 1.5h0m.5 3h0m10.5 4h0m-38-6.5h0m-102-34.5h0m97 35.5l3 1m-16.5 19.5h0m30.5 19h0m-10-1.5h0m.5 3h0m-82.5-22.5h0m-12 3.5l5.5 2m6 4.5h0m4.5 12h0m-2.5 1.5h0"/><path stroke="#71ff8e" d="M187.5 4.5h0m-4.5 .5h0m32 14.5h0m-18-4h0m-44.5-13.5h0m42.5 15.5h0m-5 .5h0m-52-16.5l2.5 1m37.5 16.5h0m-2 1.5h0m-55-17.5h0m-28-2.5h0m3.5 4l3 1m-15.5-3h0m-7.5 0l2.5 1m-4.5 .5h0m-19.5 .5h0m3 4h0m-2 1.5h0m-1.5 4.5h0m.5 3h0m132 71h0m-5.5 5.5h0m-4 4h0m-22-.5h0m-43.5-8l5.5 1.5m5 2l2.5 1m4 6.5l2.5 1m-57-3h0m71.5 28.5h0m-4.5 3.5h0m-78-23l3 1m84 30.5h0m-91.5-30.5l2.5 .5m5.5 2h0m63 23h0m-60-19h0m-7.5-.5h0m11 7h0m-26-7l3 1m13.5 7.5h0m-15-.5h0m13.5 5h0m9 8.5h0m-5 .5h0m61 25h0m-71.5-16h0m92.5 36h0m-104.5-32.5h0m-2 1.5h0m-2 2h0m.5 2.5h0m59 57.5h0"/><path stroke="#39ffc6" d="M221.5 9h0m-29.5-8h0m5 2h0m-13-2.5l3 1m-4.5 1h0m26.5 12.5h0m5.5 1.5h0m-51.5-16h0m7 2.5h0m5.5 2h0m37 13.5h0m-52.5-16.5h0m56 20.5h0m-58-18.5h0m-16-3.5h0m38 16.5h0m-47-14.5h0m5.5 2l2.5 1m39.5 14h0m-2 2h0m-60-19.5h0m5 2h0m53 19.5h0m-68-22.5h0m-8.5-.5h0m-1 2.5h0m-27.5-2.5h0m-5 .5h0m-2 2h0m-11 6h0m.5 3h0m3 3.5h0m126 79.5h0m-8.5-1h0m-16 7h0m-36.5-10.5h0m-2 1.5h0m-12.5 1h0m-12.5-2h0m-24 4l3 1m73.5 26.5l2.5 1m-83-25h0m72 31.5h0m-78-23.5h0m92 33.5h0m-96.5-32.5h0m18.5 9.5h0m.5 2.5h0m8 15.5h0m8 3l5 2m-28.5-8l3 1m3 3.5h0m26 10h0m-39-12h0m24.5 11.5h0m-28-5h0m-4.5 3.5h0m-2 2h0m97 40h0m-6 23.5h0m-49.5 2.5h0"/><path stroke="#00e3ff" d="M209.5 2h0m-11.5-1.5h0m19.5 7h0m-40.5-7l2.5 1m-7 0h0m-42 0h0m.5 3h0m3 3.5h0m-23-6h0m-10-1h0m3 3.5h0m24 9h0m-38.5-9h0m-25-4h0m129.5 52h0m4.5 9.5h0m-141-43.5h0m131.5 60.5h0m.5 2.5h0m-155.5-28h0m11.5 9h0m-2 2h0m-14 0h0m17.5 6.5h0m51 23.5l5.5 2m-2 1.5h0m-20.5-4.5h0m5 1.5h0m-57-18h0m.5 5.5h0m30 16l5.5 1.5m34 41h0m-12.5-2h0m5.5 1.5l5 2m-4.5 1h0m5.5 4.5l2.5 1m-14.5 0h0m-40-4.5l2.5 1m85.5 64h0m5 2h0m-120.5-41.5h0m-2 2h0m85 36h0m5 4.5h0m-9-1h0m-20.5-2h0m5.5 2h0m-71.5-.5h0"/><path stroke="#ff3900" d="M122 159.5h0m-2 1.5l2.5 1m-7 0h0"/><path stroke="#ff5500" d="M147.5 94.5h0m-5 1l2.5 1m-112.5-38.5h0m127 64h0"/><path stroke="#ff7100" d="M144.5 93.5h0m-107-36.5h0m126 46l3 1m-2.5 1.5l3 1m-2.5 2l3 1m-75-19.5h0m74.5 32h0m-35.5-8h0m-5 1h0m5.5 2h0m-7.5 0l2.5 .5m5.5 2h0m34 12.5h0m-41.5-12.5l5 2m-18-4h0m45.5 19h0m-25-1.5h0m-4.5 1l7.5 3m-11 18.5h0m.5 3h0m-10-1l2.5 .5m-18-3.5l13 4.5m-4.5 1h0m35.5 33h0m.5 3h0"/><path stroke="#0055ff" d="M219 .5l5 2m-7.5 0l5.5 1.5m-5 1h0m-42 25.5h0m-2 2l2.5 1m5.5 1.5l2.5 1m-2 2l5 2m.5 2.5h0m.5 3h0m6 20h0m-2 1.5h0m.5 3l2 .5m-148.5-49l3 1m-10-1h0m7.5 3h0m-13.5 0l1.5 .5m-3.5 63h0m14 7.5h0m5 1.5h0m-10-1l8 3m-21-2.5h0m17 9h0m.5 2.5h0m-1.5 4.5h0m116 44.5h0m-7 0h0m-118-40h0m113 41h0m-124-7h0m13.5 7.5h0m-17.5-3.5h0m7.5 2.5l2.5 1m-4.5 1h0m-10.5 19l4.5 1.5m39.5 30l3 1m-45 1.5h0"/><path stroke="#0000ff" d="M32.5 27l4.5 2m-4.5 6h0m-1 9.5l1 .5m2.5 54.5l3 1m-12-1.5h0m9.5 3.5l5.5 2m-12.5-2h0m13 4.5h0m-16-3l3.5 1m-3.5 1.5h0m4 1h0m-4.5 1l2 1m8 3l2.5 1m-7-.5h0m114 47l2.5 1m-4.5 .5h0m8 5.5l3.5 1.5m-134.5-5.5h0m111.5 45.5h0m-7 0l10.5 4m-18-4l11 4m-10.5-1.5l3.5 1.5m-106.5-31h0m0 2.5h0m-1.5 2l1.5 .5m-1 2l1.5 .5m-1.5 2h0m-1.5 2l1.5 .5m39.5 14.5h0m-7.5 0l2.5 1m5.5 2h0m-7.5-.5h0m5 2h0m-38.5-11.5l2.5 1m18.5 6.5h0m5 2h0m5.5 2h0m-20.5-5h0m13 5h0m-12.5-2.5h0m-5 1l3.5 1.5"/><path stroke="#0071ff" d="M212 .5l2 1m9.5 3h0m-11.5-1.5l2.5 1m5.5 2h0m-39.5 26.5l2.5 1m-12.5-2h0m19 9.5h0m6.5 25.5h0m-143-44.5h0m137 49.5h0m.5 3l2 .5m-161.5-25.5h0m8.5 34h0m9.5 11l8 3m-28.5-8h0m.5 3h0m-1.5 4.5h0m116.5 60h0m-122-8.5h0m-2 1.5h0m-1.5 2.5l2 .5m13 5h0m3 3.5h0m26.5 50.5h0m-45-3.5h0"/><path stroke="#008eff" d="M193 47h0m4.5 12h0m-2 2h0m.5 2.5h0m-3 9.5h0m-157.5-52.5h0m-1.5 2l2 1m-2.5 27h0m-3.5 34.5h0m-2.5 1.5h0m-1 2.5h0m33.5 12h0m-30.5-6h0m126.5 61.5h0m-118-40.5h0m110.5 40.5h0m-61.5-15h0m-67.5 6h0m5 2h0m3.5 6.5l3 1m-9.5 1.5h0m-4 6h0m91.5 43.5h0m.5 3h0m-37.5-3.5h0m-59.5-4h0m1.5 8.5h0"/><path stroke="#55ffaa" d="M205 .5h0m5 4.5h0m10.5 6.5h0m-31-9l5.5 2m-10-1h0m32 14h0m-10-1h0m-44-13.5h0m-14-2.5l1 .5m.5 2.5l2.5 1m-7 0h0m36.5 13.5h0m-59.5-16.5h0m5.5 2h0m45 19h0m-60-19.5h0m5.5 2h0m5 2h0m8 2.5h0m-43-8h0m-7.5 0h0m-9.5 1.5h0m5 2h0m-10-1h0m-7.5 0l3 1m-9.5 1.5h0m124 88.5h0m5.5 2h0m-1 2.5h0m-1.5 2h0m-27-2.5l3 1m-42-12.5h0m5.5 2h0m-73.5-24h0m.5 2.5l3 1m43.5 23.5h0m-49.5-15.5h0m25.5 19.5l2.5 1m74 27h0m-76-25h0m74 26.5h0m-74.5-16.5h0m79 28.5h0m-76-25h0m-20.5-5h0m13.5 7.5l3 1m5 2h0m-17.5-1h0m35.5 17.5h0m-18-3.5h0m5 1.5l3 1m7.5 3h0m34.5 12.5h0m-49.5-15.5h0m-7.5 0l2.5 1m28 17.5h0m-50-5.5l2.5 1m-7.5 0h0m103 40l3 1m-110-35h0m103 53h0m-41 3h0"/><path stroke="#1cffe3" d="M202 2h0m18.5 6.5h0m-29.5-8h0m9 3h0m18 7h0m-1.5 4.5l2 .5m-43.5-13h0m37 13.5h0m-47-14.5h0m44.5 16h0m6.5 2.5h0m-50.5-16h0m34 12.5h0m-44-13.5h0m5 2h0m-18-4l3 1m-17.5-1.5h0m-7 0h0m12.5 4.5h0m-20-4.5l2 1m11 3.5l2.5 1m-13-2h0m5.5 2h0m-10-1h0m10.5 3.5l5.5 2m-26-7h0m-15 0h0m5.5 2l2.5 1m-20.5-5h0m8 3l2.5 .5m-15.5-3h0m116 83h0m-5.5 11h0m-69-2h0m-63-20.5h0m50 18.5h0m-52-16.5h0m33.5 22.5h0m-51-16.5h0m120 44h0m-80.5-24.5h0m55 20.5h0m-48-7.5h0m8.5 18.5h0m10.5 3.5h0m-7.5 0h0m-7.5 0h0m21 7.5h0m-2 2h0m-12.5-2h0m3 3.5h0m62 30l1.5 .5m-101-34h0m99.5 39h0m-3.5 1l3 1m-2.5 1.5h0m-4 6.5h0m0 15.5h0m-2 1.5h0m-126.5-33l3 1m86.5 31.5h0m-2 2h0m-7.5-.5h0m-4.5 1h0m-4.5 1h0"/></g><g fill="none" stroke-linecap="round" stroke-width="4.5"><path stroke="#55ffaa" d="M205 .5h0m5 4.5h0m5 2h0m5.5 4.5h0m-31-9l8 3m-12.5-2h0m13 5h0m.5 2.5h0m18.5 6.5h0m-10-1h0m-44-13.5h0m-14-2.5l1 .5m.5 2.5l2.5 1m-7 0h0m31.5 11.5h0m5 2h0m-15-3h0m5 2h0m-49.5-15.5h0m5.5 2h0m34.5 15h0m5.5 2l5 2m-60-19.5h0m5.5 2h0m5 2h0m8 2.5h0m-15.5-3h0m-27.5-5h0m13 5h0m-20.5-5h0m15.5 6h0m5.5 1.5h0m5.5 5l3 1m-39-12h0m5 2h0m5.5 2h0m26 9.5h0m13.5 5h0m-55-17.5h0m47.5 17h0m-55-17l5.5 2m11 6.5h0m8 2.5h0m68.5 25h0m-99.5-33.5h0m87 34.5h0m-7.5-.5h0m3.5 4h0m-5 .5h0m26.5 9.5h0m-26-6.5h0m21 7.5h0m-23-6h0m.5 3l2.5 1m.5 2.5l2.5 1m.5 3l3 .5m6 7.5h0m27.5 15h0m-28-5h0m32.5 17h0m5.5 2h0m-47-14.5l2.5 1m43.5 16h0m-130-45h0m16 6l2.5 1m71 25.5h0m39 14.5h0m-64-18.5h0m37 16l3 1m-107.5-36.5h0m29 10.5h0m36.5 13.5h0m5.5 2h0m-73.5-24h0m34.5 12.5h0m5 1.5l3 1m-42-12.5l5.5 2m29 10.5h0m-30.5-6h0m34.5 15h0m8 3h0m-49.5-15.5h0m22.5 16h0m3 3.5l2.5 1m74 27h0m-76-25h0m74 26.5h0m7.5 3h0m-82-19.5h0m79 28.5h0m-76-25h0m-20.5-5h0m13.5 7.5l3 1m5 2h0m-20-2l2.5 1m35.5 17.5h0m-18-3.5h0m5 1.5l3 1m7.5 3h0m34.5 12.5h0m-49.5-15.5h0m-7.5 0l2.5 1m8 2.5h0m5.5 2h0m.5 3h0m14 10h0m-23.5-6h0m67.5 32.5l2.5 1m-96.5-33l2.5 1m5 2h0m21 7.5h0m29 10.5h0m-62.5-20h0m18.5 6.5h0m10.5 4l2.5 1m-15-3l2.5 1m76 27.5h0m8 3l3 1m-97-32.5h0m8 2.5l5 2m-26-7h0m53 19.5h0m21 7.5h0m-70.5-23l2.5 1m5.5 2l2.5 .5m44.5 16.5h0m-49.5-15.5l2.5 1m38 19h0m-2 1.5h0m-49.5-15.5h0m105 38.5h0m-75.5-25h0m25.5 19.5l2.5 1m6.5 7.5h0"/><path stroke="#ffe300" d="M150 42h0m-89-30h0m89.5 32.5h0m3.5 4h0m-10 1.5h0m5.5 2h0m-12.5-2h0m5 1.5h0m-2 2h0m38.5 37h0m-19.5 .5l2.5 1m-4.5 1h0m8 2.5h0m-134.5-41h0m22.5 8.5h0m79 28.5h0m-2 2h0m8 2.5h0m5 2h0m-91.5-30.5h0m-22-5.5h0m124 65.5h0m3 3.5h0m-15.5-3h0m1 5.5h0m-2 1.5h0m-88-24h0m11.5 9h0m8 3h0m3.5 19l2.5 1m-8.5 20h0m37.5 19h0m-2 1.5h0m39.5 17h0m-80.5-26.5h0m6.5 10l3 1"/><path stroke="#0071ff" d="M212 .5l2 1m9.5 3h0m-11.5-1.5l2.5 1m5.5 2h0m-75 8.5h0m16.5 8.5h0m19 9.5l2.5 1m-41.5-12.5l2.5 1m8 2.5h0m18.5 7h0m-28.5-8l2.5 1m21 7.5l2.5 1m8 3h0m13.5 5h0m-36.5-11h0m10.5 4h0m5 2l10.5 3.5m-2 2h0m-20.5-5h0m23.5 8.5h0m5.5 2h0m-78-23h0m5.5 1.5l7.5 3m1 5.5h0m63.5 23h0m5 2h0m-112.5-38.5h0m5 2h0m97.5 35.5h0m8 2.5h0m-118-40h0m105.5 38h0m20.5 8h0m-133.5-46.5h0m124 45.5h0m-128.5-44.5h0m126 46l5.5 2m-136.5-47h0m68.5 25h0m50 18h0m16 5.5l2.5 1m-15.5-3l3 1m7.5 3l7.5 2.5m-70.5-13h0m10.5 4l2.5 1m-41.5-12.5h0m-5 1h0m8 2.5h0m29 10.5h0m8 3h0m-73.5-24l5.5 2m5 2h0m5.5 1.5h0m5.5 2h0m42 15.5h0m15.5 5.5h0m-83.5-27.5l2.5 .5m-10-1h0m50 18.5h0m26.5 9.5h0m-84-28h0m81.5 29.5h0m-86-28.5h0m-5 .5h0m84.5 31h0m-9.5 1.5h0m-44.5-1l2.5 1m5.5 2h0m-10.5-1h0m5.5 2h0m-15.5-3h0m5.5 1.5l5 2m8 3l3 1m-13-2h0m5.5 2h0m-23.5-6l3 1m15.5 5.5h0m-18-4l5.5 2m3 3.5l5.5 2m-5 1l8 3m-28.5-8h0m.5 3h0m-1.5 4.5h0m116.5 60h0m-27 13l2.5 1m15.5 6h0m-17.5-4h0m16 8.5h0m-18-4h0m-93.5-29h0m-2 1.5h0m-1.5 2.5l2 .5m13 5h0m3 3.5h0m24 8.5h0m-25.5-4h0m11.5 9.5h0m15.5 5.5h0m-25.5-7h0m34.5 15.5h0m-2 1.5h0m3.5 6.5h0m-12.5-2h0m.5 2.5h0m.5 3h0m-2 1.5h0m4 9.5h0m-45-3.5h0"/><path stroke="#00aaff" d="M150.5 16.5l2.5 1m21 7.5h0m-33.5-9.5h0m-2 1.5h0m-4.5 3.5h0m-2 2h0m11.5 9.5h0m52.5 19h0m-78.5-26l5.5 2m34 12.5l8 2.5m5 2h0m8 3h0m5.5 2l2.5 1m-81-27h0m5 2h0m81.5 29.5l5.5 2m-107.5-36.5h0m109.5 39.5h0m-114-39h0m94.5 34.5h0m-107.5-36.5h0m8 3h0m92 33.5h0m25.5 9h0m-72-23.5h0m47 17h0m6 5h0m-123-42.5h0m68 25h0m50 18h0m5.5 2l2.5 1m-18-4l3 1m-42-12.5h0m37 13.5l5.5 2m5 1.5h0m-138.5-47.5h0m136.5 49.5h0m13 5l5.5 1.5m-63-20h0m29 10.5h0m16 5.5h0m5 2l5.5 2m-34-9.5h0m24 8.5h0m5 2l3 1m-55-17.5h0m50 18l5.5 2m-55-17.5h0m13 5h0m16 5.5h0m10.5 4h0m-15.5-3h0m5.5 2l2.5 1m5.5 2h0m-70.5-23.5h0m65.5 24h0m-73-24l2.5 1m13 5h0m-18-4h0m5.5 2h0m-31-9h0m34 12.5h0m53 19h0m-99.5-33.5h0m13 4.5h0m68.5 25h0m-86.5-28.5l2.5 .5m37.5 16.5h0m39.5 14h0m-87.5-29l1 .5m42 15l3 1m5 2h0m18.5 7h0m-18-4h0m22 13h0m-38-6h0m10.5 3.5l3 1m-23.5-6l2.5 1m21.5 8h0m26 9.5h0m-54.5-17.5h0m31.5 11.5h0m15.5 5.5h0m-54.5-17h0m29 10.5h0m5 2h0m-41.5-13l2.5 1m-7 0h0m13 5l2.5 1m5.5 1.5h0m-20.5-4.5l2.5 .5m13 5h0m-21 2.5h0m0 2.5h0m126.5 61.5h0m-55-4.5h0m51 23.5l2.5 1m-10-1h0m-28-5h0m-22-.5h0m49.5 28h0m-96.5-30l2.5 1m-15-3h0m7.5 3l3 1m47 17h0m50 18.5h0m-110-37.5h0m55.5 20l8 3m-73.5-24.5h0m5.5 2h0m63 23h0m18.5 7h0m-65.5-21.5h0m26.5 9.5h0m8 3h0m13 5l2.5 1m50 18h0m-107-36.5h0m74 29.5h0m-78.5-26h0m39.5 14.5l2.5 1m-2 1.5h0m10.5 4h0m-17.5-1.5h0m18.5 7h0m-2 1.5h0m-12.5 1h0m8 2.5h0m-15-3h0m4 4.5h0m-49-8h0m.5 3h0m-4.5 1h0"/><path stroke="#ffff00" d="M204 13h0m-68 18.5h0m-67.5-19.5h0m66 24l2.5 1m-78.5-26h0m85 36h0m8 3l2.5 1m-9.5 1.5h0m-12.5-2h0m13 5h0m-2 1.5h0m9.5 11.5h0m18.5 22h0m-2 1.5h0m-15-3l2.5 1m-93.5-26h0m76.5 27.5h0m23.5 8.5l3 1m-115.5-39h0m10.5 3.5h0m68.5 25h0m5 2h0m-91.5-31h0m16 6h0m-5 .5h0m-23-5.5h0m121.5 59.5h0m-3 11.5h0m5.5 2h0m-5 1h0m-100-24h0m19 9.5h0m-12.5 1h0m-4.5 .5h0m15 16l2.5 1m10.5 3.5h0m-19.5 .5l2.5 1m10.5 4h0m11 4h0m-18-4h0m7 12.5h0m-9 4.5h0m45 16.5h0m-2.5 1.5h0m-39.5-1.5h0"/><path stroke="#ffaa00" d="M205 5.5l2.5 1m5.5 2h0m.5 3h0m-12.5-2.5l10.5 4m-67 24l5 2m-2 2h0m1.5 8h0m-7.5 0h0m-2 2h0m8 2.5h0m-6 36.5h0m-91.5-31h0m-19-2h0m4 2l3 .5m123.5 45.5h0m-128.5-44.5h0m139.5 61h0m-8-.5h0m.5 3l5 2m-10-1.5l3 1m5 2l2.5 1m-12.5-2l8 3m-7.5-.5h0m9.5 3.5h0m-14-2.5h0m13.5 5h0m-10.5-1.5h0m5 2l3 1m-24.5 1.5h0m-11.5 3.5l2.5 1m-7 2.5h0m-2 1.5l2.5 1m-30.5 7h0m11.5 9h0m10.5 4h0m-20.5-5l13 5m-31-9h0m21 8l2.5 .5m-23-5.5l10.5 3.5m-13-2h0m5.5 2h0m-16.5 4.5h0"/><path stroke="#ffc600" d="M202.5 4.5h0m8 3h0m.5 3h0m-69.5 26h0m-10-1.5h0m8 3h0m8 31l3 1m23 18.5h0m-14 5.5h0m-7 2.5h0m-120.5-41.5h0m105.5 38.5h0m-2.5 1.5h0m34 25.5h0m-7-.5h0m-7 3h0m.5 2.5h0m.5 3h0m3 3.5h0m-4.5 1h0m-82 8h0m26.5 12.5h0m-32.5 11h0m21 8h0"/><path stroke="#001cff" d="M143 29h0m-45.5-6.5l8 3m-15.5-3h0m16 6h0m8 2.5l5 2m-33.5-9.5l2.5 1m5 2h0m26.5 9.5h0m-41.5-12.5h0m18.5 6.5l8 3m5 2h0m5.5 1.5l2.5 1m-47-14.5h0m29 10.5h0m8 3h0m5 2h0m8 3h0m-60-19.5l13 5m8 2.5h0m29 10.5h0m10.5 4h0m-62.5-20h0m10.5 3.5l8 3m5 2l2.5 1m8 3l8 2.5m5 2l11 4m-65.5-21.5l2.5 1m47.5 17.5h0m-57.5-18.5h0m5.5 2l2.5 1m60.5 22h0m8 3h0m-78.5-26l2.5 1m21 7.5h0m24 8.5h0m-49.5-15.5h0m21 7.5l2.5 1m8 3h0m15.5 6l3 1m-28.5-8h0m7.5 3l3 1m44.5 16l2.5 1m-52-16.5l8 3m10.5 4l13 4.5m21 8h0m-60-19.5h0m10.5 4l8 2.5m24 9l2.5 1m15.5 5.5h0m-65-21h0m50 18h0m-73-24l2.5 1m18.5 6.5l2.5 1m60.5 22h0m5 2h0m-88.5-30l5 2m5.5 2h0m5 2h0m55.5 20h0m18 6.5h0m16 6h0m-105-35.5l3 1m5 2h0m76.5 27.5l2.5 1m8 3l5 2m-96.5-33h0m79 29l5 1.5m-88.5-29.5h0m73.5 26.5l5 2m10.5 4h0m-14.5-.5h0m-71 18h0m-.5 10h0m-7.5 0h0m14 7.5h0m116 44.5l1 .5m-8.5-.5l7 2.5m-14-2.5h0m7.5 3l7 2m-17-3.5h0m5.5 2l10.5 4m-18-4l8 3m-12.5-2l2.5 .5m8 3l10 3.5m-23-5.5l5.5 2m5 2h0m5.5 2h0m-10-1.5h0m.5 3h0m-13-2h0m.5 2.5h0m-2 2l10.5 3.5m-12.5-2h0m17.5 17h0m.5 2.5h0m-107-36.5h0m26.5 12.5h0m55.5 20l2.5 1m5.5 2h0m15.5 5.5l7 2.5m-96-32.5l2.5 1m5.5 2h0m-39.5-11.5h0m32 11.5h0m10.5 4h0m52.5 19l3 1m13 4.5h0m5.5 2h0m-81.5-27l8 3m52.5 19h0m-54.5-17h0m55 20h0m8.5 5.5h0m-7.5 0h0m.5 2.5h0m-.5 2.5h0m-90.5-30.5h0m9 8.5h0m23.5 8.5h0m.5 3h0m-14.5-.5h0m8.5 5.5h0m5 2h0m-15.5-3l3 1m13 5l2 .5m-17.5-4l3 1m5 2h0m-37.5-11h0m9 3.5h0m21 7.5h0m-30-8.5h0m9.5 3.5h0"/><path stroke="#ff1c00" d="M42.5 59l2.5 1m80.5 103h0"/><path stroke="#ff8e00" d="M203 7.5h0m5 2h0m-63 30.5h0m-98 15.5h0m97 35.5l3 1m3 3.5h0m-115.5-39.5h0m113.5 41l2.5 1m-110-37.5h0m-11-1l1 0m131.5 48h0m-74.5-17l3 1m-5 1l5.5 2m78.5 28.5l1.5 .5m-8.5-.5h0m-34-10h0m29 11h0m8 2.5h0m-41.5-12.5h0m5 2h0m5.5 2h0m34.5 12.5h0m-39.5-12h0m-20.5-4.5l5.5 1.5m47 17.5l3 1m-55-17.5h0m50 18h0m6.5 2.5h0m-6 .5l2.5 1m-27.5-2.5h0m-9.5 1.5l10.5 4m-10-1h0m8 3h0m-7.5-.5l5.5 2m-5 1h0m0 12.5h0m-10-1l2.5 1m-7.5 0h0m-15-3h0m5.5 4.5l3 1m5 2h0m-23-6l2.5 1m8 3l5 1.5m5.5 2l5 2m-33.5-9.5l2.5 1m5.5 1.5l5 2m-12.5-2l2.5 1m10.5 4l3 1m-5 .5l2.5 1m-15-3h0m5 2l2.5 1m-15-3h0m10.5 4h0m5 1.5h0m-17.5-4l15.5 6m61 22h0m-79-26l8 3m13 4.5h0m58 21h0m-78.5-26l5.5 2m5 2l3 1m5 2h0m59.5 21.5h0m-80-26.5l2.5 1m5.5 2l2.5 1m5.5 1.5l2.5 1m-15.5-3l5.5 2m-5 1l5.5 2m5 1.5h0m-12.5-2l2.5 1m5.5 2l2.5 1"/><path stroke="#39ffc6" d="M212.5 6h0m9 3h0m-29.5-8h0m5 2h0m-13-2.5l3 1m-4.5 1h0m26.5 12.5h0m5.5 1.5h0m-51.5-16h0m7 2.5h0m5.5 2h0m5 2h0m32 11.5h0m-52.5-16.5h0m56 20.5h0m-58-18.5h0m-16-3.5h0m16.5 6h0m18.5 7h0m-28.5-8h0m8 3h0m5 2h0m18.5 6.5h0m-47-14.5h0m5.5 2l2.5 1m13 4.5h0m5.5 2h0m5.5 2h0m15.5 5.5h0m-28.5-7.5h0m8 3h0m5 1.5h0m8 3h0m5.5 2h0m-60-19.5h0m5 2h0m37 13.5h0m16 6h0m-68-22.5h0m-8.5-.5h0m14 5.5h0m-15-3h0m15.5 5.5h0m-10-1h0m26.5 9.5h0m-31-9h0m5 2h0m8 3h0m5 2h0m-46.5-14.5h0m23.5 8.5h0m5.5 2l2.5 1m15.5 5.5h0m-52-16.5h0m39.5 14.5h0m-41.5-12.5h0m21 7.5h0m31.5 11.5h0m10.5 4h0m8 3h0m-55-17.5h0m8 3h0m-7.5-.5h0m47.5 17.5h0m26.5 9.5h0m-101.5-32h0m73.5 27h0m-73-24h0m81.5 29.5h0m5 2l2.5 1m16 5.5h0m-102-34.5h0m76 28h0m-4 3.5h0m-2 1.5h0m3.5 6.5h0m15.5 6h0m5.5 2h0m-17.5-1.5h0m8 3h0m.5 2.5h0m10.5 4h0m29.5 13.5h0m-15.5-3.5l2.5 1m-20-2l5.5 2m-7.5 0h0m35.5 13h0m-106-36.5h0m97.5 35.5h0m-81-27h0m-28.5-7.5h0m7.5 2.5h0m16 6h0m-33.5-10h0m58 24h0m8.5 5.5l2.5 1m34.5 12.5h0m-36.5-10.5h0m-60-19.5h0m29 10.5h0m29 10.5h0m-36.5-10.5l2.5 1m21.5 10.5h0m-12.5-2h0m-47-14.5h0m23 18.5l3 1m73.5 26.5l2.5 1m-83.5-28h0m84 31h0m-83.5-28h0m81.5 29.5h0m-9.5 2h0m-78-23.5h0m92 33.5h0m-96.5-32.5h0m18.5 9.5h0m-4.5 .5h0m5 2h0m8 15.5h0m8 3l5 2m-28.5-8l3 1m3 3.5h0m5 2h0m21 8h0m-39-12h0m24.5 11.5h0m-28-5h0m90 35h0m-94.5-31.5h0m89.5 32.5l3 1m-94.5-31.5h0m87 31.5h0m10 8.5h0m-48-15h0m39.5 14.5l2.5 1m-52-16.5h0m50 18.5h0m-83.5-25.5l5.5 2m31.5 11.5h0m5 2l3 1m-44.5-13.5h0m42 15l3 1m-69-15h0m8 6h0m37 13.5h0m64 23h0m-118.5-40.5h0m53 22h0m18.5 6.5h0m1 5.5h0m-73.5-24h0m70 33h0"/><path stroke="#1cffe3" d="M202 2h0m18.5 6.5h0m-29.5-8h0m9 3h0m18 7h0m-1.5 4.5l2 .5m-43.5-13h0m37 13.5h0m-47-14.5h0m44.5 16h0m6.5 2.5h0m-50.5-16h0m10.5 4h0m23.5 8.5h0m-44-13.5h0m5 2l3 1m7.5 2.5h0m-28.5-7.5l3 1m8 5.5h0m11 4h0m10.5 3.5h0m-47-14.5h0m15.5 6l3 1m5 1.5h0m5.5 2h0m-36-10.5h0m12.5 4.5h0m8 3h0m5.5 2h0m7.5 3l3 1m5 2h0m-49-15.5l2 1m11 3.5l2.5 1m29 10.5h0m-42-12.5h0m5.5 2h0m-10-1h0m8 2.5l8 3m-26-7h0m8 3l2.5 1m5 2h0m-10-1h0m8 2.5h0m-28.5-7.5h0m5.5 2l2.5 1m13 4.5l3 1m5 2h0m-41.5-12.5h0m8 3l2.5 .5m8 3h0m13 5h0m-36.5-11h0m16 6l2.5 1m-4.5 .5h0m21 8h0m15.5 5.5l3 1m7.5 3h0m-46.5-14.5h0m8 3h0m5 2h0m13 4.5h0m18.5 6.5h0m-41.5-12.5h0m39.5 14.5h0m-44.5-13.5l3 1m73.5 26.5h0m8 3h0m-28-5h0m8 3h0m-86.5-29h0m71 26h0m35.5 18h0m-15-.5h0m-2 2h0m7.5 2.5h0m-15-3l2.5 1m-12.5-2h0m5 2l3 1m18 6.5l8 3m-31-8.5h0m5.5 1.5h0m15.5 6l5.5 2m-18-4h0m29 10.5h0m13 4.5h0m-43-8h0m-73.5-24l2.5 1m71.5 26h0m37 16h0m-118-40.5h0m-2 2h0m-18-4h0m31.5 11.5h0m53 19h0m-2.5 2h0m-54.5-17.5h0m.5 2.5h0m13 5l2.5 1m-10-1l3 1m-20.5-5h0m21 7.5h0m10.5 4h0m-36.5-11h0m39.5 14.5h0m18.5 7h0m-63-20.5h0m5.5 2h0m44.5 16.5h0m-52-16.5h0m25 16.5l3 1m-5 1h0m10.5 4h0m-51-16.5h0m36 13.5h0m84 30.5h0m-80.5-24.5h0m55 20.5h0m-48-7.5h0m8.5 18.5h0m10.5 3.5h0m-7.5 0h0m-7.5 0h0m5.5 2h0m15.5 5.5h0m-2 2h0m-12.5-2h0m3 3.5h0m62 30l1.5 .5m-101-34h0m99.5 39h0m-9-1h0m5.5 2l3 1m-8 0h0m5.5 1.5h0m-49.5-15h0m7.5 2.5h0m8 3h0m-17.5-1h0m5.5 1.5h0m42 15.5h0m-39-11.5h0m-62.5-20.5h0m10.5 4l2.5 1m8 3h0m-20.5-5l2.5 1m50.5 21h0m-54.5-15h0m21.5 8h0m81 29.5h0m-2 1.5h0m-62.5-20h0m.5 2.5h0m18.5 7l8 3m-81-27h0m52.5 19h0m8 3h0m5 2h0m10.5 3.5h0m-23-6h0m8 3l2.5 1m15.5 6h0m-89-30l3 1m68.5 25l2.5 1m15.5 5.5h0m-2 2h0m-7.5-.5h0m-4.5 1h0m-4.5 1h0"/><path stroke="#ff5500" d="M142 39h0m4.5 50l5 2m-99.5-33.5h0m-10-1.5l3 1m102.5 37.5h0m-7.5 0l5 2m-112.5-38.5h0m127 64h0m-70 33h0m5.5 2h0m5 2h0m18.5 6.5h0m-33.5-9.5h0m.5 5.5h0m-2.5 11.5l2.5 1"/><path stroke="#0000e3" d="M111.5 33h0m-25-4h0m5 2h0m-4.5 .5l2.5 1m-25.5-4l3 1m50 18h0m-60.5-19l8 2.5m8 3l8 3m26 9.5h0m-33.5-9.5h0m26.5 9.5h0m7.5 2.5l3 1m5 2h0m-70.5-23l5.5 2m5 2h0m39.5 14l18.5 7m-73-24l13 4.5m52.5 19.5h0m-72.5-24l12.5 4.5m-10-1l8 2.5m-10-1l2.5 1m5.5 2l2.5 1m61.5 27.5l2.5 1m-1.5 4.5h0m-76.5 25.5l2.5 1m8 3h0m-12.5-2l5 2m-7 0h0m16 8.5h0m-7.5-.5l5.5 2m-10-1h0m-5 .5l2.5 1m5.5 2l2.5 1m-11-1.5l6.5 2.5m94.5 62.5h0m-2 2l5.5 2m-10-1.5l13 5m-15.5-3l16 5.5m-15.5-3l3 1m5 2l8 3m-15.5-3h0m8 3h0m5.5 1.5l2.5 1m-15.5-3h0m16.5 8.5h0m-7.5 0l5.5 2m-12.5 .5l8 3m-12.5-2l13 4.5m-81-27l15.5 6m53 19h0m-68-22l5 2m5.5 2l2.5 1m-23-6h0m8 2.5l10.5 4m-23.5-6l18.5 7m-20.5-5l16 5.5m-31.5-8.5l8 3m18.5 6.5l2.5 1m8 3l2.5 1m-39-12l5.5 2m21 8l8 2.5m-34-9.5l10.5 3.5m5.5 2h0m13 5h0m5.5 2h0m-34-10l10.5 4m5.5 2h0m18.5 6.5h0m-36.5-10.5l16 5.5m13 5h0m5.5 2h0m-34-10l16 6m-20-4.5l2 .5m8 3l15.5 5.5m13.5 5h0m-38.5-11.5l4.5 1.5m10.5 4l2.5 1m.5 2.5h0m5.5 2h0m-10-1l8 3m-13-2h0m5.5 1.5l3 1.5"/><path stroke="#c6ff39" d="M207 4h0m8.5 5.5h0m-15-3h0m-7 2.5h0m7.5 3h0m5.5 2h0m-10-1h0m-15.5-3l8 2.5m5.5 2h0m-15.5-3l2.5 1m6 4.5h0m-108-11h0m-7 0h0m68.5 27.5h0m-73-24h0m66 24h0m-73.5-24h0m71.5 28.5h0m10.5 3.5h0m11 4h0m-2.5 2h0m5.5 2h0m-15.5-3.5h0m-2 2h0m3.5 6.5h0m8 3h0m-5 .5h0m34.5 28h0m5.5 2h0m-.5 2.5h0m-19.5-4.5h0m5 1.5h0m10.5 4h0m-20.5-5h0m5.5 2h0m-91.5-31h0m84 31h0m5.5 2h0m11 6.5h0m-5 .5h0m8 3h0m-41.5-12.5h0m18.5 6.5h0m-26-6.5l5 1.5m-78-26l2.5 1m-5 1h0m79 28.5h0m-4.5 1l5 2m8 3h0m25.5 19.5h0m-22.5 9.5h0m-74.5-17h0m-7.5 0h0m5.5 2h0m-13-2l3 1m.5 2.5h0m13 5h0m-12 .5h0m.5 2.5h0m60.5 22.5h0m-48-7.5l2.5 1m-7 2.5l5 2m5.5 2h0m-15.5-3h0m8 2.5h0m8 3h0m13 5h0m-33.5-10h0m8 3h0m5 2h0m5.5 2h0m5 2h0m-23-6h0m13 4.5l2.5 1m76 28h0m-83-28h0m5 2h0m-7.5 0l3 1m22 13h0m-41.5-12.5h0m97 35h0m-33-6.5h0m-49-13h0m42 15.5l5.5 2m-5 .5l2.5 1m-72-18.5h0m-20.5-2.5h0m1.5 5.5h0"/><path stroke="#00c6ff" d="M174.5 12.5h0m-38-6.5h0m11 7h0m-7.5-.5h0m15.5 6l3 1m13 4.5h0m-35.5-5h0m-4.5 .5h0m-33.5-7h0m40 17.5h0m10.5 3.5l3 1m39 14.5l3 1m-86.5-29h0m47.5 17.5h0m13 4.5h0m5.5 2h0m23.5 8.5l2.5 1m-110-37.5l3 1m5 2l2.5 1m79 28.5l10.5 4m11.5 4h0m-113.5-38.5h0m81.5 29.5h0m5.5 2h0m7.5 3l3 1m-60-19.5h0m47 17.5l5.5 1.5m-7.5 0h0m-107.5-36.5l3 1m105 38.5h0m-110-37.5h0m66 23.5h0m44.5 16.5l5.5 2m-15.5-3l2.5 1m8 2.5h0m-47-14.5h0m37 13.5h0m-5 1l3 1m10.5 4h0m-10-1.5h0m13 5h0m5.5 2l2.5 1m11 4h0m-42-13l2.5 1m15.5 6h0m18.5 6.5h0m4.5 1.5h0m-64.5-21h0m47.5 17.5h0m10.5 3.5l2.5 1m-18-4h0m13.5 5l6 2.5m-21.5-5.5h0m-7.5 0h0m5.5 2h0m-23-6h0m5 2h0m13 4.5h0m-70.5-23l3 1m5 2h0m-36.5-11l3 1m13 5l2.5 1m5.5 2h0m8 2.5h0m47 17.5h0m-81-27h0m26.5 9.5l2.5 1m5.5 2h0m57.5 21h0m-104.5-35.5h0m8 3h0m5 1.5h0m39.5 14.5h0m-52-16.5h0m31.5 11.5h0m5 2h0m42.5 15.5h0m-89-30h0m50 18l2.5 1m5 2l3 1m-26-7h0m8 3h0m5 2l5.5 2m8 3h0m-20.5-5l2.5 1m5 2l3 .5m5 2h0m8 3l2.5 1m-7.5 0h0m5.5 1.5h0m-60-19h0m29 10.5h0m31.5 11.5h0m-39-11.5h0m5.5 2h0m28.5 10.5h0m-52-16.5h0m13 4.5h0m13.5 5l5 2m-15-3l2.5 1m18.5 6.5h0m.5 2.5h0m-28.5-7.5h0m50 18h0m-62.5-20h0m34 12.5h0m8 2.5h0m-18-4h0m13 5h0m-51-16l1.5 .5m5.5 2l2.5 1m13 4.5h0m11 7h0m-33-10h0m67.5 50.5h0m55.5 20h0m-62-15h0m1 5.5h0m-1.5 4.5h0m5.5 2h0m13 17.5h0m-5 1l2.5 1m5.5 2l2.5 1m-18-4h0m-2 1.5h0m13 5h0m5.5 2h0m-18-4h0m44.5 16l3 1m-102.5-34.5h0m76.5 27.5h0m-76-25h0m.5 3h0m16 5.5h0m47.5 17.5h0m-63-20.5l3 1m47 17.5l3 1m-5 .5h0m5.5 2l10.5 4m40 14.5h0m-116-39.5h0m16 5.5h0m52.5 19l2.5 1m5.5 2h0m-76-25h0m52.5 19h0m10.5 4l10.5 4m32 11.5h0m-63-20.5h0m13.5 5l2.5 1m8 2.5l2.5 1m5 2h0m5.5 2h0m-70.5-23l2.5 1m34.5 12.5h0m10.5 3.5l7.5 3m-77-25.5h0m12 4.5l2.5 1m52.5 19h0m-54.5-17.5h0m5 2h0m42 15.5h0m-10-1.5h0m10.5 4l3 1m5 2h0m24 8.5h0m-44.5-13.5l10.5 4m10.5 3.5l3 1m5 2h0m-26-7h0m13.5 5h0m5 2l5.5 2m-26-7l2.5 1m5.5 2h0m10.5 3.5l2.5 1m-20.5-5h0m5.5 2h0m5 2h0m5.5 2h0m-10-1l2.5 1m5 1.5l1 .5m-16-3.5l8.5 3.5m-60-7l2 1m.5 2.5l2.5 1m-6.5 .5h0"/><path stroke="#00ffff" d="M206.5 1h0m15.5 6h0m-22.5-6h0m-5 1h0m19.5 12h0m-44-13.5h0m7.5 3l2.5 1m-12.5-2.5h0m5.5 2h0m-5 1l5.5 2m-7.5-.5h0m8 3h0m-26-6.5h0m13 4.5l8 3m-18-4h0m16 5.5l2.5 1m-33.5-9.5h0m26 9.5h0m-36-10.5h0m13 4.5h0m10.5 4h0m-10-1l5 2m8 2.5l2.5 1m-48-15h0m27.5 10h0m-31-8.5l5.5 2m21 7.5l5 2m-28.5-8h0m13.5 5l5 2m5.5 2l2.5 .5m-20.5-4.5h0m8 2.5h0m13 5h0m-12.5-2h0m-34-10l3 1m7.5 3h0m24 8.5l2.5 1m-33.5-9.5l2.5 1m31.5 11.5l2.5 1m5.5 1.5h0m-44.5-13.5l3 1m10.5 4h0m23.5 8.5h0m8 3h0m-34-10h0m13.5 5h0m39.5 14.5h0m5.5 4.5l8 3m5 2h0m-44-13.5h0m34 12l3 1m7.5 3h0m-96.5-32.5l2.5 1m84 30.5l8 3m-104.5-36l2.5 1m60.5 22h0m34 12.5l5.5 2m-7.5 0l8 3m-39-12h0m37 13.5h0m-39-11.5h0m28.5 10.5h0m.5 2.5h0m-1.5 4.5h0m8 3l2.5 1m-36-10.5l2.5 1m24 11h0m-25.5-6.5h0m7.5 2.5h0m26.5 10l2.5 1m-39-12h0m21 8h0m8 2.5h0m13 5h0m5.5 2l5 2m8 2.5h0m-22.5-3h0m-99-31h0m79 29h0m5 1.5h0m-70.5-23h0m60.5 22h0m-91.5-30.5h0m42 15h0m39.5 14.5h0m10.5 4h0m-65-21.5h0m5 2h0m10.5 4h0m37 13.5h0m-89-30h0m31.5 11.5h0m52.5 19h0m-54.5-17h0m26.5 12l3 1m10.5 4h0m-41.5-12.5h0m5 1.5h0m8 3h0m8 3h0m18.5 6.5h0m-34-9.5h0m21 7.5h0m13.5 5h0m-63-20.5h0m31.5 11.5h0m16 6h0m18.5 6.5l2.5 1m-31-8.5h0m5 1.5l3 1m13 5l2.5 1m-60-19.5h0m10.5 4h0m45 16h0m5 2l2.5 1m-54.5-17.5h0m42 15.5h0m-49.5-15.5h0m-14.5 0h0m36.5 13h0m8 3h0m5.5 2h0m-5 1h0m64 28.5h0m-78-23.5h0m-4 3.5h0m19 9.5h0m7.5 15.5h0m.5 3h0m10.5 3.5h0m-20-2h0m5.5 2h0m-18-4h0m30 16l2.5 1m-7 2.5h0m56 23h0m-5 .5h0m6 5h0m-102.5-35h0m92 33.5h0m-28-7.5h0m36.5 13.5h0m-41.5-13h0m5.5 2l2.5 1m-15.5-3l8 3m5.5 2h0m-10-1.5h0m5 2h0m5.5 2h0m-65-18.5h0m16 6h0m55 20h0m-68-22h0m42 15h0m5.5 2h0m5 2h0m42.5 15.5h0m-81-27h0m42 15h0m-41.5-12.5h0m21.5 10.5h0m52.5 19h0m-112.5-38.5h0m15.5 6h0m45 16h0m-67.5-22l4.5 2m60.5 22h0m18.5 6.5h0m37 13.5h0m-115.5-39.5l3 1m-5 1l2.5 1m58 21h0m8 3h0m8 2.5h0m7.5 3l3 1m-26-7h0m18.5 7h0m8 3h0m-81-27h0m68 24.5h0m5.5 2h0m-5 1l3 1m7.5 3h0m-33.5-10h0m5 2h0m16 5.5h0m-4.5 1h0"/><path stroke="#00e3ff" d="M209.5 2h0m-11.5-1.5h0m19.5 7h0m-40.5-7l2.5 1m-7 0h0m5.5 4.5h0m-9.5 1.5h0m3 4h0m.5 2.5h0m-41.5-12.5h0m18.5 6.5h0m-18-3.5h0m13 4.5h0m-10-1l3 1m13 4.5h0m-39-11.5h0m26.5 9.5h0m23.5 9l8 2.5m-68-22h0m37 13.5h0m-34-10h0m24 9h0m7.5 2.5h0m-18-4h0m5.5 2l5.5 2m-39-11.5h0m34 12.5l5 2m-2 1.5l2.5 1m-64.5-21h0m31 11.5h0m5.5 1.5l2.5 1m26 9.5h0m-36-10.5l5 2m42.5 15.5h0m5 1.5h0m-60-19h0m8 3h0m8 2.5l2.5 1m10.5 4h0m10.5 4h0m50 18h0m13 5l5.5 1.5m-99.5-33.5h0m73.5 27h0m5.5 2l2.5 .5m.5 3l2.5 1m-99.5-33.5l2.5 .5m116.5 42.5h0m-129-44.5h0m55.5 20.5h0m3 3.5h0m-70.5-23h0m102.5 37l2.5 1m5.5 2h0m-10-1h0m10.5 4h0m-10-1.5h0m-31-8.5h0m26 9.5h0m-25.5-7h0m39 14.5h0m8 3h0m-28.5-8h0m10.5 4l8 3m24 8.5h0m-60-19.5h0m15.5 6h0m23.5 8.5h0m21.5 7.5h0m-63-20h0m5.5 2h0m39.5 14h0m-31-8.5h0m10.5 4h0m7.5 2.5h0m-6.5 2.5l2.5 1m8 3h0m-68-22h0m52.5 19h0m10.5 4h0m-83.5-28h0m79 28.5h0m-92-30.5h0m21 7.5h0m55.5 20h0m8 3l2.5 1m-97-32.5h0m26.5 9.5l10.5 3.5m8 3h0m47.5 17.5l2.5 1m-102-35h0m10.5 4l2.5 1m29 10.5h0m8 3l2.5 1m-20.5-5h0m5 2l2.5 1m37 13h0m-86.5-28.5h0m58 21l2.5 1m-23-6l2.5 1m16 5.5h0m-44.5-13.5h0m29 10.5h0m16 6l2.5 1m5.5 2h0m5 1.5h0m-60-19h0m21 7.5l3 1m28.5 10.5l3 1m-39-11.5h0m5 2h0m5.5 1.5l2.5 1m21 8h0m5.5 1.5l7.5 3m-77.5-25.5h0m17.5 6.5l3 1m5 1.5h0m5.5 2l8 3m10.5 4h0m5 1.5h0m10.5 4l5.5 2m-42-12.5h0m26.5 9.5h0m18.5 6.5h0m-52-16.5h0m47 17.5l5.5 2m-55-17.5h0m53 19h0m-20.5-4.5h0m5 1.5h0m-57-18h0m34.5 15h0m-34-9.5h0m29.5 13h0m.5 3l5.5 1.5m34 41h0m-12.5-2h0m5.5 1.5l5 2m-12.5-2h0m8 3l2.5 1m-2 1.5l7.5 3m-10-1h0m-4.5 1h0m5 1.5h0m37 13.5h0m19 9.5h0m-23.5-6h0m-77.5-23l2.5 1m95 37h0m-44-13.5h0m36.5 13.5l3 1m-2 4.5h0m-31-9h0m-14.5 0l5 1.5m-47-14.5l3 1m39.5 14.5h0m5 2h0m.5 2.5l2.5 1m-70.5-23h0m8 3h0m68.5 25h0m-68-22.5h0m63 23h0m5.5 2h0m-62.5-20h0m42 15h0m-60-19l5 1.5m8 3h0m66 24h0m29 10.5h0m5 2h0m-120.5-41.5h0m89.5 33h0m-91.5-31h0m15.5 5.5l3 1m39.5 14.5h0m8 5.5h0m18.5 7h0m-10-1h0m5.5 1.5h0m5 2h0m-26-7l5.5 2m8 3h0m17.5 6.5h0m-38-11.5h0m5 2h0m24 8.5h0m-28.5-7.5h0m-2.5 1.5h0m10.5 4h0m5.5 2h0m-20.5-5h0m-51 4.5h0"/><path stroke="#0055ff" d="M219 .5l5 2m-7.5 0l5.5 1.5m-5 1h0m-74 11.5l2.5 1m10.5 3.5l3 1m5 2l2.5 1m-25.5-7h0m5 2h0m5.5 2l5 2m18.5 6.5h0m-36-10.5h0m7.5 2.5l3 1m5 2h0m5.5 2l7.5 3m5.5 2l2.5 1m5.5 1.5l2.5 1m-31-8.5l10.5 3.5m15.5 6l8 3m-41.5-13h0m5.5 2h0m5 2l5.5 2m21 7.5h0m5 2h0m-36-10.5h0m5 2h0m5.5 1.5l2.5 1m5 2h0m10.5 4l8 3m-28.5-8l18.5 6.5m5.5 2h0m-91-25h0m18.5 6.5l5.5 2m5 2h0m-33.5-10h0m100 36.5h0m-5 1l3 1m5 1.5h0m-118-40h0m50 18h0m58 21h0m8 3l5 2m-128-44.5h0m57.5 21.5h0m60.5 22h0m5.5 1.5l2.5 1m.5 3l2 .5m-17-3.5h0m7.5 3h0m-139-48.5l3 1m131.5 48h0m-141.5-49h0m7.5 3h0m76.5 28h0m.5 2.5h0m-90.5-30.5l1.5 .5m46.5 24.5h0m5 2l5.5 2m5 2h0m34.5 12.5l7.5 2.5m8 3h0m-83.5-28h0m5 2l8 3m8 3l2.5 1m37 13h0m5 2l2.5 1m5.5 2h0m-78.5-26h0m68.5 25l2.5 1m8 2.5h0m-36.5-10.5h0m24 8.5h0m5 2h0m-86-29h0m57.5 21.5h0m21 7.5h0m-20.5-5h0m-39 14h0m5 1.5l5.5 2m-7.5 0h0m-4.5 3.5h0m-23-6h0m16 6l2.5 1m-23-6l13 5m10.5 3.5h0m-26-6.5l5.5 1.5m8 3l2.5 1m-12.5-2h0m10.5 4h0m5 1.5h0m-18-4h0m8 3l8 3m-21-2.5h0m17 9h0m.5 2.5h0m-1.5 4.5h0m116 44.5h0m-7 0h0m-118-40h0m113 41h0m-18 9h0m.5 2.5l2.5 1m-2 2l2.5 .5m.5 3h0m-14.5-.5h0m.5 3h0m-96-27.5h0m118.5 43.5h0m-105-36h0m-17.5-3.5h0m7.5 2.5l2.5 1m-4.5 1h0m10.5 3.5h0m18.5 7h0m-7.5 0h0m64.5 31h0m-81-27h0m39.5 14.5h0m42 15h0m-73-24h0m29 10.5h0m44.5 16.5h0m-49.5-15.5h0m-31-9h0m-17-3.5l7 2.5m37.5 16.5h0m-1.5 7h0m-2 2h0m3 3.5l3 1m-43-5.5h0m-2 7h0"/><path stroke="#e3ff1c" d="M216 12h0m-14.5 2.5h0m-17-1l5 2m-126-5h0m89.5 32.5h0m-6 8h0m3 3.5h0m-2 2h0m2 11h0m25.5 19.5l2.5 1m-10-1.5h0m8 3h0m8.5 3h0m-16-3h0m-12.5-2h0m5 2h0m5.5 1.5h0m-15.5-3h0m13.5 5l5 2m-7.5 0h0m5.5 1.5h0m-36.5-10.5l2.5 1m5.5 2h0m29 10.5h0m10.5 4h0m-118-40.5h0m76.5 27.5h0m-86-26h0m5.5 2h0m5 2h0m79 28.5h0m-102-34.5h0m10.5 4h0m8 2.5l2.5 1m76 28l3 1m-51.5-11h0m35 30.5h0m29.5 13.5h0m1 5.5h0m-10-1.5h0m.5 3h0m-82.5-22.5h0m-12 3.5l5.5 2m6 4.5h0m4.5 12h0m-2.5 1.5h0m18.5 7h0m-12 .5h0m-5 1h0m16 5.5h0m-34.5 .5h0m65 31l2.5 1m-26-7h0m26.5 9.5h0m-2 2h0m-46.5-12h0m15.5 6h0"/><path stroke="#71ff8e" d="M187.5 4.5h0m-4.5 .5h0m3 4h0m29 10.5h0m-18-4h0m-44.5-13.5h0m24 8.5h0m18.5 7h0m-39-12h0m34 12.5h0m-52-16.5l2.5 1m18.5 7h0m11 6.5h0m5.5 2l2.5 1m-7.5-.5h0m5.5 2h0m-55-17.5h0m44.5 16.5h0m-72.5-19h0m3.5 4l3 1m-15.5-3h0m-7.5 0l2.5 1m34.5 12.5l2.5 .5m-41.5-12.5h0m3 4l2.5 1m26.5 9.5l5.5 2m-44.5-14l2.5 1m8 3h0m52.5 19h0m-75.5-25h0m3 4h0m97.5 35.5h0m-99.5-34h0m8 3l2.5 1m63 23h0m8 3h0m21 7.5h0m-99.5-33.5l2.5 1m87 31.5h0m-94-32h0m84 31h0m-83.5-28h0m78.5 28.5h0m21 8h0m-16.5 1.5h0m.5 2.5h0m-5 1h0m41.5 25h0m12 4.5h0m-19.5-4.5l2.5 1m-10-1h0m-4.5 .5h0m21 8h0m5 1.5h0m-117.5-40h0m89.5 32.5h0m-89-30l2.5 1m8 3h0m57.5 21h0m16 6h0m29 10.5h0m-112-36l2.5 1m97.5 35.5h0m-44.5-13.5h0m34.5 12.5h0m-89-30h0m52.5 19h0m-55-17h0m60.5 22h0m-41.5-12.5h0m26.5 9.5l8 2.5m5 2l2.5 1m4 6.5l2.5 1m-57-3h0m71.5 28.5h0m3 4h0m-7.5-.5h0m-78-23l3 1m84 30.5h0m-91.5-30.5l2.5 .5m5.5 2h0m63 23h0m-60-19h0m-7.5-.5h0m11 7h0m-26-7l3 1m13.5 7.5h0m-15-.5h0m13.5 5h0m9 8.5h0m-5 .5h0m13 5h0m48 20h0m-51.5-14h0m-20-2h0m63 23h0m-60-19.5h0m15.5 6h0m37 13.5h0m37 13h0m-97-32.5h0m18.5 6.5l2.5 1m66 24h0m-94.5-31.5h0m10.5 3.5l3 1m5 2l5.5 2m29 10.5h0m-55-17.5h0m5.5 2l7.5 3m8 3l2.5 1m-25.5-7h0m13 4.5l2.5 1m10.5 4h0m76.5 28h0m-102-35h0m8 3h0m5 2l5.5 2m5 2h0m-18-4h0m8 2.5h0m37 13.5h0m1.5 23.5h0m5.5 2h0m-76-25l3 1m-5 1h0m79.5 34h0"/><path stroke="#8eff71" d="M219 13.5h0m-29-8h0m5.5 2h0m-10-1.5h0m-2 2h0m5 2l5.5 2m-38-11.5h0m23.5 14h0m-36.5-11h0m25 14h0m-72-15.5h0m-10-1.5h0m8 3h0m16 6h0m-31.5-9h0m33 17l7.5 3m-43.5-11h0m63 23h0m5.5 2l5 2m-91.5-31h0m8 3h0m5 2h0m8 3h0m60.5 22h0m-83.5-28h0m15.5 5.5h0m5.5 2l2.5 1m50 18h0m-60-19l2.5 1m63.5 23h0m10.5 3.5l2.5 1m-91.5-30.5h0m73.5 26.5h0m16.5 8.5h0m6.5 10.5h0m-18-4h0m13.5 4.5h0m29 26h0m5.5 2h0m.5 2.5h0m-25.5-4h0m-91.5-30.5h0m105 38h0m-102-34.5l2.5 1m100 36.5h0m-123-42.5h0m13 5h0m74 26.5h0m7.5 3h0m-86-29l5 2m66 24h0m29 10.5h0m-120.5-41h0m15.5 5.5l3 1m63 23h0m39.5 14.5l2.5 1m-44-14h0m11 7h0m-4.5 3.5l8 2.5m31.5 11.5h0m-28.5-7.5h0m15.5 18.5h0m3.5 3.5h0m-88.5-27h0m80 34h0m.5 3l2.5 1m-83.5-25.5h0m-10-1l5.5 2m5 2h0m8 3h0m-12.5-2.5h0m-5 1h0m10.5 4h0m-20-2.5l2.5 1m-2 2h0m18.5 6.5h0m-.5 10h0m13 5h0m-17 1.5h0m24 8.5l2.5 1m39.5 14.5h0m-70.5-23.5h0m21.5 10.5h0m71 26h0m-94.5-32l3 1m5 2h0m16 6h0m-18-4l2.5 1m-12.5-2h0m26 9.5h0m-31-9h0m26.5 9.5h0m-28.5-7.5h0m105 38h0m-96.5-32.5h0m37.5 19h0m-58-8.5l3 1m105 38.5h0m-123.5-35h0m4.5 1.5h0"/><path stroke="#ff3900" d="M154.5 92h0m-12.5 .5h0m-102-34.5h0m82 101.5h0m-2 1.5l2.5 1m-7 0l7.5 3m-2 1.5h0"/><path stroke="#aaff55" d="M204.5 3h0m-11.5 3.5h0m-5 .5l2.5 1m5.5 2h0m3 3.5h0m5.5 2h0m-47-14.5h0m21 8h0m13 4.5h0m.5 3h0m-10-1.5l3 1m-50-15.5h0m-43.5 2h0m-22 2.5h0m5.5 2h0m-2 1.5h0m60.5 22h0m-73.5-24l3 1m10.5 4h0m57.5 21h0m5.5 2h0m-70.5-23.5h0m8 3h0m82 32.5h0m1 5.5h0m-20.5-5h0m15.5 6h0m-18-4h0m.5 2.5l3 1m3 3.5h0m.5 3l2.5 1m29.5 26h0m7.5 3h0m-17.5-4h0m.5 2.5h0m10.5 4h0m5 2h0m-110-37.5l2.5 1m108.5 41.5h0m-49.5-15l2.5 .5m5.5 2h0m-94-31.5h0m115.5 42l2.5 1m-104.5-35.5h0m8 3h0m60.5 22h0m-63-20.5h0m47.5 17.5l2.5 1m13.5 4.5h0m-18-4l2.5 1m5.5 2h0m-62.5-17.5h0m79 28.5h0m-72-3h0m85 33.5h0m.5 2.5h0m5 2h0m-12.5-2h0m16 5.5h0m-10-1h0m-93-23.5h0m16 6h0m-2.5 1.5h0m-15-3l5 2m5.5 2h0m5 2h0m-4.5 .5h0m-7.5 0l2.5 1m12 12h0m-7.5 0h0m21.5 7.5h0m-18-4h0m10.5 4h0m8 3h0m-18-4l2.5 1m13 4.5h0m-2 2h0m-18-4h0m8 3h0m-5 .5h0m5.5 2h0m-12.5-2h0m-10-1h0m5 1.5h0m16.5 8.5h0m-25.5-4l2.5 1m16 6h0m76.5 43h0m-62.5-20h0m60.5 22h0"/><path stroke="#008eff" d="M142.5 13.5h0m5.5 2h0m-1 10l3 1m21 7.5l2.5 1m-39-11.5h0m31.5 11.5h0m-31-9h0m58 21h0m-39-11.5h0m34 12.5h0m-7.5 0h0m-78-26h0m21 7.5h0m.5 3h0m63 23l10.5 3.5m-15.5-3h0m10.5 4l3 1m-120.5-41.5h0m100 36.5l2.5 1m15.5 5.5l3 1m-128.5-44h0m110.5 40h0m3 4h0m-4.5 .5h0m-7.5 0h0m5 2h0m19 7h0m-10.5-1.5h0m-147-51h0m89.5 32.5h0m-91-30.5l2 1m137 49.5h0m10.5 4h0m-60-19.5h0m58 21.5h0m-51.5-14h0m15.5 6h0m16 5.5h0m-36.5-10.5h0m16 5.5l2.5 1m8 3h0m-57.5-18.5h0m5 2h0m39.5 14.5h0m5.5 2h0m5 2h0m-81-27h0m5.5 1.5h0m16 8.5h0m5.5 2l2.5 1m-47-14.5l3 1m42 15.5h0m39.5 14h0m-7.5 0h0m-28.5-7.5h0m23.5 8.5h0m-89-30h0m58 21h0m8 3h0m11 6.5h0m-41.5 0l5 2m-7.5 0h0m5.5 2l5 2m-20.5-5h0m18.5 6.5l5.5 2m-34-9.5h0m5.5 1.5h0m10.5 4h0m-20.5-5l13 5m5 2h0m-4.5 .5h0m-5 1h0m-20.5-5h0m-2.5 1.5h0m-1 2.5h0m33.5 12h0m-30.5-6h0m126.5 61.5h0m-118-40.5h0m110.5 40.5h0m-61.5-15h0m57.5 31h0m-23-3h0m16 5.5h0m-28-5l5 2m.5 2.5h0m19 9.5h0m-20.5-5h0m21 8h0m-115-39.5h0m5 2h0m3.5 6.5l3 1m26.5 12h0m-36-10.5h0m15.5 5.5h0m13 5h0m-23-6h0m81.5 30h0m-62.5-20.5h0m63 23h0m-91.5-31h0m87 32h0m-70.5-23.5h0m10.5 4h0m29 10.5h0m-47-14.5h0m5 2h0m50 18h0m-10-1h0m-7.5 0l3 1m42 15h0m-81-26.5h0m34 12h0m5.5 2h0m42 15.5h0m-35.5-5l2.5 .5m-15-3h0m10.5 4h0m-12.5-2h0m5 2h0m-7.5-.5h0m-44.5-3.5h0m1.5 8.5h0"/><path stroke="#0039ff" d="M148.5 18l5 2m16 6l2.5 1m-28.5-8h0m5.5 2h0m10.5 4l13 4.5m-15.5-3h0m21 7.5h0m-41.5-12.5l3 1m-2.5 2l5.5 2m5 1.5h0m37 13.5h0m5.5 2l2.5 1m-55-17.5l3 1m5 2l2.5 1m5.5 2h0m5 2h0m8 2.5h0m5.5 2l2.5 1m16 6h0m-95.5-24.5h0m13 4.5h0m10.5 4h0m-10-1l2.5 .5m11 7h0m-46.5-14.5h0m107.5 39l3 1m-118-40.5h0m126 46l1.5 .5m-140-45.5h0m124 45l2.5 1m-60-19.5h0m-81-27h0m-2 2h0m-2.5 1.5h0m29 10.5h0m55.5 20.5h0m-57.5-18.5l2.5 1m55.5 20h0m-38.5-9h0m15.5 6h0m24 8.5h0m5 2h0m-70.5-23l2.5 .5m5.5 2h0m13 5l3 1m21 7.5h0m-23.5-6h0m24 9h0m28.5 10.5l3 1m-84-28l3 1m73.5 26.5h0m5 2l3 1m-97-32.5h0m8 2.5h0m-7.5 0h0m-5 1h0m68.5 25h0m.5 2.5h0m.5 2.5h0m-44 15h0m-20-2.5l2.5 1m-10-1h0m5.5 2l5 2m5.5 1.5h0m5 2l5.5 2m-23.5-6l3 1m-5 1h0m5.5 2h0m5.5 4.5h0m111 55.5h0m-15 0h0m-4.5 .5l2.5 1m-7.5 0l5.5 2m13 5h0m-18-4h0m14 7.5h0m5 1.5l4.5 2m-22.5-5.5l3 .5m-7.5 0h0m8 3h0m5 2h0m-12.5-2h0m7.5 2.5h0m-12.5-2h0m5.5 2l2.5 1m-10-1h0m-4 6h0m-2 2h0m-89-30h0m-2 2h0m11 6.5h0m105 38.5h0m-112.5-38.5l5.5 2m23.5 8.5h0m-37.5-11l6.5 2m34 12.5h0m52.5 19h0m-88.5-29.5l2.5 1m-8-.5h0m92.5 33.5h0m-67.5-19h0m71 25.5h0m-49.5-15.5h0m-28-7.5h0m76 27.5h0m-52-16h0m52.5 19h0m-54.5-17.5h0m1 5.5h0m-21 8h0"/><path stroke="#0000ff" d="M92.5 23.5l11 4m-13-2h0m5.5 1.5l13 5m5.5 2l2.5 1m-36.5-11l13 5m13.5 5h0m5 1.5h0m8 3h0m-47-14.5l10.5 4m5.5 2h0m5 1.5l3 1m5 2l3 1m5 2h0m5.5 2l2.5 1m-41.5-12.5l2.5 .5m5 2h0m8 3l16 6m5 1.5l5.5 2m-57.5-18l5.5 1.5m13 5h0m8 3l2.5 1m13 4.5h0m16 6h0m-63-20.5l5.5 2m8 3l29 10.5m5 2l10.5 3.5m5.5 2h0m-65.5-21h0m13.5 4.5l2.5 1m13 5l21 7.5m5.5 2h0m5 2l3 1m-71-23.5l16 6m5.5 2l2.5 1m5 2l10.5 3.5m5.5 2l5 2m5.5 2l2.5 1m8 2.5h0m5 2l3 1m-78.5-26h0m10.5 4h0m5 2h0m11 3.5h0m5 2l10.5 4m8 2.5h0m23.5 9l2.5 1m-85.5-29l4.5 2m18.5 6.5l2.5 1m16 6l29 10.5m5 1.5l5.5 2m-65.5-21l16 5.5m13 5l5.5 2m18.5 6.5l15.5 6m-70.5-23.5l10.5 4m5.5 2l5 2m39.5 14l10.5 4m-84.5-28h0m6 2h0m8 3l5.5 2m55 20l13 4.5m-83.5-27.5l13 4.5m55.5 20l8 3m5 2h0m-78.5-26h0m5.5 2h0m65.5 24l8 3m-15-3.5l10.5 4m-82.5-27.5l1 .5m71.5 26h0m5 2l2.5 1m.5 2.5l5.5 2m-12.5-2l7.5 3m-4.5 .5h0m-73 19.5l3 1m-12-1.5h0m9.5 3.5l5.5 2m-12.5-2l13 4.5m-16-3l6 2m5 2l3 1m-14-2.5h0m4 1l2.5 1m-7 0l2 1m5.5 2l5 2m-7-.5h0m114 47l2.5 1m-4.5 .5h0m8 5.5l3.5 1.5m-16-3.5l2.5 1m-2 2h0m.5 2.5l2.5 1m-18.5 6h0m5.5 2l2.5 1m-10-1h0m10.5 3.5h0m3.5 6.5h0m-12.5-2h0m13 5h0m-15-3l2.5 1m5 1.5h0m8 3h0m-20.5-5h0m5.5 2l15.5 6m-18-4h0m5.5 2l8 2.5m-78.5-26h0m60.5 22l10.5 4m10.5 4l2.5 1m-118-40.5h0m31.5 11.5l5.5 2m60.5 22l8 3m5 1.5h0m-81-27h0m66 24l2.5 1m13 5h0m-83.5-28l8 3m5 2l5.5 1.5m65.5 24h0m-86-28.5h0m21 7.5h0m52.5 19h0m5.5 2l10.5 4m-94.5-32l5.5 2m71 26l11 4m-87-29l2.5 1m16 5.5h0m58 21l3.5 1.5m-66.5-21.5l3 1m-31.5-9l3 1m21 7.5l5 2m-40.5-12h0m12 4.5l13.5 4.5m8 3l2.5 1m-36-10.5h0m10 3.5l5.5 2m5 2l5.5 2m-27.5-7.5l1.5 .5m16 5.5h0m5 2l8 3m5.5 2h0m5 2h0m-40.5-12.5l1.5 .5m16 6h0m5 2l13.5 4.5m5 2h0m-41-12.5h0m20.5 7.5l5 2m8 3h0m5.5 2h0m-40.5-12.5l1.5 .5m21 8l13 4.5m5.5 2h0m-7.5 0l2.5 1m5.5 2h0m-34-10l5.5 2m8 3l2.5 1m10.5 3.5h0m5 2h0m-38.5-11.5l5 2m5.5 2l5 1.5m5.5 2h0m5 2h0m5.5 2h0m-20.5-5h0m13 5h0m-12.5-2.5h0m-5 1l3.5 1.5"/><path stroke="#0000c6" d="M33 32.5h0m23 154h0m-3 11.5h0m-37-.5l2.5 1"/><path stroke="#ff7100" d="M205.5 8.5h0m-156 48h0m100 36l2.5 1m-112.5-38.5h0m8 3h0m97 35.5h0m-107-36.5h0m10.5 4h0m115.5 42l3 1m-2.5 1.5l3 1m-2.5 2l3 1m-77.5-20.5l2.5 1m74.5 32h0m-35.5-8h0m-5 1h0m5.5 2h0m-7.5 0l2.5 .5m5.5 2h0m28.5 10.5l5.5 2m-41.5-12.5l5 2m-18-4h0m45.5 19h0m-25-1.5h0m-4.5 1l7.5 3m-11 18.5h0m.5 3h0m-10-1l2.5 .5m-18-3.5l13 4.5m-25.5-7h0m5 2h0m5.5 2h0m10.5 4h0m5 2l3 1m-34-10h0m10.5 4l3 1m-10-1.5h0m3 4l2.5 1m-17 1.5l5.5 2m5 1.5h0m-7 3l3 1m63 22.5h0m-68-22h0m8 3h0m60.5 22h0m-73-24h0m7.5 3h0m-12.5-2.5h0m10.5 4l8 3m-20.5-5l2.5 1m10.5 4h0m5.5 1.5h0m-10-1h0"/></g>
<use href="#map"/>
</g>
<rect x="0.5" y="0.5" width="234.6" height="214.0" fill="none" stroke="#262626" stroke-width="1"/>
<text x="22.4" y="-21.7" font-size="12.2" font-weight="bold" text-anchor="start" fill="#262626" textLength="24.6" lengthAdjust="spacingAndGlyphs" stroke="#262626" stroke-width="0.22">100</text>
<circle cx="51.6" cy="-34.0" r="1.5" fill="none" stroke="#262626" stroke-width="0.9"/>
<text x="59.2" y="-21.7" font-size="12.2" font-weight="bold" text-anchor="start" fill="#262626" textLength="13.2" lengthAdjust="spacingAndGlyphs" stroke="#262626" stroke-width="0.22">W</text>
<text x="91.4" y="-21.7" font-size="12.2" font-weight="bold" text-anchor="start" fill="#262626" textLength="16.4" lengthAdjust="spacingAndGlyphs" stroke="#262626" stroke-width="0.22">90</text>
<circle cx="112.3" cy="-34.0" r="1.5" fill="none" stroke="#262626" stroke-width="0.9"/>
<text x="120.0" y="-21.7" font-size="12.2" font-weight="bold" text-anchor="start" fill="#262626" textLength="13.2" lengthAdjust="spacingAndGlyphs" stroke="#262626" stroke-width="0.22">W</text>
<text x="155.2" y="-21.7" font-size="12.2" font-weight="bold" text-anchor="start" fill="#262626" textLength="16.4" lengthAdjust="spacingAndGlyphs" stroke="#262626" stroke-width="0.22">80</text>
<circle cx="176.2" cy="-34.0" r="1.5" fill="none" stroke="#262626" stroke-width="0.9"/>
<text x="183.9" y="-21.7" font-size="12.2" font-weight="bold" text-anchor="start" fill="#262626" textLength="13.2" lengthAdjust="spacingAndGlyphs" stroke="#262626" stroke-width="0.22">W</text>
<text x="218.7" y="-21.7" font-size="12.2" font-weight="bold" text-anchor="start" fill="#262626" textLength="16.4" lengthAdjust="spacingAndGlyphs" stroke="#262626" stroke-width="0.22">70</text>
<circle cx="239.7" cy="-34.0" r="1.5" fill="none" stroke="#262626" stroke-width="0.9"/>
<text x="247.4" y="-21.7" font-size="12.2" font-weight="bold" text-anchor="start" fill="#262626" textLength="13.2" lengthAdjust="spacingAndGlyphs" stroke="#262626" stroke-width="0.22">W</text>
<text x="-49.6" y="17.2" font-size="12.2" font-weight="bold" text-anchor="start" fill="#262626" textLength="16.9" lengthAdjust="spacingAndGlyphs" stroke="#262626" stroke-width="0.22">48</text>
<circle cx="-28.2" cy="3.1" r="1.5" fill="none" stroke="#262626" stroke-width="0.9"/>
<text x="-20.5" y="17.2" font-size="12.2" font-weight="bold" text-anchor="start" fill="#262626" textLength="9.4" lengthAdjust="spacingAndGlyphs" stroke="#262626" stroke-width="0.22">N</text>
<text x="-49.6" y="34.6" font-size="12.2" font-weight="bold" text-anchor="start" fill="#262626" textLength="16.9" lengthAdjust="spacingAndGlyphs" stroke="#262626" stroke-width="0.22">46</text>
<circle cx="-28.2" cy="20.5" r="1.5" fill="none" stroke="#262626" stroke-width="0.9"/>
<text x="-20.5" y="34.6" font-size="12.2" font-weight="bold" text-anchor="start" fill="#262626" textLength="9.4" lengthAdjust="spacingAndGlyphs" stroke="#262626" stroke-width="0.22">N</text>
<text x="-49.6" y="51.9" font-size="12.2" font-weight="bold" text-anchor="start" fill="#262626" textLength="16.9" lengthAdjust="spacingAndGlyphs" stroke="#262626" stroke-width="0.22">44</text>
<circle cx="-28.2" cy="37.8" r="1.5" fill="none" stroke="#262626" stroke-width="0.9"/>
<text x="-20.5" y="51.9" font-size="12.2" font-weight="bold" text-anchor="start" fill="#262626" textLength="9.4" lengthAdjust="spacingAndGlyphs" stroke="#262626" stroke-width="0.22">N</text>
<text x="-49.6" y="70.7" font-size="12.2" font-weight="bold" text-anchor="start" fill="#262626" textLength="16.9" lengthAdjust="spacingAndGlyphs" stroke="#262626" stroke-width="0.22">42</text>
<circle cx="-28.2" cy="56.6" r="1.5" fill="none" stroke="#262626" stroke-width="0.9"/>
<text x="-20.5" y="70.7" font-size="12.2" font-weight="bold" text-anchor="start" fill="#262626" textLength="9.4" lengthAdjust="spacingAndGlyphs" stroke="#262626" stroke-width="0.22">N</text>
<text x="-49.6" y="87.1" font-size="12.2" font-weight="bold" text-anchor="start" fill="#262626" textLength="16.9" lengthAdjust="spacingAndGlyphs" stroke="#262626" stroke-width="0.22">40</text>
<circle cx="-28.2" cy="73.0" r="1.5" fill="none" stroke="#262626" stroke-width="0.9"/>
<text x="-20.5" y="87.1" font-size="12.2" font-weight="bold" text-anchor="start" fill="#262626" textLength="9.4" lengthAdjust="spacingAndGlyphs" stroke="#262626" stroke-width="0.22">N</text>
<text x="-49.6" y="101.8" font-size="12.2" font-weight="bold" text-anchor="start" fill="#262626" textLength="16.9" lengthAdjust="spacingAndGlyphs" stroke="#262626" stroke-width="0.22">38</text>
<circle cx="-28.2" cy="87.7" r="1.5" fill="none" stroke="#262626" stroke-width="0.9"/>
<text x="-20.5" y="101.8" font-size="12.2" font-weight="bold" text-anchor="start" fill="#262626" textLength="9.4" lengthAdjust="spacingAndGlyphs" stroke="#262626" stroke-width="0.22">N</text>
<text x="-49.6" y="119.2" font-size="12.2" font-weight="bold" text-anchor="start" fill="#262626" textLength="16.9" lengthAdjust="spacingAndGlyphs" stroke="#262626" stroke-width="0.22">36</text>
<circle cx="-28.2" cy="105.1" r="1.5" fill="none" stroke="#262626" stroke-width="0.9"/>
<text x="-20.5" y="119.2" font-size="12.2" font-weight="bold" text-anchor="start" fill="#262626" textLength="9.4" lengthAdjust="spacingAndGlyphs" stroke="#262626" stroke-width="0.22">N</text>
<text x="-49.6" y="133.8" font-size="12.2" font-weight="bold" text-anchor="start" fill="#262626" textLength="16.9" lengthAdjust="spacingAndGlyphs" stroke="#262626" stroke-width="0.22">34</text>
<circle cx="-28.2" cy="119.7" r="1.5" fill="none" stroke="#262626" stroke-width="0.9"/>
<text x="-20.5" y="133.8" font-size="12.2" font-weight="bold" text-anchor="start" fill="#262626" textLength="9.4" lengthAdjust="spacingAndGlyphs" stroke="#262626" stroke-width="0.22">N</text>
<text x="-49.6" y="150.4" font-size="12.2" font-weight="bold" text-anchor="start" fill="#262626" textLength="16.9" lengthAdjust="spacingAndGlyphs" stroke="#262626" stroke-width="0.22">32</text>
<circle cx="-28.2" cy="136.3" r="1.5" fill="none" stroke="#262626" stroke-width="0.9"/>
<text x="-20.5" y="150.4" font-size="12.2" font-weight="bold" text-anchor="start" fill="#262626" textLength="9.4" lengthAdjust="spacingAndGlyphs" stroke="#262626" stroke-width="0.22">N</text>
<text x="-49.6" y="165.1" font-size="12.2" font-weight="bold" text-anchor="start" fill="#262626" textLength="16.9" lengthAdjust="spacingAndGlyphs" stroke="#262626" stroke-width="0.22">30</text>
<circle cx="-28.2" cy="151.0" r="1.5" fill="none" stroke="#262626" stroke-width="0.9"/>
<text x="-20.5" y="165.1" font-size="12.2" font-weight="bold" text-anchor="start" fill="#262626" textLength="9.4" lengthAdjust="spacingAndGlyphs" stroke="#262626" stroke-width="0.22">N</text>
<text x="-49.6" y="177.8" font-size="12.2" font-weight="bold" text-anchor="start" fill="#262626" textLength="16.9" lengthAdjust="spacingAndGlyphs" stroke="#262626" stroke-width="0.22">28</text>
<circle cx="-28.2" cy="163.7" r="1.5" fill="none" stroke="#262626" stroke-width="0.9"/>
<text x="-20.5" y="177.8" font-size="12.2" font-weight="bold" text-anchor="start" fill="#262626" textLength="9.4" lengthAdjust="spacingAndGlyphs" stroke="#262626" stroke-width="0.22">N</text>
<text x="-49.6" y="193.0" font-size="12.2" font-weight="bold" text-anchor="start" fill="#262626" textLength="16.9" lengthAdjust="spacingAndGlyphs" stroke="#262626" stroke-width="0.22">26</text>
<circle cx="-28.2" cy="178.9" r="1.5" fill="none" stroke="#262626" stroke-width="0.9"/>
<text x="-20.5" y="193.0" font-size="12.2" font-weight="bold" text-anchor="start" fill="#262626" textLength="9.4" lengthAdjust="spacingAndGlyphs" stroke="#262626" stroke-width="0.22">N</text>
<text x="-49.6" y="207.1" font-size="12.2" font-weight="bold" text-anchor="start" fill="#262626" textLength="16.9" lengthAdjust="spacingAndGlyphs" stroke="#262626" stroke-width="0.22">24</text>
<circle cx="-28.2" cy="193.0" r="1.5" fill="none" stroke="#262626" stroke-width="0.9"/>
<text x="-20.5" y="207.1" font-size="12.2" font-weight="bold" text-anchor="start" fill="#262626" textLength="9.4" lengthAdjust="spacingAndGlyphs" stroke="#262626" stroke-width="0.22">N</text>
<text x="-49.6" y="220.2" font-size="12.2" font-weight="bold" text-anchor="start" fill="#262626" textLength="16.9" lengthAdjust="spacingAndGlyphs" stroke="#262626" stroke-width="0.22">22</text>
<circle cx="-28.2" cy="206.1" r="1.5" fill="none" stroke="#262626" stroke-width="0.9"/>
<text x="-20.5" y="220.2" font-size="12.2" font-weight="bold" text-anchor="start" fill="#262626" textLength="9.4" lengthAdjust="spacingAndGlyphs" stroke="#262626" stroke-width="0.22">N</text>
<rect x="247.9" y="-1.5" width="24" height="217.0" fill="url(#jet)" stroke="#262626" stroke-width="0.8"/>
<path d="M271.9 107.5h-4" stroke="#262626" stroke-width="1"/>
<text x="281.4" y="7.0" font-size="21.0" font-weight="bold" text-anchor="start" fill="#262626" textLength="41.5" lengthAdjust="spacingAndGlyphs" stroke="#262626" stroke-width="0.38">100</text>
<text x="281.4" y="114.5" font-size="21.0" font-weight="bold" text-anchor="start" fill="#262626" textLength="26.8" lengthAdjust="spacingAndGlyphs" stroke="#262626" stroke-width="0.38">50</text>
<text x="281.4" y="221.6" font-size="21.0" font-weight="bold" text-anchor="start" fill="#262626" textLength="12.2" lengthAdjust="spacingAndGlyphs" stroke="#262626" stroke-width="0.38">0</text>
<text x="-53.8" y="245.8" font-size="21.3" font-weight="bold" text-anchor="start" fill="#262626" textLength="333.0" lengthAdjust="spacingAndGlyphs" stroke="#262626" stroke-width="0.38">SAT 400 hPa RH (Percent)</text>
</g>
</svg></body></html>
